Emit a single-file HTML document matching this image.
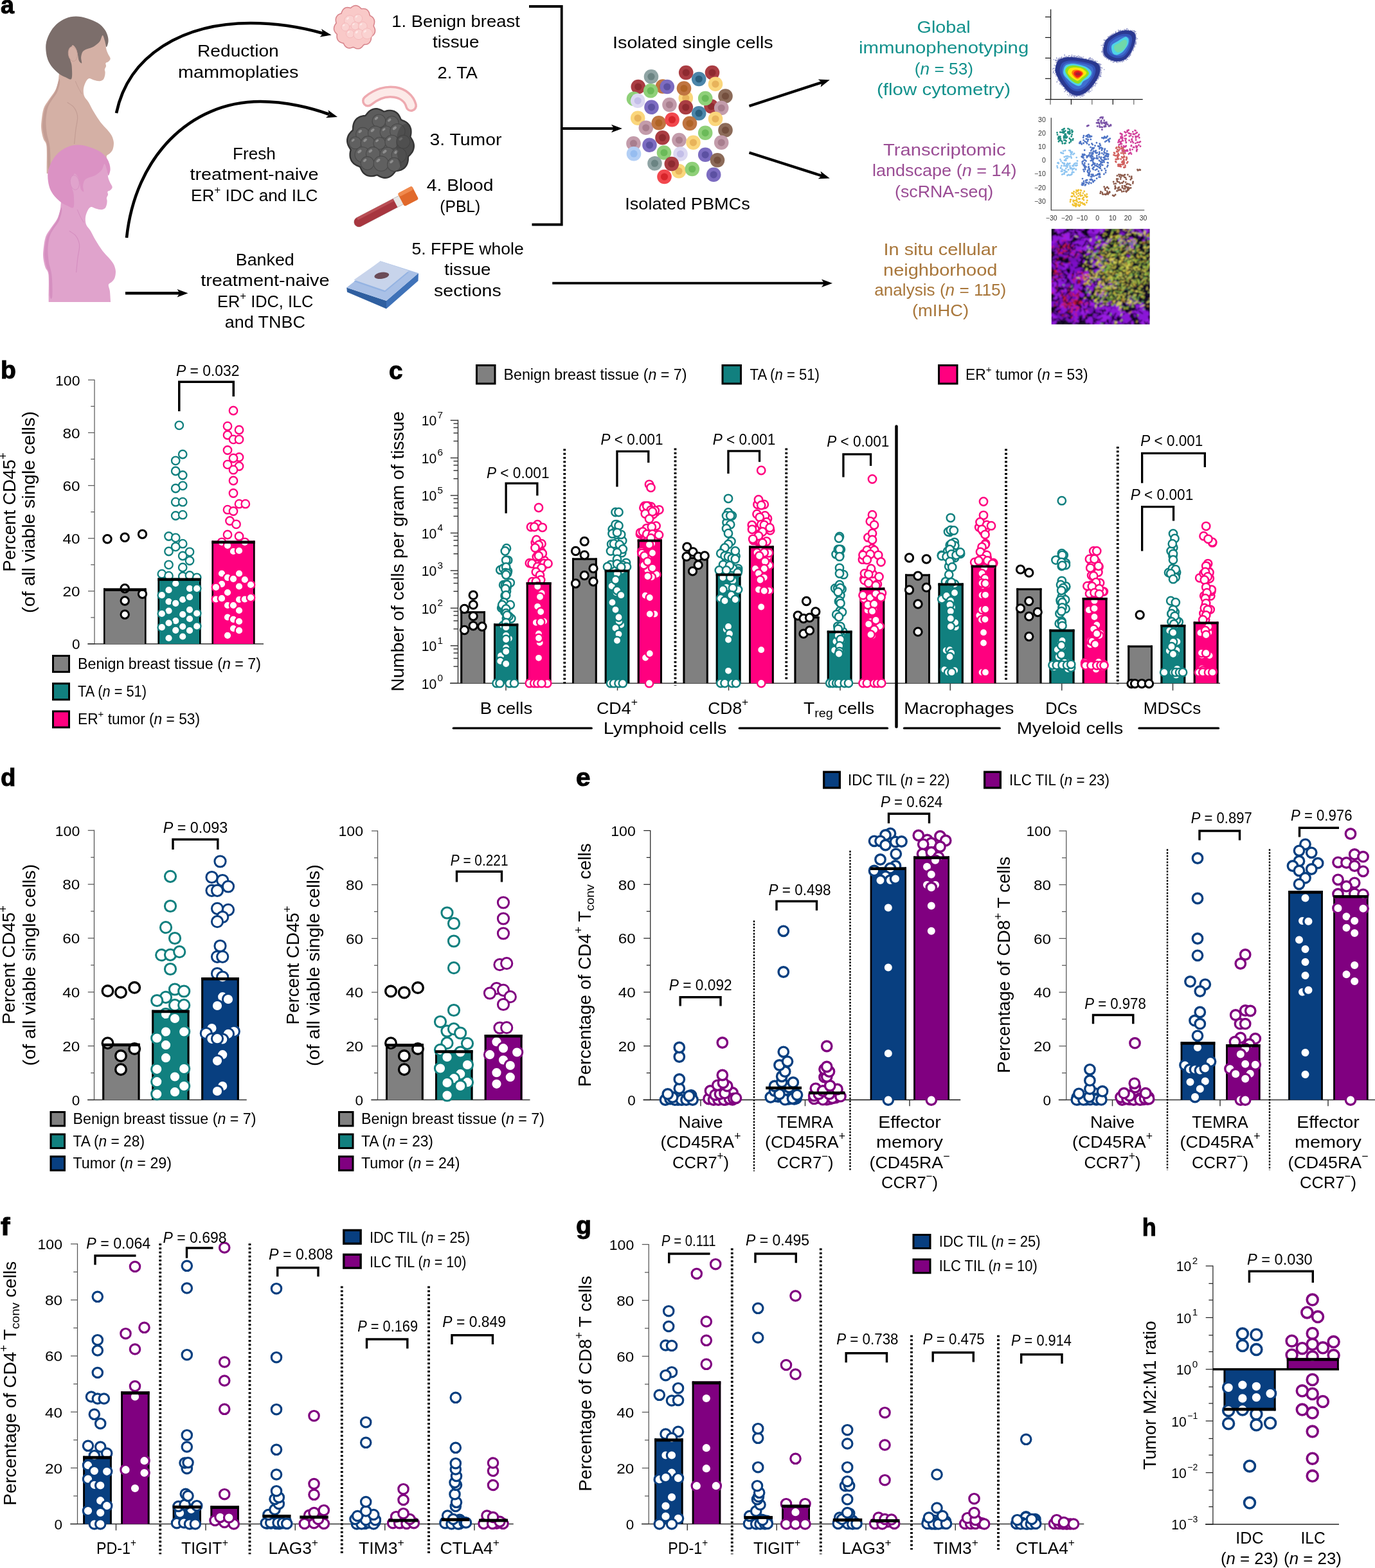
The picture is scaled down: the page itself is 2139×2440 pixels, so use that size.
<!DOCTYPE html>
<html lang="en"><head><meta charset="utf-8"><title>Figure</title>
<style>
html,body{margin:0;padding:0;background:#fff;}
body{width:2139px;height:2440px;overflow:hidden;}
svg{display:block;font-family:"Liberation Sans", sans-serif;}
svg text{white-space:pre;}
</style></head><body>
<svg width="2139" height="2440" viewBox="0 0 2139 2440">
<rect width="2139" height="2440" fill="#fff"/>
<g id="panel_a">
<text x="1" y="20.5" font-size="39" textLength="21" lengthAdjust="spacingAndGlyphs" font-weight="bold" stroke="#000" stroke-width="1">a</text>
<clipPath id="wc0"><rect x="0" y="0" width="260" height="270"/></clipPath>
<g transform="translate(0 0)" clip-path="url(#wc0)">
<path d="M159.6 54.9C167.0 57.8 163.2 63.3 164.2 66.8C165.1 70.3 164.5 73.1 165.2 76.1C165.9 79.0 167.3 82.1 168.4 84.6C169.5 87.2 171.7 89.3 171.7 91.2C171.7 93.2 169.6 95.0 168.4 96.1C167.2 97.3 165.0 97.1 164.4 98.2C163.9 99.4 165.2 101.5 165.0 103.1C164.7 104.8 163.1 106.5 162.9 108.0C162.6 109.6 163.6 110.6 163.6 112.4C163.6 114.1 163.4 116.7 162.9 118.6C162.3 120.5 161.8 122.6 160.5 123.9C159.1 125.1 157.1 126.2 154.7 126.2C152.2 126.3 148.5 125.1 145.7 124.4C142.9 123.7 140.2 121.4 138.0 122.3C135.8 123.1 133.8 126.6 132.5 129.6C131.1 132.5 130.0 136.7 129.8 140.1C129.7 143.6 130.0 147.1 131.4 150.3C132.8 153.5 135.6 155.6 138.0 159.5C140.4 163.5 142.6 168.7 145.7 173.8C148.7 178.9 152.7 185.3 156.2 189.9C159.8 194.6 163.9 198.3 166.8 201.8C169.7 205.3 172.0 207.8 173.7 211.1C175.4 214.4 176.5 218.1 176.9 221.6C177.2 225.1 176.5 229.3 175.5 232.2C174.5 235.1 172.4 237.0 170.8 238.8C169.2 240.6 166.2 240.8 165.8 243.2C165.3 245.5 167.3 248.1 167.9 253.1C168.4 258.0 169.0 269.1 169.2 272.9C169.4 276.6 169.2 268.5 169.2 275.5C169.2 282.6 185.2 308.5 169.2 315.2C153.2 321.8 89.1 321.8 73.0 315.2C57.0 308.5 72.8 284.5 72.8 275.5C72.7 266.5 72.7 269.0 72.6 261.0C72.6 253.0 73.2 234.8 72.4 227.3C71.5 219.8 68.8 220.4 67.5 216.1C66.1 211.8 64.8 206.3 64.3 201.5C63.8 196.8 64.0 193.2 64.6 187.7C65.2 182.2 66.1 173.9 68.0 168.5C69.9 163.1 73.1 159.7 75.9 155.3C78.8 150.9 82.8 146.5 85.2 142.1C87.6 137.7 89.1 133.3 90.2 128.9C91.3 124.5 90.9 124.5 91.8 115.7C92.7 106.9 90.9 87.1 95.5 76.1C100.1 65.0 108.6 53.2 119.3 49.6C129.9 46.1 152.1 52.1 159.6 54.9Z" fill="#d4b0a5" />
<path d="M91.8 123.6C90.6 125.8 88.7 136.6 86.2 142.1C83.8 147.6 79.7 152.0 77.0 156.6C74.2 161.3 71.5 164.6 69.7 169.8C68.0 175.1 67.0 183.1 66.4 188.3C65.9 193.6 65.9 196.9 66.4 201.5C67.0 206.2 68.6 211.9 69.7 216.1C70.9 220.3 72.5 219.2 73.3 226.6C74.1 234.1 73.8 255.3 74.6 261.0C75.4 266.7 77.8 266.3 78.3 261.0C78.8 255.7 78.5 238.1 77.6 229.3C76.8 220.5 74.1 215.0 73.0 208.2C72.0 201.3 71.3 194.9 71.4 188.3C71.6 181.7 72.5 174.0 74.1 168.5C75.7 163.0 78.5 159.5 81.0 155.3C83.4 151.1 86.9 147.8 88.9 143.4C90.9 139.0 92.6 132.2 93.1 128.9C93.6 125.6 92.9 121.4 91.8 123.6Z" fill="#c39d94" />
<path d="M104.7 159.3C106.3 160.4 111.6 163.2 114.0 165.9C116.4 168.5 118.2 172.0 119.3 175.1C120.4 178.2 120.8 180.0 120.6 184.4C120.4 188.8 118.8 194.9 117.9 201.5C117.1 208.2 116.0 220.3 115.6 224.0" fill="none" stroke="#c39d94" stroke-width="1.2" />
<path d="M117.3 126.2C118.0 128.0 120.3 133.5 121.9 136.8C123.6 140.1 126.3 144.5 127.2 146.1" fill="none" stroke="#c39d94" stroke-width="1" />
<path d="M111.3 122.5C109.7 125.5 105.4 121.6 102.1 120.3C98.8 119.0 95.3 117.6 91.5 114.6C87.8 111.7 82.7 106.7 79.6 102.5C76.6 98.2 74.7 94.8 73.3 89.3C71.9 83.8 70.8 75.6 71.4 69.4C72.1 63.3 74.3 57.5 77.0 52.3C79.7 47.0 83.4 41.9 87.6 38.0C91.7 34.1 97.0 30.8 102.1 28.8C107.2 26.7 112.4 25.6 117.9 25.6C123.4 25.5 129.4 26.8 135.1 28.5C140.8 30.2 147.7 32.9 152.3 35.8C156.9 38.7 160.3 42.5 162.9 45.9C165.4 49.3 166.7 53.0 167.6 56.2C168.5 59.5 168.8 62.7 168.4 65.5C168.0 68.3 166.4 73.5 165.5 73.1C164.6 72.8 164.1 66.5 163.1 63.5C162.1 60.5 160.9 54.8 159.6 54.9C158.2 55.1 157.5 61.5 155.2 64.4C152.9 67.3 149.0 70.4 145.7 72.4C142.4 74.3 138.2 75.0 135.4 76.3C132.6 77.6 130.3 78.1 128.8 80.3C127.2 82.4 126.4 86.3 126.1 89.3C125.9 92.3 127.7 97.3 127.2 98.2C126.7 99.2 124.0 97.1 123.0 94.8C121.9 92.5 121.7 87.5 120.8 84.2C120.0 80.9 119.4 77.2 117.9 75.0C116.5 72.8 113.5 68.7 112.0 71.0C110.5 73.4 108.8 84.0 108.7 89.3C108.6 94.5 111.2 96.9 111.6 102.5C112.0 108.0 112.9 119.6 111.3 122.5Z" fill="#7c6e6b" />
<ellipse cx="113.3" cy="84.0" rx="7" ry="11.5" fill="#d4b0a5" stroke="#c39d94" stroke-width="0.8" transform="rotate(-8 113.3 84.0)"/>
</g>
<clipPath id="wc200"><rect x="0" y="0" width="260" height="270"/></clipPath>
<g transform="translate(3 200)" clip-path="url(#wc200)">
<path d="M159.6 54.9C167.0 57.8 163.2 63.3 164.2 66.8C165.1 70.3 164.5 73.1 165.2 76.1C165.9 79.0 167.3 82.1 168.4 84.6C169.5 87.2 171.7 89.3 171.7 91.2C171.7 93.2 169.6 95.0 168.4 96.1C167.2 97.3 165.0 97.1 164.4 98.2C163.9 99.4 165.2 101.5 165.0 103.1C164.7 104.8 163.1 106.5 162.9 108.0C162.6 109.6 163.6 110.6 163.6 112.4C163.6 114.1 163.4 116.7 162.9 118.6C162.3 120.5 161.8 122.6 160.5 123.9C159.1 125.1 157.1 126.2 154.7 126.2C152.2 126.3 148.5 125.1 145.7 124.4C142.9 123.7 140.2 121.4 138.0 122.3C135.8 123.1 133.8 126.6 132.5 129.6C131.1 132.5 130.0 136.7 129.8 140.1C129.7 143.6 130.0 147.1 131.4 150.3C132.8 153.5 135.6 155.6 138.0 159.5C140.4 163.5 142.6 168.7 145.7 173.8C148.7 178.9 152.7 185.3 156.2 189.9C159.8 194.6 163.9 198.3 166.8 201.8C169.7 205.3 172.0 207.8 173.7 211.1C175.4 214.4 176.5 218.1 176.9 221.6C177.2 225.1 176.5 229.3 175.5 232.2C174.5 235.1 172.4 237.0 170.8 238.8C169.2 240.6 166.2 240.8 165.8 243.2C165.3 245.5 167.3 248.1 167.9 253.1C168.4 258.0 169.0 269.1 169.2 272.9C169.4 276.6 169.2 268.5 169.2 275.5C169.2 282.6 185.2 308.5 169.2 315.2C153.2 321.8 89.1 321.8 73.0 315.2C57.0 308.5 72.8 284.5 72.8 275.5C72.7 266.5 72.7 269.0 72.6 261.0C72.6 253.0 73.2 234.8 72.4 227.3C71.5 219.8 68.8 220.4 67.5 216.1C66.1 211.8 64.8 206.3 64.3 201.5C63.8 196.8 64.0 193.2 64.6 187.7C65.2 182.2 66.1 173.9 68.0 168.5C69.9 163.1 73.1 159.7 75.9 155.3C78.8 150.9 82.8 146.5 85.2 142.1C87.6 137.7 89.1 133.3 90.2 128.9C91.3 124.5 90.9 124.5 91.8 115.7C92.7 106.9 90.9 87.1 95.5 76.1C100.1 65.0 108.6 53.2 119.3 49.6C129.9 46.1 152.1 52.1 159.6 54.9Z" fill="#e0a3cc" />
<path d="M91.8 123.6C90.6 125.8 88.7 136.6 86.2 142.1C83.8 147.6 79.7 152.0 77.0 156.6C74.2 161.3 71.5 164.6 69.7 169.8C68.0 175.1 67.0 183.1 66.4 188.3C65.9 193.6 65.9 196.9 66.4 201.5C67.0 206.2 68.6 211.9 69.7 216.1C70.9 220.3 72.5 219.2 73.3 226.6C74.1 234.1 73.8 255.3 74.6 261.0C75.4 266.7 77.8 266.3 78.3 261.0C78.8 255.7 78.5 238.1 77.6 229.3C76.8 220.5 74.1 215.0 73.0 208.2C72.0 201.3 71.3 194.9 71.4 188.3C71.6 181.7 72.5 174.0 74.1 168.5C75.7 163.0 78.5 159.5 81.0 155.3C83.4 151.1 86.9 147.8 88.9 143.4C90.9 139.0 92.6 132.2 93.1 128.9C93.6 125.6 92.9 121.4 91.8 123.6Z" fill="#d58fc0" />
<path d="M104.7 159.3C106.3 160.4 111.6 163.2 114.0 165.9C116.4 168.5 118.2 172.0 119.3 175.1C120.4 178.2 120.8 180.0 120.6 184.4C120.4 188.8 118.8 194.9 117.9 201.5C117.1 208.2 116.0 220.3 115.6 224.0" fill="none" stroke="#d58fc0" stroke-width="1.2" />
<path d="M117.3 126.2C118.0 128.0 120.3 133.5 121.9 136.8C123.6 140.1 126.3 144.5 127.2 146.1" fill="none" stroke="#d58fc0" stroke-width="1" />
<path d="M111.3 122.5C109.7 125.5 105.4 121.6 102.1 120.3C98.8 119.0 95.3 117.6 91.5 114.6C87.8 111.7 82.7 106.7 79.6 102.5C76.6 98.2 74.7 94.8 73.3 89.3C71.9 83.8 70.8 75.6 71.4 69.4C72.1 63.3 74.3 57.5 77.0 52.3C79.7 47.0 83.4 41.9 87.6 38.0C91.7 34.1 97.0 30.8 102.1 28.8C107.2 26.7 112.4 25.6 117.9 25.6C123.4 25.5 129.4 26.8 135.1 28.5C140.8 30.2 147.7 32.9 152.3 35.8C156.9 38.7 160.3 42.5 162.9 45.9C165.4 49.3 166.7 53.0 167.6 56.2C168.5 59.5 168.8 62.7 168.4 65.5C168.0 68.3 166.4 73.5 165.5 73.1C164.6 72.8 164.1 66.5 163.1 63.5C162.1 60.5 160.9 54.8 159.6 54.9C158.2 55.1 157.5 61.5 155.2 64.4C152.9 67.3 149.0 70.4 145.7 72.4C142.4 74.3 138.2 75.0 135.4 76.3C132.6 77.6 130.3 78.1 128.8 80.3C127.2 82.4 126.4 86.3 126.1 89.3C125.9 92.3 127.7 97.3 127.2 98.2C126.7 99.2 124.0 97.1 123.0 94.8C121.9 92.5 121.7 87.5 120.8 84.2C120.0 80.9 119.4 77.2 117.9 75.0C116.5 72.8 113.5 68.7 112.0 71.0C110.5 73.4 108.8 84.0 108.7 89.3C108.6 94.5 111.2 96.9 111.6 102.5C112.0 108.0 112.9 119.6 111.3 122.5Z" fill="#db92c4" />
<ellipse cx="113.3" cy="84.0" rx="7" ry="11.5" fill="#e0a3cc" stroke="#d58fc0" stroke-width="0.8" transform="rotate(-8 113.3 84.0)"/>
</g>
<path d="M181 176C200 85 285 36 390 36C435 36 475 44 503 52" fill="none" stroke="#000" stroke-width="4.6"/>
<polygon points="515.5,54.5 500.0,45.1 502.7,52.0 497.6,57.4" fill="#000"/>
<path d="M197 370C210 245 295 158 405 158C445 158 485 168 512 178" fill="none" stroke="#000" stroke-width="4.6"/>
<polygon points="525.0,182.0 510.4,171.3 512.5,178.4 506.9,183.3" fill="#000"/>
<line x1="195" y1="456.3" x2="280" y2="456.3" stroke="#000" stroke-width="4.6" stroke-linecap="butt"/>
<polygon points="292.5,456.3 275.5,450.1 279.5,456.3 275.5,462.6" fill="#000"/>
<text x="307" y="87.5" font-size="25.5" textLength="126.75" lengthAdjust="spacingAndGlyphs" >Reduction</text>
<text x="277" y="120.75" font-size="25.5" textLength="187.5" lengthAdjust="spacingAndGlyphs" >mammoplaties</text>
<text x="362" y="247.5" font-size="25.5" textLength="66.75" lengthAdjust="spacingAndGlyphs" >Fresh</text>
<text x="295.5" y="280" font-size="25.5" textLength="200" lengthAdjust="spacingAndGlyphs" >treatment-naive</text>
<text x="297" y="312.5" font-size="25.5" textLength="197.3" lengthAdjust="spacingAndGlyphs" >ER<tspan dy="-11.98" font-size="16.83">+</tspan><tspan dy="11.98"> IDC and ILC</tspan></text>
<text x="366.8" y="412.5" font-size="25.5" textLength="91" lengthAdjust="spacingAndGlyphs" >Banked</text>
<text x="312.2" y="445" font-size="25.5" textLength="200.3" lengthAdjust="spacingAndGlyphs" >treatment-naive</text>
<text x="338.1" y="477.5" font-size="25.5" textLength="149.3" lengthAdjust="spacingAndGlyphs" >ER<tspan dy="-11.98" font-size="16.83">+</tspan><tspan dy="11.98"> IDC, ILC</tspan></text>
<text x="349.7" y="510" font-size="25.5" textLength="125.2" lengthAdjust="spacingAndGlyphs" >and TNBC</text>
<path d="M582.2 42.5L582.9 44.2L583.4 46.0L583.5 47.8L583.4 49.6L582.9 51.2L582.1 52.8L581.0 54.3L579.7 55.5L578.2 56.6L577.5 58.1L577.4 59.9L577.1 61.8L576.5 63.5L575.7 65.1L574.6 66.5L573.3 67.6L571.8 68.4L570.1 69.0L568.4 69.3L566.6 69.4L565.3 70.3L564.2 71.8L563.0 73.2L561.6 74.3L560.1 75.2L558.5 75.7L556.8 75.8L555.1 75.7L553.4 75.2L551.8 74.4L550.2 73.5L548.6 73.6L547.0 74.3L545.2 74.7L543.5 74.9L541.8 74.7L540.2 74.2L538.7 73.3L537.3 72.2L536.2 70.8L535.2 69.2L534.4 67.5L532.9 66.9L531.2 66.5L529.5 65.8L528.0 64.9L526.7 63.8L525.6 62.4L524.8 60.8L524.3 59.1L524.1 57.3L524.1 55.4L524.3 53.5L523.2 52.2L522.0 50.9L520.9 49.4L520.1 47.8L519.6 46.0L519.5 44.3L519.7 42.5L520.2 40.8L520.9 39.1L521.9 37.5L523.1 36.1L522.7 34.3L522.4 32.5L522.3 30.6L522.5 28.8L523.0 27.1L523.8 25.6L524.9 24.2L526.2 23.0L527.7 22.1L529.4 21.4L531.0 20.8L531.6 19.0L532.3 17.3L533.2 15.7L534.3 14.3L535.6 13.2L537.1 12.3L538.7 11.8L540.4 11.6L542.2 11.7L544.0 12.1L545.6 12.4L547.0 11.2L548.5 10.1L550.1 9.3L551.8 8.8L553.4 8.6L555.1 8.8L556.8 9.4L558.3 10.2L559.7 11.3L561.0 12.6L562.3 13.7L564.1 13.5L565.9 13.5L567.6 13.7L569.3 14.2L570.8 15.1L572.1 16.2L573.1 17.6L574.0 19.2L574.6 21.0L575.0 22.8L575.6 24.3L577.2 25.1L578.7 26.2L580.1 27.4L581.1 28.8L581.9 30.3L582.4 32.0L582.6 33.8L582.4 35.7L582.0 37.5L581.4 39.2L581.3 40.9Z" fill="#f9c9c8" stroke="#d8858c" stroke-width="1.6" />
<circle cx="544.0" cy="32.2" r="8.4" fill="#fad2d1" stroke="#f2b4b6" stroke-width="0.8"/><ellipse cx="540.9" cy="28.7" rx="2.5" ry="1.4" fill="#fde9e8" transform="rotate(-40 540.9 28.7)"/><circle cx="557.0" cy="28.7" r="6.6" fill="#fad2d1" stroke="#f2b4b6" stroke-width="0.8"/><ellipse cx="554.5" cy="25.9" rx="2.0" ry="1.1" fill="#fde9e8" transform="rotate(-40 554.5 25.9)"/><circle cx="537.2" cy="42.0" r="6.3" fill="#fad2d1" stroke="#f2b4b6" stroke-width="0.8"/><ellipse cx="534.8" cy="39.4" rx="1.9" ry="1.1" fill="#fde9e8" transform="rotate(-40 534.8 39.4)"/><circle cx="552.4" cy="40.3" r="6.2" fill="#fad2d1" stroke="#f2b4b6" stroke-width="0.8"/><ellipse cx="550.1" cy="37.7" rx="1.9" ry="1.0" fill="#fde9e8" transform="rotate(-40 550.1 37.7)"/><circle cx="564.3" cy="40.8" r="6.9" fill="#fad2d1" stroke="#f2b4b6" stroke-width="0.8"/><ellipse cx="561.7" cy="37.9" rx="2.1" ry="1.2" fill="#fde9e8" transform="rotate(-40 561.7 37.9)"/><circle cx="544.7" cy="52.6" r="6.3" fill="#fad2d1" stroke="#f2b4b6" stroke-width="0.8"/><ellipse cx="542.3" cy="50.0" rx="1.9" ry="1.1" fill="#fde9e8" transform="rotate(-40 542.3 50.0)"/><circle cx="558.0" cy="53.5" r="8.1" fill="#fad2d1" stroke="#f2b4b6" stroke-width="0.8"/><ellipse cx="554.9" cy="50.1" rx="2.4" ry="1.4" fill="#fde9e8" transform="rotate(-40 554.9 50.1)"/><circle cx="571.1" cy="52.3" r="8.4" fill="#fad2d1" stroke="#f2b4b6" stroke-width="0.8"/><ellipse cx="567.9" cy="48.8" rx="2.5" ry="1.4" fill="#fde9e8" transform="rotate(-40 567.9 48.8)"/>
<path d="M572.5 157C600 133.5 634 142 639.5 164.5" fill="none" stroke="#eeaab0" stroke-width="19" stroke-linecap="round"/>
<path d="M572.5 157C600 133.5 634 142 639.5 164.5" fill="none" stroke="#fceae8" stroke-width="12" stroke-linecap="round"/>
<clipPath id="tc"><path d="M643.3 223.0L643.8 225.8L643.8 228.7L643.3 231.5L642.4 234.2L641.1 236.8L639.4 239.1L637.4 241.3L635.3 243.2L634.9 245.9L634.8 248.9L634.3 251.8L633.5 254.6L632.3 257.2L630.7 259.5L628.7 261.5L626.5 263.1L624.0 264.4L621.3 265.2L618.5 265.8L615.7 266.0L613.9 268.0L612.1 270.3L610.1 272.4L607.9 274.1L605.4 275.5L602.8 276.4L600.1 276.8L597.4 276.7L594.7 276.2L592.0 275.2L589.5 273.9L587.1 272.4L584.5 272.9L581.7 273.7L578.9 274.1L576.1 274.1L573.4 273.7L570.8 272.9L568.4 271.5L566.2 269.8L564.3 267.7L562.7 265.2L561.4 262.6L560.3 259.9L557.9 258.7L555.3 257.7L552.8 256.3L550.5 254.6L548.5 252.6L546.9 250.3L545.7 247.7L544.9 245.0L544.6 242.1L544.6 239.1L545.0 236.2L545.7 233.3L544.4 230.9L542.9 228.4L541.6 225.8L540.7 223.0L540.2 220.2L540.2 217.3L540.7 214.5L541.6 211.8L542.9 209.2L544.6 206.9L546.6 204.7L548.7 202.8L549.1 200.1L549.2 197.1L549.7 194.2L550.5 191.4L551.7 188.8L553.3 186.5L555.3 184.5L557.5 182.9L560.0 181.6L562.7 180.8L565.5 180.2L568.3 180.0L570.1 178.0L571.9 175.7L573.9 173.6L576.1 171.9L578.6 170.5L581.2 169.6L583.9 169.2L586.6 169.3L589.3 169.8L592.0 170.8L594.5 172.1L596.9 173.6L599.5 173.1L602.3 172.3L605.1 171.9L607.9 171.9L610.6 172.3L613.2 173.1L615.6 174.5L617.8 176.2L619.7 178.3L621.3 180.8L622.6 183.4L623.7 186.1L626.1 187.3L628.7 188.3L631.2 189.7L633.5 191.4L635.5 193.4L637.1 195.7L638.3 198.3L639.1 201.0L639.4 203.9L639.4 206.9L639.0 209.8L638.3 212.7L639.6 215.1L641.1 217.6L642.4 220.2Z"/></clipPath>
<path d="M643.3 223.0L643.8 225.8L643.8 228.7L643.3 231.5L642.4 234.2L641.1 236.8L639.4 239.1L637.4 241.3L635.3 243.2L634.9 245.9L634.8 248.9L634.3 251.8L633.5 254.6L632.3 257.2L630.7 259.5L628.7 261.5L626.5 263.1L624.0 264.4L621.3 265.2L618.5 265.8L615.7 266.0L613.9 268.0L612.1 270.3L610.1 272.4L607.9 274.1L605.4 275.5L602.8 276.4L600.1 276.8L597.4 276.7L594.7 276.2L592.0 275.2L589.5 273.9L587.1 272.4L584.5 272.9L581.7 273.7L578.9 274.1L576.1 274.1L573.4 273.7L570.8 272.9L568.4 271.5L566.2 269.8L564.3 267.7L562.7 265.2L561.4 262.6L560.3 259.9L557.9 258.7L555.3 257.7L552.8 256.3L550.5 254.6L548.5 252.6L546.9 250.3L545.7 247.7L544.9 245.0L544.6 242.1L544.6 239.1L545.0 236.2L545.7 233.3L544.4 230.9L542.9 228.4L541.6 225.8L540.7 223.0L540.2 220.2L540.2 217.3L540.7 214.5L541.6 211.8L542.9 209.2L544.6 206.9L546.6 204.7L548.7 202.8L549.1 200.1L549.2 197.1L549.7 194.2L550.5 191.4L551.7 188.8L553.3 186.5L555.3 184.5L557.5 182.9L560.0 181.6L562.7 180.8L565.5 180.2L568.3 180.0L570.1 178.0L571.9 175.7L573.9 173.6L576.1 171.9L578.6 170.5L581.2 169.6L583.9 169.2L586.6 169.3L589.3 169.8L592.0 170.8L594.5 172.1L596.9 173.6L599.5 173.1L602.3 172.3L605.1 171.9L607.9 171.9L610.6 172.3L613.2 173.1L615.6 174.5L617.8 176.2L619.7 178.3L621.3 180.8L622.6 183.4L623.7 186.1L626.1 187.3L628.7 188.3L631.2 189.7L633.5 191.4L635.5 193.4L637.1 195.7L638.3 198.3L639.1 201.0L639.4 203.9L639.4 206.9L639.0 209.8L638.3 212.7L639.6 215.1L641.1 217.6L642.4 220.2Z" fill="#5c5c5c" stroke="#343434" stroke-width="2.4" />
<g clip-path="url(#tc)">
<circle cx="589.5" cy="188.4" r="10.4" fill="#606060" stroke="#4a4a4a" stroke-width="1.1"/><ellipse cx="585.5" cy="184.1" rx="3.1" ry="1.8" fill="#8e8e8e" transform="rotate(-40 585.5 184.1)"/><circle cx="609.8" cy="191.2" r="10.4" fill="#606060" stroke="#4a4a4a" stroke-width="1.1"/><ellipse cx="605.8" cy="186.9" rx="3.1" ry="1.8" fill="#8e8e8e" transform="rotate(-40 605.8 186.9)"/><circle cx="564.2" cy="208.9" r="10.5" fill="#606060" stroke="#4a4a4a" stroke-width="1.1"/><ellipse cx="560.2" cy="204.5" rx="3.2" ry="1.8" fill="#8e8e8e" transform="rotate(-40 560.2 204.5)"/><circle cx="583.9" cy="207.5" r="11.4" fill="#606060" stroke="#4a4a4a" stroke-width="1.1"/><ellipse cx="579.6" cy="202.7" rx="3.4" ry="1.9" fill="#8e8e8e" transform="rotate(-40 579.6 202.7)"/><circle cx="600.8" cy="205.7" r="9.7" fill="#606060" stroke="#4a4a4a" stroke-width="1.1"/><ellipse cx="597.1" cy="201.6" rx="2.9" ry="1.6" fill="#8e8e8e" transform="rotate(-40 597.1 201.6)"/><circle cx="618.4" cy="204.3" r="11.7" fill="#606060" stroke="#4a4a4a" stroke-width="1.1"/><ellipse cx="613.9" cy="199.4" rx="3.5" ry="2.0" fill="#8e8e8e" transform="rotate(-40 613.9 199.4)"/><circle cx="552.8" cy="222.3" r="9.5" fill="#606060" stroke="#4a4a4a" stroke-width="1.1"/><ellipse cx="549.2" cy="218.3" rx="2.9" ry="1.6" fill="#8e8e8e" transform="rotate(-40 549.2 218.3)"/><circle cx="572.2" cy="222.9" r="11.0" fill="#606060" stroke="#4a4a4a" stroke-width="1.1"/><ellipse cx="568.0" cy="218.2" rx="3.3" ry="1.9" fill="#8e8e8e" transform="rotate(-40 568.0 218.2)"/><circle cx="590.3" cy="223.0" r="9.5" fill="#606060" stroke="#4a4a4a" stroke-width="1.1"/><ellipse cx="586.6" cy="219.0" rx="2.9" ry="1.6" fill="#8e8e8e" transform="rotate(-40 586.6 219.0)"/><circle cx="609.6" cy="220.9" r="10.7" fill="#606060" stroke="#4a4a4a" stroke-width="1.1"/><ellipse cx="605.5" cy="216.5" rx="3.2" ry="1.8" fill="#8e8e8e" transform="rotate(-40 605.5 216.5)"/><circle cx="627.5" cy="220.6" r="10.4" fill="#606060" stroke="#4a4a4a" stroke-width="1.1"/><ellipse cx="623.5" cy="216.2" rx="3.1" ry="1.8" fill="#8e8e8e" transform="rotate(-40 623.5 216.2)"/><circle cx="563.9" cy="240.7" r="11.9" fill="#606060" stroke="#4a4a4a" stroke-width="1.1"/><ellipse cx="559.4" cy="235.7" rx="3.6" ry="2.0" fill="#8e8e8e" transform="rotate(-40 559.4 235.7)"/><circle cx="580.4" cy="239.6" r="11.0" fill="#606060" stroke="#4a4a4a" stroke-width="1.1"/><ellipse cx="576.3" cy="235.0" rx="3.3" ry="1.9" fill="#8e8e8e" transform="rotate(-40 576.3 235.0)"/><circle cx="602.9" cy="241.1" r="12.0" fill="#606060" stroke="#4a4a4a" stroke-width="1.1"/><ellipse cx="598.4" cy="236.0" rx="3.6" ry="2.0" fill="#8e8e8e" transform="rotate(-40 598.4 236.0)"/><circle cx="620.7" cy="241.5" r="11.5" fill="#606060" stroke="#4a4a4a" stroke-width="1.1"/><ellipse cx="616.3" cy="236.6" rx="3.5" ry="2.0" fill="#8e8e8e" transform="rotate(-40 616.3 236.6)"/><circle cx="571.5" cy="253.9" r="10.3" fill="#606060" stroke="#4a4a4a" stroke-width="1.1"/><ellipse cx="567.6" cy="249.6" rx="3.1" ry="1.8" fill="#8e8e8e" transform="rotate(-40 567.6 249.6)"/><circle cx="592.9" cy="254.6" r="11.7" fill="#606060" stroke="#4a4a4a" stroke-width="1.1"/><ellipse cx="588.4" cy="249.7" rx="3.5" ry="2.0" fill="#8e8e8e" transform="rotate(-40 588.4 249.7)"/><circle cx="613.1" cy="256.0" r="10.6" fill="#606060" stroke="#4a4a4a" stroke-width="1.1"/><ellipse cx="609.1" cy="251.6" rx="3.2" ry="1.8" fill="#8e8e8e" transform="rotate(-40 609.1 251.6)"/>
<ellipse cx="640" cy="240" rx="22" ry="48" fill="#3c3c3c" opacity="0.45" transform="rotate(-12 640 240)"/>
</g>
<g transform="translate(558.3 345.5) rotate(-27.6)">
<path d="M0 -7.5H78V7.5H0A7.5 7.5 0 0 1 0 -7.5Z" fill="#e9e7e6" stroke="#b9b5b4" stroke-width="0.8"/>
<path d="M0 -7.5H64V7.5H0A7.5 7.5 0 0 1 0 -7.5Z" fill="#a7363f"/>
<rect x="0" y="-7.5" width="64" height="4" fill="#c25a5f" opacity="0.7"/>
<rect x="74" y="-11.5" width="25" height="23" rx="3" fill="#e1692b"/>
<rect x="74" y="-11.5" width="25" height="6" rx="3" fill="#f08a4e"/>
</g>
<polygon points="539.2,447.5 601.0,468.0 601.0,480.5 540.0,454.5" fill="#2f5fa0"/>
<polygon points="601.0,468.0 651.0,425.0 650.5,437.0 601.0,480.5" fill="#3f72b8"/>
<polygon points="539.2,447.5 591.8,406.2 651.0,425.0 601.0,468.0" fill="#a9c0e6"/>
<polygon points="550.5,438.0 591.8,409.0 636.0,423.8 598.8,454.5" fill="#94b3e2"/>
<polygon points="550.5,435.5 591.8,406.5 636.0,421.2 598.8,452.0" fill="#c8d4eb"/>
<ellipse cx="593.8" cy="428.8" rx="11.5" ry="5" fill="#6b4c58" transform="rotate(-8 593.8 428.8)"/>
<text x="609.25" y="42" font-size="25.5" textLength="199.5" lengthAdjust="spacingAndGlyphs" >1. Benign breast</text>
<text x="673" y="73.75" font-size="25.5" textLength="72.5" lengthAdjust="spacingAndGlyphs" >tissue</text>
<text x="680.5" y="122" font-size="25.5" textLength="62.5" lengthAdjust="spacingAndGlyphs" >2. TA</text>
<text x="668.5" y="225.5" font-size="25.5" textLength="112" lengthAdjust="spacingAndGlyphs" >3. Tumor</text>
<text x="663.75" y="297" font-size="25.5" textLength="103.75" lengthAdjust="spacingAndGlyphs" >4. Blood</text>
<text x="684.25" y="329.5" font-size="25.5" textLength="63" lengthAdjust="spacingAndGlyphs" >(PBL)</text>
<text x="640.5" y="395.75" font-size="25.5" textLength="174.25" lengthAdjust="spacingAndGlyphs" >5. FFPE whole</text>
<text x="691.25" y="428.25" font-size="25.5" textLength="72.25" lengthAdjust="spacingAndGlyphs" >tissue</text>
<text x="675" y="460.75" font-size="25.5" textLength="104.75" lengthAdjust="spacingAndGlyphs" >sections</text>
<path d="M823 10H873.75V349.5H827.5" fill="none" stroke="#000" stroke-width="3.8"/>
<line x1="873.75" y1="200" x2="955" y2="200" stroke="#000" stroke-width="3.8" stroke-linecap="butt"/>
<polygon points="968.0,200.0 951.0,193.8 955.0,200.0 951.0,206.2" fill="#000"/>
<line x1="859.25" y1="440.7" x2="1282" y2="440.7" stroke="#000" stroke-width="3.8" stroke-linecap="butt"/>
<polygon points="1295.0,440.7 1278.0,434.4 1282.0,440.7 1278.0,446.9" fill="#000"/>
<line x1="1165.5" y1="165" x2="1279" y2="128" stroke="#000" stroke-width="4.2" stroke-linecap="butt"/>
<polygon points="1290.8,124.2 1272.7,123.5 1278.4,128.2 1276.6,135.4" fill="#000"/>
<line x1="1165.5" y1="237.5" x2="1279" y2="273.7" stroke="#000" stroke-width="4.2" stroke-linecap="butt"/>
<polygon points="1290.8,277.5 1276.5,266.4 1278.4,273.5 1272.7,278.3" fill="#000"/>
<text x="953" y="75" font-size="26" textLength="249.75" lengthAdjust="spacingAndGlyphs" >Isolated single cells</text>
<text x="972.25" y="326.25" font-size="26" textLength="194.5" lengthAdjust="spacingAndGlyphs" >Isolated PBMCs</text>
<circle cx="1013.0" cy="119.2" r="11.3" fill="#8fa4a4"/><circle cx="1013.0" cy="119.2" r="5.6" fill="#6b8483"/><circle cx="1067.2" cy="113.0" r="11.3" fill="#aa3d43"/><circle cx="1067.2" cy="113.0" r="5.6" fill="#8e2a30"/><circle cx="1108.0" cy="113.0" r="11.3" fill="#aa3d43"/><circle cx="1108.0" cy="113.0" r="5.6" fill="#8e2a30"/><circle cx="1087.2" cy="123.0" r="11.3" fill="#4b85a9"/><circle cx="1087.2" cy="123.0" r="5.6" fill="#2a5f7e"/><circle cx="992.8" cy="135.0" r="11.3" fill="#aa3d43"/><circle cx="992.8" cy="135.0" r="5.6" fill="#8e2a30"/><circle cx="1031.0" cy="134.5" r="11.3" fill="#c07541"/><circle cx="1031.0" cy="134.5" r="5.6" fill="#b06427"/><circle cx="1012.2" cy="141.2" r="11.3" fill="#8fd079"/><circle cx="1012.2" cy="141.2" r="5.6" fill="#6bba59"/><circle cx="1037.8" cy="135.0" r="11.3" fill="#7c6cc1"/><circle cx="1037.8" cy="135.0" r="5.6" fill="#5c51a2"/><circle cx="1066.8" cy="152.5" r="11.3" fill="#fad67c"/><circle cx="1066.8" cy="152.5" r="5.6" fill="#e8b35b"/><circle cx="1064.0" cy="137.5" r="11.3" fill="#c07541"/><circle cx="1064.0" cy="137.5" r="5.6" fill="#b06427"/><circle cx="1113.0" cy="130.8" r="11.3" fill="#fad67c"/><circle cx="1113.0" cy="130.8" r="5.6" fill="#e8b35b"/><circle cx="1128.5" cy="149.5" r="11.3" fill="#8c6b59"/><circle cx="1128.5" cy="149.5" r="5.6" fill="#744f3e"/><circle cx="986.0" cy="153.8" r="11.3" fill="#8fd079"/><circle cx="986.0" cy="153.8" r="5.6" fill="#6bba59"/><circle cx="992.2" cy="156.8" r="11.3" fill="#dcd8f2"/><circle cx="992.2" cy="156.8" r="5.6" fill="#c3bee8"/><circle cx="1013.5" cy="166.8" r="11.3" fill="#7c6cc1"/><circle cx="1013.5" cy="166.8" r="5.6" fill="#5c51a2"/><circle cx="1041.5" cy="163.0" r="11.3" fill="#c39cab"/><circle cx="1041.5" cy="163.0" r="5.6" fill="#a87e8e"/><circle cx="1106.5" cy="165.5" r="11.3" fill="#aa3d43"/><circle cx="1106.5" cy="165.5" r="5.6" fill="#8e2a30"/><circle cx="1097.2" cy="153.0" r="11.3" fill="#8fd079"/><circle cx="1097.2" cy="153.0" r="5.6" fill="#6bba59"/><circle cx="1066.8" cy="167.0" r="11.3" fill="#aa3d43"/><circle cx="1066.8" cy="167.0" r="5.6" fill="#8e2a30"/><circle cx="1122.2" cy="168.0" r="11.3" fill="#c39cab"/><circle cx="1122.2" cy="168.0" r="5.6" fill="#a87e8e"/><circle cx="1113.0" cy="185.0" r="11.3" fill="#fad67c"/><circle cx="1113.0" cy="185.0" r="5.6" fill="#e8b35b"/><circle cx="1087.2" cy="176.2" r="11.3" fill="#4b85a9"/><circle cx="1087.2" cy="176.2" r="5.6" fill="#2a5f7e"/><circle cx="992.2" cy="183.8" r="11.3" fill="#fad67c"/><circle cx="992.2" cy="183.8" r="5.6" fill="#e8b35b"/><circle cx="1004.8" cy="198.8" r="11.3" fill="#c39cab"/><circle cx="1004.8" cy="198.8" r="5.6" fill="#a87e8e"/><circle cx="1024.8" cy="191.2" r="11.3" fill="#c07541"/><circle cx="1024.8" cy="191.2" r="5.6" fill="#b06427"/><circle cx="1045.5" cy="186.2" r="11.3" fill="#f2484e"/><circle cx="1045.5" cy="186.2" r="5.6" fill="#d7252b"/><circle cx="1073.0" cy="192.0" r="11.3" fill="#c07541"/><circle cx="1073.0" cy="192.0" r="5.6" fill="#b06427"/><circle cx="1128.5" cy="202.5" r="11.3" fill="#8c6b59"/><circle cx="1128.5" cy="202.5" r="5.6" fill="#744f3e"/><circle cx="1097.2" cy="206.8" r="11.3" fill="#8fd079"/><circle cx="1097.2" cy="206.8" r="5.6" fill="#6bba59"/><circle cx="1030.5" cy="214.2" r="11.3" fill="#aa3d43"/><circle cx="1030.5" cy="214.2" r="5.6" fill="#8e2a30"/><circle cx="1056.5" cy="218.0" r="11.3" fill="#c39cab"/><circle cx="1056.5" cy="218.0" r="5.6" fill="#a87e8e"/><circle cx="985.5" cy="223.2" r="11.3" fill="#c39cab"/><circle cx="985.5" cy="223.2" r="5.6" fill="#a87e8e"/><circle cx="1010.5" cy="225.8" r="11.3" fill="#7c6cc1"/><circle cx="1010.5" cy="225.8" r="5.6" fill="#5c51a2"/><circle cx="1078.5" cy="221.8" r="11.3" fill="#fad67c"/><circle cx="1078.5" cy="221.8" r="5.6" fill="#e8b35b"/><circle cx="1122.2" cy="221.8" r="11.3" fill="#c39cab"/><circle cx="1122.2" cy="221.8" r="5.6" fill="#a87e8e"/><circle cx="986.0" cy="239.2" r="11.3" fill="#b3cff5"/><circle cx="986.0" cy="239.2" r="5.6" fill="#96bdf0"/><circle cx="1058.5" cy="239.5" r="11.3" fill="#dcd8f2"/><circle cx="1058.5" cy="239.5" r="5.6" fill="#c3bee8"/><circle cx="1033.0" cy="237.5" r="11.3" fill="#8fd079"/><circle cx="1033.0" cy="237.5" r="5.6" fill="#6bba59"/><circle cx="1097.2" cy="240.8" r="11.3" fill="#7c6cc1"/><circle cx="1097.2" cy="240.8" r="5.6" fill="#5c51a2"/><circle cx="1116.0" cy="249.2" r="11.3" fill="#8c6b59"/><circle cx="1116.0" cy="249.2" r="5.6" fill="#744f3e"/><circle cx="1018.5" cy="254.2" r="11.3" fill="#8fa4a4"/><circle cx="1018.5" cy="254.2" r="5.6" fill="#6b8483"/><circle cx="1056.0" cy="266.2" r="11.3" fill="#fad67c"/><circle cx="1056.0" cy="266.2" r="5.6" fill="#e8b35b"/><circle cx="1044.8" cy="255.0" r="11.3" fill="#aa3d43"/><circle cx="1044.8" cy="255.0" r="5.6" fill="#8e2a30"/><circle cx="1076.8" cy="263.0" r="11.3" fill="#8fd079"/><circle cx="1076.8" cy="263.0" r="5.6" fill="#6bba59"/><circle cx="1033.5" cy="275.0" r="11.3" fill="#f2484e"/><circle cx="1033.5" cy="275.0" r="5.6" fill="#d7252b"/><circle cx="1110.2" cy="271.8" r="11.3" fill="#7c6cc1"/><circle cx="1110.2" cy="271.8" r="5.6" fill="#5c51a2"/>
<text x="1426.5" y="50.5" font-size="26" textLength="83.25" lengthAdjust="spacingAndGlyphs" fill="#13918c" >Global</text>
<text x="1336" y="83.25" font-size="26" textLength="264.25" lengthAdjust="spacingAndGlyphs" fill="#13918c" >immunophenotyping</text>
<text x="1422.75" y="115.75" font-size="26" textLength="91.25" lengthAdjust="spacingAndGlyphs" fill="#13918c" >(<tspan font-style="italic">n</tspan> = 53)</text>
<text x="1364" y="147.5" font-size="26" textLength="208" lengthAdjust="spacingAndGlyphs" fill="#13918c" >(flow cytometry)</text>
<text x="1374" y="242" font-size="26" textLength="190.5" lengthAdjust="spacingAndGlyphs" fill="#9a4c94" >Transcriptomic</text>
<text x="1357" y="274.25" font-size="26" textLength="224.5" lengthAdjust="spacingAndGlyphs" fill="#9a4c94" >landscape (<tspan font-style="italic">n</tspan> = 14)</text>
<text x="1392" y="306.75" font-size="26" textLength="153.25" lengthAdjust="spacingAndGlyphs" fill="#9a4c94" >(scRNA-seq)</text>
<text x="1374.5" y="397" font-size="26" textLength="177" lengthAdjust="spacingAndGlyphs" fill="#a8763a" >In situ cellular</text>
<text x="1374" y="428.75" font-size="26" textLength="177.5" lengthAdjust="spacingAndGlyphs" fill="#a8763a" >neighborhood</text>
<text x="1360.25" y="460" font-size="26" textLength="205" lengthAdjust="spacingAndGlyphs" fill="#a8763a" >analysis (<tspan font-style="italic">n</tspan> = 115)</text>
<text x="1419" y="492" font-size="26" textLength="88" lengthAdjust="spacingAndGlyphs" fill="#a8763a" >(mIHC)</text>
<line x1="1634.6" y1="14.5" x2="1634.6" y2="155.3" stroke="#111" stroke-width="1.2" stroke-linecap="butt"/>
<line x1="1626" y1="154.7" x2="1777.7" y2="154.7" stroke="#111" stroke-width="1.2" stroke-linecap="butt"/>
<line x1="1626" y1="26.4" x2="1634.6" y2="26.4" stroke="#111" stroke-width="1.2" stroke-linecap="butt"/>
<line x1="1626" y1="58.4" x2="1634.6" y2="58.4" stroke="#111" stroke-width="1.2" stroke-linecap="butt"/>
<line x1="1626" y1="90.4" x2="1634.6" y2="90.4" stroke="#111" stroke-width="1.2" stroke-linecap="butt"/>
<line x1="1626" y1="122.3" x2="1634.6" y2="122.3" stroke="#111" stroke-width="1.2" stroke-linecap="butt"/>
<line x1="1634" y1="154.7" x2="1634" y2="162.7" stroke="#666" stroke-width="1.2" stroke-linecap="butt"/>
<line x1="1666.4" y1="154.7" x2="1666.4" y2="162.7" stroke="#111" stroke-width="1.2" stroke-linecap="butt"/>
<line x1="1698.8" y1="154.7" x2="1698.8" y2="162.7" stroke="#666" stroke-width="1.2" stroke-linecap="butt"/>
<line x1="1731.3" y1="154.7" x2="1731.3" y2="162.7" stroke="#111" stroke-width="1.2" stroke-linecap="butt"/>
<line x1="1763.8" y1="154.7" x2="1763.8" y2="162.7" stroke="#666" stroke-width="1.2" stroke-linecap="butt"/>
<path d="M1713.1 112.7h0M1640.5 114.6h0M1659.7 88.2h0M1711.8 108.4h0M1642.6 115.9h0M1683.8 91.0h0M1694.9 90.8h0M1655.1 90.2h0M1644.1 91.3h0M1643.6 115.2h0M1666.7 147.0h0M1647.0 124.1h0M1693.7 92.8h0M1708.5 100.5h0M1656.7 138.1h0M1668.2 147.5h0M1657.7 140.9h0M1643.3 96.7h0M1704.3 96.5h0M1675.9 88.4h0M1711.1 103.1h0M1666.3 89.4h0M1646.6 122.3h0M1680.7 89.2h0M1657.3 137.5h0M1648.3 93.6h0M1689.1 144.3h0M1709.6 117.5h0M1704.6 129.2h0M1712.5 105.9h0M1697.7 135.1h0M1691.1 141.7h0M1694.4 92.3h0M1667.5 147.1h0M1674.4 88.3h0M1658.3 139.1h0M1710.5 116.8h0M1698.4 134.6h0M1643.0 97.7h0M1668.2 145.7h0M1681.3 89.7h0M1678.2 149.0h0M1705.1 125.7h0M1645.5 96.2h0M1705.9 124.5h0M1701.3 93.7h0M1686.8 145.2h0M1673.1 149.0h0M1645.2 95.9h0M1710.6 113.6h0M1708.2 120.2h0M1666.2 87.7h0M1684.8 146.3h0M1696.8 93.2h0M1711.9 105.2h0M1665.8 89.1h0M1709.5 100.5h0M1709.1 121.6h0M1662.9 89.1h0M1698.9 134.5h0M1707.1 122.8h0M1663.6 145.0h0M1660.7 147.2h0M1659.4 139.2h0M1714.5 105.9h0M1698.7 134.8h0M1712.8 116.0h0M1677.5 86.8h0M1645.2 95.1h0M1713.0 105.0h0M1657.3 141.6h0M1701.1 96.1h0M1711.8 113.7h0M1670.4 89.6h0M1706.3 129.5h0M1647.6 93.3h0M1708.1 99.3h0M1709.9 115.2h0M1693.9 91.0h0M1673.8 147.9h0M1709.2 120.4h0M1647.9 92.2h0M1645.1 97.7h0M1645.6 95.0h0M1650.7 89.8h0M1693.1 141.3h0M1656.7 88.9h0M1681.9 148.8h0M1689.8 142.2h0M1666.4 145.0h0M1697.3 91.8h0M1667.8 146.2h0M1649.0 91.3h0M1642.6 112.8h0M1690.2 142.7h0M1712.8 108.5h0M1706.5 125.6h0M1662.8 143.8h0M1642.2 94.6h0M1711.4 119.1h0M1679.3 90.4h0M1666.4 149.4h0M1689.3 145.0h0M1642.0 102.3h0M1710.2 115.0h0M1675.2 90.2h0M1671.9 151.5h0M1665.6 88.9h0M1675.2 88.1h0M1698.6 140.1h0M1651.7 88.9h0M1711.6 107.5h0M1679.4 89.3h0M1705.4 97.5h0M1710.3 117.5h0M1671.5 148.9h0M1663.0 149.2h0M1668.9 148.0h0M1655.5 138.1h0M1646.4 121.3h0M1665.2 145.0h0M1641.9 110.6h0M1650.3 128.6h0M1708.3 99.4h0M1685.2 147.1h0M1698.3 137.0h0M1656.0 142.8h0M1711.2 99.6h0M1706.9 122.9h0M1681.9 147.4h0M1639.0 112.2h0M1638.2 113.3h0M1710.7 101.5h0M1640.2 101.5h0M1662.5 87.1h0M1647.6 92.0h0M1711.3 116.3h0M1663.8 86.8h0M1707.9 120.2h0M1703.6 95.9h0M1652.7 91.3h0M1694.3 143.9h0M1661.8 89.1h0M1702.9 128.9h0M1650.9 128.4h0M1690.8 141.6h0M1669.3 146.8h0M1642.7 118.2h0M1693.1 140.3h0M1671.4 87.3h0M1710.2 118.7h0M1676.7 148.3h0M1698.6 137.1h0M1712.8 119.0h0M1687.7 144.7h0M1644.7 116.4h0M1650.4 91.3h0M1704.7 95.4h0M1683.3 89.4h0M1666.4 87.8h0M1694.9 92.2h0M1658.1 141.0h0M1700.8 95.8h0M1654.0 89.7h0M1706.9 95.5h0M1683.3 147.2h0M1706.9 121.7h0M1707.7 120.2h0M1675.4 150.1h0M1657.3 89.7h0M1666.8 87.2h0M1667.7 88.2h0M1710.1 102.8h0M1689.7 91.2h0M1693.3 92.8h0M1703.8 95.0h0M1711.5 105.2h0M1647.3 125.0h0M1670.9 148.3h0M1641.2 109.7h0M1695.1 138.2h0M1710.1 104.3h0M1642.6 108.1h0M1702.4 95.4h0M1653.8 133.0h0M1653.6 134.7h0M1694.9 139.4h0M1660.6 89.3h0M1644.0 94.4h0M1643.0 115.9h0M1691.8 143.3h0M1681.7 89.1h0M1651.3 92.2h0M1712.6 105.4h0M1708.6 102.2h0M1677.1 88.5h0M1663.6 143.7h0M1643.9 116.9h0M1658.4 87.7h0M1703.9 129.2h0M1648.6 126.6h0M1650.7 91.6h0M1675.7 149.7h0M1672.0 147.8h0M1645.0 98.4h0M1649.6 129.8h0M1698.1 94.1h0M1704.1 95.8h0M1682.0 90.2h0M1650.6 89.9h0M1669.2 149.0h0M1645.8 93.3h0M1643.7 89.8h0M1711.3 109.0h0M1669.2 147.6h0M1675.0 150.5h0M1650.8 90.6h0M1644.0 127.8h0M1698.9 133.9h0M1687.9 143.6h0M1681.3 148.8h0M1660.2 89.3h0M1642.5 108.1h0M1649.2 93.2h0M1710.6 103.4h0M1645.0 118.8h0M1642.2 110.6h0M1696.3 136.6h0M1673.3 148.8h0M1672.4 86.7h0M1688.8 143.2h0M1665.3 146.7h0M1675.0 149.4h0M1711.7 111.2h0M1644.7 118.7h0M1664.0 146.4h0M1646.8 95.0h0M1654.5 134.4h0M1669.5 87.2h0M1650.8 89.6h0M1646.7 91.5h0M1684.7 148.1h0M1637.6 107.5h0M1669.7 87.2h0M1704.1 130.7h0M1711.0 114.0h0M1696.2 90.8h0M1667.5 85.5h0M1709.8 99.4h0M1686.5 145.4h0M1709.1 102.2h0M1674.2 89.9h0M1668.2 89.1h0M1652.0 130.7h0M1674.9 90.1h0M1680.6 151.2h0M1648.2 126.4h0M1644.6 127.1h0M1709.1 98.7h0M1657.6 90.3h0M1711.3 101.5h0M1680.1 148.1h0M1660.5 89.6h0M1646.5 92.7h0M1660.6 140.2h0M1711.7 103.8h0M1646.2 124.8h0M1710.9 105.7h0M1660.0 140.0h0M1646.0 92.8h0M1639.7 106.2h0M1699.8 134.9h0M1647.8 90.0h0M1706.7 123.0h0M1648.3 94.0h0M1704.5 131.5h0M1652.7 132.0h0M1687.6 92.0h0M1696.7 142.2h0M1674.8 148.5h0M1660.4 143.4h0M1710.7 110.4h0M1703.7 133.6h0M1696.9 137.1h0M1641.4 109.2h0M1641.9 107.1h0M1641.8 93.2h0M1674.5 148.4h0M1674.4 149.4h0M1642.9 105.7h0M1686.7 147.9h0M1651.3 132.7h0M1713.1 113.7h0M1693.6 139.4h0M1663.6 144.9h0M1708.9 117.0h0M1659.2 140.6h0M1711.2 117.8h0M1642.9 93.8h0M1648.9 131.3h0M1660.5 141.7h0M1661.0 88.7h0M1671.2 88.8h0M1707.9 122.8h0M1688.9 92.3h0M1642.6 111.6h0M1647.9 124.3h0M1672.6 89.8h0M1704.1 126.0h0M1657.5 139.4h0M1684.6 149.6h0M1653.8 133.0h0M1682.9 149.4h0M1695.0 141.6h0M1712.5 105.7h0M1668.7 146.4h0M1646.8 95.2h0M1656.0 85.0h0M1710.0 104.4h0M1674.7 89.5h0M1642.1 94.5h0M1661.8 142.1h0M1644.5 117.0h0M1699.6 93.1h0M1697.4 93.8h0M1649.6 127.5h0M1638.9 106.7h0M1699.5 94.5h0M1695.9 89.6h0M1710.0 101.0h0M1671.8 89.9h0M1667.2 89.2h0M1685.5 88.7h0M1663.3 86.5h0M1639.3 92.8h0M1710.7 107.3h0M1645.8 122.2h0M1679.0 149.1h0M1648.9 129.5h0M1654.0 133.8h0M1648.2 125.6h0M1700.5 93.4h0M1699.1 95.0h0M1648.1 93.1h0M1699.1 91.3h0M1664.4 144.4h0M1679.0 147.1h0M1652.3 131.8h0M1710.2 100.3h0M1688.2 143.3h0M1675.6 148.7h0M1701.6 132.0h0M1674.2 89.2h0M1717.8 108.2h0M1708.6 122.9h0M1707.0 98.5h0M1645.7 124.0h0M1702.9 129.2h0M1670.1 148.5h0M1707.2 99.1h0M1638.5 110.6h0M1684.4 147.8h0M1679.3 148.7h0M1673.9 89.2h0M1685.2 91.2h0M1642.8 107.7h0M1655.2 89.5h0M1643.5 101.9h0M1688.8 143.1h0M1712.7 100.4h0M1672.8 89.0h0M1693.7 93.0h0M1698.6 134.9h0M1658.2 89.5h0M1645.8 119.6h0M1672.0 149.1h0M1700.5 134.2h0M1674.9 90.3h0M1656.2 86.5h0M1694.7 141.5h0M1658.8 138.6h0M1677.7 89.7h0M1711.0 116.2h0M1710.1 103.6h0M1645.2 97.0h0M1711.0 112.7h0M1642.4 111.9h0M1670.9 150.1h0M1710.7 108.7h0M1701.6 133.3h0M1678.1 148.8h0M1681.3 148.5h0M1710.8 101.3h0M1655.7 137.6h0M1709.3 99.2h0M1679.5 87.9h0M1664.8 147.8h0M1693.4 142.4h0M1665.4 145.1h0M1646.6 93.9h0M1701.5 131.6h0M1712.0 118.3h0M1708.4 100.1h0M1653.3 133.8h0M1709.8 99.3h0M1678.2 148.9h0M1667.5 148.8h0M1658.2 140.0h0M1644.7 94.3h0M1650.5 130.1h0M1657.9 138.6h0M1712.7 110.4h0M1664.5 144.1h0M1641.7 112.7h0M1689.4 91.5h0M1670.4 89.0h0M1693.7 92.4h0M1651.1 131.7h0M1709.8 103.5h0M1720.9 89.4h0M1729.9 93.6h0M1758.7 86.1h0M1736.7 96.4h0M1715.3 73.6h0M1766.2 62.8h0M1749.5 92.0h0M1765.8 65.7h0M1765.5 53.2h0M1732.3 52.0h0M1764.9 71.7h0M1723.9 59.1h0M1746.3 93.4h0M1727.1 55.5h0M1756.7 88.4h0M1757.8 85.1h0M1751.3 47.6h0M1752.4 46.5h0M1721.9 61.1h0M1738.3 95.1h0M1743.0 96.3h0M1750.5 46.9h0M1718.4 84.5h0M1727.1 92.7h0M1717.2 62.2h0M1766.7 55.4h0M1728.4 56.0h0M1759.0 83.0h0M1762.5 78.9h0M1764.3 69.1h0M1767.8 59.6h0M1766.5 59.0h0M1716.6 77.0h0M1718.6 86.6h0M1718.9 88.4h0M1765.2 49.8h0M1733.9 93.9h0M1739.7 46.9h0M1750.2 47.6h0M1724.9 92.9h0M1722.5 60.6h0M1728.8 54.4h0M1723.5 60.2h0M1718.0 69.5h0M1730.6 94.7h0M1732.9 94.8h0M1752.6 47.7h0M1732.1 94.1h0M1726.0 56.6h0M1764.7 48.4h0M1717.3 86.6h0M1732.0 93.6h0M1737.4 97.3h0M1763.9 50.6h0M1731.2 53.8h0M1750.4 92.1h0M1733.5 93.8h0M1718.0 71.1h0M1740.9 49.0h0M1716.4 79.5h0M1765.0 65.3h0M1766.9 64.5h0M1719.2 86.9h0M1719.8 62.5h0M1741.2 95.9h0M1763.6 48.1h0M1728.7 55.1h0M1722.9 61.4h0M1760.4 78.9h0M1713.9 80.0h0M1762.7 77.1h0M1760.3 80.3h0M1716.9 74.5h0M1765.3 73.1h0M1760.5 48.5h0M1766.2 68.7h0M1716.7 77.7h0M1735.3 51.5h0M1753.4 88.6h0M1727.2 56.4h0M1736.7 95.5h0M1765.3 70.1h0M1734.0 96.0h0M1765.6 53.1h0M1767.5 61.8h0M1766.4 49.4h0M1722.6 89.7h0M1742.9 47.1h0M1737.1 96.1h0M1719.1 85.6h0M1767.5 52.2h0M1713.4 70.7h0M1743.2 48.5h0M1757.0 87.0h0M1765.8 67.8h0M1765.1 67.1h0M1765.1 55.4h0M1724.2 92.0h0M1757.6 83.4h0M1751.5 92.0h0M1766.9 65.6h0M1763.3 75.3h0M1755.9 86.7h0M1766.5 57.9h0M1754.1 88.9h0M1730.8 93.9h0M1727.5 93.0h0M1752.9 91.2h0M1719.4 64.3h0M1754.2 92.4h0M1766.0 62.4h0M1735.3 95.0h0M1765.1 54.3h0M1759.1 81.3h0M1766.6 49.4h0M1754.1 45.1h0M1749.1 47.9h0M1764.2 50.4h0M1721.5 62.6h0M1758.4 83.7h0M1724.2 91.8h0M1749.6 47.8h0M1716.6 86.3h0M1764.4 50.0h0M1730.7 55.0h0M1733.6 94.9h0M1722.7 61.8h0M1767.7 59.7h0M1761.6 47.6h0M1742.3 49.4h0M1739.3 97.3h0M1724.7 92.1h0M1731.3 93.6h0M1745.5 95.9h0M1716.3 77.0h0M1742.5 47.8h0M1724.8 59.0h0M1764.8 53.7h0M1717.8 72.5h0M1717.7 86.8h0M1715.6 77.9h0M1765.4 72.8h0M1758.9 84.0h0M1725.2 91.2h0M1718.2 66.1h0M1756.8 86.7h0M1764.2 70.2h0M1759.2 82.8h0M1728.6 56.1h0M1721.0 62.1h0M1717.1 67.3h0M1751.9 93.6h0M1767.1 58.8h0M1766.7 54.5h0M1718.2 88.1h0M1733.9 94.3h0M1720.0 64.5h0M1749.1 45.8h0M1752.0 46.3h0M1716.1 69.1h0M1715.1 78.0h0M1766.7 54.0h0M1719.6 87.5h0M1717.7 67.1h0M1723.1 90.7h0M1746.7 92.9h0M1719.6 89.3h0M1734.8 94.7h0M1743.6 94.8h0M1752.6 44.7h0M1718.0 86.6h0M1766.8 59.9h0M1723.7 90.1h0M1716.1 81.5h0M1755.2 47.8h0M1758.4 47.4h0M1767.2 68.6h0M1723.9 60.4h0M1715.7 70.9h0M1731.8 96.6h0M1755.0 88.9h0M1762.7 75.9h0M1724.0 90.5h0M1715.9 79.5h0M1724.5 57.8h0M1763.0 74.1h0M1729.1 56.1h0M1752.5 90.8h0M1750.6 47.2h0M1744.1 48.3h0M1750.4 92.1h0M1754.4 88.3h0M1717.0 74.8h0M1715.8 83.0h0M1717.5 85.6h0M1764.0 73.1h0M1755.5 85.9h0M1716.7 74.3h0M1759.0 82.1h0M1764.3 71.2h0M1718.8 63.4h0M1762.6 78.4h0M1733.5 95.9h0M1728.7 93.1h0M1733.0 52.5h0M1716.9 80.8h0M1747.9 94.6h0M1766.8 57.8h0M1766.8 67.1h0M1750.9 92.2h0M1755.4 48.4h0M1717.4 80.8h0M1767.3 65.7h0M1717.1 86.3h0M1724.8 58.1h0M1763.2 50.8h0M1736.4 94.5h0M1746.8 48.4h0M1766.5 57.0h0M1769.5 60.3h0M1764.1 51.2h0M1728.0 94.2h0M1738.7 94.7h0M1760.0 81.3h0M1714.2 81.2h0M1735.2 50.9h0M1767.2 66.9h0M1766.1 58.5h0M1765.5 65.0h0M1748.1 94.9h0M1717.7 84.9h0M1731.6 96.9h0M1733.2 96.0h0M1759.3 82.3h0M1765.8 56.6h0M1740.8 48.8h0M1720.9 88.6h0M1726.2 92.5h0M1743.1 48.1h0M1729.4 94.0h0M1725.6 56.7h0M1717.2 70.1h0M1747.4 94.8h0M1746.0 96.3h0M1755.0 46.6h0M1728.7 54.3h0M1735.6 49.7h0M1766.1 60.4h0M1740.4 48.5h0M1716.3 84.4h0M1748.9 46.1h0M1760.0 79.7h0M1757.0 86.4h0M1765.3 51.7h0M1755.3 47.1h0M1722.0 61.3h0M1739.4 50.4h0M1718.8 62.3h0M1724.8 57.9h0M1717.2 82.4h0M1745.6 47.9h0M1767.1 57.5h0M1725.8 57.1h0M1746.3 48.7h0M1719.6 63.4h0M1730.3 53.1h0M1757.1 87.2h0M1743.2 47.8h0M1765.2 66.6h0M1723.2 60.8h0M1758.8 48.4h0M1727.3 56.4h0M1764.7 48.0h0M1729.5 55.7h0M1734.2 96.0h0M1746.2 47.4h0M1736.2 95.1h0M1733.1 94.1h0M1764.3 70.6h0M1735.9 49.0h0M1751.9 90.9h0M1717.6 84.3h0M1715.8 75.4h0M1740.0 49.6h0M1744.7 94.2h0M1729.8 93.7h0M1758.5 84.9h0M1714.7 80.0h0M1717.5 70.9h0M1765.2 67.6h0M1727.6 56.7h0M1729.5 55.8h0M1742.6 96.0h0M1724.3 90.7h0M1723.7 57.4h0M1745.5 95.3h0M1719.0 66.1h0M1752.1 47.3h0M1759.5 47.7h0M1717.8 67.2h0M1765.7 65.7h0M1736.6 51.0h0M1763.1 51.2h0M1748.5 93.5h0M1722.6 89.8h0M1722.7 90.3h0M1762.2 77.7h0M1723.7 60.4h0M1724.0 89.9h0M1741.1 47.7h0M1721.7 91.4h0M1760.2 48.7h0M1715.5 80.1h0M1728.4 95.0h0M1715.6 76.2h0M1722.4 88.8h0M1742.7 94.2h0M1763.8 47.8h0M1756.7 85.3h0M1744.7 93.6h0" stroke="#3a429c" stroke-opacity="0.6" stroke-width="1.6" stroke-linecap="round" fill="none"/>
<filter id="bl" x="-10%" y="-10%" width="120%" height="120%"><feGaussianBlur stdDeviation="0.7"/></filter>
<g filter="url(#bl)">
<path d="M1641.6 109.5C1641.3 104.8 1643.2 98.6 1645.1 95.4C1647.0 92.2 1649.8 91.5 1653.1 90.4C1656.5 89.3 1660.7 88.9 1665.2 88.9C1669.7 88.9 1675.2 89.6 1680.3 90.4C1685.3 91.1 1690.8 92.0 1695.3 93.4C1699.9 94.7 1704.7 96.2 1707.4 98.4C1710.1 100.6 1711.1 103.3 1711.4 106.4C1711.7 109.6 1710.7 113.8 1709.4 117.5C1708.1 121.2 1705.9 124.9 1703.4 128.5C1700.9 132.2 1697.5 136.6 1694.3 139.6C1691.1 142.6 1687.6 145.1 1684.3 146.6C1680.9 148.1 1677.6 149.0 1674.2 148.6C1670.9 148.3 1667.4 146.8 1664.2 144.6C1661.0 142.4 1658.0 139.1 1655.2 135.6C1652.3 132.1 1649.4 127.9 1647.1 123.5C1644.9 119.2 1641.9 114.1 1641.6 109.5Z" fill="#2b3990" />
<path d="M1716.4 79.3C1716.3 75.6 1717.3 68.9 1718.9 65.3C1720.6 61.6 1723.2 59.7 1726.5 57.2C1729.7 54.7 1734.5 51.9 1738.5 50.2C1742.5 48.5 1746.6 47.4 1750.6 47.2C1754.6 47.0 1759.9 47.5 1762.6 49.2C1765.3 50.9 1766.3 53.9 1766.6 57.2C1767.0 60.6 1765.8 65.3 1764.6 69.3C1763.5 73.3 1761.8 77.7 1759.6 81.3C1757.4 85.0 1754.8 89.0 1751.6 91.4C1748.4 93.7 1744.4 95.1 1740.5 95.4C1736.7 95.7 1732.0 94.7 1728.5 93.4C1725.0 92.0 1721.4 89.7 1719.4 87.4C1717.4 85.0 1716.5 83.0 1716.4 79.3Z" fill="#2b3990" />
</g>
<path d="M1648.5 110.7C1648.3 106.9 1649.8 102.0 1651.3 99.4C1652.9 96.9 1655.1 96.3 1657.8 95.4C1660.4 94.5 1663.8 94.2 1667.4 94.2C1671.0 94.2 1675.4 94.8 1679.5 95.4C1683.5 96.0 1687.9 96.7 1691.5 97.8C1695.1 98.9 1699.0 100.1 1701.2 101.8C1703.3 103.6 1704.1 105.7 1704.4 108.3C1704.6 110.8 1703.8 114.1 1702.8 117.1C1701.7 120.0 1700.0 123.0 1697.9 125.9C1695.9 128.9 1693.3 132.4 1690.7 134.8C1688.2 137.2 1685.4 139.2 1682.7 140.4C1680.0 141.6 1677.3 142.3 1674.6 142.0C1672.0 141.7 1669.1 140.5 1666.6 138.8C1664.1 137.0 1661.6 134.4 1659.4 131.6C1657.1 128.7 1654.8 125.4 1652.9 121.9C1651.1 118.4 1648.8 114.4 1648.5 110.7Z" fill="#3453b8" />
<path d="M1652.0 111.3C1651.8 108.0 1653.1 103.7 1654.5 101.4C1655.8 99.2 1657.7 98.7 1660.1 97.9C1662.4 97.1 1665.3 96.9 1668.5 96.9C1671.7 96.9 1675.5 97.4 1679.1 97.9C1682.6 98.4 1686.4 99.1 1689.6 100.0C1692.8 101.0 1696.2 102.0 1698.0 103.5C1699.9 105.1 1700.6 106.9 1700.9 109.2C1701.1 111.4 1700.4 114.3 1699.4 116.9C1698.5 119.5 1697.0 122.0 1695.2 124.6C1693.5 127.2 1691.1 130.3 1688.9 132.4C1686.7 134.5 1684.2 136.2 1681.9 137.3C1679.5 138.3 1677.2 138.9 1674.8 138.7C1672.5 138.5 1670.0 137.4 1667.8 135.9C1665.6 134.4 1663.5 132.0 1661.5 129.5C1659.5 127.1 1657.4 124.2 1655.9 121.1C1654.3 118.1 1652.2 114.5 1652.0 111.3Z" fill="#3f6fd0" />
<path d="M1654.2 110.5C1654.5 108.1 1655.3 104.3 1657.2 102.4C1659.0 100.6 1661.7 99.8 1665.2 99.4C1668.7 99.1 1674.1 99.6 1678.3 100.4C1682.4 101.3 1687.1 102.8 1690.3 104.4C1693.5 106.1 1696.2 108.5 1697.3 110.5C1698.5 112.5 1698.2 114.5 1697.3 116.5C1696.5 118.5 1694.3 120.8 1692.3 122.5C1690.3 124.2 1687.1 124.9 1685.3 126.5C1683.4 128.2 1682.8 131.4 1681.3 132.6C1679.8 133.7 1678.4 134.1 1676.2 133.6C1674.1 133.1 1670.9 131.4 1668.2 129.5C1665.5 127.7 1662.4 124.7 1660.2 122.5C1658.0 120.3 1656.2 118.5 1655.2 116.5C1654.2 114.5 1653.8 112.8 1654.2 110.5Z" fill="#4fd2e8" />
<path d="M1657.2 110.5C1657.0 108.1 1658.5 105.9 1660.2 104.4C1661.9 103.0 1664.2 102.2 1667.2 101.9C1670.2 101.7 1674.7 102.2 1678.3 102.9C1681.8 103.7 1685.7 104.8 1688.3 106.4C1690.9 108.1 1693.2 111.1 1693.8 113.0C1694.5 114.8 1693.7 115.7 1692.3 117.5C1690.9 119.3 1687.5 121.5 1685.3 123.5C1683.1 125.5 1681.1 128.5 1679.3 129.5C1677.4 130.6 1676.2 130.2 1674.2 129.5C1672.2 128.9 1669.4 127.4 1667.2 125.5C1665.0 123.7 1662.9 121.0 1661.2 118.5C1659.5 116.0 1657.3 112.8 1657.2 110.5Z" fill="#8fe01e" />
<path d="M1661.2 111.5C1661.5 110.0 1662.4 107.5 1664.2 106.4C1666.0 105.4 1669.2 104.9 1672.2 104.9C1675.2 104.9 1679.4 105.4 1682.3 106.4C1685.1 107.5 1688.1 110.0 1689.3 111.5C1690.5 113.0 1690.3 114.0 1689.3 115.5C1688.3 117.0 1685.3 118.8 1683.3 120.5C1681.3 122.2 1678.9 124.9 1677.3 125.5C1675.6 126.2 1674.9 125.4 1673.2 124.5C1671.6 123.7 1669.0 122.0 1667.2 120.5C1665.4 119.0 1663.2 117.0 1662.2 115.5C1661.2 114.0 1660.8 113.0 1661.2 111.5Z" fill="#ffe60a" />
<path d="M1667.2 113.5C1667.2 112.1 1667.9 110.3 1669.2 109.5C1670.6 108.6 1673.1 108.3 1675.2 108.5C1677.4 108.6 1680.6 109.5 1682.3 110.5C1683.9 111.5 1685.3 113.1 1685.3 114.5C1685.3 115.8 1683.6 117.2 1682.3 118.5C1680.9 119.8 1678.8 122.0 1677.3 122.5C1675.7 123.0 1674.6 122.3 1673.2 121.5C1671.9 120.7 1670.2 118.8 1669.2 117.5C1668.2 116.2 1667.2 114.8 1667.2 113.5Z" fill="#ff7a0a" />
<path d="M1670.2 114.5C1670.3 113.4 1671.1 111.7 1672.2 111.0C1673.4 110.2 1675.6 109.7 1677.3 110.0C1678.9 110.2 1681.3 111.6 1682.3 112.5C1683.3 113.4 1683.8 114.3 1683.3 115.5C1682.8 116.7 1680.6 118.7 1679.3 119.5C1677.9 120.3 1676.5 120.8 1675.2 120.5C1674.0 120.2 1672.6 118.5 1671.7 117.5C1670.9 116.5 1670.1 115.6 1670.2 114.5Z" fill="#ee1c1c" />
<path d="M1672.7 115.0C1672.7 114.2 1673.7 113.1 1674.7 112.7C1675.7 112.3 1677.8 112.3 1678.8 112.7C1679.8 113.1 1680.8 114.2 1680.8 115.0C1680.8 115.8 1679.8 116.9 1678.8 117.3C1677.8 117.7 1675.7 117.7 1674.7 117.3C1673.7 116.9 1672.7 115.8 1672.7 115.0Z" fill="#a82030" />
<path d="M1721.9 77.8C1721.9 74.9 1722.6 69.7 1723.9 66.8C1725.2 63.9 1727.2 62.5 1729.8 60.5C1732.3 58.6 1736.1 56.4 1739.2 55.1C1742.3 53.8 1745.5 52.8 1748.6 52.7C1751.7 52.6 1755.9 53.0 1758.0 54.3C1760.1 55.6 1760.9 57.9 1761.1 60.5C1761.4 63.2 1760.5 66.8 1759.6 69.9C1758.6 73.1 1757.3 76.5 1755.6 79.3C1753.9 82.2 1751.9 85.4 1749.4 87.2C1746.9 89.0 1743.8 90.1 1740.8 90.3C1737.7 90.6 1734.1 89.8 1731.3 88.7C1728.6 87.7 1725.9 85.9 1724.3 84.0C1722.7 82.2 1722.0 80.7 1721.9 77.8Z" fill="#3453b8" />
<path d="M1725.5 76.8C1725.4 74.4 1726.0 70.2 1727.1 67.8C1728.1 65.4 1729.8 64.3 1731.9 62.7C1734.0 61.0 1737.0 59.2 1739.6 58.2C1742.2 57.1 1744.7 56.3 1747.3 56.2C1749.9 56.1 1753.3 56.4 1755.0 57.5C1756.7 58.6 1757.4 60.5 1757.6 62.7C1757.8 64.8 1757.1 67.8 1756.3 70.4C1755.6 72.9 1754.5 75.7 1753.1 78.1C1751.7 80.4 1750.0 83.0 1748.0 84.5C1745.9 86.0 1743.4 86.9 1740.9 87.1C1738.4 87.3 1735.4 86.7 1733.2 85.8C1730.9 84.9 1728.7 83.4 1727.4 81.9C1726.1 80.4 1725.5 79.2 1725.5 76.8Z" fill="#3f6fd0" />
<path d="M1729.0 75.3C1728.8 73.0 1728.9 71.1 1730.5 69.3C1732.1 67.4 1735.8 65.9 1738.5 64.3C1741.2 62.6 1744.4 60.4 1746.6 59.2C1748.7 58.1 1750.1 56.9 1751.6 57.2C1753.1 57.6 1755.1 59.2 1755.6 61.2C1756.1 63.3 1755.6 66.6 1754.6 69.3C1753.6 72.0 1751.2 75.1 1749.6 77.3C1747.9 79.5 1746.6 81.0 1744.5 82.3C1742.5 83.7 1739.7 85.2 1737.5 85.4C1735.3 85.5 1732.9 85.0 1731.5 83.3C1730.1 81.7 1729.1 77.7 1729.0 75.3Z" fill="#4fd2e8" />
<path d="M1733.0 75.3C1732.5 73.5 1733.2 71.6 1734.5 70.3C1735.8 68.9 1738.4 68.6 1740.5 67.3C1742.7 65.9 1745.6 62.9 1747.6 62.3C1749.6 61.6 1751.7 62.1 1752.6 63.3C1753.4 64.4 1753.3 67.1 1752.6 69.3C1751.9 71.5 1750.1 74.5 1748.6 76.3C1747.1 78.2 1745.4 79.5 1743.5 80.3C1741.7 81.2 1739.3 82.2 1737.5 81.3C1735.8 80.5 1733.5 77.2 1733.0 75.3Z" fill="#70d8aa" />
<line x1="1635.25" y1="183.25" x2="1635.25" y2="327.6" stroke="#333" stroke-width="1.2" stroke-linecap="butt"/>
<line x1="1635.25" y1="327" x2="1780.25" y2="327" stroke="#333" stroke-width="1.2" stroke-linecap="butt"/>
<text x="1626.8" y="189.7" font-size="10.5" text-anchor="end" fill="#333" >30</text>
<text x="1626.8" y="211.2" font-size="10.5" text-anchor="end" fill="#333" >20</text>
<text x="1626.8" y="231.95" font-size="10.5" text-anchor="end" fill="#333" >10</text>
<text x="1626.8" y="253.2" font-size="10.5" text-anchor="end" fill="#333" >0</text>
<text x="1626.8" y="274.45" font-size="10.5" text-anchor="end" fill="#333" >−10</text>
<text x="1626.8" y="295.7" font-size="10.5" text-anchor="end" fill="#333" >−20</text>
<text x="1626.8" y="316.7" font-size="10.5" text-anchor="end" fill="#333" >−30</text>
<text x="1635.75" y="342.8" font-size="10.5" text-anchor="middle" fill="#333" >−30</text>
<text x="1659.75" y="342.8" font-size="10.5" text-anchor="middle" fill="#333" >−20</text>
<text x="1683.25" y="342.8" font-size="10.5" text-anchor="middle" fill="#333" >−10</text>
<text x="1707.25" y="342.8" font-size="10.5" text-anchor="middle" fill="#333" >0</text>
<text x="1730.75" y="342.8" font-size="10.5" text-anchor="middle" fill="#333" >10</text>
<text x="1754.5" y="342.8" font-size="10.5" text-anchor="middle" fill="#333" >20</text>
<text x="1778.5" y="342.8" font-size="10.5" text-anchor="middle" fill="#333" >30</text>
<path d="M1655.1 215.0h0M1664.8 207.4h0M1646.2 216.2h0M1652.8 223.2h0M1646.5 213.9h0M1649.2 205.7h0M1664.4 204.2h0M1655.6 205.6h0M1655.1 211.9h0M1667.3 202.6h0M1653.6 205.2h0M1665.9 220.2h0M1656.5 208.7h0M1649.3 215.4h0M1661.5 200.3h0M1655.4 211.9h0M1657.3 203.6h0M1663.6 205.1h0M1657.5 222.7h0M1652.2 202.1h0M1665.3 217.4h0M1668.6 204.8h0M1667.8 206.0h0M1655.7 212.9h0M1654.9 213.4h0M1661.2 205.8h0M1656.6 211.8h0M1648.1 218.5h0M1667.9 204.3h0M1658.2 210.9h0M1657.1 218.3h0M1647.1 212.6h0M1649.9 215.8h0M1666.7 212.3h0M1667.6 209.4h0M1653.4 205.9h0M1647.6 214.8h0M1669.3 216.1h0M1657.0 213.0h0M1654.1 204.7h0M1657.8 208.6h0M1657.6 214.6h0M1666.0 217.8h0M1654.4 203.9h0M1663.9 201.5h0M1663.7 222.0h0M1650.2 218.5h0M1668.1 204.2h0M1658.8 214.5h0M1661.5 204.9h0M1668.8 218.0h0M1649.1 212.6h0M1649.4 212.8h0M1660.0 213.1h0M1660.1 213.3h0M1662.0 206.8h0M1652.3 220.4h0M1663.6 222.2h0M1655.6 200.2h0M1645.0 209.6h0M1661.2 207.0h0M1651.6 205.9h0M1663.4 208.6h0M1654.0 206.7h0M1655.6 205.2h0M1655.4 218.1h0M1646.9 220.2h0M1649.7 217.9h0M1651.3 219.4h0M1644.5 206.4h0M1663.8 215.5h0M1654.5 201.0h0M1656.1 223.3h0M1658.5 219.5h0M1654.1 201.2h0" stroke="#1f8f82" stroke-width="2.9" stroke-linecap="round" fill="none"/>
<path d="M1721.4 190.2h0M1710.5 192.5h0M1709.7 192.1h0M1712.5 190.1h0M1720.0 194.9h0M1717.9 192.1h0M1710.4 195.7h0M1707.6 187.1h0M1718.5 191.7h0M1720.4 191.3h0M1706.0 191.2h0M1717.7 187.4h0M1711.5 183.4h0M1714.4 201.8h0M1718.3 197.3h0M1715.1 183.0h0M1707.2 191.3h0M1713.2 197.7h0M1715.0 198.1h0M1713.0 182.5h0M1717.8 196.4h0M1715.6 182.5h0M1712.9 188.1h0M1709.1 191.8h0M1710.7 197.8h0M1719.0 190.7h0M1721.7 192.6h0M1709.0 190.2h0M1716.9 190.8h0M1714.1 190.9h0M1713.2 187.8h0M1715.2 184.4h0M1714.2 192.4h0M1707.2 196.5h0M1707.4 191.1h0M1720.1 196.8h0M1709.3 186.5h0M1720.3 193.2h0M1691.2 196.3h0M1691.6 196.1h0M1692.0 195.7h0M1693.4 195.3h0M1723.3 193.8h0M1726.6 195.5h0M1728.1 195.4h0M1725.7 196.3h0M1724.9 196.2h0M1727.9 194.2h0" stroke="#7b54a8" stroke-width="2.9" stroke-linecap="round" fill="none"/>
<path d="M1768.2 235.2h0M1767.2 227.5h0M1753.5 233.5h0M1747.0 219.1h0M1750.9 228.2h0M1760.0 239.6h0M1747.5 235.6h0M1743.3 222.2h0M1759.1 221.0h0M1743.5 214.8h0M1754.2 235.0h0M1754.1 203.6h0M1749.0 228.5h0M1753.5 205.1h0M1763.2 208.9h0M1768.5 229.0h0M1763.0 229.1h0M1774.0 227.8h0M1740.8 219.8h0M1756.0 239.5h0M1756.6 218.4h0M1769.3 221.5h0M1751.0 234.7h0M1762.9 208.5h0M1767.9 229.7h0M1769.0 232.7h0M1760.0 226.4h0M1745.1 208.8h0M1750.0 215.6h0M1761.7 232.6h0M1766.6 203.4h0M1739.5 221.5h0M1751.9 210.2h0M1751.9 235.0h0M1759.3 208.4h0M1743.8 212.7h0M1757.0 207.8h0M1750.6 228.1h0M1771.8 209.5h0M1755.7 207.1h0M1745.9 234.4h0M1751.9 221.5h0M1772.1 221.5h0M1740.7 225.5h0M1746.1 218.1h0M1766.9 214.5h0M1756.9 212.0h0M1760.5 217.6h0M1766.4 223.1h0M1745.0 224.1h0M1770.8 211.6h0M1773.9 220.5h0M1762.3 213.0h0M1746.1 213.5h0M1769.0 212.5h0M1758.9 237.8h0M1748.1 227.1h0M1762.3 205.1h0M1741.7 220.5h0M1764.9 208.7h0M1759.1 211.1h0M1761.8 220.0h0M1753.7 203.2h0M1742.6 224.4h0M1768.3 233.5h0M1766.5 212.1h0M1747.9 229.5h0M1758.1 233.9h0M1760.9 216.5h0M1757.8 232.2h0M1769.2 221.9h0M1765.6 202.9h0M1749.6 205.2h0M1762.9 222.1h0M1744.3 220.2h0M1749.7 211.6h0M1751.7 216.0h0M1745.5 210.2h0M1745.8 235.1h0M1751.1 206.4h0M1767.3 207.4h0M1768.7 206.2h0M1743.4 222.3h0M1747.3 230.3h0M1751.8 222.1h0M1767.1 217.7h0M1749.5 236.7h0M1751.4 234.2h0M1764.2 229.2h0M1743.9 208.3h0M1750.9 218.8h0M1740.3 218.8h0M1757.3 238.2h0M1769.0 227.7h0M1751.7 227.0h0M1755.6 202.5h0M1759.8 227.3h0M1772.3 214.2h0M1741.4 217.1h0M1746.3 215.2h0M1742.9 207.7h0M1771.5 225.7h0M1744.8 215.2h0M1744.6 227.8h0M1746.6 232.9h0" stroke="#d2409a" stroke-width="2.9" stroke-linecap="round" fill="none"/>
<path d="M1693.7 209.6h0M1685.7 218.1h0M1695.7 213.0h0M1692.1 219.5h0M1679.3 223.1h0M1685.3 222.6h0M1692.1 210.2h0M1687.7 220.2h0M1680.8 220.5h0M1689.9 221.4h0M1685.5 223.0h0M1698.0 212.2h0M1695.3 211.2h0M1695.6 213.3h0M1691.0 223.2h0M1682.7 224.4h0M1690.2 216.4h0M1681.7 223.0h0M1692.8 217.3h0M1691.8 211.7h0M1690.9 222.6h0M1690.2 211.5h0M1696.8 216.9h0M1689.5 212.1h0M1685.9 211.3h0M1679.7 221.7h0M1685.2 214.0h0M1689.8 216.3h0M1692.3 213.4h0M1695.0 213.0h0M1717.0 214.1h0M1716.8 215.4h0M1719.2 220.6h0M1721.2 219.3h0M1724.7 217.0h0M1722.7 211.9h0M1716.8 214.7h0M1721.3 214.3h0M1721.6 213.4h0M1723.7 217.7h0M1719.1 214.2h0M1718.3 212.6h0M1724.1 218.0h0M1714.3 214.4h0M1725.1 219.1h0M1720.1 214.2h0M1726.7 215.7h0M1725.5 220.5h0M1701.7 274.1h0M1706.4 245.3h0M1707.6 271.2h0M1686.5 266.7h0M1701.6 246.2h0M1693.4 255.6h0M1706.8 272.1h0M1721.1 242.9h0M1713.6 230.5h0M1685.9 256.5h0M1711.7 225.9h0M1694.6 263.2h0M1693.2 261.1h0M1697.8 246.3h0M1684.0 240.1h0M1723.7 253.5h0M1705.9 257.9h0M1722.2 235.1h0M1713.8 265.0h0M1720.8 247.8h0M1698.2 243.4h0M1698.6 240.8h0M1710.9 229.9h0M1705.6 246.5h0M1698.3 275.3h0M1690.8 245.0h0M1722.9 253.1h0M1703.6 257.8h0M1716.0 249.8h0M1695.6 266.5h0M1685.5 245.8h0M1711.8 259.0h0M1701.9 230.1h0M1709.7 275.4h0M1687.2 233.7h0M1706.4 263.4h0M1697.2 241.8h0M1709.2 240.6h0M1714.4 256.7h0M1718.4 245.5h0M1724.4 239.9h0M1711.0 272.0h0M1720.0 242.0h0M1692.4 243.3h0M1714.4 232.3h0M1701.0 253.8h0M1702.5 246.2h0M1697.2 234.6h0M1706.3 242.5h0M1708.1 259.2h0M1699.9 256.0h0M1712.6 245.6h0M1706.1 277.7h0M1720.2 265.4h0M1713.6 253.1h0M1718.6 248.0h0M1701.0 235.2h0M1700.3 246.6h0M1704.6 272.9h0M1700.6 231.5h0M1705.1 238.3h0M1709.5 240.5h0M1709.0 266.5h0M1687.3 260.5h0M1688.0 249.4h0M1701.0 260.5h0M1704.1 236.9h0M1724.1 241.6h0M1713.0 244.7h0M1695.9 243.9h0M1693.6 259.1h0M1703.1 254.4h0M1709.9 272.1h0M1710.3 231.6h0M1683.6 244.7h0M1689.6 259.7h0M1699.7 262.2h0M1687.2 257.0h0M1692.3 268.1h0M1706.8 255.2h0M1700.7 263.6h0M1716.9 240.4h0M1709.9 244.3h0M1714.2 248.9h0M1695.1 238.3h0M1715.1 230.9h0M1696.2 238.1h0M1706.8 237.7h0M1717.6 252.3h0M1723.3 257.4h0M1710.2 236.7h0M1693.6 270.2h0M1718.8 243.5h0M1699.8 238.0h0M1707.0 259.1h0M1716.6 245.2h0M1687.6 241.0h0M1691.8 266.8h0M1687.6 258.7h0M1694.3 261.6h0M1707.6 246.9h0M1683.9 254.7h0M1714.3 238.5h0M1700.2 239.5h0M1720.6 238.5h0M1699.3 230.1h0M1710.0 249.9h0M1705.9 222.2h0M1701.7 260.2h0M1704.8 234.5h0M1710.6 270.0h0M1700.4 271.7h0M1710.8 223.8h0M1712.3 254.5h0M1711.9 226.2h0M1699.7 225.1h0M1703.3 255.1h0M1723.8 247.4h0M1693.9 241.8h0M1718.8 231.8h0M1722.3 243.6h0M1712.6 247.0h0M1683.6 252.1h0M1688.2 263.6h0M1709.6 256.6h0M1698.5 223.5h0M1694.7 269.1h0M1685.4 264.0h0M1718.3 233.6h0M1699.5 249.0h0M1694.4 241.2h0M1696.8 250.1h0M1685.3 242.5h0M1714.0 233.8h0M1717.4 271.0h0M1700.4 252.2h0M1713.0 229.7h0M1699.6 271.9h0M1711.9 262.1h0M1712.0 251.4h0M1689.5 250.6h0M1684.0 242.6h0M1717.1 249.7h0M1698.4 232.4h0M1703.5 226.7h0M1718.6 262.4h0M1704.0 264.6h0M1700.3 238.0h0M1711.4 256.4h0M1715.2 256.9h0M1711.0 256.2h0M1722.7 239.1h0M1692.3 264.9h0M1708.9 270.5h0M1710.2 272.1h0M1722.4 259.6h0M1688.1 262.4h0M1698.6 248.0h0M1710.1 261.0h0M1685.7 257.5h0M1682.6 243.8h0M1702.4 255.6h0M1699.7 247.5h0M1698.7 238.0h0M1715.0 252.7h0M1717.6 236.4h0M1720.0 268.6h0M1684.6 250.9h0M1718.0 237.7h0M1710.6 238.9h0M1696.5 229.1h0M1708.3 227.4h0M1699.9 243.5h0M1699.1 249.9h0M1703.2 235.6h0M1694.1 225.2h0M1687.4 253.7h0M1709.6 228.0h0M1686.6 240.3h0M1700.7 248.8h0M1687.4 253.7h0M1686.7 249.0h0M1723.7 243.7h0M1698.2 271.8h0M1698.6 257.5h0M1711.4 275.6h0M1721.9 240.6h0M1690.6 242.7h0M1694.5 263.7h0M1713.6 251.9h0M1683.6 284.9h0M1700.4 282.4h0M1700.8 283.1h0M1702.8 280.9h0M1694.0 273.4h0M1694.9 271.7h0M1684.0 278.1h0M1694.6 283.6h0M1698.5 271.6h0M1684.4 286.9h0M1700.7 283.2h0M1694.5 271.0h0M1682.9 287.6h0M1699.7 273.2h0M1699.3 280.0h0M1687.9 288.4h0M1693.7 285.9h0M1685.2 285.9h0M1697.0 274.9h0M1689.1 280.9h0M1697.4 285.0h0M1695.8 279.7h0M1684.5 288.1h0M1689.3 283.6h0M1690.3 284.1h0M1691.2 280.2h0M1697.7 279.8h0M1697.6 278.8h0M1688.9 287.3h0M1690.3 280.1h0M1691.2 284.2h0M1685.9 282.0h0M1686.2 284.6h0M1685.8 286.1h0M1692.9 272.8h0" stroke="#4f75c5" stroke-width="2.9" stroke-linecap="round" fill="none"/>
<path d="M1746.1 251.0h0M1735.5 251.2h0M1748.8 252.4h0M1732.5 241.1h0M1746.8 235.4h0M1747.9 239.6h0M1742.8 257.5h0M1748.8 233.9h0M1743.4 256.3h0M1754.3 252.0h0M1740.2 247.3h0M1740.5 255.9h0M1749.2 244.4h0M1748.4 260.4h0M1741.9 256.1h0M1744.1 231.5h0M1737.8 242.5h0M1746.9 238.3h0M1747.3 245.2h0M1738.7 236.0h0M1743.7 259.3h0M1750.4 260.0h0M1745.1 244.3h0M1734.0 238.5h0M1752.8 247.0h0M1741.0 257.8h0M1753.1 253.7h0M1741.4 258.8h0M1737.2 235.7h0M1748.3 248.4h0M1737.1 236.1h0M1747.2 253.3h0M1736.2 230.6h0M1747.1 255.1h0M1740.6 241.2h0M1746.8 230.9h0M1745.4 229.7h0M1739.5 247.2h0M1748.5 233.4h0M1735.3 242.2h0M1750.4 238.4h0M1739.4 256.2h0M1745.2 252.6h0M1747.2 256.2h0M1737.0 229.4h0M1738.3 245.5h0M1748.6 243.0h0M1746.8 245.5h0M1739.5 258.4h0M1738.3 232.8h0M1742.9 256.2h0M1740.0 229.3h0M1750.5 257.5h0M1733.1 237.7h0M1752.5 244.7h0M1736.2 252.2h0M1752.8 246.0h0M1737.4 248.0h0M1752.0 248.7h0M1733.5 241.6h0M1748.7 254.6h0M1735.7 247.9h0M1739.6 239.0h0M1739.2 243.7h0M1741.8 229.6h0M1740.2 228.5h0M1743.7 247.5h0M1738.3 241.5h0M1745.7 255.9h0M1748.4 249.9h0M1740.4 234.4h0M1744.1 238.3h0M1741.4 232.6h0M1748.6 260.8h0M1747.4 251.7h0" stroke="#d1615f" stroke-width="2.9" stroke-linecap="round" fill="none"/>
<path d="M1665.9 240.6h0M1660.6 254.1h0M1662.1 271.9h0M1660.4 273.0h0M1655.9 254.2h0M1652.7 253.1h0M1657.6 258.2h0M1664.3 254.3h0M1660.3 260.0h0M1646.8 254.3h0M1663.1 244.0h0M1650.0 261.8h0M1652.3 266.5h0M1670.0 262.6h0M1665.3 236.5h0M1659.4 255.9h0M1666.6 239.2h0M1667.4 262.1h0M1663.7 272.6h0M1655.6 270.8h0M1655.5 265.0h0M1645.3 253.6h0M1654.2 235.1h0M1667.7 268.8h0M1673.8 264.1h0M1650.9 266.6h0M1674.2 257.9h0M1662.0 264.2h0M1669.4 240.3h0M1658.2 247.2h0M1664.7 260.6h0M1655.1 258.0h0M1645.1 260.9h0M1650.4 237.5h0M1674.7 245.1h0M1644.5 258.5h0M1651.8 238.3h0M1660.5 246.2h0M1663.2 234.1h0M1656.1 249.5h0M1654.0 238.8h0M1666.2 261.4h0M1652.2 271.6h0M1675.5 254.1h0M1666.6 237.0h0M1662.4 255.2h0M1673.2 257.5h0M1658.2 262.2h0M1670.9 262.1h0M1665.8 236.3h0M1646.2 253.3h0M1649.4 248.1h0M1658.6 258.2h0M1651.4 258.0h0M1663.2 254.9h0M1657.8 267.5h0M1666.4 271.8h0M1660.8 242.9h0M1660.1 245.9h0M1650.6 250.6h0M1668.3 264.4h0M1668.5 267.6h0M1676.0 250.4h0M1671.5 254.8h0M1673.6 253.9h0M1650.2 260.9h0M1667.4 271.1h0M1654.2 254.1h0M1657.0 234.2h0M1664.9 234.2h0M1670.1 258.2h0M1655.7 255.6h0M1666.7 245.7h0M1668.4 258.3h0M1652.4 263.8h0M1664.5 258.3h0M1671.1 238.9h0M1658.4 243.2h0M1655.8 244.2h0M1665.1 262.4h0M1661.2 257.3h0M1665.6 272.2h0M1659.5 267.4h0M1653.2 271.1h0M1668.0 236.7h0M1666.3 261.9h0M1670.2 256.7h0M1665.9 243.7h0M1655.9 254.5h0M1656.5 265.3h0M1673.6 263.5h0M1670.3 268.1h0M1658.3 249.8h0M1675.6 257.1h0M1655.7 268.9h0" stroke="#8fc5f1" stroke-width="2.9" stroke-linecap="round" fill="none"/>
<path d="M1750.3 293.7h0M1735.9 292.4h0M1751.5 297.5h0M1743.0 272.0h0M1744.7 273.3h0M1737.2 278.8h0M1754.0 286.0h0M1737.8 281.5h0M1734.8 289.4h0M1753.5 297.0h0M1737.9 273.4h0M1743.7 275.9h0M1739.2 278.6h0M1732.2 283.0h0M1739.5 292.2h0M1762.3 285.3h0M1742.5 295.4h0M1739.3 293.7h0M1745.7 273.4h0M1754.3 292.2h0M1747.5 273.6h0M1741.4 274.6h0M1734.9 291.1h0M1754.7 294.1h0M1760.3 274.7h0M1737.6 297.2h0M1752.4 286.8h0M1740.5 271.7h0M1749.2 289.1h0M1755.5 295.5h0M1754.4 272.0h0M1750.8 289.8h0M1752.1 298.5h0M1758.6 287.9h0M1734.6 293.8h0M1759.9 276.6h0M1742.4 294.7h0M1740.9 283.4h0M1755.6 291.7h0M1753.1 291.4h0M1750.0 271.9h0M1748.2 297.7h0M1759.1 292.4h0M1760.5 277.5h0M1749.2 275.7h0M1745.4 298.3h0M1756.0 294.3h0M1762.6 282.9h0M1738.3 282.3h0M1737.9 297.0h0M1756.4 286.6h0M1747.8 282.5h0M1750.9 276.4h0M1741.0 291.4h0M1743.9 295.9h0M1755.6 294.0h0M1740.4 296.1h0M1754.3 295.3h0M1754.3 293.9h0M1733.1 286.1h0M1738.3 282.8h0M1743.2 278.6h0M1745.1 284.6h0M1749.2 272.3h0M1745.8 292.2h0M1751.9 290.9h0M1751.2 283.6h0M1752.0 278.9h0M1745.8 289.4h0M1735.8 285.8h0M1748.3 293.9h0M1757.0 274.6h0M1737.4 278.5h0M1758.8 279.5h0M1742.4 285.2h0M1746.3 292.1h0M1746.1 284.8h0M1757.2 293.0h0M1745.4 272.8h0M1750.0 290.8h0M1717.7 290.7h0M1722.3 297.6h0M1719.8 293.1h0M1723.7 302.3h0M1714.8 299.8h0M1715.9 302.5h0M1718.8 293.8h0M1721.6 301.8h0M1722.0 291.5h0M1711.7 300.8h0M1726.3 299.3h0M1719.6 295.9h0M1722.3 300.4h0M1725.1 300.2h0M1722.9 299.7h0M1726.1 298.5h0M1715.1 302.0h0M1720.2 302.9h0M1718.6 302.3h0M1722.7 291.2h0M1724.4 293.2h0M1712.4 298.1h0M1773.8 264.5h0M1772.8 263.9h0M1772.7 264.3h0M1769.5 264.0h0M1770.2 265.3h0M1735.1 303.0h0M1732.3 304.7h0M1733.3 304.7h0M1731.1 303.9h0" stroke="#8c5b4b" stroke-width="2.9" stroke-linecap="round" fill="none"/>
<path d="M1666.8 305.7h0M1683.4 315.7h0M1683.4 315.4h0M1677.7 319.7h0M1667.7 300.5h0M1686.7 297.8h0M1691.3 311.9h0M1675.0 318.3h0M1680.3 303.0h0M1669.7 313.7h0M1670.0 301.3h0M1669.8 319.7h0M1679.1 320.8h0M1674.6 307.3h0M1677.7 315.1h0M1677.8 295.8h0M1667.7 300.6h0M1675.4 313.2h0M1677.8 300.8h0M1665.2 311.2h0M1670.6 298.3h0M1685.9 307.2h0M1687.7 318.8h0M1681.1 305.0h0M1671.8 319.8h0M1674.3 316.6h0M1672.0 312.1h0M1690.7 302.2h0M1665.8 310.8h0M1684.9 317.5h0M1691.3 306.1h0M1678.9 309.7h0M1669.6 311.8h0M1681.1 295.9h0M1687.5 303.5h0M1671.9 305.5h0M1680.8 299.9h0M1690.3 315.3h0M1679.7 309.4h0M1681.1 316.1h0M1679.8 319.5h0M1668.8 318.6h0M1668.8 318.0h0M1684.9 300.6h0M1674.5 296.1h0M1689.6 305.7h0M1690.4 306.9h0M1674.8 310.4h0M1674.9 302.1h0M1680.4 319.1h0M1671.9 316.2h0M1685.9 311.3h0M1677.3 296.1h0M1688.0 304.6h0M1674.4 312.6h0M1673.8 299.3h0M1678.1 318.6h0M1676.6 297.5h0M1680.3 314.1h0M1677.9 309.3h0M1675.6 297.0h0M1686.6 317.0h0M1665.0 314.1h0M1684.9 308.2h0M1683.8 309.4h0M1674.2 320.0h0M1673.6 321.2h0M1683.6 304.2h0M1668.4 305.5h0M1670.3 302.7h0M1677.4 304.9h0M1686.5 317.9h0M1673.2 318.5h0M1680.5 302.9h0M1681.9 296.6h0" stroke="#f1c232" stroke-width="2.9" stroke-linecap="round" fill="none"/>
<clipPath id="mc"><rect x="1635.7" y="356.3" width="152.9" height="148.5"/></clipPath>
<filter id="mb" x="0" y="0" width="100%" height="100%"><feGaussianBlur stdDeviation="0.85"/></filter>
<g clip-path="url(#mc)"><g filter="url(#mb)">
<rect x="1633.7" y="354.3" width="156.9" height="152.5" fill="#120828"/>
<ellipse cx="1643.3" cy="389.6" rx="5.7" ry="5.5" fill="#9a1ee2" transform="rotate(-20 1643.3 389.6)"/>
<ellipse cx="1730.6" cy="498.8" rx="7.7" ry="3.0" fill="#8a12d6" transform="rotate(4 1730.6 498.8)"/>
<ellipse cx="1713.9" cy="472.3" rx="8.5" ry="6.0" fill="#7410b8" transform="rotate(-53 1713.9 472.3)"/>
<ellipse cx="1674.6" cy="462.9" rx="6.4" ry="3.0" fill="#8a12d6" transform="rotate(37 1674.6 462.9)"/>
<ellipse cx="1687.1" cy="436.6" rx="8.8" ry="4.4" fill="#7410b8" transform="rotate(-53 1687.1 436.6)"/>
<ellipse cx="1667.3" cy="477.3" rx="6.7" ry="4.6" fill="#8e18d8" transform="rotate(-35 1667.3 477.3)"/>
<ellipse cx="1648.7" cy="484.8" rx="9.1" ry="4.5" fill="#9a1ee2" transform="rotate(-9 1648.7 484.8)"/>
<ellipse cx="1767.6" cy="491.5" rx="4.2" ry="3.1" fill="#7d10c8" transform="rotate(43 1767.6 491.5)"/>
<ellipse cx="1693.7" cy="477.7" rx="5.5" ry="5.8" fill="#8a12d6" transform="rotate(46 1693.7 477.7)"/>
<ellipse cx="1649.4" cy="483.5" rx="6.1" ry="6.0" fill="#8e18d8" transform="rotate(-12 1649.4 483.5)"/>
<ellipse cx="1667.7" cy="415.6" rx="8.9" ry="4.6" fill="#9a1ee2" transform="rotate(-25 1667.7 415.6)"/>
<ellipse cx="1660.0" cy="457.6" rx="5.1" ry="3.8" fill="#7d10c8" transform="rotate(16 1660.0 457.6)"/>
<ellipse cx="1670.2" cy="418.8" rx="6.9" ry="4.9" fill="#7410b8" transform="rotate(54 1670.2 418.8)"/>
<ellipse cx="1653.6" cy="392.7" rx="6.4" ry="3.8" fill="#7d10c8" transform="rotate(-29 1653.6 392.7)"/>
<ellipse cx="1665.0" cy="462.8" rx="8.6" ry="4.9" fill="#7d10c8" transform="rotate(-47 1665.0 462.8)"/>
<ellipse cx="1675.3" cy="380.9" rx="5.9" ry="6.3" fill="#8e18d8" transform="rotate(42 1675.3 380.9)"/>
<ellipse cx="1667.6" cy="394.9" rx="9.1" ry="4.8" fill="#8a12d6" transform="rotate(-60 1667.6 394.9)"/>
<ellipse cx="1719.1" cy="477.5" rx="6.0" ry="6.0" fill="#7d10c8" transform="rotate(5 1719.1 477.5)"/>
<ellipse cx="1682.9" cy="459.2" rx="4.0" ry="3.5" fill="#8e18d8" transform="rotate(17 1682.9 459.2)"/>
<ellipse cx="1640.7" cy="468.0" rx="4.3" ry="6.5" fill="#7d10c8" transform="rotate(42 1640.7 468.0)"/>
<ellipse cx="1694.6" cy="498.2" rx="4.5" ry="6.5" fill="#8e18d8" transform="rotate(51 1694.6 498.2)"/>
<ellipse cx="1697.4" cy="409.3" rx="4.6" ry="4.8" fill="#8e18d8" transform="rotate(-53 1697.4 409.3)"/>
<ellipse cx="1707.9" cy="489.8" rx="8.5" ry="5.9" fill="#7410b8" transform="rotate(-24 1707.9 489.8)"/>
<ellipse cx="1648.5" cy="413.2" rx="8.5" ry="6.5" fill="#7410b8" transform="rotate(-8 1648.5 413.2)"/>
<ellipse cx="1708.9" cy="403.8" rx="7.7" ry="6.0" fill="#7d10c8" transform="rotate(-24 1708.9 403.8)"/>
<ellipse cx="1653.6" cy="368.3" rx="8.3" ry="5.5" fill="#8e18d8" transform="rotate(-7 1653.6 368.3)"/>
<ellipse cx="1676.1" cy="454.4" rx="7.0" ry="4.3" fill="#8a12d6" transform="rotate(37 1676.1 454.4)"/>
<ellipse cx="1637.8" cy="471.0" rx="7.2" ry="5.2" fill="#7d10c8" transform="rotate(-57 1637.8 471.0)"/>
<ellipse cx="1654.0" cy="415.0" rx="9.0" ry="5.7" fill="#8a12d6" transform="rotate(-5 1654.0 415.0)"/>
<ellipse cx="1649.8" cy="481.5" rx="8.4" ry="4.1" fill="#7d10c8" transform="rotate(1 1649.8 481.5)"/>
<ellipse cx="1688.1" cy="378.7" rx="8.0" ry="6.2" fill="#7410b8" transform="rotate(-45 1688.1 378.7)"/>
<ellipse cx="1669.9" cy="433.2" rx="7.1" ry="5.5" fill="#8a12d6" transform="rotate(-25 1669.9 433.2)"/>
<ellipse cx="1672.7" cy="387.7" rx="5.4" ry="5.8" fill="#8a12d6" transform="rotate(30 1672.7 387.7)"/>
<ellipse cx="1717.3" cy="458.8" rx="8.0" ry="3.9" fill="#7410b8" transform="rotate(-17 1717.3 458.8)"/>
<ellipse cx="1775.1" cy="491.4" rx="7.7" ry="4.3" fill="#9a1ee2" transform="rotate(33 1775.1 491.4)"/>
<ellipse cx="1664.4" cy="478.3" rx="4.9" ry="3.3" fill="#8e18d8" transform="rotate(-16 1664.4 478.3)"/>
<ellipse cx="1678.9" cy="399.4" rx="5.5" ry="4.9" fill="#7410b8" transform="rotate(-19 1678.9 399.4)"/>
<ellipse cx="1681.1" cy="490.8" rx="9.2" ry="4.8" fill="#7410b8" transform="rotate(50 1681.1 490.8)"/>
<ellipse cx="1712.5" cy="484.2" rx="9.4" ry="3.3" fill="#8a12d6" transform="rotate(-29 1712.5 484.2)"/>
<ellipse cx="1669.2" cy="434.5" rx="9.5" ry="6.3" fill="#8a12d6" transform="rotate(-30 1669.2 434.5)"/>
<ellipse cx="1671.4" cy="421.8" rx="5.2" ry="3.7" fill="#9a1ee2" transform="rotate(-54 1671.4 421.8)"/>
<ellipse cx="1711.7" cy="493.0" rx="4.4" ry="5.9" fill="#8a12d6" transform="rotate(44 1711.7 493.0)"/>
<ellipse cx="1649.9" cy="454.0" rx="8.2" ry="3.5" fill="#8a12d6" transform="rotate(-15 1649.9 454.0)"/>
<ellipse cx="1682.0" cy="428.4" rx="8.3" ry="4.1" fill="#7410b8" transform="rotate(-10 1682.0 428.4)"/>
<ellipse cx="1661.0" cy="494.6" rx="8.8" ry="4.5" fill="#7410b8" transform="rotate(49 1661.0 494.6)"/>
<ellipse cx="1707.3" cy="479.7" rx="8.8" ry="5.2" fill="#8a12d6" transform="rotate(53 1707.3 479.7)"/>
<ellipse cx="1715.0" cy="481.4" rx="8.2" ry="4.3" fill="#7410b8" transform="rotate(-10 1715.0 481.4)"/>
<ellipse cx="1641.1" cy="372.0" rx="6.5" ry="5.6" fill="#8e18d8" transform="rotate(-44 1641.1 372.0)"/>
<ellipse cx="1694.1" cy="439.2" rx="7.2" ry="4.1" fill="#7410b8" transform="rotate(45 1694.1 439.2)"/>
<ellipse cx="1747.5" cy="377.9" rx="7.9" ry="4.4" fill="#8a12d6" transform="rotate(-44 1747.5 377.9)"/>
<ellipse cx="1727.3" cy="502.3" rx="6.1" ry="4.9" fill="#7410b8" transform="rotate(32 1727.3 502.3)"/>
<ellipse cx="1760.2" cy="463.6" rx="6.5" ry="3.1" fill="#8e18d8" transform="rotate(21 1760.2 463.6)"/>
<ellipse cx="1736.7" cy="472.1" rx="6.4" ry="3.2" fill="#7410b8" transform="rotate(-34 1736.7 472.1)"/>
<ellipse cx="1695.2" cy="482.1" rx="6.1" ry="6.0" fill="#8a12d6" transform="rotate(60 1695.2 482.1)"/>
<ellipse cx="1654.0" cy="375.8" rx="6.7" ry="6.1" fill="#8e18d8" transform="rotate(46 1654.0 375.8)"/>
<ellipse cx="1679.6" cy="406.0" rx="6.0" ry="4.2" fill="#8a12d6" transform="rotate(-29 1679.6 406.0)"/>
<ellipse cx="1645.8" cy="463.1" rx="8.6" ry="4.2" fill="#9a1ee2" transform="rotate(-36 1645.8 463.1)"/>
<ellipse cx="1724.9" cy="374.3" rx="5.6" ry="3.3" fill="#8e18d8" transform="rotate(-46 1724.9 374.3)"/>
<ellipse cx="1779.8" cy="499.4" rx="5.2" ry="5.5" fill="#8a12d6" transform="rotate(19 1779.8 499.4)"/>
<ellipse cx="1672.7" cy="429.5" rx="8.4" ry="4.5" fill="#8a12d6" transform="rotate(-33 1672.7 429.5)"/>
<ellipse cx="1683.0" cy="432.9" rx="5.7" ry="3.8" fill="#9a1ee2" transform="rotate(12 1683.0 432.9)"/>
<ellipse cx="1675.0" cy="361.1" rx="5.3" ry="4.5" fill="#8e18d8" transform="rotate(-20 1675.0 361.1)"/>
<ellipse cx="1698.7" cy="363.0" rx="5.6" ry="6.0" fill="#7410b8" transform="rotate(-7 1698.7 363.0)"/>
<ellipse cx="1672.7" cy="463.9" rx="4.7" ry="3.6" fill="#7410b8" transform="rotate(13 1672.7 463.9)"/>
<ellipse cx="1688.4" cy="475.5" rx="5.3" ry="3.6" fill="#8a12d6" transform="rotate(-21 1688.4 475.5)"/>
<ellipse cx="1731.7" cy="491.0" rx="9.3" ry="3.2" fill="#7410b8" transform="rotate(55 1731.7 491.0)"/>
<ellipse cx="1646.4" cy="358.2" rx="6.1" ry="5.6" fill="#9a1ee2" transform="rotate(-4 1646.4 358.2)"/>
<ellipse cx="1713.7" cy="484.2" rx="6.5" ry="4.7" fill="#9a1ee2" transform="rotate(17 1713.7 484.2)"/>
<ellipse cx="1693.3" cy="476.3" rx="7.0" ry="6.4" fill="#7410b8" transform="rotate(-59 1693.3 476.3)"/>
<ellipse cx="1639.7" cy="446.1" rx="7.7" ry="4.9" fill="#9a1ee2" transform="rotate(-53 1639.7 446.1)"/>
<ellipse cx="1652.3" cy="474.0" rx="5.3" ry="4.4" fill="#9a1ee2" transform="rotate(-54 1652.3 474.0)"/>
<ellipse cx="1662.4" cy="443.8" rx="4.8" ry="3.5" fill="#8a12d6" transform="rotate(-1 1662.4 443.8)"/>
<ellipse cx="1682.1" cy="387.3" rx="8.9" ry="4.6" fill="#9a1ee2" transform="rotate(29 1682.1 387.3)"/>
<ellipse cx="1737.0" cy="478.5" rx="6.2" ry="3.4" fill="#8e18d8" transform="rotate(50 1737.0 478.5)"/>
<ellipse cx="1672.9" cy="500.8" rx="5.8" ry="5.4" fill="#9a1ee2" transform="rotate(-57 1672.9 500.8)"/>
<ellipse cx="1673.5" cy="462.2" rx="5.4" ry="4.7" fill="#7410b8" transform="rotate(-13 1673.5 462.2)"/>
<ellipse cx="1647.2" cy="496.0" rx="6.4" ry="3.4" fill="#7410b8" transform="rotate(8 1647.2 496.0)"/>
<ellipse cx="1659.6" cy="394.7" rx="8.3" ry="4.9" fill="#7d10c8" transform="rotate(-53 1659.6 394.7)"/>
<ellipse cx="1689.7" cy="425.3" rx="8.7" ry="4.3" fill="#9a1ee2" transform="rotate(51 1689.7 425.3)"/>
<ellipse cx="1722.0" cy="479.7" rx="6.6" ry="6.1" fill="#8a12d6" transform="rotate(9 1722.0 479.7)"/>
<ellipse cx="1669.1" cy="415.9" rx="5.5" ry="6.0" fill="#7d10c8" transform="rotate(44 1669.1 415.9)"/>
<ellipse cx="1768.0" cy="360.1" rx="8.6" ry="4.0" fill="#8e18d8" transform="rotate(2 1768.0 360.1)"/>
<ellipse cx="1656.3" cy="367.9" rx="5.9" ry="4.8" fill="#9a1ee2" transform="rotate(-2 1656.3 367.9)"/>
<ellipse cx="1705.0" cy="442.6" rx="4.3" ry="4.7" fill="#8e18d8" transform="rotate(-54 1705.0 442.6)"/>
<ellipse cx="1669.3" cy="481.0" rx="5.4" ry="5.7" fill="#8a12d6" transform="rotate(22 1669.3 481.0)"/>
<ellipse cx="1652.1" cy="392.8" rx="5.6" ry="3.4" fill="#8a12d6" transform="rotate(20 1652.1 392.8)"/>
<ellipse cx="1701.7" cy="441.3" rx="6.2" ry="3.6" fill="#8a12d6" transform="rotate(22 1701.7 441.3)"/>
<ellipse cx="1655.8" cy="481.5" rx="4.9" ry="3.5" fill="#8a12d6" transform="rotate(25 1655.8 481.5)"/>
<ellipse cx="1718.1" cy="446.4" rx="4.5" ry="5.6" fill="#9a1ee2" transform="rotate(-6 1718.1 446.4)"/>
<ellipse cx="1692.8" cy="390.9" rx="7.6" ry="4.1" fill="#9a1ee2" transform="rotate(-58 1692.8 390.9)"/>
<ellipse cx="1636.8" cy="440.8" rx="6.2" ry="5.6" fill="#9a1ee2" transform="rotate(-22 1636.8 440.8)"/>
<ellipse cx="1712.9" cy="405.0" rx="4.3" ry="5.8" fill="#7410b8" transform="rotate(10 1712.9 405.0)"/>
<ellipse cx="1663.0" cy="365.0" rx="7.7" ry="4.4" fill="#8e18d8" transform="rotate(-57 1663.0 365.0)"/>
<ellipse cx="1682.1" cy="420.6" rx="7.2" ry="4.0" fill="#7d10c8" transform="rotate(23 1682.1 420.6)"/>
<ellipse cx="1673.0" cy="491.3" rx="6.9" ry="4.3" fill="#8e18d8" transform="rotate(24 1673.0 491.3)"/>
<ellipse cx="1662.9" cy="389.3" rx="8.0" ry="3.6" fill="#7410b8" transform="rotate(-41 1662.9 389.3)"/>
<ellipse cx="1662.9" cy="412.7" rx="8.0" ry="3.6" fill="#9a1ee2" transform="rotate(-15 1662.9 412.7)"/>
<ellipse cx="1658.6" cy="385.7" rx="7.5" ry="5.6" fill="#8e18d8" transform="rotate(-22 1658.6 385.7)"/>
<ellipse cx="1759.9" cy="375.5" rx="9.0" ry="6.1" fill="#8e18d8" transform="rotate(36 1759.9 375.5)"/>
<ellipse cx="1643.9" cy="471.1" rx="5.6" ry="4.0" fill="#8a12d6" transform="rotate(50 1643.9 471.1)"/>
<ellipse cx="1687.1" cy="390.0" rx="7.2" ry="3.9" fill="#9a1ee2" transform="rotate(-28 1687.1 390.0)"/>
<ellipse cx="1710.8" cy="409.8" rx="5.1" ry="4.0" fill="#9a1ee2" transform="rotate(42 1710.8 409.8)"/>
<ellipse cx="1670.4" cy="484.6" rx="6.5" ry="5.6" fill="#9a1ee2" transform="rotate(-37 1670.4 484.6)"/>
<ellipse cx="1637.7" cy="501.2" rx="4.3" ry="6.3" fill="#7d10c8" transform="rotate(-22 1637.7 501.2)"/>
<ellipse cx="1663.7" cy="415.0" rx="4.3" ry="3.7" fill="#8a12d6" transform="rotate(49 1663.7 415.0)"/>
<ellipse cx="1666.2" cy="448.9" rx="6.5" ry="6.0" fill="#8a12d6" transform="rotate(-41 1666.2 448.9)"/>
<ellipse cx="1681.4" cy="405.0" rx="7.1" ry="3.4" fill="#8a12d6" transform="rotate(20 1681.4 405.0)"/>
<ellipse cx="1710.8" cy="475.3" rx="8.6" ry="4.1" fill="#8e18d8" transform="rotate(-60 1710.8 475.3)"/>
<ellipse cx="1669.9" cy="462.5" rx="7.2" ry="4.1" fill="#9a1ee2" transform="rotate(26 1669.9 462.5)"/>
<ellipse cx="1670.6" cy="429.5" rx="7.6" ry="5.5" fill="#7410b8" transform="rotate(2 1670.6 429.5)"/>
<ellipse cx="1781.0" cy="484.7" rx="4.2" ry="4.0" fill="#7410b8" transform="rotate(-39 1781.0 484.7)"/>
<ellipse cx="1667.4" cy="381.8" rx="8.1" ry="4.5" fill="#8a12d6" transform="rotate(-13 1667.4 381.8)"/>
<ellipse cx="1740.7" cy="484.6" rx="5.8" ry="5.1" fill="#8e18d8" transform="rotate(-57 1740.7 484.6)"/>
<ellipse cx="1700.2" cy="389.8" rx="7.9" ry="5.8" fill="#9a1ee2" transform="rotate(15 1700.2 389.8)"/>
<ellipse cx="1679.1" cy="357.8" rx="8.9" ry="4.3" fill="#8e18d8" transform="rotate(-28 1679.1 357.8)"/>
<ellipse cx="1635.8" cy="381.4" rx="9.4" ry="5.6" fill="#8a12d6" transform="rotate(-15 1635.8 381.4)"/>
<ellipse cx="1712.6" cy="482.3" rx="6.3" ry="4.8" fill="#7d10c8" transform="rotate(13 1712.6 482.3)"/>
<ellipse cx="1658.4" cy="457.5" rx="5.7" ry="5.3" fill="#7d10c8" transform="rotate(-13 1658.4 457.5)"/>
<ellipse cx="1664.0" cy="367.2" rx="5.9" ry="3.4" fill="#7d10c8" transform="rotate(24 1664.0 367.2)"/>
<ellipse cx="1678.6" cy="366.8" rx="9.1" ry="5.5" fill="#8a12d6" transform="rotate(23 1678.6 366.8)"/>
<ellipse cx="1654.5" cy="426.3" rx="7.2" ry="3.6" fill="#7410b8" transform="rotate(-27 1654.5 426.3)"/>
<ellipse cx="1707.2" cy="498.9" rx="4.2" ry="3.2" fill="#7d10c8" transform="rotate(-49 1707.2 498.9)"/>
<ellipse cx="1698.2" cy="481.6" rx="6.3" ry="4.6" fill="#7410b8" transform="rotate(-9 1698.2 481.6)"/>
<ellipse cx="1643.1" cy="452.3" rx="4.3" ry="5.7" fill="#7d10c8" transform="rotate(-43 1643.1 452.3)"/>
<ellipse cx="1654.6" cy="427.5" rx="4.3" ry="5.6" fill="#7410b8" transform="rotate(37 1654.6 427.5)"/>
<ellipse cx="1713.3" cy="503.4" rx="5.3" ry="6.4" fill="#8a12d6" transform="rotate(-34 1713.3 503.4)"/>
<ellipse cx="1677.9" cy="428.7" rx="4.8" ry="5.7" fill="#8e18d8" transform="rotate(49 1677.9 428.7)"/>
<ellipse cx="1746.5" cy="363.4" rx="5.6" ry="5.8" fill="#7410b8" transform="rotate(59 1746.5 363.4)"/>
<ellipse cx="1664.9" cy="425.5" rx="9.4" ry="3.2" fill="#9a1ee2" transform="rotate(-12 1664.9 425.5)"/>
<ellipse cx="1694.8" cy="477.2" rx="5.3" ry="3.7" fill="#7d10c8" transform="rotate(17 1694.8 477.2)"/>
<ellipse cx="1657.4" cy="438.8" rx="7.2" ry="5.2" fill="#7410b8" transform="rotate(38 1657.4 438.8)"/>
<ellipse cx="1639.9" cy="491.4" rx="9.3" ry="5.3" fill="#9a1ee2" transform="rotate(-52 1639.9 491.4)"/>
<ellipse cx="1642.2" cy="377.6" rx="4.2" ry="4.5" fill="#7410b8" transform="rotate(19 1642.2 377.6)"/>
<ellipse cx="1742.6" cy="501.1" rx="7.6" ry="3.8" fill="#7d10c8" transform="rotate(11 1742.6 501.1)"/>
<ellipse cx="1745.3" cy="488.6" rx="7.8" ry="5.3" fill="#9a1ee2" transform="rotate(-33 1745.3 488.6)"/>
<ellipse cx="1653.9" cy="439.6" rx="9.3" ry="6.2" fill="#8e18d8" transform="rotate(-27 1653.9 439.6)"/>
<ellipse cx="1676.6" cy="384.9" rx="8.0" ry="3.3" fill="#9a1ee2" transform="rotate(-28 1676.6 384.9)"/>
<ellipse cx="1653.0" cy="472.0" rx="8.8" ry="3.8" fill="#9a1ee2" transform="rotate(40 1653.0 472.0)"/>
<ellipse cx="1692.7" cy="376.6" rx="9.2" ry="4.1" fill="#8e18d8" transform="rotate(-12 1692.7 376.6)"/>
<ellipse cx="1710.4" cy="370.4" rx="8.6" ry="3.6" fill="#8a12d6" transform="rotate(27 1710.4 370.4)"/>
<ellipse cx="1704.9" cy="484.4" rx="5.8" ry="5.4" fill="#8e18d8" transform="rotate(-13 1704.9 484.4)"/>
<ellipse cx="1639.9" cy="500.3" rx="4.2" ry="4.2" fill="#8a12d6" transform="rotate(20 1639.9 500.3)"/>
<ellipse cx="1669.2" cy="365.2" rx="7.7" ry="3.5" fill="#7d10c8" transform="rotate(-47 1669.2 365.2)"/>
<ellipse cx="1676.7" cy="356.3" rx="4.9" ry="3.1" fill="#7410b8" transform="rotate(-54 1676.7 356.3)"/>
<ellipse cx="1665.2" cy="463.6" rx="7.4" ry="6.0" fill="#8a12d6" transform="rotate(59 1665.2 463.6)"/>
<ellipse cx="1777.9" cy="480.5" rx="8.0" ry="4.0" fill="#8e18d8" transform="rotate(54 1777.9 480.5)"/>
<ellipse cx="1662.1" cy="368.9" rx="7.1" ry="5.7" fill="#9a1ee2" transform="rotate(36 1662.1 368.9)"/>
<ellipse cx="1651.5" cy="393.5" rx="8.8" ry="5.6" fill="#7d10c8" transform="rotate(5 1651.5 393.5)"/>
<ellipse cx="1664.6" cy="381.0" rx="9.4" ry="3.7" fill="#7d10c8" transform="rotate(-8 1664.6 381.0)"/>
<ellipse cx="1638.3" cy="413.8" rx="4.3" ry="6.4" fill="#7d10c8" transform="rotate(-16 1638.3 413.8)"/>
<ellipse cx="1645.4" cy="488.0" rx="8.4" ry="5.3" fill="#7d10c8" transform="rotate(9 1645.4 488.0)"/>
<ellipse cx="1656.1" cy="443.9" rx="5.0" ry="6.3" fill="#9a1ee2" transform="rotate(-41 1656.1 443.9)"/>
<ellipse cx="1691.0" cy="371.7" rx="9.0" ry="3.6" fill="#9a1ee2" transform="rotate(23 1691.0 371.7)"/>
<ellipse cx="1643.8" cy="457.4" rx="9.0" ry="3.8" fill="#8a12d6" transform="rotate(37 1643.8 457.4)"/>
<ellipse cx="1740.4" cy="475.3" rx="6.8" ry="5.7" fill="#9a1ee2" transform="rotate(1 1740.4 475.3)"/>
<ellipse cx="1729.9" cy="474.6" rx="9.1" ry="4.5" fill="#7d10c8" transform="rotate(50 1729.9 474.6)"/>
<ellipse cx="1646.5" cy="415.1" rx="4.2" ry="3.7" fill="#7410b8" transform="rotate(13 1646.5 415.1)"/>
<ellipse cx="1669.7" cy="410.2" rx="8.6" ry="4.3" fill="#7d10c8" transform="rotate(-18 1669.7 410.2)"/>
<ellipse cx="1706.4" cy="479.9" rx="5.6" ry="4.5" fill="#9a1ee2" transform="rotate(-18 1706.4 479.9)"/>
<ellipse cx="1749.1" cy="364.2" rx="8.0" ry="3.0" fill="#7d10c8" transform="rotate(8 1749.1 364.2)"/>
<ellipse cx="1712.6" cy="475.3" rx="6.3" ry="3.3" fill="#7410b8" transform="rotate(-21 1712.6 475.3)"/>
<ellipse cx="1718.4" cy="486.9" rx="9.0" ry="4.8" fill="#7d10c8" transform="rotate(48 1718.4 486.9)"/>
<ellipse cx="1636.9" cy="411.7" rx="6.6" ry="4.4" fill="#7d10c8" transform="rotate(-13 1636.9 411.7)"/>
<ellipse cx="1751.7" cy="493.7" rx="7.5" ry="5.2" fill="#8e18d8" transform="rotate(24 1751.7 493.7)"/>
<ellipse cx="1640.1" cy="433.5" rx="8.0" ry="5.4" fill="#8a12d6" transform="rotate(-53 1640.1 433.5)"/>
<ellipse cx="1665.4" cy="427.5" rx="8.4" ry="5.4" fill="#8e18d8" transform="rotate(-8 1665.4 427.5)"/>
<ellipse cx="1670.9" cy="403.5" rx="8.6" ry="3.7" fill="#7410b8" transform="rotate(-3 1670.9 403.5)"/>
<ellipse cx="1700.2" cy="471.9" rx="7.0" ry="5.6" fill="#9a1ee2" transform="rotate(54 1700.2 471.9)"/>
<ellipse cx="1641.8" cy="402.0" rx="6.8" ry="3.8" fill="#7410b8" transform="rotate(-49 1641.8 402.0)"/>
<ellipse cx="1756.4" cy="500.3" rx="8.3" ry="5.6" fill="#8e18d8" transform="rotate(37 1756.4 500.3)"/>
<ellipse cx="1686.9" cy="485.0" rx="7.6" ry="6.4" fill="#9a1ee2" transform="rotate(45 1686.9 485.0)"/>
<ellipse cx="1636.7" cy="380.9" rx="6.0" ry="3.1" fill="#7d10c8" transform="rotate(-16 1636.7 380.9)"/>
<ellipse cx="1781.1" cy="370.1" rx="8.5" ry="4.2" fill="#8e18d8" transform="rotate(0 1781.1 370.1)"/>
<ellipse cx="1709.8" cy="440.3" rx="8.1" ry="4.2" fill="#8e18d8" transform="rotate(9 1709.8 440.3)"/>
<ellipse cx="1712.6" cy="356.5" rx="8.0" ry="6.4" fill="#8e18d8" transform="rotate(49 1712.6 356.5)"/>
<ellipse cx="1668.2" cy="419.1" rx="9.1" ry="4.6" fill="#8a12d6" transform="rotate(8 1668.2 419.1)"/>
<ellipse cx="1649.0" cy="492.1" rx="9.0" ry="3.7" fill="#7410b8" transform="rotate(49 1649.0 492.1)"/>
<ellipse cx="1666.4" cy="462.8" rx="8.3" ry="6.2" fill="#7410b8" transform="rotate(-21 1666.4 462.8)"/>
<ellipse cx="1709.9" cy="431.7" rx="5.3" ry="4.2" fill="#8a12d6" transform="rotate(32 1709.9 431.7)"/>
<ellipse cx="1675.9" cy="450.6" rx="4.9" ry="4.3" fill="#9a1ee2" transform="rotate(50 1675.9 450.6)"/>
<ellipse cx="1646.4" cy="421.7" rx="6.7" ry="4.9" fill="#7d10c8" transform="rotate(-25 1646.4 421.7)"/>
<ellipse cx="1777.5" cy="497.7" rx="7.3" ry="5.8" fill="#8a12d6" transform="rotate(-27 1777.5 497.7)"/>
<ellipse cx="1717.7" cy="484.3" rx="6.2" ry="5.3" fill="#9a1ee2" transform="rotate(-47 1717.7 484.3)"/>
<ellipse cx="1676.0" cy="426.5" rx="4.6" ry="5.4" fill="#9a1ee2" transform="rotate(52 1676.0 426.5)"/>
<ellipse cx="1706.1" cy="361.2" rx="4.1" ry="4.7" fill="#7410b8" transform="rotate(-14 1706.1 361.2)"/>
<ellipse cx="1778.4" cy="370.5" rx="4.6" ry="5.1" fill="#8e18d8" transform="rotate(6 1778.4 370.5)"/>
<ellipse cx="1656.9" cy="380.3" rx="6.5" ry="5.9" fill="#7410b8" transform="rotate(23 1656.9 380.3)"/>
<ellipse cx="1650.4" cy="441.4" rx="7.5" ry="3.3" fill="#9a1ee2" transform="rotate(-31 1650.4 441.4)"/>
<ellipse cx="1699.7" cy="481.8" rx="9.5" ry="5.6" fill="#7410b8" transform="rotate(25 1699.7 481.8)"/>
<ellipse cx="1646.7" cy="410.9" rx="5.5" ry="4.5" fill="#8e18d8" transform="rotate(-14 1646.7 410.9)"/>
<ellipse cx="1700.0" cy="377.5" rx="7.8" ry="3.1" fill="#8a12d6" transform="rotate(-58 1700.0 377.5)"/>
<ellipse cx="1675.7" cy="445.9" rx="8.9" ry="6.2" fill="#8e18d8" transform="rotate(24 1675.7 445.9)"/>
<ellipse cx="1656.6" cy="449.1" rx="8.4" ry="4.6" fill="#9a1ee2" transform="rotate(-4 1656.6 449.1)"/>
<ellipse cx="1672.6" cy="482.6" rx="8.1" ry="6.2" fill="#8a12d6" transform="rotate(-54 1672.6 482.6)"/>
<ellipse cx="1700.6" cy="409.6" rx="7.6" ry="6.1" fill="#8e18d8" transform="rotate(-50 1700.6 409.6)"/>
<ellipse cx="1744.0" cy="372.8" rx="5.1" ry="4.8" fill="#9a1ee2" transform="rotate(2 1744.0 372.8)"/>
<ellipse cx="1635.8" cy="450.8" rx="5.9" ry="5.9" fill="#9a1ee2" transform="rotate(46 1635.8 450.8)"/>
<ellipse cx="1652.3" cy="356.8" rx="6.1" ry="5.8" fill="#7d10c8" transform="rotate(14 1652.3 356.8)"/>
<ellipse cx="1720.5" cy="474.1" rx="8.8" ry="4.0" fill="#8e18d8" transform="rotate(-12 1720.5 474.1)"/>
<ellipse cx="1711.8" cy="504.3" rx="4.1" ry="5.2" fill="#7d10c8" transform="rotate(-7 1711.8 504.3)"/>
<ellipse cx="1667.7" cy="425.6" rx="4.4" ry="5.1" fill="#8a12d6" transform="rotate(24 1667.7 425.6)"/>
<ellipse cx="1686.8" cy="470.6" rx="7.0" ry="5.0" fill="#8a12d6" transform="rotate(-40 1686.8 470.6)"/>
<ellipse cx="1708.8" cy="385.2" rx="8.4" ry="6.3" fill="#8a12d6" transform="rotate(-31 1708.8 385.2)"/>
<ellipse cx="1704.3" cy="502.9" rx="8.3" ry="6.1" fill="#8e18d8" transform="rotate(11 1704.3 502.9)"/>
<ellipse cx="1644.3" cy="467.5" rx="7.7" ry="5.7" fill="#9a1ee2" transform="rotate(-25 1644.3 467.5)"/>
<ellipse cx="1700.6" cy="358.8" rx="4.2" ry="6.1" fill="#9a1ee2" transform="rotate(-53 1700.6 358.8)"/>
<ellipse cx="1733.7" cy="487.0" rx="7.6" ry="4.7" fill="#8e18d8" transform="rotate(56 1733.7 487.0)"/>
<ellipse cx="1696.2" cy="454.2" rx="8.1" ry="3.2" fill="#9a1ee2" transform="rotate(-56 1696.2 454.2)"/>
<ellipse cx="1699.0" cy="401.3" rx="7.9" ry="6.0" fill="#9a1ee2" transform="rotate(8 1699.0 401.3)"/>
<ellipse cx="1688.1" cy="474.5" rx="5.8" ry="4.8" fill="#8e18d8" transform="rotate(-45 1688.1 474.5)"/>
<ellipse cx="1645.5" cy="469.7" rx="9.1" ry="5.8" fill="#7410b8" transform="rotate(-31 1645.5 469.7)"/>
<ellipse cx="1763.8" cy="486.1" rx="5.1" ry="3.4" fill="#8e18d8" transform="rotate(-17 1763.8 486.1)"/>
<ellipse cx="1774.1" cy="486.2" rx="6.8" ry="6.2" fill="#7410b8" transform="rotate(-32 1774.1 486.2)"/>
<ellipse cx="1704.8" cy="469.7" rx="5.1" ry="3.2" fill="#8a12d6" transform="rotate(12 1704.8 469.7)"/>
<ellipse cx="1719.4" cy="503.2" rx="7.5" ry="4.5" fill="#7d10c8" transform="rotate(57 1719.4 503.2)"/>
<ellipse cx="1709.4" cy="359.5" rx="7.5" ry="4.5" fill="#9a1ee2" transform="rotate(-2 1709.4 359.5)"/>
<ellipse cx="1674.8" cy="361.8" rx="7.0" ry="4.4" fill="#8e18d8" transform="rotate(23 1674.8 361.8)"/>
<ellipse cx="1686.4" cy="493.9" rx="7.3" ry="5.1" fill="#8e18d8" transform="rotate(-58 1686.4 493.9)"/>
<ellipse cx="1668.7" cy="453.5" rx="6.3" ry="3.1" fill="#7d10c8" transform="rotate(52 1668.7 453.5)"/>
<ellipse cx="1747.6" cy="494.8" rx="8.5" ry="5.7" fill="#7d10c8" transform="rotate(7 1747.6 494.8)"/>
<ellipse cx="1694.6" cy="383.3" rx="4.2" ry="5.4" fill="#8a12d6" transform="rotate(-10 1694.6 383.3)"/>
<ellipse cx="1668.0" cy="497.2" rx="6.9" ry="5.2" fill="#7d10c8" transform="rotate(-25 1668.0 497.2)"/>
<ellipse cx="1698.6" cy="359.2" rx="7.6" ry="3.1" fill="#8e18d8" transform="rotate(-20 1698.6 359.2)"/>
<ellipse cx="1642.1" cy="386.0" rx="6.5" ry="3.9" fill="#7410b8" transform="rotate(-32 1642.1 386.0)"/>
<ellipse cx="1662.3" cy="423.7" rx="5.5" ry="5.0" fill="#8a12d6" transform="rotate(-22 1662.3 423.7)"/>
<ellipse cx="1729.2" cy="495.9" rx="8.8" ry="6.2" fill="#7d10c8" transform="rotate(-55 1729.2 495.9)"/>
<ellipse cx="1676.6" cy="390.1" rx="5.1" ry="6.3" fill="#8e18d8" transform="rotate(-50 1676.6 390.1)"/>
<ellipse cx="1692.3" cy="384.0" rx="7.0" ry="5.6" fill="#8e18d8" transform="rotate(15 1692.3 384.0)"/>
<ellipse cx="1670.7" cy="418.3" rx="8.4" ry="6.2" fill="#7d10c8" transform="rotate(1 1670.7 418.3)"/>
<ellipse cx="1711.8" cy="443.5" rx="5.2" ry="4.9" fill="#8e18d8" transform="rotate(-26 1711.8 443.5)"/>
<ellipse cx="1713.1" cy="404.9" rx="5.6" ry="5.4" fill="#9a1ee2" transform="rotate(-21 1713.1 404.9)"/>
<ellipse cx="1758.1" cy="472.9" rx="7.3" ry="4.9" fill="#9a1ee2" transform="rotate(17 1758.1 472.9)"/>
<ellipse cx="1722.1" cy="490.9" rx="6.9" ry="3.3" fill="#7410b8" transform="rotate(10 1722.1 490.9)"/>
<ellipse cx="1777.8" cy="366.7" rx="8.2" ry="5.7" fill="#7d10c8" transform="rotate(-34 1777.8 366.7)"/>
<ellipse cx="1640.0" cy="373.7" rx="5.4" ry="4.3" fill="#8e18d8" transform="rotate(-45 1640.0 373.7)"/>
<ellipse cx="1750.4" cy="494.5" rx="7.6" ry="5.6" fill="#8a12d6" transform="rotate(-43 1750.4 494.5)"/>
<ellipse cx="1763.7" cy="473.8" rx="7.0" ry="3.4" fill="#7d10c8" transform="rotate(57 1763.7 473.8)"/>
<ellipse cx="1755.2" cy="488.1" rx="6.7" ry="4.2" fill="#8e18d8" transform="rotate(-21 1755.2 488.1)"/>
<ellipse cx="1650.2" cy="437.7" rx="7.1" ry="4.5" fill="#8a12d6" transform="rotate(31 1650.2 437.7)"/>
<ellipse cx="1665.9" cy="449.9" rx="5.7" ry="4.5" fill="#8e18d8" transform="rotate(9 1665.9 449.9)"/>
<ellipse cx="1715.1" cy="414.2" rx="6.4" ry="5.2" fill="#7d10c8" transform="rotate(-22 1715.1 414.2)"/>
<ellipse cx="1783.4" cy="358.2" rx="5.0" ry="3.4" fill="#8e18d8" transform="rotate(31 1783.4 358.2)"/>
<ellipse cx="1680.3" cy="370.3" rx="5.5" ry="5.7" fill="#7d10c8" transform="rotate(37 1680.3 370.3)"/>
<ellipse cx="1688.7" cy="385.2" rx="7.2" ry="4.2" fill="#9a1ee2" transform="rotate(-45 1688.7 385.2)"/>
<ellipse cx="1718.8" cy="494.6" rx="8.0" ry="5.5" fill="#9a1ee2" transform="rotate(-12 1718.8 494.6)"/>
<ellipse cx="1662.9" cy="388.2" rx="5.9" ry="5.0" fill="#7410b8" transform="rotate(8 1662.9 388.2)"/>
<ellipse cx="1715.2" cy="418.1" rx="5.0" ry="3.2" fill="#8a12d6" transform="rotate(52 1715.2 418.1)"/>
<ellipse cx="1784.6" cy="501.6" rx="9.1" ry="5.2" fill="#9a1ee2" transform="rotate(-13 1784.6 501.6)"/>
<ellipse cx="1703.3" cy="433.5" rx="6.4" ry="6.2" fill="#9a1ee2" transform="rotate(58 1703.3 433.5)"/>
<ellipse cx="1648.4" cy="417.5" rx="4.3" ry="4.2" fill="#7d10c8" transform="rotate(-52 1648.4 417.5)"/>
<ellipse cx="1710.8" cy="455.1" rx="7.1" ry="6.1" fill="#8e18d8" transform="rotate(-41 1710.8 455.1)"/>
<ellipse cx="1676.7" cy="495.0" rx="5.4" ry="4.1" fill="#8e18d8" transform="rotate(-12 1676.7 495.0)"/>
<ellipse cx="1756.4" cy="360.2" rx="4.0" ry="4.9" fill="#7410b8" transform="rotate(42 1756.4 360.2)"/>
<ellipse cx="1679.6" cy="491.1" rx="4.4" ry="4.2" fill="#7d10c8" transform="rotate(44 1679.6 491.1)"/>
<ellipse cx="1660.0" cy="442.9" rx="6.2" ry="5.2" fill="#7d10c8" transform="rotate(19 1660.0 442.9)"/>
<ellipse cx="1758.0" cy="387.5" rx="6" ry="13" fill="#8a14d8" transform="rotate(10 1758.0 387.5)"/>
<ellipse cx="1727.4" cy="405.3" rx="9" ry="5" fill="#8a14d8" transform="rotate(-20 1727.4 405.3)"/>
<ellipse cx="1715.2" cy="381.5" rx="8" ry="4.5" fill="#8a14d8" transform="rotate(-15 1715.2 381.5)"/>
<ellipse cx="1704.5" cy="423.1" rx="7" ry="4" fill="#8a14d8" transform="rotate(-30 1704.5 423.1)"/>
<ellipse cx="1732.0" cy="442.4" rx="10" ry="7" fill="#8a14d8" transform="rotate(20 1732.0 442.4)"/>
<ellipse cx="1770.3" cy="475.1" rx="10" ry="7" fill="#8a14d8" transform="rotate(10 1770.3 475.1)"/>
<ellipse cx="1777.9" cy="490.0" rx="11" ry="9" fill="#8a14d8" transform="rotate(0 1777.9 490.0)"/>
<ellipse cx="1693.8" cy="448.4" rx="8" ry="5" fill="#8a14d8" transform="rotate(-20 1693.8 448.4)"/>
<ellipse cx="1706.0" cy="371.2" rx="9" ry="3.5" fill="#8a14d8" transform="rotate(0 1706.0 371.2)"/>
<ellipse cx="1681.6" cy="380.1" rx="11" ry="5" fill="#8a14d8" transform="rotate(-15 1681.6 380.1)"/>
<path d="M1748.1 373.2l-2.1 7.6M1782.2 369.1l-0.3 4.0M1787.1 395.7l-4.8 1.5M1776.4 368.8l-0.5 6.0M1698.9 399.7l-2.9 1.8M1763.5 487.8l-5.3 3.3M1698.4 426.2l3.1 3.0M1715.8 364.2l6.3 0.0M1783.0 461.4l3.4 0.9M1645.1 444.3l-3.8 3.7M1643.4 496.0l-3.0 2.5M1767.4 493.5l3.4 4.7M1636.6 408.2l6.2 4.5M1747.5 393.5l-2.5 2.6M1645.5 417.6l-6.5 4.0M1681.6 398.5l0.9 4.9M1741.7 426.5l3.2 3.0M1720.9 367.5l3.4 2.1M1665.8 362.5l-0.5 6.1M1680.6 495.7l3.2 4.5M1734.1 451.0l-3.2 0.7M1648.3 366.4l4.6 1.6M1719.1 470.4l-5.4 2.6M1717.2 422.8l3.2 2.5M1690.2 373.9l-1.6 3.9M1783.3 405.5l-3.1 3.0M1670.5 421.3l-0.9 7.8M1661.7 360.3l7.0 1.9M1646.2 495.7l6.4 4.1M1688.7 491.1l0.7 4.8M1637.3 415.6l1.1 7.6M1714.8 482.0l1.0 6.1M1728.5 374.5l-1.8 6.3M1699.4 383.5l4.4 2.5M1781.7 425.0l4.0 3.7M1749.4 482.6l4.9 2.0M1643.6 402.3l0.5 3.9M1655.5 474.3l5.3 4.2M1657.0 380.8l5.8 4.0M1649.3 388.1l-1.8 4.9M1770.6 399.5l6.5 1.0M1697.8 434.4l6.3 4.3M1754.9 393.0l1.5 3.3M1784.6 376.2l1.2 3.9M1709.4 446.4l4.1 4.3M1738.0 390.8l-4.9 0.3M1722.3 498.3l1.7 2.5M1673.3 371.0l7.3 2.0M1734.0 381.8l1.7 4.6M1653.4 395.4l7.6 0.4M1705.0 434.5l-5.0 2.9M1707.8 463.5l-0.4 4.6M1752.2 369.8l-0.9 3.7M1713.7 383.0l-0.4 4.7M1740.6 403.8l5.7 1.9M1698.2 464.5l-1.3 2.8M1725.8 359.1l-5.6 1.7M1724.2 410.0l4.5 0.7M1680.9 382.1l-4.3 0.3M1713.5 391.5l-3.1 1.7M1784.5 380.9l3.6 3.8M1683.5 369.1l-2.6 2.0M1679.6 358.3l4.8 0.8M1721.6 356.7l0.8 4.7M1785.0 500.9l-1.9 6.3M1641.9 436.7l-7.0 2.3M1744.6 469.9l-5.9 1.1M1662.3 457.5l5.4 5.1M1667.5 484.3l-2.9 5.6M1668.4 425.8l-0.5 7.9M1742.5 467.1l-5.2 0.2M1731.8 438.5l1.0 4.5M1689.6 369.1l-4.2 0.8M1764.9 408.2l1.7 2.7M1711.4 387.5l2.7 6.3M1779.1 365.3l-4.7 5.8M1765.9 477.4l-4.2 3.5M1643.1 385.9l-4.0 2.9M1708.3 459.5l1.3 4.1M1679.6 493.4l0.9 6.7M1740.2 407.8l1.7 5.3M1715.0 444.6l4.1 3.2M1749.6 397.3l1.4 6.7M1735.6 442.5l6.1 1.9M1749.7 373.6l6.3 4.0M1706.0 474.9l7.3 1.5M1726.3 389.8l-3.2 4.6M1671.2 503.6l4.6 0.5M1764.8 487.4l6.6 4.2M1650.6 408.9l-3.0 2.2M1688.8 416.3l-0.1 4.9M1674.4 424.1l1.0 6.2M1653.1 361.9l-4.6 4.0M1744.0 451.8l3.6 0.7M1776.2 433.2l3.0 6.1M1669.8 500.0l-2.4 3.4M1751.1 432.1l2.4 2.8M1660.6 433.5l1.7 7.4M1687.4 442.1l-6.1 3.0M1735.8 487.2l-3.3 6.4M1738.8 387.3l-2.2 6.3M1741.2 419.8l5.9 0.5M1760.1 487.7l-1.7 5.2M1669.3 385.1l-2.6 1.7M1702.6 399.1l2.4 7.6M1645.9 465.4l-2.1 2.5M1666.2 398.4l4.2 2.6M1759.0 502.1l-1.1 5.1M1726.5 402.2l-0.8 4.5M1711.6 421.1l-1.0 5.8M1728.5 417.2l2.2 4.5M1716.0 363.7l-2.7 5.6M1668.4 490.2l-3.6 6.2M1701.2 498.2l4.0 4.1M1717.4 401.3l0.6 7.7M1638.6 466.2l5.0 2.7M1742.8 433.0l-6.0 3.6M1639.5 391.7l-4.4 4.9M1713.9 363.4l3.9 2.5M1714.7 464.3l4.4 4.4M1734.0 411.5l-3.7 1.8M1754.0 391.3l-3.9 3.6M1685.7 480.1l2.6 6.4M1711.5 365.9l2.4 3.3M1656.1 358.7l-1.4 5.3M1741.0 410.2l7.3 0.7M1750.1 480.9l0.9 4.2M1778.3 368.2l-0.5 3.5M1681.9 495.1l-5.2 2.0M1648.0 432.5l-7.0 2.1M1645.2 394.9l0.1 3.3M1693.4 440.4l4.6 5.0M1781.0 395.8l-0.3 6.6M1660.8 433.7l-1.6 7.0M1724.6 487.5l-2.3 2.9M1751.7 429.6l-1.0 5.3M1724.4 417.9l1.7 7.1M1666.7 410.8l1.2 2.8M1649.7 425.5l-5.8 0.2M1673.4 362.3l4.9 6.0M1682.1 481.7l-1.1 3.3M1774.8 422.3l7.4 0.8M1730.2 369.8l1.5 4.9M1668.9 448.6l-5.6 2.8M1665.4 501.4l-1.4 3.5M1765.4 495.7l-6.8 4.0M1717.2 364.9l-6.1 1.8M1787.7 503.5l-1.8 3.1M1772.2 368.9l1.4 4.9M1660.8 404.2l-2.4 2.9M1739.1 385.9l6.9 3.3M1673.4 357.1l-2.0 5.2M1721.8 499.3l3.6 4.6M1760.0 387.1l-1.6 4.2M1780.6 362.9l5.5 3.8M1649.3 453.9l3.0 5.5M1733.8 460.5l-3.8 0.8M1644.5 402.1l4.8 0.7M1785.3 388.8l1.2 2.9M1745.2 418.4l-0.7 7.6M1677.7 449.3l5.5 5.3M1786.7 410.8l-3.8 0.8M1642.0 415.1l2.2 3.3M1683.7 389.0l3.1 5.7M1670.6 442.0l-4.9 2.6M1650.7 393.0l4.1 1.7M1746.1 459.6l0.5 3.2M1723.4 497.1l0.9 5.7M1719.9 424.8l-3.3 0.6M1700.5 495.3l7.3 2.4M1721.0 422.8l-7.6 2.0M1657.5 390.5l4.6 0.9M1718.7 408.0l-1.4 2.8M1640.6 422.4l2.8 4.2M1733.2 440.5l3.3 0.5M1639.1 467.9l-7.1 1.3M1704.4 470.6l-0.8 3.3M1647.7 469.0l-0.3 6.2M1694.4 397.2l4.3 3.5M1707.0 437.3l0.6 6.7M1648.7 489.3l4.1 2.9M1676.5 357.8l2.9 0.6M1712.2 376.3l-2.5 5.3M1770.0 391.9l4.1 5.1M1756.6 479.8l-7.0 1.9M1637.3 430.9l-3.8 6.5M1707.0 399.7l3.9 0.9M1651.8 423.8l6.5 3.1M1658.0 447.0l2.6 3.6M1664.7 419.3l-4.4 3.6M1710.2 388.8l3.9 6.0M1647.3 452.6l-4.5 3.4M1687.1 390.5l-3.5 5.2M1660.9 405.2l-2.7 1.8M1771.8 447.3l6.1 4.6M1687.5 451.3l0.4 3.7M1688.6 378.4l-4.8 6.0M1644.7 386.1l1.1 5.8M1699.9 456.1l-3.6 0.1M1660.5 427.9l-3.0 6.1M1712.1 487.4l-7.5 0.3M1693.0 502.7l-1.6 6.8M1760.5 359.0l-7.0 0.1M1736.2 459.9l2.4 5.3M1691.9 400.1l1.3 4.8M1759.8 421.3l6.1 2.9M1744.0 492.1l-1.5 2.6M1654.4 496.3l-2.5 4.5M1771.1 368.7l-3.5 2.1M1639.7 480.8l-2.7 1.4M1739.8 497.7l-5.4 2.2M1764.0 476.1l-0.5 7.5M1662.9 385.7l2.6 6.9M1651.6 402.1l0.2 7.9M1714.5 501.9l4.6 1.4M1656.3 381.9l-4.3 1.8M1704.5 428.6l7.9 0.6M1729.8 495.0l5.6 2.5M1755.5 465.7l2.0 6.8M1774.3 458.2l-2.8 2.8M1727.2 455.8l5.3 3.9M1654.0 468.3l1.0 2.9M1684.7 470.8l1.9 5.2M1705.7 365.5l0.4 5.2M1748.7 392.1l7.1 0.6M1745.6 359.3l5.8 4.0M1685.1 401.9l-2.2 7.1M1737.7 360.5l2.4 7.5M1733.5 444.7l-3.5 5.7M1641.3 483.9l4.4 2.9M1671.8 359.8l4.7 2.6M1746.0 415.2l1.8 7.0M1729.4 454.9l-1.3 4.1M1780.5 401.0l6.0 4.6M1704.4 467.4l0.0 4.1M1694.3 408.5l1.0 4.9M1637.1 385.7l-3.1 4.5M1673.2 470.5l5.5 5.0M1786.0 439.6l1.8 7.2M1733.6 365.5l-1.1 7.2M1750.9 473.4l4.9 5.6M1751.7 410.2l-4.1 3.1M1669.0 446.8l-5.6 3.9M1758.0 500.2l-5.9 5.0M1701.4 401.2l2.3 4.2M1693.8 426.9l5.6 1.5M1725.9 407.6l5.5 5.7M1756.9 475.8l-2.0 2.7M1680.9 463.7l-3.0 2.4M1727.1 467.2l-3.1 1.8M1753.7 441.4l-3.2 0.4M1747.3 496.9l-3.5 2.2M1701.5 499.3l-1.2 5.1M1695.8 428.8l4.7 1.2M1772.0 484.4l5.4 3.5M1773.7 385.6l3.0 5.0M1678.1 456.2l-3.7 3.2M1765.7 503.8l5.1 3.8M1653.1 461.0l4.8 0.8M1750.3 453.3l1.2 3.6M1759.2 440.9l5.7 4.5M1747.4 456.5l1.5 6.5M1655.2 390.2l-2.6 4.5M1680.8 357.7l5.5 4.0M1643.1 448.2l1.7 4.7M1690.4 496.1l-5.4 0.6M1759.2 432.7l-6.7 4.1M1685.2 443.6l4.1 5.2M1673.6 481.7l-3.7 0.7M1737.9 363.0l3.4 0.3M1709.6 482.3l7.2 2.0M1702.6 386.7l-3.3 6.2M1706.7 424.4l-6.7 3.3M1656.3 448.2l-7.4 1.0M1655.9 499.6l-3.7 6.6M1694.2 504.2l-3.0 2.8M1717.2 362.1l-3.7 4.6M1679.3 440.2l-4.0 1.3M1703.8 401.8l-3.4 2.1M1784.9 453.5l-4.3 0.0M1690.5 392.7l-2.4 2.4M1649.7 481.5l-6.0 4.2M1732.1 393.2l4.9 5.1M1664.1 388.6l-6.0 4.1M1672.6 387.7l-4.1 0.4M1737.6 495.4l3.7 1.0M1720.4 386.4l-5.5 0.2M1777.0 459.9l2.8 3.1M1716.2 423.8l-4.2 0.9M1683.0 404.7l-4.7 4.5M1726.1 383.4l-2.2 5.3M1758.8 408.1l4.0 6.0M1637.1 493.1l-5.2 4.5M1703.8 397.8l3.4 5.0M1658.3 494.7l-4.5 1.8M1759.7 483.7l-7.2 2.9M1636.2 479.9l-6.8 3.6M1741.5 383.9l-2.3 5.5M1671.9 381.5l-5.3 3.6M1659.9 417.6l3.9 6.9M1736.0 396.3l4.9 5.7M1722.2 439.8l-0.5 3.9M1639.4 433.6l5.7 4.7M1709.1 409.6l-6.1 1.5M1758.5 469.5l-4.1 5.7M1691.3 435.4l4.5 5.6M1698.3 414.4l-1.7 2.8M1639.2 486.5l5.2 3.0M1696.6 424.9l4.5 4.2M1641.8 391.7l-5.4 3.8M1721.4 394.8l3.6 0.1M1780.5 500.3l2.7 5.8M1702.1 479.5l1.7 7.1M1640.5 472.8l2.8 7.4M1667.5 375.6l-1.7 5.1M1663.3 378.8l2.2 6.5M1722.2 457.1l5.0 3.4M1637.7 356.8l3.5 0.5M1769.4 494.8l-0.6 4.5M1694.7 471.1l-1.8 5.0M1734.5 434.4l-3.8 0.7M1751.1 365.6l-6.9 1.8M1777.2 382.6l-2.8 3.6M1704.7 458.7l2.4 7.5M1649.1 411.6l6.8 3.3M1728.0 451.4l0.4 4.6M1637.1 416.9l2.1 4.8M1737.0 391.6l2.9 2.2M1756.0 503.5l3.6 2.3M1663.5 414.4l-0.9 7.5M1664.6 398.2l-3.5 1.1M1776.0 498.4l-3.2 2.4M1718.8 472.3l-0.0 4.3M1731.9 466.7l-2.0 3.4M1646.4 402.3l-3.4 4.3M1786.6 396.7l-2.8 1.7M1669.7 365.0l-4.7 6.2M1689.9 399.1l3.9 1.4M1688.6 376.5l-1.2 4.9M1646.2 461.4l1.1 4.9M1768.6 401.7l-3.1 2.1M1780.6 370.7l-7.3 3.2M1688.8 441.1l-3.1 6.5M1678.8 460.3l0.7 3.0M1739.7 491.5l0.8 5.0M1719.0 500.8l-2.9 6.4M1753.8 359.2l-3.5 7.1M1733.6 388.0l-1.7 7.7M1698.4 397.1l-6.6 1.0M1690.1 416.8l3.5 0.7M1763.0 470.7l-4.3 6.6M1687.9 497.8l-1.9 2.4M1709.5 468.3l-0.4 4.4M1783.1 423.5l2.6 5.2M1682.7 407.2l-1.6 2.6M1657.4 383.2l2.9 4.4M1651.9 488.9l3.3 0.9M1746.4 409.2l4.1 4.2M1637.4 390.8l0.3 7.9M1699.2 465.7l-1.4 3.0M1728.0 475.2l-5.7 1.5M1716.4 450.2l-6.5 3.0M1770.8 501.4l2.5 7.2M1732.5 494.9l-3.4 5.3M1749.6 427.0l-4.7 6.1M1662.6 446.6l-2.1 5.9M1758.4 410.9l4.4 0.9M1778.0 469.2l-5.9 0.8M1777.7 412.2l-1.3 6.6M1691.0 380.3l5.1 2.6M1679.2 414.6l-6.5 2.5M1645.3 439.7l-0.1 4.2M1667.5 377.9l-5.7 5.0M1701.0 484.2l1.7 2.8M1764.8 414.6l2.2 4.5M1785.3 381.4l5.4 1.7M1756.2 358.7l-0.0 7.8M1709.8 382.6l3.6 5.9M1697.7 434.1l5.1 5.5M1720.1 465.9l3.8 4.5M1638.0 442.0l0.2 4.3M1661.8 453.4l-4.1 6.1M1745.0 499.4l1.1 2.8M1715.2 406.0l-1.7 5.3M1784.3 504.1l-3.2 3.5M1685.9 390.9l4.7 2.8M1740.1 424.2l0.1 4.7M1690.1 492.9l1.2 2.9M1728.4 440.2l5.5 1.2M1757.3 395.7l3.0 5.5M1728.3 489.8l3.4 3.9M1662.2 504.2l2.7 6.4M1719.7 370.4l-4.0 1.3M1639.3 495.7l2.1 2.5M1655.3 456.0l-3.2 4.3M1706.7 397.0l-3.3 1.0M1649.6 481.6l-6.1 2.6M1787.9 491.3l1.8 3.2M1727.5 364.3l0.4 3.3M1758.2 361.3l-6.3 4.3M1654.6 428.0l4.1 1.0M1648.4 419.7l4.9 2.5M1756.5 438.6l-7.1 0.4M1775.3 402.4l-4.8 5.4M1788.4 487.0l2.9 7.3M1713.8 482.9l5.9 1.1M1743.2 495.5l-3.0 3.6M1706.4 449.1l4.3 1.9M1788.3 391.0l-2.1 2.5M1671.5 368.9l1.1 3.8M1636.4 496.1l1.7 3.7M1657.3 378.2l2.7 4.6M1649.3 448.1l5.9 2.6M1670.3 444.7l-2.3 3.2M1769.9 451.8l2.7 4.2M1702.3 503.6l-2.5 2.0M1764.1 436.2l-3.1 2.1M1685.0 498.9l-5.5 2.5M1713.3 393.2l2.2 5.1M1703.0 429.4l-4.0 6.5M1741.6 475.8l5.2 2.3M1691.1 374.7l4.5 5.8M1788.5 422.1l5.5 1.6M1659.2 420.1l5.6 2.0M1679.8 400.8l3.3 2.7M1751.5 483.9l2.8 2.3M1721.8 401.4l6.2 2.6M1730.7 412.1l-5.4 1.5M1729.1 436.8l-6.1 4.8M1662.2 435.5l-4.1 5.9M1760.2 363.7l6.3 3.1M1683.2 490.8l-0.3 5.6M1689.2 361.5l1.5 5.9M1663.5 393.5l-1.2 5.8M1730.1 377.0l-4.1 3.2M1785.8 379.1l7.0 1.1M1777.5 394.6l1.3 6.0M1729.4 454.0l-7.9 0.3M1637.2 369.8l-0.4 4.7M1662.6 434.9l3.5 7.1M1786.6 492.4l2.4 6.9M1710.9 360.9l-4.3 5.4M1664.8 452.9l-3.1 2.7M1690.8 480.5l-3.8 0.8M1711.6 405.3l-6.4 3.4M1677.2 434.3l1.6 4.4M1755.6 372.6l5.1 4.1M1712.9 423.9l3.5 3.2M1713.0 488.9l-6.2 2.6M1718.7 455.8l-2.2 7.4M1756.4 480.3l-4.3 3.9M1702.0 423.0l-7.0 2.0M1661.4 493.3l4.7 1.9M1643.2 359.9l1.1 7.0M1667.4 379.3l-5.5 4.2M1780.6 479.4l2.8 3.1M1682.8 468.3l-4.7 1.6M1787.4 475.4l3.5 5.7M1692.4 488.0l-2.9 5.6M1723.7 412.4l-2.8 6.9M1666.5 463.1l-3.2 4.7M1693.2 413.8l4.7 6.0M1656.2 377.4l-3.9 5.9M1644.5 402.0l-7.2 2.8M1738.4 427.2l0.6 7.1M1784.5 435.6l-3.9 5.9M1761.9 423.0l7.7 1.2M1701.5 458.0l-1.4 3.3M1641.7 428.1l-5.7 1.4M1762.6 405.5l-1.2 6.9M1680.9 414.8l-4.0 1.0M1659.2 420.0l3.5 5.4M1697.4 453.1l5.5 4.0M1775.5 398.3l-0.0 7.7M1644.7 375.6l3.1 4.1M1699.6 357.9l1.9 2.5M1694.6 403.4l1.6 5.8M1636.8 465.4l-1.1 3.1M1710.3 497.7l-7.4 1.2M1664.8 478.5l-0.9 6.5M1736.9 471.7l0.4 3.8M1760.9 366.2l4.3 5.8M1684.4 425.6l-7.1 1.1M1730.5 464.6l3.4 5.1M1765.8 379.9l2.0 5.2M1665.5 494.2l-2.9 1.5M1704.3 430.8l7.1 0.4M1698.4 389.7l2.1 3.1M1728.0 502.4l0.5 3.3M1765.6 475.5l1.1 6.3M1668.2 475.9l-3.9 0.1M1697.4 404.9l3.2 1.3M1690.0 357.7l-0.9 3.9M1714.6 494.4l-3.1 2.5M1645.3 450.8l5.3 0.2M1652.1 444.8l0.6 5.5M1745.6 408.8l2.1 4.2M1651.3 384.1l3.7 3.5M1639.2 484.5l-6.5 4.5M1766.3 359.2l-4.4 5.8M1772.4 471.8l-5.8 1.5M1687.9 417.9l-2.9 5.3M1743.8 366.3l3.2 6.1M1737.3 418.2l-0.1 4.0M1742.7 471.3l3.1 3.3M1698.7 469.3l7.7 0.6M1786.0 476.3l-2.0 4.6M1765.3 358.5l5.8 2.1M1674.1 391.5l6.6 1.8M1766.1 438.7l6.6 0.9M1747.2 408.5l4.0 2.4M1677.4 380.2l-6.7 1.0M1710.7 405.1l5.4 2.1M1689.2 467.2l4.7 2.3M1716.7 445.1l2.5 3.8M1757.8 458.0l-1.0 5.6M1673.7 501.7l5.3 1.4M1642.8 361.5l-4.4 3.8M1691.7 477.5l4.7 0.4M1783.9 476.9l-0.1 6.7" stroke="#0a0418" stroke-width="1.7" stroke-linecap="round" fill="none"/>
<path d="M1770.1 408.5l1.3 -3.8M1754.0 407.4l1.7 -3.7M1776.5 468.9l2.4 0.7M1763.9 431.5l1.7 -0.2M1732.5 448.6l3.1 -0.2M1760.0 429.7l3.5 -1.9M1707.1 392.3l0.6 -2.8M1759.7 401.4l1.8 -0.4M1719.8 455.2l3.3 1.2M1704.0 447.2l1.9 0.5M1720.7 421.8l1.4 -1.5M1756.9 429.3l3.3 0.3M1726.2 422.8l1.4 -0.9M1746.9 465.7l3.2 1.1M1756.7 380.9l0.6 -2.2M1728.0 435.8l2.7 -1.8M1729.7 458.9l1.7 -1.6M1761.9 418.0l1.3 -3.1M1722.1 383.9l1.3 -3.4M1719.6 407.8l1.1 -2.9M1728.6 410.2l0.9 -1.5M1782.2 371.5l2.0 -3.7M1736.0 382.0l3.3 0.3M1721.4 413.2l3.9 -1.6M1738.2 392.3l1.5 -3.6M1743.1 398.1l0.5 -2.0M1770.9 425.8l0.6 -2.4M1772.1 429.2l3.8 0.8M1733.4 386.8l1.2 -1.7M1776.1 462.3l2.0 -0.4M1746.0 448.1l2.4 -3.4M1693.4 391.1l1.0 -1.9M1720.1 418.4l4.1 -1.2M1739.6 389.3l2.4 0.8M1728.2 417.1l2.2 -1.2M1725.9 422.6l4.1 -1.6M1766.0 423.4l3.6 0.4M1740.8 471.5l0.6 -1.8M1777.0 409.8l1.8 0.5M1787.4 429.2l0.7 -3.3M1761.3 439.4l4.3 -0.9M1735.8 447.7l3.9 -2.2M1707.9 409.2l1.7 -2.3M1778.7 431.8l4.1 0.7M1770.1 465.5l0.9 -3.4M1767.4 441.4l1.1 -4.1M1752.7 430.8l1.7 -0.9M1733.4 460.6l1.2 -2.2M1741.8 374.3l2.2 -3.7M1735.6 428.2l4.2 0.6M1746.0 444.7l2.6 -1.7M1736.3 453.7l2.5 -0.0M1780.2 383.5l3.4 -0.2M1741.6 430.8l4.1 1.6M1764.2 390.8l2.5 -2.4M1737.6 408.4l3.8 -0.3M1689.3 455.2l3.8 -0.9M1742.7 443.5l2.0 -0.4M1761.0 399.6l2.6 -1.3M1741.4 385.0l1.7 -1.0M1695.5 398.6l4.2 -0.2M1770.1 436.1l1.7 -0.4M1731.3 471.8l2.8 -0.0M1705.8 377.1l3.5 -0.3M1761.4 412.2l3.0 -1.9M1771.2 411.3l3.1 -2.8M1784.7 409.2l2.9 -3.3M1786.3 368.4l2.2 0.7M1768.0 381.0l3.6 1.4M1725.3 444.6l3.3 1.4M1719.5 438.5l3.5 0.4M1749.3 444.8l1.6 -0.7M1779.3 415.3l4.3 0.6M1730.3 424.7l0.9 -1.9M1723.7 416.6l1.2 -3.1M1736.0 462.5l1.6 0.4M1743.2 377.2l0.9 -3.1M1770.5 364.6l2.7 -2.1M1728.9 436.7l3.7 1.4M1763.0 455.3l1.7 -1.9M1755.4 409.6l2.4 -3.7M1721.4 413.5l2.4 -0.5M1761.3 414.1l1.7 -2.1M1729.1 456.0l0.6 -2.1M1743.0 428.0l0.7 -1.6M1737.9 429.7l1.6 -2.3M1764.0 392.4l3.6 0.1M1718.8 421.2l0.3 -1.6M1759.7 427.9l1.6 -1.6M1749.9 449.7l4.4 -0.6M1729.8 410.4l2.9 -1.5M1744.7 446.6l2.1 -1.0M1749.7 413.1l1.8 -3.3M1705.9 438.7l3.9 -0.4M1761.3 449.1l3.0 -1.4M1779.5 380.8l3.4 -0.6M1752.6 432.8l1.3 -2.8M1694.1 401.6l4.0 0.2M1730.5 437.3l3.6 -1.2M1726.5 454.0l3.2 -1.7M1734.4 460.8l2.0 -2.5M1745.3 434.9l0.6 -2.3M1716.9 373.5l1.2 -0.9M1737.2 443.9l1.6 -1.1M1720.4 457.9l1.0 -2.3M1734.9 432.6l2.1 -0.6M1750.3 380.1l3.3 -1.9M1734.0 407.0l1.3 -3.9M1716.5 393.9l3.8 0.8M1705.5 394.1l2.1 -0.8M1774.3 395.2l0.9 -3.7M1701.9 394.1l3.6 -0.7M1701.8 396.7l2.9 -0.1M1759.4 380.9l2.2 -3.8M1731.9 472.4l3.0 -0.9M1736.4 391.7l1.4 -4.1M1744.1 434.4l1.6 -0.6M1722.0 388.8l3.6 -0.6M1747.0 399.5l1.6 -3.5M1713.8 386.9l2.0 -3.7M1725.0 469.1l2.1 -3.6M1718.3 401.0l1.8 -1.6M1749.1 410.7l0.8 -2.3M1748.6 383.2l1.6 0.1M1769.3 439.8l2.7 -1.7M1768.7 429.0l0.5 -1.7M1753.6 424.4l1.9 -1.3M1768.0 384.5l0.4 -2.2M1737.8 405.9l1.8 0.4M1754.4 463.5l1.6 -0.4M1771.5 441.3l3.8 -1.6M1712.6 359.7l0.9 -1.3M1740.2 392.5l2.0 -0.4M1763.5 461.0l1.6 -1.9M1709.9 454.6l1.8 -0.6M1751.6 402.2l2.1 -0.3M1736.9 474.1l2.4 0.8M1729.0 422.3l3.7 0.7M1666.9 447.6l0.8 -3.6M1752.6 472.4l0.9 -1.5M1707.8 456.6l3.2 -1.7M1720.3 428.7l2.8 -2.7M1737.6 440.4l2.6 -3.0M1734.9 429.0l2.5 -2.7M1775.6 461.6l0.9 -2.2M1712.9 415.0l3.9 0.7M1742.6 458.4l1.2 -3.6M1710.1 460.2l0.4 -1.6M1711.8 408.5l4.2 -1.1M1769.7 420.7l2.6 0.4" stroke="#58a868" stroke-width="1.6" stroke-linecap="round" fill="none"/>
<path d="M1768.1 452.7l1.8 -0.4M1750.3 446.1l1.6 -3.0M1703.2 431.8l2.1 -1.5M1720.6 414.1l3.3 0.9M1706.5 432.4l3.6 -1.2M1737.1 475.3l1.2 -3.1M1735.0 438.4l3.3 1.0M1740.0 385.1l3.2 -1.3M1742.7 434.5l2.4 0.4M1713.4 451.1l2.2 -2.9M1737.2 408.0l0.5 -2.6M1734.1 458.1l1.7 -1.0M1726.0 422.8l2.4 1.0M1769.5 438.4l1.1 -4.1M1731.0 428.7l0.6 -1.7M1739.4 445.4l1.0 -2.7M1762.5 460.1l2.6 0.8M1753.8 417.0l3.4 0.0M1714.1 437.4l2.6 -0.6M1765.7 466.2l4.4 0.9M1745.8 396.6l3.2 -2.3M1769.3 391.1l2.3 0.9M1774.4 407.5l0.7 -1.9M1732.6 430.9l2.0 -1.1M1745.9 421.6l2.7 0.2M1754.2 442.5l0.9 -4.4M1716.0 470.4l2.0 -3.3M1752.6 391.0l2.0 -2.7M1725.1 415.6l3.4 0.5M1720.4 442.1l2.3 0.1M1770.7 453.1l3.6 1.3M1691.0 448.5l2.0 0.2M1747.1 432.5l2.7 0.5M1773.1 411.8l1.1 -1.5M1755.3 409.0l2.0 0.3M1733.5 374.7l1.6 -2.6M1727.3 412.1l3.2 0.4M1694.5 455.4l2.4 -3.3M1733.2 417.4l2.9 -1.8M1765.3 404.8l4.4 -0.4M1730.4 464.1l1.6 -4.1M1719.0 457.3l1.8 -3.0M1766.2 466.0l0.8 -2.9M1780.2 409.7l1.5 -0.5M1704.7 399.8l4.2 -0.1M1698.4 422.9l1.1 -1.5M1759.3 453.9l4.4 -0.6M1749.5 424.6l2.6 1.0M1767.7 434.8l2.0 0.2M1753.9 381.7l2.5 -0.1M1740.5 439.3l2.7 -0.3M1762.7 382.6l2.7 -1.5M1757.7 406.7l1.6 -0.0M1740.4 425.5l2.1 0.4M1719.8 446.6l3.7 -0.2M1778.7 414.7l1.3 -2.8M1728.7 444.6l3.4 1.2M1721.2 376.1l2.5 0.7M1733.4 381.2l2.0 -3.4M1738.5 412.1l2.5 -0.7M1720.1 365.5l1.4 -0.8M1765.8 406.4l1.9 -0.3M1780.3 421.0l2.5 -0.3M1732.9 459.8l1.1 -3.5M1761.8 477.6l1.9 -0.6M1736.9 370.4l2.5 0.9M1739.0 367.2l1.4 -1.8M1761.2 434.5l3.1 1.1M1734.1 459.4l1.6 -2.1M1770.0 470.6l4.1 1.6M1759.0 445.6l2.6 -3.0M1696.3 433.0l1.8 -0.7M1779.6 437.7l2.8 -1.4M1727.5 439.1l4.0 -0.6M1770.8 440.1l1.8 -0.5M1758.3 426.6l3.3 -2.3M1695.9 432.3l1.9 -0.3M1734.8 358.3l3.1 -1.0M1719.3 383.4l1.5 -0.8M1777.5 453.8l0.5 -2.1M1721.2 463.3l1.7 -1.4M1761.3 422.7l3.5 -2.7M1726.8 432.0l2.9 -0.1M1744.0 456.2l1.0 -2.7M1736.0 422.4l2.9 -1.5M1716.5 469.5l4.1 -1.3M1772.5 470.9l2.7 1.0M1740.2 380.1l1.0 -2.5M1741.8 418.9l2.3 -0.9M1710.6 378.2l1.4 0.5M1762.5 439.6l1.6 0.5M1751.3 420.4l2.6 -2.0M1733.0 398.8l1.1 -1.0M1743.6 405.7l0.9 -2.5M1741.0 402.9l2.1 -0.2M1738.9 424.2l0.6 -2.4M1763.2 377.1l0.8 -2.4M1765.2 365.1l1.5 -2.6M1741.1 475.1l2.8 -1.3M1709.4 422.9l2.1 -3.2M1699.0 393.9l1.7 -0.4M1741.0 447.7l1.6 -0.8M1729.1 433.3l1.2 -1.3M1755.2 392.8l3.1 -3.2M1778.6 464.4l1.4 -2.6M1737.6 434.0l2.4 -1.4M1764.1 423.6l2.4 -3.6M1779.5 427.0l2.4 -1.1M1786.4 435.3l3.8 -1.4M1735.8 409.2l2.0 -3.5M1739.0 370.7l1.4 -3.1M1759.5 427.9l0.5 -2.6M1718.8 448.2l1.6 0.3M1765.3 472.5l2.9 -3.3M1769.7 492.0l0.6 -2.0M1712.0 417.6l3.6 -2.5M1750.7 395.2l4.0 0.6" stroke="#a8c832" stroke-width="1.6" stroke-linecap="round" fill="none"/>
<path d="M1713.3 404.1l2.6 -2.5M1695.3 456.7l1.1 -1.9M1724.6 390.7l2.8 -0.3M1741.3 431.6l1.5 -1.7M1716.5 449.2l2.5 -2.3M1707.7 453.7l2.7 -1.9M1735.7 434.2l3.1 -2.5M1777.9 426.2l3.2 1.2M1783.6 408.6l2.6 -2.2M1762.9 460.4l2.2 -0.2M1690.9 420.5l0.7 -2.2M1725.8 459.7l2.6 -2.1M1747.9 460.3l3.0 -0.3M1753.3 414.0l0.9 -1.6M1740.0 450.7l1.9 0.2M1685.0 433.1l1.5 -3.6M1778.8 402.8l1.0 -1.6M1693.6 437.9l1.2 -1.7M1715.9 430.1l1.9 0.5M1734.2 408.1l2.2 -1.5M1761.6 420.5l1.3 -2.0M1772.8 406.9l1.0 -3.8M1728.7 399.1l2.6 0.1M1733.0 473.4l2.0 -1.5M1720.6 433.0l3.9 -1.5M1714.9 417.0l1.8 0.4M1781.6 428.4l1.4 -3.8M1757.7 433.0l1.7 -0.5M1766.9 398.7l3.9 0.1M1759.6 452.1l1.8 -2.4M1747.5 457.2l3.6 0.2M1761.1 462.5l2.0 0.5M1737.9 392.2l2.2 -0.6M1771.9 459.5l2.9 -1.2M1762.9 383.2l1.1 -1.8M1755.6 472.4l1.8 -2.9M1712.7 440.4l3.7 -1.2M1771.0 461.6l2.2 -2.2M1709.5 431.5l0.6 -1.6M1729.3 374.1l3.5 -2.1M1732.7 473.5l1.4 -2.6M1757.4 469.8l1.0 -1.8M1726.8 434.8l3.8 0.8M1733.7 464.3l1.6 -2.6M1726.0 415.9l2.0 -2.2M1691.7 384.4l2.5 -2.9M1709.4 447.7l1.0 -2.2M1719.6 474.7l1.1 -2.3M1746.8 451.4l1.9 -1.6M1745.5 382.1l1.6 -0.8M1742.0 451.1l2.8 -1.4M1720.4 387.7l1.5 -1.0M1746.4 449.0l2.7 -3.3M1729.1 437.1l2.2 -0.6M1735.9 424.8l0.9 -4.0M1712.4 416.3l3.8 -0.1M1716.9 410.3l1.3 -1.8M1740.5 400.5l2.2 -1.4M1730.2 452.1l0.7 -2.3M1721.9 444.9l3.4 0.1M1753.7 368.7l2.0 -0.5M1740.0 410.2l3.0 -3.1M1690.7 401.1l2.1 -1.9M1774.2 438.8l3.4 -1.1M1741.3 368.6l2.4 -2.5M1786.4 454.9l2.3 0.1M1748.0 467.4l3.0 -2.7M1713.5 467.8l1.9 -2.1M1740.8 418.0l2.9 0.6M1746.3 388.5l2.0 0.6M1735.7 414.9l2.3 0.3M1721.0 376.7l3.6 -1.9M1706.0 424.6l2.4 -1.3M1708.6 464.0l1.1 -4.0M1728.9 473.9l4.0 -1.5M1781.2 415.6l3.2 -0.5M1727.4 388.0l3.9 -2.2M1703.3 399.4l2.2 -0.8M1730.0 434.5l2.5 -2.3M1729.9 475.2l1.6 0.0M1759.5 421.2l3.4 -0.9M1729.5 362.2l1.8 -1.2M1750.6 430.1l2.4 -0.3M1759.9 441.0l1.4 -1.0M1708.9 469.8l3.2 -0.4M1768.1 423.7l3.4 -0.1M1751.7 409.2l4.0 -1.0M1767.7 386.8l1.7 -3.3M1769.3 411.0l3.0 -1.2M1748.4 458.4l3.4 -1.8M1739.5 391.5l3.0 0.2M1701.6 435.2l4.3 0.2M1764.7 461.2l2.5 -1.3M1761.1 445.5l2.7 -1.1M1753.6 419.8l2.0 -2.1M1735.6 409.4l0.4 -2.2M1753.5 406.5l2.3 -0.1M1722.2 418.8l3.4 0.7M1712.2 468.8l1.5 -0.8M1713.9 441.1l2.0 -1.1M1709.9 376.6l2.4 -3.3M1716.7 426.4l3.5 -1.4M1731.1 447.8l3.0 -2.4M1763.6 422.4l1.3 -0.8M1775.2 399.4l3.3 -0.0M1737.1 425.9l2.7 1.1M1770.5 385.6l1.8 -3.9M1788.1 378.3l1.4 -3.6M1747.5 374.9l0.6 -1.4M1692.8 387.7l2.9 0.0M1751.0 411.6l2.0 0.3M1741.7 432.5l2.0 -1.2M1740.7 435.0l1.4 -4.1M1766.4 365.9l1.5 -3.9M1736.1 422.6l3.0 0.9M1752.6 384.0l1.4 -2.7M1728.9 419.8l3.0 -1.2M1742.1 411.9l3.6 0.4M1735.2 467.2l3.8 -1.6M1770.8 415.7l3.0 -3.1M1692.4 426.9l2.4 0.4M1740.2 398.2l3.9 -0.4M1704.4 453.4l3.4 -2.1M1713.2 460.3l2.3 0.8M1698.8 399.1l1.7 -2.7M1748.3 412.7l3.5 1.0" stroke="#b0d050" stroke-width="1.6" stroke-linecap="round" fill="none"/>
<path d="M1748.6 428.6l1.9 -1.5M1768.5 390.4l1.0 -1.5M1743.3 397.3l2.4 -0.4M1751.8 421.1l1.3 -2.5M1766.8 440.4l3.1 -2.4M1698.9 464.6l1.6 -3.6M1746.2 461.9l2.9 -2.4M1775.6 429.2l0.8 -2.5M1716.6 468.7l4.3 1.2M1695.6 414.6l4.0 -0.1M1729.1 425.0l3.1 -1.7M1740.5 455.4l3.7 -1.1M1743.4 499.6l2.4 -2.1M1751.5 480.0l3.1 -0.1M1714.3 416.3l2.2 -0.9M1717.7 423.4l3.7 -0.2M1715.0 398.6l2.5 -2.6M1723.6 399.1l4.1 -0.2M1785.8 415.0l1.7 -2.4M1745.4 416.6l3.6 1.2M1727.0 414.1l2.9 -2.0M1758.4 388.5l4.4 0.5M1753.3 424.3l2.5 -0.8M1716.3 385.6l0.8 -1.9M1729.3 423.6l3.4 -0.1M1751.1 423.3l2.1 -2.8M1773.5 423.6l2.2 -0.8M1779.2 402.0l2.5 -2.8M1755.3 361.6l1.1 -2.2M1745.2 383.2l2.4 -1.1M1786.0 416.6l1.8 -3.3M1745.5 446.4l0.9 -3.0M1723.3 439.5l1.7 -4.1M1737.2 476.2l2.2 -2.4M1731.5 397.6l1.2 -1.4M1749.0 394.9l1.9 -2.9M1748.2 430.6l2.4 -0.1M1763.7 372.1l3.1 0.3M1779.4 363.1l2.1 -2.7M1765.8 427.3l1.4 -1.8M1769.9 419.0l4.0 -0.9M1721.8 418.2l1.3 -1.0M1778.8 443.7l1.0 -1.4M1737.3 396.9l3.3 0.3M1740.3 424.8l3.6 -0.9M1743.8 491.2l1.2 -2.7M1745.8 395.6l0.6 -2.0M1740.6 379.8l2.2 -0.2M1715.0 402.6l4.1 -1.6M1745.9 424.3l2.1 -2.1M1739.4 445.7l4.2 0.9M1687.9 440.4l3.2 -0.4M1757.3 358.0l1.5 -2.3M1743.3 437.5l1.4 -2.8M1715.3 425.5l3.2 -1.0M1705.7 370.2l0.8 -2.2M1704.3 451.9l0.9 -3.5M1775.5 364.9l0.6 -1.5M1672.1 367.4l4.3 1.2M1772.5 378.3l3.5 -1.0M1732.4 423.0l2.1 -0.7M1721.6 474.2l1.5 -0.0M1783.5 420.0l1.9 -1.8M1713.4 443.3l3.3 0.0M1768.3 420.1l2.1 0.4M1742.6 449.8l2.4 0.5M1742.0 435.7l2.8 0.5M1750.6 426.2l1.4 -1.6M1702.3 401.3l2.4 0.1M1706.4 445.7l1.4 -0.7M1785.7 412.7l2.9 -3.3M1737.1 407.3l1.9 -1.9M1730.2 459.4l2.2 -3.0M1769.9 401.0l1.6 -1.7M1760.9 463.6l1.7 0.0M1741.7 395.3l2.3 -3.3M1725.6 422.7l2.1 0.8M1755.2 462.2l3.2 -2.3M1703.3 431.1l2.4 -0.1M1761.2 474.4l0.8 -2.3M1745.6 420.2l3.2 0.3M1779.8 359.8l2.4 0.1M1736.8 453.0l3.8 1.5M1687.3 410.4l1.2 -2.1M1711.4 476.7l3.0 -1.2M1735.1 445.1l0.7 -2.8M1734.3 434.0l1.6 -0.4M1722.6 421.0l3.3 -2.7M1726.4 450.2l4.2 -0.4M1755.5 407.5l2.2 -1.7M1725.6 457.7l2.7 -2.9M1686.3 433.3l3.3 -0.0M1745.2 383.5l2.7 0.1M1787.4 413.2l1.8 -2.1M1782.8 433.4l2.9 -0.8M1748.3 419.6l1.6 -1.5M1704.7 470.1l3.7 1.1M1776.2 408.1l3.2 -1.9M1730.0 398.1l3.2 -0.7M1691.7 392.9l3.0 -1.8M1769.5 407.1l0.5 -2.5M1788.4 430.8l1.9 -4.1M1745.6 424.1l3.6 -1.4M1704.0 476.0l1.4 -2.0M1729.9 416.7l0.7 -1.7M1749.2 370.4l3.9 0.1M1765.9 437.4l4.0 1.7M1726.6 367.0l3.3 0.7M1726.8 416.0l2.2 -3.9M1734.7 414.1l2.0 -1.2M1739.2 409.2l0.7 -2.1M1704.0 386.6l0.9 -3.1M1775.5 448.3l3.1 -2.9M1766.7 377.2l1.7 -3.6M1779.8 441.2l2.6 -3.3M1749.9 423.2l3.4 1.4M1703.9 469.0l1.9 -2.2M1753.9 413.0l2.4 -3.2M1702.5 469.2l1.4 -2.3M1767.9 437.6l4.1 -0.7M1736.9 412.3l1.3 -3.2M1771.3 441.2l2.8 0.3M1734.1 375.9l1.9 -3.2M1709.5 456.4l2.7 -1.0M1728.5 365.2l1.5 -3.3M1747.1 482.6l2.6 -2.8M1758.2 413.5l2.9 -1.1M1755.9 411.8l3.6 -1.1M1784.7 367.0l3.0 -2.9M1711.7 410.5l3.0 -0.2" stroke="#c8d43a" stroke-width="1.6" stroke-linecap="round" fill="none"/>
<path d="M1767.5 416.4l4.4 0.6M1747.7 406.9l1.0 -2.7M1719.7 389.9l0.9 -2.7M1694.7 442.7l3.5 -2.5M1764.2 424.2l1.2 -1.7M1724.7 406.9l1.3 -2.1M1742.5 401.1l3.7 0.7M1779.8 384.5l1.4 -2.9M1730.7 409.2l3.6 0.5M1706.7 464.2l3.2 0.7M1750.0 419.1l3.0 -1.7M1720.3 417.6l2.2 -2.7M1781.1 386.0l2.6 -0.3M1753.5 418.5l1.0 -2.9M1744.6 416.2l2.6 -1.5M1734.9 415.1l1.9 -3.6M1716.6 461.7l1.8 -0.9M1750.1 421.4l2.4 -1.0M1730.1 360.2l0.5 -2.3M1765.3 453.2l3.8 1.2M1706.6 422.4l2.6 -0.5M1726.3 426.7l3.6 1.3M1725.3 447.6l4.2 0.7M1757.8 416.9l3.5 -2.4M1744.0 420.0l3.4 -2.0M1736.1 399.1l2.1 -1.1M1689.6 417.5l1.5 -0.6M1766.6 444.2l2.6 -0.8M1770.7 427.7l1.6 -1.5M1721.8 427.7l3.4 1.3M1698.0 412.9l1.4 -2.6M1732.8 386.2l2.8 -2.4M1749.5 377.4l0.8 -2.2M1735.8 386.0l2.3 -2.1M1746.9 430.2l1.5 -2.4M1744.4 429.8l2.1 -1.1M1721.8 399.5l3.6 0.4M1759.7 428.5l3.1 -0.3M1743.6 378.4l1.3 -1.9M1745.0 454.7l2.4 -2.3M1696.1 406.2l0.9 -1.6M1757.3 387.9l1.0 -2.3M1745.8 477.4l4.3 1.1M1695.2 435.9l0.6 -2.3M1723.4 398.9l2.4 -3.7M1746.0 449.2l3.0 -0.4M1718.7 424.7l1.3 -1.4M1724.1 424.4l3.2 -2.4M1756.9 463.6l3.5 -0.6M1696.9 460.3l3.0 0.8M1749.1 376.8l1.9 0.2M1746.4 417.3l2.3 0.3M1753.5 432.4l2.4 -0.5M1779.7 403.4l3.1 -0.5M1723.7 418.2l4.1 1.3M1749.9 367.0l1.2 -1.4M1745.2 402.5l3.7 -1.5M1753.6 410.4l1.0 -2.6M1688.7 408.2l2.2 -1.2M1731.1 475.5l1.6 -3.3M1690.1 389.5l3.4 -1.4M1727.0 463.8l2.9 -1.0M1756.2 446.7l2.9 0.0M1740.1 371.8l1.1 -4.0M1735.6 368.3l3.3 1.4M1728.7 429.3l3.0 -2.0M1777.8 419.4l0.7 -3.8M1779.5 403.0l2.9 0.6M1732.8 390.1l2.4 -0.1M1765.1 435.2l1.8 0.3M1753.3 388.5l2.4 -2.0M1733.9 436.9l3.6 -1.7M1749.7 406.6l2.6 -2.6M1752.2 409.0l2.0 0.1M1727.5 491.0l0.6 -3.2M1759.1 358.9l3.4 -2.0M1782.5 417.4l2.3 -1.5M1757.3 393.3l3.3 -1.2M1720.6 434.4l2.0 -3.4M1756.4 409.3l1.3 -1.8M1760.7 477.4l3.0 -2.7M1712.7 393.7l1.6 -1.5M1785.6 411.0l1.6 0.5M1737.4 407.9l1.1 -2.8M1749.6 445.1l1.7 -3.8M1737.5 442.6l0.5 -2.0M1783.4 391.5l2.5 -2.1M1710.4 429.7l3.0 -2.7M1753.7 431.8l2.9 -0.6M1761.7 407.6l0.9 -2.9M1773.2 392.6l3.0 -2.4M1755.2 452.7l4.1 0.1M1749.8 387.4l1.7 -0.0M1705.1 432.8l3.3 -0.0M1778.3 404.0l0.6 -1.6M1733.7 451.7l2.0 -1.2M1774.4 458.8l2.4 -1.8M1740.9 410.3l2.6 0.6M1758.7 455.3l2.1 -1.3M1740.1 447.1l2.8 -1.0M1719.4 389.4l2.9 -0.1M1763.6 466.2l2.5 -2.7M1781.0 433.6l1.7 -1.9M1753.3 434.4l2.5 -1.8M1746.3 450.6l1.3 -0.9M1765.8 408.2l4.0 1.4M1695.2 427.3l1.8 0.7M1728.5 417.7l0.8 -1.7M1731.4 410.5l2.4 0.8M1731.1 400.6l4.0 0.2M1729.0 396.9l4.2 0.1M1701.9 411.2l2.5 -0.0M1785.8 470.6l1.9 -3.7M1753.7 414.8l1.6 0.2" stroke="#78b050" stroke-width="1.6" stroke-linecap="round" fill="none"/>
<path d="M1731.0 441.0l1.7 -4.1M1715.8 429.5l2.1 -3.2M1749.4 441.7l4.0 -1.4M1715.5 432.4l2.6 1.1M1760.4 410.0l1.1 -1.6M1783.3 440.7l3.7 -0.8M1757.1 442.3l1.7 -3.6M1771.5 401.1l1.5 -1.4M1766.0 445.7l1.9 -1.6M1729.2 468.5l4.1 -0.7M1722.2 436.1l1.9 -3.0M1729.4 472.2l1.9 0.7M1783.7 367.5l3.0 -0.2M1752.6 418.6l3.2 1.2M1753.5 443.1l3.0 0.8M1740.1 430.8l2.3 0.4M1717.9 453.6l1.8 0.3M1742.7 425.2l1.2 -1.2M1694.9 421.8l1.9 -1.1M1725.7 451.1l1.4 -2.1M1724.7 434.1l3.1 -1.5M1731.2 431.1l2.4 -0.0M1732.1 368.4l2.8 -1.3M1737.7 450.9l3.0 -0.2M1744.4 390.4l1.1 -1.6M1735.3 414.6l1.6 -1.1M1760.0 414.1l2.7 -2.5M1720.7 425.6l3.7 -1.6M1746.0 469.3l4.3 0.5M1745.4 451.3l2.6 -0.6M1714.6 426.5l2.7 -2.9M1756.1 391.0l0.5 -2.3M1711.1 404.2l0.5 -2.7M1724.6 425.2l3.3 -0.2M1742.9 425.7l1.6 -3.4M1709.6 393.9l2.0 -3.8M1722.7 384.3l3.6 -0.6M1727.6 418.4l3.8 0.3M1726.4 404.4l3.6 -2.7M1749.3 431.4l2.3 -0.9M1784.2 476.1l2.9 0.5M1713.9 397.9l3.5 0.1M1774.9 444.0l1.9 0.3M1714.9 464.1l3.8 -1.9M1722.7 411.5l1.8 -0.3M1743.6 432.2l1.3 -3.8M1776.8 377.7l2.7 -1.9M1778.9 380.3l3.0 -0.7M1719.4 435.7l2.4 0.1M1767.8 453.9l2.3 -1.4M1750.7 444.3l2.9 -0.8M1750.9 409.2l2.2 -0.3M1745.0 467.4l4.3 -1.1M1741.8 405.3l4.3 -0.5M1707.3 403.0l3.4 -2.5M1741.6 439.6l1.3 -1.7M1751.6 421.8l1.5 0.0M1751.4 411.4l2.7 0.9M1733.7 469.8l3.4 -1.6M1742.3 369.0l3.4 1.2M1747.1 481.6l1.9 0.3M1755.9 424.3l1.9 -1.1M1705.8 453.0l3.1 -1.2M1785.9 426.5l1.6 -2.6M1745.8 439.9l1.4 -1.8M1780.1 377.9l1.5 -1.9M1687.3 436.8l0.9 -3.6M1722.1 453.4l2.5 -2.6M1753.0 417.8l1.3 -1.1M1759.1 397.3l1.8 -0.8M1768.2 417.7l2.3 -1.1M1781.5 406.8l1.3 -1.6M1736.7 410.2l2.2 0.3M1749.4 409.9l3.2 -0.9M1710.6 425.8l0.4 -1.4M1710.6 448.8l1.0 -1.7M1750.8 359.1l2.5 -0.9M1751.0 436.5l4.0 0.2M1717.7 391.4l0.8 -3.4M1737.7 444.6l2.2 0.1M1755.5 436.3l1.2 -2.6M1748.7 377.8l1.9 -1.3M1711.1 440.1l1.5 0.3M1702.6 428.2l3.3 0.0M1744.9 400.0l3.6 -0.2M1753.8 394.2l1.2 -2.5M1753.6 470.2l3.9 0.4M1748.4 400.4l3.9 -0.9M1756.8 474.7l1.8 -3.9M1731.2 457.1l4.2 -0.3M1784.8 377.7l2.2 -2.7M1761.7 400.6l3.2 -0.4M1751.4 386.4l2.5 -2.8M1756.4 487.6l3.5 -2.6M1732.9 410.0l4.4 -0.4M1724.8 370.6l1.8 -0.5M1744.8 465.1l3.4 1.2M1713.3 441.4l3.4 -2.1M1729.3 429.7l0.5 -1.6M1715.2 415.1l2.2 -2.9M1720.6 411.5l3.5 -2.0M1706.5 455.9l3.6 0.9M1726.9 401.4l2.0 -0.5M1727.9 424.5l2.3 -0.1M1783.3 367.0l1.4 -1.7M1744.9 451.5l1.8 -0.7M1730.2 448.6l3.5 0.9M1740.4 408.4l2.9 -1.0M1787.9 464.4l4.4 0.6M1689.4 411.6l4.0 1.2M1739.1 401.5l2.5 -2.5M1717.3 453.2l0.7 -3.2M1732.3 470.8l3.5 0.5M1751.2 426.9l4.4 -0.3M1743.8 372.6l1.6 -1.8M1786.3 367.0l1.5 0.1M1748.5 415.6l3.6 -2.5M1773.5 409.0l2.7 -0.2M1762.0 398.4l3.0 -1.4M1734.6 426.2l1.2 -1.8M1722.9 427.9l2.2 -0.6M1759.1 416.3l2.4 0.6" stroke="#c09030" stroke-width="1.6" stroke-linecap="round" fill="none"/>
<path d="M1742.6 400.4l1.0 -2.4M1734.1 383.9l3.3 -2.9M1772.0 393.8l3.1 -2.9M1740.5 460.5l1.9 -1.4M1732.5 439.1l3.2 -0.5M1759.0 388.8l3.4 -2.4M1723.3 448.8l4.4 -0.8M1774.5 448.5l1.4 -2.7M1762.0 423.1l2.9 -1.3M1777.6 413.2l1.9 -1.3M1775.6 462.0l0.7 -1.3M1752.6 448.2l1.6 -1.5M1740.3 397.2l0.7 -2.8M1730.8 436.7l2.6 -1.4M1763.6 444.3l3.6 -2.3M1763.6 441.9l0.7 -2.6M1708.6 421.9l1.8 0.1M1761.8 424.5l1.7 -0.5M1702.2 458.5l3.2 -0.2M1732.7 384.5l1.9 -3.8M1775.4 432.2l1.7 -1.9M1784.0 398.4l4.4 -0.0M1686.7 464.3l2.3 -1.0M1736.2 388.8l2.2 -1.7M1749.8 427.5l2.3 -3.5M1752.7 424.9l2.3 -0.0M1722.4 396.1l1.4 -1.6M1729.6 415.8l1.7 -2.9M1744.8 458.6l3.9 -0.3M1773.8 429.9l1.8 -1.0M1745.6 425.8l3.5 -1.5M1704.3 479.0l1.2 -3.4M1774.2 476.8l1.8 -0.2M1732.5 425.8l0.6 -1.4M1724.3 433.5l1.0 -1.5M1714.4 431.1l4.0 0.6M1770.0 387.9l2.8 1.1M1764.6 454.0l2.5 -0.9M1736.0 441.9l1.6 -0.2M1779.8 438.0l3.5 -0.3M1733.7 425.2l3.3 0.4M1787.9 395.6l3.3 1.0M1746.7 388.2l1.8 0.3M1723.8 424.0l1.3 -1.5M1717.0 414.9l2.5 -3.2M1786.6 450.7l2.6 0.9M1744.0 391.8l2.8 -1.9M1746.2 408.7l1.5 -0.2M1747.3 434.2l2.6 -0.7M1734.0 449.3l1.5 -1.4M1723.0 402.8l2.5 -0.0M1738.2 412.6l2.0 -1.1M1731.6 460.2l2.1 -1.2M1783.7 386.7l2.6 -2.6M1768.0 501.5l0.9 -1.9M1770.1 420.9l3.3 -1.2M1736.9 388.2l1.1 -1.4M1684.4 428.1l2.5 0.6M1760.8 451.6l4.0 0.7M1719.2 410.3l3.0 -0.8M1687.1 435.7l1.4 -0.5M1764.1 453.5l1.9 -3.8M1746.7 419.6l1.5 0.3M1695.1 392.8l4.0 -1.9M1743.5 405.4l4.4 -0.5M1741.4 389.9l2.6 -1.1M1738.6 398.6l1.9 0.5M1748.4 447.8l2.4 -0.4M1778.7 412.9l2.7 0.8M1755.9 413.0l2.0 0.8M1731.0 419.1l2.0 -1.1M1769.9 407.8l3.8 -1.2M1749.3 379.7l3.4 0.7M1715.5 391.6l3.0 -2.4M1760.3 393.9l4.0 1.0M1736.4 410.3l1.0 -1.3M1736.8 452.3l1.6 -3.9M1712.9 438.6l0.8 -2.2M1710.8 457.9l2.4 -1.2M1746.6 457.0l3.3 0.5M1769.0 399.4l1.0 -4.4M1737.2 467.9l2.4 -1.6M1729.4 445.4l3.6 0.0M1780.5 386.5l1.8 -1.9M1743.0 403.8l1.3 -1.3M1706.3 448.8l2.4 -2.6M1739.2 400.3l2.3 -0.3M1743.2 416.9l2.0 -2.5M1740.7 482.0l2.6 -2.2M1757.2 394.7l3.3 -2.5M1716.6 363.4l3.2 -0.5M1737.8 361.1l2.1 -3.7M1719.0 397.5l2.9 1.0M1737.7 473.6l3.3 -0.9M1780.8 420.2l1.3 -2.9M1704.3 411.8l1.1 -2.1M1747.6 394.9l2.7 -1.3M1730.0 430.3l1.2 -4.1M1776.1 462.3l2.9 -2.1M1747.0 396.3l0.8 -2.1M1725.0 377.9l2.6 0.3M1778.0 399.7l4.1 1.7M1708.8 408.9l3.7 -2.4M1783.0 427.8l2.2 -0.1M1752.9 423.7l2.8 0.7M1724.8 447.1l1.8 -0.9M1774.2 399.2l1.0 -2.0M1739.7 361.6l1.2 -1.8M1770.0 449.8l3.2 -3.2M1724.6 439.9l4.0 0.1M1718.2 400.7l3.9 -0.8M1708.4 414.4l2.2 0.9M1718.3 380.6l3.7 0.6M1703.8 386.0l2.7 -3.4M1719.3 439.4l1.6 -3.5M1747.1 413.4l0.4 -1.5M1775.1 405.9l1.5 -2.3M1736.0 370.3l0.6 -3.1M1743.6 459.3l2.1 -0.8M1758.6 373.2l3.2 -0.0M1716.0 473.8l2.0 0.2" stroke="#d8c040" stroke-width="1.6" stroke-linecap="round" fill="none"/>
<path d="M1785.0 374.5l4.2 -0.1M1762.4 424.0l1.6 -1.6M1748.7 415.0l4.3 0.1M1718.3 420.0l3.9 -1.0M1719.9 449.9l3.0 0.3M1742.5 476.0l2.2 0.2M1759.4 403.6l4.3 0.2M1742.7 415.5l2.4 0.7M1741.7 465.2l1.6 -0.3M1716.0 422.9l3.1 -1.4M1755.4 429.8l1.8 -2.7M1720.3 451.1l4.0 -1.4M1769.8 450.6l0.6 -2.4M1734.4 397.9l2.8 -2.9M1724.3 372.0l2.7 -0.1M1753.2 437.3l1.3 -3.3M1770.5 434.2l3.5 -0.4M1708.7 444.0l1.7 -1.4M1716.4 404.2l2.4 -0.2M1782.6 399.0l3.2 -2.3M1755.1 412.2l1.7 -0.6M1703.9 461.3l1.5 -1.4M1731.6 357.7l4.1 0.3M1725.1 452.5l2.2 -2.1M1781.8 417.1l0.3 -1.5M1722.8 382.3l3.2 1.1M1778.6 481.3l1.9 -0.5M1713.0 434.5l0.7 -2.5M1740.4 459.1l0.6 -1.5M1752.6 436.2l2.4 -2.1M1729.2 379.1l2.1 -0.7M1720.8 411.1l1.6 0.6M1758.0 422.5l2.3 -1.5M1749.6 428.5l1.7 -0.8M1733.3 473.2l1.3 -1.0M1745.1 397.7l1.5 -0.5M1762.3 464.7l2.3 -2.7M1718.3 445.2l3.1 -2.1M1718.0 418.9l3.3 0.2M1731.8 407.6l1.3 -2.0M1750.4 379.7l4.0 0.1M1714.6 422.4l2.6 0.7M1727.9 407.8l0.8 -2.0M1739.3 423.2l1.7 -0.7M1760.0 399.2l3.8 -1.4M1729.3 444.3l3.7 -2.4M1762.9 390.9l2.0 -1.1M1726.8 446.0l3.7 -1.9M1760.1 396.1l0.6 -1.6M1758.1 394.0l1.8 -3.3M1717.7 417.2l2.8 -0.2M1719.5 389.5l2.4 -2.3M1767.1 427.8l3.3 -0.2M1736.8 446.4l3.0 1.0M1752.7 478.0l3.5 -0.9M1688.8 443.3l2.0 -1.1M1770.2 451.1l4.1 -1.9M1739.4 382.3l2.1 -3.8M1729.4 459.6l3.7 -1.7M1736.5 405.9l3.8 0.3M1710.5 432.7l2.0 -0.8M1742.7 420.0l0.7 -1.9M1784.3 426.5l2.0 -3.3M1773.9 396.6l2.1 -0.5M1706.7 377.9l1.7 -0.1M1754.0 431.1l3.4 -1.1M1727.4 395.0l3.9 1.0M1667.8 451.6l1.5 -1.5M1743.7 382.5l3.5 0.1M1769.9 406.1l1.1 -2.4M1734.3 453.4l2.4 -3.5M1755.4 385.8l1.7 -0.3M1772.8 450.8l1.4 -0.9M1723.4 466.4l1.5 -3.9M1760.4 398.8l1.7 -0.2M1773.8 410.4l1.8 -1.1M1760.2 397.8l0.9 -3.4M1760.6 454.1l1.0 -1.1M1698.2 407.2l1.2 -2.2M1770.4 364.6l3.0 -0.6M1759.8 401.3l1.8 0.2M1725.9 413.1l2.7 -3.0M1739.4 441.8l2.0 -0.1M1690.7 450.7l3.5 1.3M1714.6 418.1l2.0 -0.1M1738.1 453.2l3.9 1.0M1730.6 398.7l1.5 -1.1M1726.4 466.9l4.4 -1.1M1783.7 425.4l3.1 0.7M1776.7 428.5l1.8 -0.4M1732.1 431.8l2.6 1.1M1748.0 443.6l3.6 0.3M1735.7 410.5l2.4 0.9M1704.5 377.8l3.6 -1.9M1729.0 461.2l0.4 -2.0M1740.9 466.8l2.2 -2.5M1777.9 412.9l3.8 1.2M1698.9 438.7l2.0 -1.7M1780.0 433.7l0.6 -2.3M1730.5 399.2l4.4 0.9M1720.3 424.7l1.4 -3.4M1732.9 440.5l1.8 -0.5M1713.4 465.2l2.9 -1.0M1741.1 464.0l1.0 -1.1M1708.7 405.2l0.8 -3.1M1653.7 443.3l1.8 0.3M1782.7 440.9l1.6 -1.1M1765.4 419.9l1.8 -1.6M1730.3 384.3l4.4 0.5M1712.2 503.2l3.2 0.7M1717.0 463.6l0.6 -1.6M1787.2 438.2l2.2 -2.8M1741.4 477.6l3.3 -0.4M1765.0 414.8l3.4 0.2M1745.1 442.2l0.8 -2.4M1715.4 411.8l3.3 -0.7M1732.0 450.9l3.3 0.4M1742.4 391.1l1.5 -1.4M1742.7 424.7l4.2 1.2M1741.7 395.6l2.2 -3.4M1769.0 444.1l2.1 -0.8M1761.0 470.6l3.4 -1.5" stroke="#6fa83a" stroke-width="1.6" stroke-linecap="round" fill="none"/>
<path d="M1700.4 427.7l1.8 -1.4M1750.3 426.8l2.1 -0.2M1727.2 462.6l1.5 -1.0M1752.5 416.5l0.7 -1.9M1744.6 401.9l4.1 -1.7M1708.0 382.1l2.1 -1.2M1734.0 500.5l2.5 0.2M1729.5 403.6l4.5 -0.6M1742.4 411.3l1.1 -1.6M1736.7 459.8l3.8 -1.8M1745.5 458.6l4.1 -0.2M1776.9 405.1l2.9 -2.5M1703.4 431.7l3.0 -1.3M1785.9 385.3l2.2 -2.0M1697.6 408.4l1.8 -4.0M1719.1 459.8l0.6 -1.9M1754.9 416.5l1.4 -1.0M1764.6 420.0l1.8 0.1M1772.2 365.6l3.5 1.0M1716.1 366.9l1.6 0.2M1765.4 453.4l3.9 -0.3M1779.8 394.9l2.0 -2.8M1762.0 448.6l1.7 -3.0M1773.6 392.6l3.5 0.7M1731.3 389.6l0.5 -2.4M1750.1 393.1l2.7 -1.7M1746.3 425.5l3.9 1.5M1686.9 398.8l0.4 -1.6M1745.7 411.2l1.8 -1.7M1756.2 422.8l2.5 -0.9M1721.4 448.9l1.2 -1.2M1779.7 422.3l2.9 0.9M1760.2 433.3l0.6 -3.2M1752.0 366.5l2.8 -2.4M1752.6 417.0l2.1 0.0M1759.9 435.9l3.8 1.3M1757.7 471.7l2.4 -1.9M1747.9 405.4l2.5 -0.8M1710.9 454.3l2.8 0.9M1773.4 443.1l2.0 -2.4M1784.5 438.1l3.2 -0.5M1754.6 440.1l2.3 -1.0M1745.2 432.7l2.8 1.1M1727.1 406.1l4.1 -0.8M1741.3 473.9l1.5 -2.0M1739.4 450.0l0.8 -3.0M1758.1 441.6l2.1 -1.2M1745.1 418.4l1.5 -0.8M1768.4 411.2l3.8 1.2M1758.7 419.8l4.0 -0.9M1707.0 408.2l2.8 -3.1M1690.6 413.0l1.0 -1.5M1733.0 448.4l3.4 -0.6M1710.4 438.1l3.9 -0.3M1772.5 454.7l1.6 -0.1M1711.2 425.9l2.0 0.1M1717.3 412.9l1.3 -2.3M1747.5 445.1l2.3 -2.4M1735.7 441.2l1.5 0.6M1685.0 414.9l0.5 -1.9M1731.8 470.4l2.5 -2.2M1694.1 443.3l1.9 -0.1M1744.3 381.4l1.6 0.3M1779.3 362.6l2.2 -0.0M1753.3 433.0l3.5 -1.9M1762.3 404.4l2.0 0.7M1743.7 473.0l1.0 -3.4M1773.9 445.5l4.0 1.1M1740.8 402.9l2.2 -1.7M1726.2 369.9l3.9 -1.8M1713.4 453.0l1.5 -1.0M1723.9 397.5l2.9 -3.0M1768.1 421.9l2.1 -2.2M1727.0 422.6l1.6 -0.3M1750.6 402.3l3.4 0.0M1754.8 466.5l3.6 1.4M1755.2 458.0l1.8 -3.8M1777.5 426.7l0.4 -2.1M1719.5 392.9l1.9 0.3M1691.5 438.1l3.4 -1.4M1713.8 416.6l4.0 -1.3M1686.3 441.6l2.8 -0.5M1688.1 431.9l3.1 0.9M1763.6 402.7l3.8 -1.4M1742.2 374.5l3.8 -0.5M1732.2 408.1l2.5 -1.3M1726.3 403.2l3.8 -1.0M1729.1 417.9l0.5 -3.0M1738.1 475.2l1.1 -4.0M1702.8 426.4l2.2 -1.1M1751.4 433.1l0.4 -2.2M1736.5 409.8l1.0 -1.7M1764.0 380.5l1.3 -2.0M1753.6 443.4l1.2 -2.7M1753.6 467.8l2.2 -3.0M1717.1 444.8l0.4 -1.5M1740.0 428.4l3.9 0.5M1758.8 443.8l1.6 -0.1M1726.8 376.9l1.9 -2.0M1706.3 408.0l2.4 0.8M1742.4 397.5l3.5 -0.7M1784.3 449.6l0.7 -3.1M1778.1 387.0l2.5 -3.1M1777.2 436.6l2.3 -2.4M1754.3 414.3l2.0 -0.4M1745.4 438.1l1.5 -0.0M1733.9 409.3l0.7 -4.0M1756.7 402.1l3.5 -2.5M1745.1 427.1l2.8 -3.1M1786.6 441.8l0.7 -3.3M1747.9 357.7l1.8 -2.2M1778.1 418.4l2.1 -2.9M1688.6 409.3l1.0 -2.6M1739.7 469.7l3.2 1.3M1755.8 404.5l3.8 1.6M1736.6 409.1l1.3 -1.5M1758.5 432.4l0.6 -2.0M1758.1 470.1l2.0 -2.6M1784.2 433.2l4.1 -0.0M1745.2 413.9l1.9 -4.0M1727.1 406.1l1.5 -1.1M1755.7 413.1l1.5 -3.0M1712.2 438.8l2.9 1.0M1756.8 385.0l1.8 -2.0M1743.0 413.1l2.4 -1.2M1702.7 458.6l2.0 -3.8M1784.0 470.9l4.1 -1.8M1760.5 390.3l3.0 1.0M1764.1 458.0l3.1 0.4M1708.9 442.8l1.7 -1.2M1743.0 425.4l3.6 -1.5M1734.2 503.7l3.0 -1.8M1759.3 461.3l0.5 -1.5M1716.3 385.3l3.3 1.2M1777.0 475.8l3.7 -1.1M1737.7 466.3l1.9 -3.9M1727.8 432.7l2.5 -3.2" stroke="#e8e060" stroke-width="1.6" stroke-linecap="round" fill="none"/>
<path d="M1743.6 484.4l2.9 -1.1M1726.3 411.7l2.0 -3.6M1712.0 453.8l4.2 -0.6M1738.4 463.6l3.5 -1.9M1775.5 455.3l2.2 -0.7M1758.5 417.5l1.3 -2.1M1732.5 404.2l2.1 -1.2M1746.1 400.6l1.6 -0.3M1766.3 471.5l2.7 -2.5M1731.9 422.7l1.5 -2.1M1725.3 392.4l2.3 -2.6M1735.9 369.4l3.2 -3.0M1731.0 417.3l1.9 0.5M1747.6 464.4l1.1 -4.0M1773.9 441.9l2.9 -1.9M1747.0 422.4l2.4 -1.9M1728.4 398.8l2.5 -2.5M1754.3 375.4l2.1 0.2M1723.3 403.7l3.7 0.6M1766.4 410.2l0.8 -2.4M1731.5 424.1l1.5 -0.6M1697.2 423.8l3.8 1.0M1688.5 427.6l3.4 1.1M1754.9 364.8l3.7 -0.4M1715.9 381.4l3.0 -1.5M1745.7 414.3l3.1 -2.4M1766.5 430.7l2.2 -2.0M1690.8 441.1l4.3 -0.2M1691.7 439.1l0.3 -1.8M1784.1 450.3l0.9 -2.7M1705.0 428.3l2.1 -0.1M1694.5 430.5l1.8 0.6M1723.8 373.9l1.4 -1.6M1715.3 429.5l2.8 0.2M1716.2 457.3l4.1 0.5M1762.3 447.7l0.5 -2.7M1776.7 420.6l2.3 0.6M1764.6 417.6l3.2 -2.5M1730.8 416.9l1.0 -1.5M1731.6 398.0l2.7 -2.3M1700.4 433.4l0.5 -2.5M1705.3 410.0l1.9 -0.5M1725.6 394.4l1.0 -1.7M1720.7 423.9l2.7 -2.1M1746.7 369.5l2.5 -1.0M1762.4 419.2l2.1 -0.4M1714.9 442.0l3.0 -1.4M1741.7 367.6l4.3 0.0M1764.1 431.4l4.4 -0.7M1781.8 390.2l0.3 -1.6M1764.5 401.8l1.7 0.3M1739.0 407.0l3.4 -0.9M1763.5 473.1l0.8 -1.4M1706.2 412.7l1.9 -1.2M1777.1 458.1l3.0 -1.9M1741.2 408.3l3.2 -1.2M1760.4 399.7l3.7 0.5M1724.1 432.8l2.8 -3.0M1757.8 417.6l1.8 -0.7M1755.8 448.4l2.5 0.2M1753.1 471.1l4.2 -0.3M1770.2 363.1l1.4 0.5M1770.6 451.4l2.5 -1.3M1739.7 382.5l1.0 -1.4M1743.6 387.3l1.2 -2.8M1743.7 416.9l1.9 -4.0M1711.8 421.9l2.8 -2.4M1733.2 406.0l4.2 1.2M1778.1 394.5l1.7 -0.9M1767.3 416.2l2.2 -1.0M1737.3 430.8l4.4 -0.2M1741.8 478.5l2.5 -0.6M1757.9 387.8l4.1 0.4M1675.3 432.1l3.9 0.8M1745.3 442.5l4.0 -0.6M1780.5 366.1l0.7 -2.3M1719.8 471.4l3.3 -1.9M1712.6 456.3l1.5 0.4M1747.3 438.9l2.0 -2.1M1702.3 397.9l1.0 -2.8M1735.5 405.5l1.8 -0.1M1762.2 390.5l2.2 0.4M1708.0 377.9l1.7 -3.7M1747.5 415.8l3.2 -1.8M1734.7 416.7l0.9 -3.9M1745.5 402.9l2.6 -3.0M1734.6 404.3l2.6 0.4M1727.2 370.2l2.9 -0.5M1780.8 436.2l1.5 -0.7M1732.8 404.2l0.4 -1.8M1739.1 378.6l2.4 -2.2M1761.3 361.6l4.3 1.1M1734.2 388.3l2.4 -0.0M1696.2 375.1l0.9 -3.4M1703.3 401.4l2.4 0.1M1688.9 420.5l1.3 -1.8M1761.4 445.3l2.7 -2.4M1730.5 403.9l2.9 -2.6M1746.3 394.8l1.4 -1.8M1754.9 374.5l4.0 1.6M1787.8 403.9l1.7 -1.1M1763.2 418.0l0.7 -2.1M1719.8 408.6l3.3 -1.3M1761.1 410.2l1.7 -0.2M1733.1 456.2l0.5 -2.3M1696.6 432.1l2.1 0.3M1720.2 357.8l4.4 0.6M1727.0 430.0l1.2 -3.3M1741.2 416.1l3.1 -2.0M1725.9 444.5l2.8 0.2M1722.8 448.7l1.9 -0.2M1708.9 441.6l1.0 -3.2M1703.0 467.3l3.5 -2.0M1735.6 418.2l0.6 -1.6M1705.2 428.9l2.1 -3.8M1712.8 396.0l1.6 0.1" stroke="#e0d84a" stroke-width="1.6" stroke-linecap="round" fill="none"/>
<path d="M1683.0 491.2l-4.0 1.4M1716.4 408.7l1.4 3.7M1718.7 358.2l-0.7 3.7M1757.8 449.0l-0.8 2.9M1754.2 379.1l2.4 2.8M1758.8 437.0l-2.6 4.3M1698.2 388.4l-1.6 2.2M1746.8 434.5l-3.9 0.6M1752.2 395.4l3.9 0.9M1751.6 383.2l-0.4 2.1M1740.3 379.0l-0.3 3.2M1699.8 409.0l-2.4 2.2M1768.5 449.9l2.9 2.1M1720.4 474.3l-2.0 1.4M1744.0 414.2l-3.7 1.9M1768.8 411.2l3.2 0.5M1769.1 496.7l2.8 1.2M1739.2 407.3l-2.0 3.6M1738.9 446.9l-0.9 4.3M1744.1 368.3l3.5 0.2M1746.9 472.9l1.0 1.9M1727.3 417.1l3.4 1.6M1771.2 420.8l-1.3 2.1M1766.5 422.0l-1.6 3.1M1749.7 431.6l1.4 1.5M1732.7 459.4l2.0 3.7M1731.7 418.4l0.2 4.9M1697.3 392.9l0.7 1.9M1739.0 409.1l-0.1 3.8M1753.6 447.3l-2.0 1.6M1720.8 440.8l-0.5 2.8M1763.9 394.7l0.2 3.9M1723.6 452.4l3.1 1.2M1697.3 381.8l-3.1 0.0M1784.0 474.7l-4.2 2.4M1771.9 430.2l0.3 2.1M1739.4 405.5l-0.1 3.1M1762.8 473.9l1.5 1.5M1716.3 467.4l3.8 0.4M1766.8 443.0l2.3 1.3M1773.8 405.4l-4.7 1.5M1757.8 419.5l2.1 1.7M1766.7 394.1l-1.7 2.3M1713.0 455.2l-4.6 0.9M1701.1 439.1l1.7 3.4M1680.6 493.0l-1.7 3.0M1756.0 415.2l2.2 1.3M1776.8 443.0l4.1 2.0M1750.6 398.2l-0.6 2.8M1707.4 442.7l-3.8 0.7M1730.8 458.1l0.8 2.7M1709.9 467.9l0.3 2.7M1768.7 408.8l-1.9 1.5M1705.9 435.9l1.9 3.1M1758.1 441.6l-2.3 1.3M1746.2 418.7l3.5 0.2M1722.3 384.8l2.7 1.0M1728.0 458.3l-2.4 3.7M1747.2 393.6l-2.0 0.4M1694.2 410.2l3.9 2.5M1736.7 423.0l2.8 0.5M1785.4 433.6l-2.3 3.4M1760.4 438.7l-1.8 2.3M1746.8 445.1l2.0 0.7M1766.1 480.7l2.1 2.6M1726.2 367.7l-0.1 2.6M1723.8 420.0l1.8 1.0M1767.1 410.8l3.3 1.6M1773.1 425.3l3.0 3.6M1776.1 416.6l3.0 1.5M1704.3 399.1l-0.2 2.2M1688.9 413.7l2.4 2.1M1738.8 410.3l-0.8 2.7M1726.2 442.7l-2.4 2.4M1763.9 382.3l1.5 2.0M1727.3 391.0l-3.6 3.4M1711.6 432.8l3.1 3.7M1727.1 413.3l3.3 2.0M1764.4 410.4l-2.4 3.5M1716.8 405.7l2.4 1.3M1745.9 456.0l3.1 3.5M1703.2 414.6l2.2 3.7M1744.6 390.9l-0.9 2.1M1752.5 380.2l3.0 3.9M1739.3 410.8l-3.0 2.6M1679.3 464.1l-1.9 3.0M1759.4 390.2l1.6 2.5M1738.4 455.9l3.2 0.5M1780.8 437.5l-3.3 2.8M1746.2 421.8l1.2 2.1M1726.7 364.1l-2.7 2.1M1728.4 453.3l2.2 1.3M1737.9 434.0l0.3 3.6M1725.1 406.2l-3.2 0.1M1787.7 397.9l4.3 1.3M1721.1 470.9l-1.9 0.8M1747.7 481.9l-3.1 2.5M1731.8 373.8l2.4 0.0M1757.0 368.0l-2.0 3.0M1771.5 430.4l0.9 2.2M1733.3 429.6l-2.4 0.1M1737.0 466.7l1.2 2.2M1701.4 423.3l2.1 3.2M1738.3 434.6l-1.4 1.7M1750.1 427.9l3.1 0.6M1705.2 450.2l-4.2 1.7M1773.5 374.6l-2.3 1.0M1756.1 390.5l0.1 2.5M1770.1 457.6l1.0 3.4M1729.2 406.5l1.4 4.0M1736.6 401.7l-3.5 2.9M1741.3 361.0l2.3 0.0M1720.4 399.6l-3.2 1.3M1772.7 383.3l-0.6 3.2M1735.8 417.9l-0.2 3.4M1740.1 467.4l-2.5 0.6M1733.8 435.5l-2.5 2.3M1743.1 410.9l-2.2 1.7M1728.6 426.5l1.1 2.0M1725.6 437.4l-3.6 2.6M1749.4 380.8l2.2 2.3M1779.8 429.2l4.4 1.3M1736.2 468.4l-1.6 2.9M1742.6 401.2l-2.1 1.0M1733.8 399.5l-3.3 1.4M1769.8 471.9l2.4 1.5M1764.0 447.2l-3.0 1.6M1783.9 370.4l-0.5 4.7M1733.0 399.1l-3.8 1.3M1764.1 409.1l-2.2 4.0M1747.4 428.7l1.5 3.9M1761.1 388.7l2.8 0.0M1695.1 441.4l2.2 0.3M1746.7 439.8l4.3 0.6M1780.2 388.6l-0.1 4.2M1729.0 384.8l1.9 0.7M1675.5 393.0l-2.0 1.6M1749.1 487.9l-2.0 1.0M1778.5 386.7l-2.2 2.6M1767.1 398.5l1.5 4.1M1725.9 358.7l-4.8 0.3M1763.9 448.4l1.3 4.8M1772.4 373.3l-0.3 4.5M1748.2 443.3l2.6 0.1M1740.2 415.0l-4.0 1.5M1735.4 450.0l-2.2 1.9M1760.5 422.8l1.5 2.4M1705.3 375.2l3.9 2.9M1773.6 423.4l1.5 2.9M1742.6 436.5l-2.7 0.1M1775.4 439.8l-1.9 2.7M1734.6 405.9l2.1 0.5M1688.0 431.1l2.2 0.2M1752.3 440.2l4.4 1.9M1764.3 448.5l3.1 0.1M1765.3 448.4l0.4 2.4M1777.6 405.2l-2.5 0.4M1747.3 388.7l-0.6 3.9M1725.3 407.4l-3.7 0.5M1748.7 404.4l-1.1 4.6M1774.4 403.7l2.7 0.0M1694.8 369.8l-3.9 0.2M1736.3 416.7l1.2 3.0M1772.6 373.7l1.8 1.5M1768.9 439.2l1.0 2.1M1718.4 394.9l3.7 0.1M1765.4 431.1l-2.0 4.0M1780.4 443.6l-2.5 3.8M1767.8 417.6l0.8 2.9M1783.8 392.3l-2.0 1.4M1779.2 367.9l-4.2 0.4M1705.9 386.1l-3.4 2.8M1683.7 392.8l-2.8 0.2M1778.3 425.3l1.3 4.7M1743.5 450.5l-2.0 1.8M1739.8 448.8l-3.2 3.1M1771.5 408.5l0.5 2.1M1757.2 366.7l1.8 2.1M1758.0 392.6l3.0 2.8M1683.9 394.8l-2.6 0.4M1745.1 411.9l3.5 2.2M1741.1 390.2l0.6 2.4M1786.1 430.7l0.6 3.4M1708.5 437.6l-2.3 1.0M1726.8 383.2l4.2 1.1M1726.7 471.4l1.9 3.5M1765.9 409.7l-1.0 2.2M1730.1 449.0l1.0 3.3M1734.6 418.9l-1.9 1.6M1777.0 381.7l-2.6 2.0M1652.1 436.4l3.0 0.5M1745.8 392.1l-1.8 1.2M1744.5 413.6l-3.9 1.9M1675.4 405.0l1.4 2.1M1771.3 422.2l4.2 2.0M1761.6 443.7l1.8 1.5M1759.4 463.4l2.7 2.4M1686.1 419.8l-4.6 0.3M1701.4 486.5l-3.0 1.7M1692.2 388.3l-2.4 4.0M1776.5 409.4l3.3 3.6M1734.5 450.6l-3.7 0.7M1743.7 403.8l-4.7 1.2M1736.8 375.0l-2.3 0.3M1761.4 401.3l2.0 1.4M1755.1 440.3l-3.6 2.5M1750.4 423.2l1.0 4.1M1729.7 425.0l-1.7 2.3M1710.6 453.6l-3.5 1.7M1738.6 444.9l4.8 1.2M1757.7 402.8l-1.1 2.2M1721.2 415.5l-2.4 1.9M1749.5 424.3l-3.1 1.6M1720.9 439.6l1.1 3.6M1775.0 446.8l1.2 2.0M1743.5 441.8l-0.4 2.9M1778.6 403.4l2.5 1.5M1739.3 396.2l-1.1 2.5M1746.9 471.8l2.2 2.3M1709.2 387.2l-4.3 1.5M1673.1 384.7l-1.4 1.5M1703.8 383.4l-1.5 2.0M1694.1 399.3l1.3 2.6M1765.9 396.0l-2.5 1.6M1750.4 365.8l2.2 2.4M1760.1 420.7l3.2 0.6M1744.9 422.4l2.5 3.8M1694.3 449.4l-1.7 3.8M1755.7 429.5l-2.7 2.3M1743.8 397.6l-4.3 1.7M1761.8 415.4l-3.5 0.5M1771.4 433.8l3.2 0.7M1732.2 428.5l3.9 2.1M1721.6 414.7l-2.1 2.6M1737.1 423.2l-3.4 2.0M1734.4 450.8l-2.0 0.7M1759.9 457.7l-0.1 2.9M1718.2 393.3l2.0 3.4M1692.0 411.8l-0.6 2.0M1719.8 429.8l3.6 1.4M1768.3 435.8l0.7 2.6M1716.1 429.6l-3.6 2.2M1723.9 423.4l2.6 1.7M1785.7 446.6l1.0 4.2M1749.4 370.8l3.9 1.0M1741.1 431.1l2.2 0.3M1718.0 425.1l-1.6 3.3M1784.7 437.7l2.5 3.3M1769.6 425.1l3.5 1.1M1746.5 470.2l2.1 2.2M1787.8 414.4l3.2 2.7M1729.9 469.3l1.6 3.3M1756.8 480.6l-0.1 2.0M1752.5 467.1l-0.1 3.0M1788.4 438.0l-4.2 0.6M1749.2 389.7l-4.0 0.4M1783.7 375.5l-2.4 4.1M1768.0 392.5l2.8 2.0M1727.3 376.1l-2.2 3.4M1702.2 451.5l-2.1 3.6M1777.1 458.3l2.5 0.7M1760.4 431.6l0.9 2.4M1738.3 423.4l0.8 1.8M1745.6 479.8l2.5 3.9M1712.0 427.3l-0.2 4.1M1772.7 480.1l-2.5 0.6M1776.6 452.0l2.4 2.6M1685.8 450.9l1.2 4.0M1740.4 399.4l0.1 4.1M1771.7 390.8l3.4 0.1M1660.9 418.5l2.4 0.7M1713.0 449.0l-3.6 1.1M1662.8 447.5l3.1 1.0M1737.9 443.9l-3.9 1.5M1726.1 399.5l-2.0 4.0M1716.6 368.3l-2.3 3.8M1718.2 480.8l2.0 3.1M1738.7 450.3l0.2 2.4M1768.9 364.8l-2.5 0.4M1718.8 436.7l0.3 4.8M1768.0 490.4l0.8 2.3M1714.5 436.4l-0.9 4.6M1762.2 418.2l2.5 3.4M1739.1 399.9l-0.5 3.2M1738.6 459.7l-0.9 3.0M1750.0 415.6l-1.5 2.9M1736.8 415.4l1.6 2.5M1762.5 453.8l3.3 3.1M1764.0 399.7l2.3 1.9M1762.5 428.4l1.8 3.8M1690.3 467.9l-2.8 2.7" stroke="#0c1020" stroke-width="1.7" stroke-linecap="round" fill="none"/>
<path d="M1654.7 471.3l1.1 0.4M1670.6 458.9l-1.1 -0.9M1667.7 493.0l-0.1 0.9M1671.5 449.4l0.1 1.2M1671.9 473.5l-0.2 0.8M1667.8 479.2l1.3 1.4M1664.7 479.0l-1.2 -0.7M1649.3 460.6l1.0 -0.9M1648.8 484.6l-1.2 0.9M1635.2 449.7l-1.0 -0.9M1655.3 464.4l1.5 1.1M1675.1 466.3l0.7 1.0M1668.8 470.6l-0.4 -0.2M1672.9 459.5l0.0 1.4M1644.6 470.0l-1.0 0.6M1670.2 457.0l-1.4 -0.6M1673.0 467.4l0.5 -0.9M1673.8 477.8l1.5 1.3M1666.8 475.0l0.0 -1.1M1684.6 470.7l-1.2 -0.1M1680.5 454.0l1.4 1.5M1673.5 487.7l-1.2 1.2M1673.8 483.4l0.6 0.9M1656.7 472.0l0.6 1.3M1672.5 473.5l-0.3 0.2M1689.7 482.1l1.0 0.7M1660.1 468.0l-0.8 0.0M1680.6 470.2l-1.2 -0.6M1663.6 458.2l-0.4 -1.4M1641.6 475.9l-1.4 -0.9M1653.6 461.6l-0.2 -1.4M1669.4 476.1l-0.3 0.1M1668.5 480.8l-1.0 1.3M1672.0 470.0l1.4 -0.9M1675.1 468.7l0.9 -0.3M1661.9 474.4l1.1 -1.2M1661.9 451.4l0.6 0.6M1656.9 474.6l-0.9 -0.2M1678.2 454.0l-0.3 -1.3M1656.2 477.9l1.2 0.9M1653.0 491.6l1.1 -1.4M1636.9 456.3l1.5 -1.4M1654.0 466.1l0.7 0.2M1658.2 491.7l0.7 -0.6M1664.9 471.9l1.3 -0.3M1675.3 491.1l-1.0 -0.0M1655.6 466.2l-1.1 -0.4M1669.4 470.6l1.1 -0.7M1674.8 460.1l-0.5 -1.1M1671.8 498.4l0.5 0.2M1651.8 453.5l0.7 0.7M1671.4 466.8l0.6 -0.3M1668.1 467.4l-0.7 -1.4M1678.1 460.3l-0.7 0.4M1666.7 485.9l1.5 -0.4M1663.3 446.8l1.3 -1.0M1678.3 471.1l1.2 -1.2M1670.9 472.3l1.1 -0.6M1649.7 477.7l-0.8 -0.7M1643.8 452.3l0.1 -1.2M1666.4 484.9l1.3 -1.3M1680.7 468.9l0.4 -0.6M1666.8 494.6l1.3 -0.8M1659.9 461.2l-0.4 -1.1M1653.4 473.9l-0.7 -0.9M1652.3 474.0l-0.7 1.2M1676.4 478.8l-1.0 -0.5M1692.0 471.2l-1.1 0.6M1677.3 463.3l-1.5 -1.2M1664.9 471.4l0.0 -1.1M1665.0 475.0l-0.8 -0.1M1659.9 476.6l-1.1 0.9M1678.1 441.5l-0.0 -1.2M1635.0 486.1l-1.4 1.1M1677.4 458.5l1.0 -0.1M1676.0 456.4l-0.4 1.0M1679.0 472.6l-0.3 0.4M1696.1 473.5l-0.4 -0.2M1670.3 472.1l0.7 -1.2M1677.8 478.5l1.5 -0.5M1663.5 484.5l-1.4 0.5M1681.4 469.9l1.2 -0.2M1668.2 467.3l1.4 -0.7M1670.9 474.7l0.3 -1.4M1656.6 472.8l-0.5 0.7M1671.1 477.5l0.6 -0.1M1655.8 475.5l-0.5 0.6M1677.5 480.8l-1.4 -0.1M1659.8 474.5l0.9 -1.3M1682.2 472.7l0.2 -0.7M1654.7 468.9l0.7 -0.2M1687.9 492.1l1.0 -0.3M1656.8 464.2l-1.0 -0.9M1666.5 460.8l-1.0 -1.5M1652.5 457.4l0.3 -0.2M1654.8 468.5l0.3 -0.2M1670.4 460.5l-0.3 -1.0M1665.7 472.4l0.7 -0.5M1664.7 476.4l-0.6 1.4M1670.2 458.4l-0.9 0.4M1656.3 464.1l1.5 -0.8M1687.9 474.2l0.7 -1.2M1676.0 481.8l-1.2 0.8M1656.7 462.4l-1.0 -1.4M1658.9 468.1l0.0 1.2M1673.6 472.0l1.2 0.3M1662.5 471.3l0.8 0.5M1666.5 454.8l-1.5 1.0M1659.7 466.6l-0.3 -1.3M1657.5 479.1l-1.2 -0.8M1635.4 396.8l-0.4 -0.3M1682.4 391.6l-0.7 0.5M1654.9 391.1l1.0 -1.3M1655.5 382.0l0.9 0.6M1664.4 385.9l-0.0 -0.1M1650.0 392.6l-1.3 1.3M1679.1 389.8l0.8 1.0M1655.2 384.2l1.1 1.2M1636.5 384.8l-0.1 0.5M1662.2 382.6l-0.1 0.5M1647.7 387.3l-0.5 1.2M1656.6 390.3l1.0 0.5M1658.4 378.8l0.1 1.0M1655.2 390.8l1.0 -1.2M1653.5 374.4l-0.8 0.2M1677.1 396.3l-1.2 0.2M1665.8 389.2l-0.2 -0.3M1654.9 391.2l-0.8 -1.5M1651.8 393.5l-1.2 0.3M1662.2 384.3l-0.9 0.3M1669.0 392.8l0.6 0.2M1643.4 375.9l-0.0 -0.1M1668.7 383.1l0.8 -0.9M1656.8 373.6l1.0 0.4M1660.7 399.5l0.8 -0.9M1645.9 390.1l-0.8 1.3M1656.1 389.5l-0.9 1.1M1651.9 386.6l0.5 0.8M1645.9 402.7l-0.2 -0.7M1654.4 383.1l-0.7 0.9M1663.5 380.4l-1.2 1.4M1651.9 394.7l-0.1 -0.9M1647.1 393.4l-0.5 1.4M1638.4 383.9l0.9 -0.9M1671.2 395.3l-0.4 0.8M1671.2 389.3l0.4 0.3M1655.8 367.3l0.5 0.5M1656.6 400.4l-0.1 -0.6M1654.8 402.9l0.3 0.1M1666.7 393.3l0.0 1.0M1643.9 386.8l0.7 -0.2M1662.6 386.2l-0.8 -0.3M1653.4 392.5l-1.1 0.4M1657.0 382.9l0.6 -1.1M1658.2 380.8l-1.2 0.1M1665.2 400.2l-0.1 -0.1M1674.4 400.4l-0.0 -0.9M1664.1 409.4l-0.7 -1.3M1659.2 390.5l-0.2 -0.3M1647.7 381.5l0.5 1.3M1692.9 429.9l-0.2 -0.6M1678.4 438.0l0.2 -0.1M1684.6 425.6l-0.7 0.6M1691.9 427.0l-0.3 1.0M1679.3 439.8l-0.5 1.0M1671.0 437.6l0.4 1.5M1686.5 429.2l-1.4 -0.4M1683.0 432.0l-0.5 -0.2M1687.1 442.8l-0.0 0.6M1689.0 441.3l0.5 -0.6M1674.7 426.8l-0.1 -0.1M1672.4 434.2l1.0 0.1M1689.3 432.4l-1.3 0.2M1687.9 422.9l0.2 0.1M1681.7 423.9l0.1 -0.2M1691.6 434.8l1.2 0.8M1669.0 428.9l-1.0 -1.0M1684.0 432.3l1.0 -1.0M1672.7 432.8l0.2 -0.9M1685.8 433.4l-0.3 1.0M1680.8 430.3l-0.8 0.5M1681.2 431.0l0.7 0.4M1681.7 435.8l-0.1 -1.0M1697.2 442.4l1.1 -0.7M1678.4 436.4l-0.9 1.3M1683.7 425.3l-0.1 -0.9M1677.5 422.9l0.3 1.3M1669.2 435.7l1.5 -1.0M1691.5 427.1l-0.8 -0.8M1695.7 428.5l-0.1 1.2M1642.6 421.9l0.3 0.9M1648.4 420.7l0.3 0.6M1643.9 445.5l0.1 1.1M1640.6 420.8l0.4 1.4M1634.7 420.5l0.4 1.0M1634.3 419.8l-0.0 -1.2M1644.4 414.4l-1.3 1.2M1640.5 426.0l-1.3 -0.3M1644.6 433.8l-1.4 0.6M1651.6 409.9l1.4 1.0M1642.2 409.8l0.1 -0.4M1641.9 420.7l1.4 0.6M1646.2 426.7l-0.8 1.5M1642.5 426.5l0.8 -1.0M1643.4 423.1l-1.3 -0.9M1643.3 406.9l0.3 -0.8M1637.1 438.4l-1.0 -0.8M1649.7 426.4l1.4 -0.5M1644.6 412.2l-1.1 -0.6M1638.7 432.3l1.2 -0.9M1644.6 422.9l1.3 0.7M1652.2 431.1l-0.8 0.4M1641.8 422.7l-0.3 1.3M1648.1 433.0l-0.3 0.3M1648.2 420.7l0.6 0.9" stroke="#d81838" stroke-width="1.6" stroke-linecap="round" fill="none"/>
</g></g>
</g>
<g id="panel_b">
<text x="1" y="589" font-size="39" textLength="24" lengthAdjust="spacingAndGlyphs" font-weight="bold" stroke="#000" stroke-width="1">b</text>
<text x="0" y="0" transform="translate(23.8 889.8) rotate(-90)" font-size="27" textLength="185.6" lengthAdjust="spacingAndGlyphs" >Percent CD45<tspan dy="-12.69" font-size="17.82">+</tspan></text>
<text x="0" y="0" transform="translate(54.3 954) rotate(-90)" font-size="27" textLength="314.2" lengthAdjust="spacingAndGlyphs" >(of all viable single cells)</text>
<line x1="147" y1="590.625" x2="147" y2="1002.62" stroke="#5a5a5a" stroke-width="1.25" stroke-linecap="butt"/>
<line x1="137" y1="1002" x2="147" y2="1002" stroke="#5a5a5a" stroke-width="1.25" stroke-linecap="butt"/>
<line x1="137" y1="919.85" x2="147" y2="919.85" stroke="#5a5a5a" stroke-width="1.25" stroke-linecap="butt"/>
<line x1="137" y1="837.7" x2="147" y2="837.7" stroke="#5a5a5a" stroke-width="1.25" stroke-linecap="butt"/>
<line x1="137" y1="755.55" x2="147" y2="755.55" stroke="#5a5a5a" stroke-width="1.25" stroke-linecap="butt"/>
<line x1="137" y1="673.4" x2="147" y2="673.4" stroke="#5a5a5a" stroke-width="1.25" stroke-linecap="butt"/>
<line x1="137" y1="591.25" x2="147" y2="591.25" stroke="#5a5a5a" stroke-width="1.25" stroke-linecap="butt"/>
<line x1="141.25" y1="960.925" x2="147" y2="960.925" stroke="#5a5a5a" stroke-width="1.25" stroke-linecap="butt"/>
<line x1="141.25" y1="878.775" x2="147" y2="878.775" stroke="#5a5a5a" stroke-width="1.25" stroke-linecap="butt"/>
<line x1="141.25" y1="796.625" x2="147" y2="796.625" stroke="#5a5a5a" stroke-width="1.25" stroke-linecap="butt"/>
<line x1="141.25" y1="714.475" x2="147" y2="714.475" stroke="#5a5a5a" stroke-width="1.25" stroke-linecap="butt"/>
<line x1="141.25" y1="632.325" x2="147" y2="632.325" stroke="#5a5a5a" stroke-width="1.25" stroke-linecap="butt"/>
<text x="124.5" y="1010.3" font-size="22.5" text-anchor="end" textLength="12.5" lengthAdjust="spacingAndGlyphs" >0</text>
<text x="124.5" y="928.15" font-size="22.5" text-anchor="end" textLength="27" lengthAdjust="spacingAndGlyphs" >20</text>
<text x="124.5" y="846" font-size="22.5" text-anchor="end" textLength="27" lengthAdjust="spacingAndGlyphs" >40</text>
<text x="124.5" y="763.85" font-size="22.5" text-anchor="end" textLength="27" lengthAdjust="spacingAndGlyphs" >60</text>
<text x="124.5" y="681.7" font-size="22.5" text-anchor="end" textLength="27" lengthAdjust="spacingAndGlyphs" >80</text>
<text x="124.5" y="599.55" font-size="22.5" text-anchor="end" textLength="38.5" lengthAdjust="spacingAndGlyphs" >100</text>
<line x1="136.25" y1="1002" x2="410" y2="1002" stroke="#333" stroke-width="1.4" stroke-linecap="butt"/>
<rect x="161" y="915.5" width="66.5" height="86.5" fill="#808080"/>
<rect x="161" y="915.5" width="2.5" height="86.5" fill="#000"/>
<rect x="225" y="915.5" width="2.5" height="86.5" fill="#000"/>
<g fill="#fff" stroke="#000" stroke-width="3"><circle cx="167.0" cy="838.8" r="6.2"/><circle cx="194.2" cy="836.2" r="6.2"/><circle cx="221.5" cy="831.2" r="6.2"/><circle cx="194.2" cy="915.8" r="6.2"/><circle cx="221.5" cy="924.2" r="6.2"/><circle cx="194.2" cy="935.0" r="6.2"/><circle cx="194.2" cy="956.2" r="6.2"/></g>
<rect x="161" y="915.5" width="66.5" height="4.4" fill="#000"/>
<rect x="245.5" y="899.5" width="67" height="102.5" fill="#11807f"/>
<rect x="245.5" y="899.5" width="2.5" height="102.5" fill="#000"/>
<rect x="310" y="899.5" width="2.5" height="102.5" fill="#000"/>
<g fill="#fff" stroke="#11807f" stroke-width="2.3"><circle cx="278.8" cy="661.8" r="6.25"/><circle cx="284.2" cy="707.0" r="6.25"/><circle cx="273.2" cy="716.8" r="6.25"/><circle cx="273.2" cy="733.0" r="6.25"/><circle cx="284.2" cy="739.5" r="6.25"/><circle cx="284.2" cy="755.8" r="6.25"/><circle cx="273.2" cy="760.0" r="6.25"/><circle cx="273.2" cy="781.2" r="6.25"/><circle cx="284.2" cy="781.2" r="6.25"/><circle cx="273.2" cy="802.5" r="6.25"/><circle cx="284.2" cy="801.2" r="6.25"/><circle cx="262.5" cy="834.5" r="6.25"/><circle cx="273.2" cy="836.8" r="6.25"/><circle cx="284.2" cy="846.2" r="6.25"/><circle cx="273.2" cy="850.8" r="6.25"/><circle cx="262.5" cy="858.0" r="6.25"/><circle cx="295.0" cy="858.8" r="6.25"/><circle cx="284.2" cy="865.0" r="6.25"/><circle cx="295.0" cy="872.5" r="6.25"/><circle cx="262.5" cy="878.8" r="6.25"/><circle cx="284.2" cy="883.0" r="6.25"/><circle cx="251.8" cy="893.2" r="6.25"/><circle cx="262.5" cy="896.2" r="6.25"/><circle cx="284.2" cy="897.0" r="6.25"/><circle cx="295.0" cy="895.5" r="6.25"/><circle cx="306.2" cy="898.8" r="6.25"/><circle cx="273.2" cy="908.0" r="6.25"/><circle cx="262.5" cy="918.2" r="6.25"/><circle cx="295.0" cy="915.8" r="6.25"/><circle cx="306.2" cy="915.8" r="6.25"/><circle cx="251.8" cy="926.2" r="6.25"/><circle cx="284.2" cy="933.0" r="6.25"/><circle cx="295.0" cy="929.2" r="6.25"/><circle cx="262.5" cy="936.2" r="6.25"/><circle cx="273.2" cy="938.8" r="6.25"/><circle cx="262.5" cy="950.5" r="6.25"/><circle cx="295.0" cy="948.8" r="6.25"/><circle cx="251.8" cy="955.0" r="6.25"/><circle cx="284.2" cy="956.2" r="6.25"/><circle cx="306.2" cy="954.5" r="6.25"/><circle cx="273.2" cy="966.2" r="6.25"/><circle cx="295.0" cy="963.0" r="6.25"/><circle cx="262.5" cy="969.5" r="6.25"/><circle cx="251.8" cy="976.2" r="6.25"/><circle cx="284.2" cy="975.0" r="6.25"/><circle cx="306.2" cy="974.5" r="6.25"/><circle cx="273.2" cy="980.8" r="6.25"/><circle cx="295.0" cy="981.2" r="6.25"/><circle cx="262.5" cy="993.0" r="6.25"/><circle cx="284.2" cy="990.5" r="6.25"/></g>
<rect x="245.5" y="899.5" width="67" height="4.4" fill="#000"/>
<rect x="329.5" y="841.5" width="67" height="160.5" fill="#ff007f"/>
<rect x="329.5" y="841.5" width="2.5" height="160.5" fill="#000"/>
<rect x="394" y="841.5" width="2.5" height="160.5" fill="#000"/>
<g fill="#fff" stroke="#ff007f" stroke-width="2.3"><circle cx="363.0" cy="639.0" r="6.25"/><circle cx="354.0" cy="663.2" r="6.25"/><circle cx="372.0" cy="669.0" r="6.25"/><circle cx="354.0" cy="677.0" r="6.25"/><circle cx="363.0" cy="683.8" r="6.25"/><circle cx="372.0" cy="683.8" r="6.25"/><circle cx="354.0" cy="700.5" r="6.25"/><circle cx="372.0" cy="711.5" r="6.25"/><circle cx="363.0" cy="713.0" r="6.25"/><circle cx="354.0" cy="722.8" r="6.25"/><circle cx="372.0" cy="725.5" r="6.25"/><circle cx="363.0" cy="731.2" r="6.25"/><circle cx="363.0" cy="748.0" r="6.25"/><circle cx="363.0" cy="767.5" r="6.25"/><circle cx="372.0" cy="784.2" r="6.25"/><circle cx="381.8" cy="784.2" r="6.25"/><circle cx="354.0" cy="793.2" r="6.25"/><circle cx="363.0" cy="795.5" r="6.25"/><circle cx="357.5" cy="810.5" r="6.25"/><circle cx="367.5" cy="815.8" r="6.25"/><circle cx="354.0" cy="832.0" r="6.25"/><circle cx="372.0" cy="834.5" r="6.25"/><circle cx="345.0" cy="843.8" r="6.25"/><circle cx="380.8" cy="843.8" r="6.25"/><circle cx="354.0" cy="848.8" r="6.25"/><circle cx="363.0" cy="858.0" r="6.25"/><circle cx="372.0" cy="857.0" r="6.25"/><circle cx="345.0" cy="892.5" r="6.25"/><circle cx="372.0" cy="892.5" r="6.25"/><circle cx="354.0" cy="898.8" r="6.25"/><circle cx="363.0" cy="900.8" r="6.25"/><circle cx="380.8" cy="902.0" r="6.25"/><circle cx="345.0" cy="908.8" r="6.25"/><circle cx="336.0" cy="913.8" r="6.25"/><circle cx="372.0" cy="912.5" r="6.25"/><circle cx="390.0" cy="910.0" r="6.25"/><circle cx="354.0" cy="922.0" r="6.25"/><circle cx="336.0" cy="932.5" r="6.25"/><circle cx="345.0" cy="931.2" r="6.25"/><circle cx="372.0" cy="933.0" r="6.25"/><circle cx="380.8" cy="932.5" r="6.25"/><circle cx="390.0" cy="930.0" r="6.25"/><circle cx="354.0" cy="942.0" r="6.25"/><circle cx="363.0" cy="942.0" r="6.25"/><circle cx="372.0" cy="950.0" r="6.25"/><circle cx="354.0" cy="960.5" r="6.25"/><circle cx="363.0" cy="963.8" r="6.25"/><circle cx="372.0" cy="967.0" r="6.25"/><circle cx="363.0" cy="978.0" r="6.25"/><circle cx="372.0" cy="981.2" r="6.25"/><circle cx="354.0" cy="988.8" r="6.25"/></g>
<rect x="329.5" y="841.5" width="67" height="4.4" fill="#000"/>
<text x="274" y="585" font-size="23" textLength="98.5" lengthAdjust="spacingAndGlyphs" ><tspan font-style="italic">P</tspan> = 0.032</text>
<path d="M278.75 640V594.25H363.25V617" fill="none" stroke="#000" stroke-width="3.5" stroke-linecap="butt" stroke-linejoin="miter"/>
<rect x="82.5" y="1020.5" width="25" height="25" fill="#808080" stroke="#000" stroke-width="3"/>
<text x="121" y="1041" font-size="23.3" textLength="285" lengthAdjust="spacingAndGlyphs" >Benign breast tissue (<tspan font-style="italic">n</tspan> = 7)</text>
<rect x="82.5" y="1063.7" width="25" height="25" fill="#11807f" stroke="#000" stroke-width="3"/>
<text x="121" y="1084.2" font-size="23.3" textLength="107" lengthAdjust="spacingAndGlyphs" >TA (<tspan font-style="italic">n</tspan> = 51)</text>
<rect x="82.5" y="1106.9" width="25" height="25" fill="#ff007f" stroke="#000" stroke-width="3"/>
<text x="121" y="1127.4" font-size="23.3" textLength="190" lengthAdjust="spacingAndGlyphs" >ER<tspan dy="-10.95" font-size="15.38">+</tspan><tspan dy="10.95"> tumor (</tspan><tspan font-style="italic">n</tspan> = 53)</text>
</g>
<g id="panel_c">
<text x="605" y="589.5" font-size="39" textLength="21.5" lengthAdjust="spacingAndGlyphs" font-weight="bold" stroke="#000" stroke-width="1">c</text>
<rect x="741.5" y="568.5" width="28.5" height="28.5" fill="#808080" stroke="#000" stroke-width="3"/>
<text x="783.5" y="590.5" font-size="23.3" textLength="285" lengthAdjust="spacingAndGlyphs" >Benign breast tissue (<tspan font-style="italic">n</tspan> = 7)</text>
<rect x="1124" y="568.5" width="28.5" height="28.5" fill="#11807f" stroke="#000" stroke-width="3"/>
<text x="1166.5" y="590.5" font-size="23.3" textLength="108.5" lengthAdjust="spacingAndGlyphs" >TA (<tspan font-style="italic">n</tspan> = 51)</text>
<rect x="1460.5" y="568.5" width="28.5" height="28.5" fill="#ff007f" stroke="#000" stroke-width="3"/>
<text x="1502" y="590.5" font-size="23.3" textLength="190.5" lengthAdjust="spacingAndGlyphs" >ER<tspan dy="-10.95" font-size="15.38">+</tspan><tspan dy="10.95"> tumor (</tspan><tspan font-style="italic">n</tspan> = 53)</text>
<text x="0" y="0" transform="translate(627.5 1076) rotate(-90)" font-size="27.5" textLength="436" lengthAdjust="spacingAndGlyphs" >Number of cells per gram of tissue</text>
<line x1="712.5" y1="653.35" x2="712.5" y2="1064" stroke="#3c3c3c" stroke-width="1.5" stroke-linecap="butt"/>
<line x1="700.75" y1="1063.25" x2="712.5" y2="1063.25" stroke="#3c3c3c" stroke-width="1.5" stroke-linecap="butt"/>
<text x="655.8" y="1071.55" font-size="22.5" textLength="23.5" lengthAdjust="spacingAndGlyphs" >10</text>
<text x="680.5" y="1060.05" font-size="14.5" textLength="8.5" lengthAdjust="spacingAndGlyphs" >0</text>
<line x1="705.5" y1="1037.12" x2="712.5" y2="1037.12" stroke="#3c3c3c" stroke-width="1.5" stroke-linecap="butt"/>
<line x1="705.5" y1="1024.5" x2="712.5" y2="1024.5" stroke="#3c3c3c" stroke-width="1.5" stroke-linecap="butt"/>
<line x1="705.5" y1="1016.14" x2="712.5" y2="1016.14" stroke="#3c3c3c" stroke-width="1.5" stroke-linecap="butt"/>
<line x1="705.5" y1="1009.83" x2="712.5" y2="1009.83" stroke="#3c3c3c" stroke-width="1.5" stroke-linecap="butt"/>
<line x1="700.75" y1="1004.8" x2="712.5" y2="1004.8" stroke="#3c3c3c" stroke-width="1.5" stroke-linecap="butt"/>
<text x="655.8" y="1013.1" font-size="22.5" textLength="23.5" lengthAdjust="spacingAndGlyphs" >10</text>
<text x="680.5" y="1001.6" font-size="14.5" textLength="8.5" lengthAdjust="spacingAndGlyphs" >1</text>
<line x1="705.5" y1="978.673" x2="712.5" y2="978.673" stroke="#3c3c3c" stroke-width="1.5" stroke-linecap="butt"/>
<line x1="705.5" y1="966.048" x2="712.5" y2="966.048" stroke="#3c3c3c" stroke-width="1.5" stroke-linecap="butt"/>
<line x1="705.5" y1="957.689" x2="712.5" y2="957.689" stroke="#3c3c3c" stroke-width="1.5" stroke-linecap="butt"/>
<line x1="705.5" y1="951.377" x2="712.5" y2="951.377" stroke="#3c3c3c" stroke-width="1.5" stroke-linecap="butt"/>
<line x1="700.75" y1="946.35" x2="712.5" y2="946.35" stroke="#3c3c3c" stroke-width="1.5" stroke-linecap="butt"/>
<text x="655.8" y="954.65" font-size="22.5" textLength="23.5" lengthAdjust="spacingAndGlyphs" >10</text>
<text x="680.5" y="943.15" font-size="14.5" textLength="8.5" lengthAdjust="spacingAndGlyphs" >2</text>
<line x1="705.5" y1="920.223" x2="712.5" y2="920.223" stroke="#3c3c3c" stroke-width="1.5" stroke-linecap="butt"/>
<line x1="705.5" y1="907.598" x2="712.5" y2="907.598" stroke="#3c3c3c" stroke-width="1.5" stroke-linecap="butt"/>
<line x1="705.5" y1="899.239" x2="712.5" y2="899.239" stroke="#3c3c3c" stroke-width="1.5" stroke-linecap="butt"/>
<line x1="705.5" y1="892.927" x2="712.5" y2="892.927" stroke="#3c3c3c" stroke-width="1.5" stroke-linecap="butt"/>
<line x1="700.75" y1="887.9" x2="712.5" y2="887.9" stroke="#3c3c3c" stroke-width="1.5" stroke-linecap="butt"/>
<text x="655.8" y="896.2" font-size="22.5" textLength="23.5" lengthAdjust="spacingAndGlyphs" >10</text>
<text x="680.5" y="884.7" font-size="14.5" textLength="8.5" lengthAdjust="spacingAndGlyphs" >3</text>
<line x1="705.5" y1="861.773" x2="712.5" y2="861.773" stroke="#3c3c3c" stroke-width="1.5" stroke-linecap="butt"/>
<line x1="705.5" y1="849.148" x2="712.5" y2="849.148" stroke="#3c3c3c" stroke-width="1.5" stroke-linecap="butt"/>
<line x1="705.5" y1="840.789" x2="712.5" y2="840.789" stroke="#3c3c3c" stroke-width="1.5" stroke-linecap="butt"/>
<line x1="705.5" y1="834.477" x2="712.5" y2="834.477" stroke="#3c3c3c" stroke-width="1.5" stroke-linecap="butt"/>
<line x1="700.75" y1="829.45" x2="712.5" y2="829.45" stroke="#3c3c3c" stroke-width="1.5" stroke-linecap="butt"/>
<text x="655.8" y="837.75" font-size="22.5" textLength="23.5" lengthAdjust="spacingAndGlyphs" >10</text>
<text x="680.5" y="826.25" font-size="14.5" textLength="8.5" lengthAdjust="spacingAndGlyphs" >4</text>
<line x1="705.5" y1="803.323" x2="712.5" y2="803.323" stroke="#3c3c3c" stroke-width="1.5" stroke-linecap="butt"/>
<line x1="705.5" y1="790.698" x2="712.5" y2="790.698" stroke="#3c3c3c" stroke-width="1.5" stroke-linecap="butt"/>
<line x1="705.5" y1="782.339" x2="712.5" y2="782.339" stroke="#3c3c3c" stroke-width="1.5" stroke-linecap="butt"/>
<line x1="705.5" y1="776.027" x2="712.5" y2="776.027" stroke="#3c3c3c" stroke-width="1.5" stroke-linecap="butt"/>
<line x1="700.75" y1="771" x2="712.5" y2="771" stroke="#3c3c3c" stroke-width="1.5" stroke-linecap="butt"/>
<text x="655.8" y="779.3" font-size="22.5" textLength="23.5" lengthAdjust="spacingAndGlyphs" >10</text>
<text x="680.5" y="767.8" font-size="14.5" textLength="8.5" lengthAdjust="spacingAndGlyphs" >5</text>
<line x1="705.5" y1="744.873" x2="712.5" y2="744.873" stroke="#3c3c3c" stroke-width="1.5" stroke-linecap="butt"/>
<line x1="705.5" y1="732.248" x2="712.5" y2="732.248" stroke="#3c3c3c" stroke-width="1.5" stroke-linecap="butt"/>
<line x1="705.5" y1="723.889" x2="712.5" y2="723.889" stroke="#3c3c3c" stroke-width="1.5" stroke-linecap="butt"/>
<line x1="705.5" y1="717.577" x2="712.5" y2="717.577" stroke="#3c3c3c" stroke-width="1.5" stroke-linecap="butt"/>
<line x1="700.75" y1="712.55" x2="712.5" y2="712.55" stroke="#3c3c3c" stroke-width="1.5" stroke-linecap="butt"/>
<text x="655.8" y="720.85" font-size="22.5" textLength="23.5" lengthAdjust="spacingAndGlyphs" >10</text>
<text x="680.5" y="709.35" font-size="14.5" textLength="8.5" lengthAdjust="spacingAndGlyphs" >6</text>
<line x1="705.5" y1="686.423" x2="712.5" y2="686.423" stroke="#3c3c3c" stroke-width="1.5" stroke-linecap="butt"/>
<line x1="705.5" y1="673.798" x2="712.5" y2="673.798" stroke="#3c3c3c" stroke-width="1.5" stroke-linecap="butt"/>
<line x1="705.5" y1="665.439" x2="712.5" y2="665.439" stroke="#3c3c3c" stroke-width="1.5" stroke-linecap="butt"/>
<line x1="705.5" y1="659.127" x2="712.5" y2="659.127" stroke="#3c3c3c" stroke-width="1.5" stroke-linecap="butt"/>
<line x1="700.75" y1="654.1" x2="712.5" y2="654.1" stroke="#3c3c3c" stroke-width="1.5" stroke-linecap="butt"/>
<text x="655.8" y="662.4" font-size="22.5" textLength="23.5" lengthAdjust="spacingAndGlyphs" >10</text>
<text x="680.5" y="650.9" font-size="14.5" textLength="8.5" lengthAdjust="spacingAndGlyphs" >7</text>
<line x1="700" y1="1063.25" x2="1898" y2="1063.25" stroke="#3c3c3c" stroke-width="1.5" stroke-linecap="butt"/>
<line x1="787" y1="1063.25" x2="787" y2="1074.5" stroke="#3c3c3c" stroke-width="1.5" stroke-linecap="butt"/>
<line x1="960.5" y1="1063.25" x2="960.5" y2="1074.5" stroke="#3c3c3c" stroke-width="1.5" stroke-linecap="butt"/>
<line x1="1133.5" y1="1063.25" x2="1133.5" y2="1074.5" stroke="#3c3c3c" stroke-width="1.5" stroke-linecap="butt"/>
<line x1="1307" y1="1063.25" x2="1307" y2="1074.5" stroke="#3c3c3c" stroke-width="1.5" stroke-linecap="butt"/>
<line x1="1478.25" y1="1063.25" x2="1478.25" y2="1074.5" stroke="#3c3c3c" stroke-width="1.5" stroke-linecap="butt"/>
<line x1="1651.75" y1="1063.25" x2="1651.75" y2="1074.5" stroke="#3c3c3c" stroke-width="1.5" stroke-linecap="butt"/>
<line x1="1824.5" y1="1063.25" x2="1824.5" y2="1074.5" stroke="#3c3c3c" stroke-width="1.5" stroke-linecap="butt"/>
<line x1="878.25" y1="698.5" x2="878.25" y2="1067" stroke="#000" stroke-width="3.8" stroke-dasharray="3.1 3.15"/>
<line x1="1050.5" y1="697.5" x2="1050.5" y2="1067" stroke="#000" stroke-width="3.8" stroke-dasharray="3.1 3.15"/>
<line x1="1223.25" y1="697.5" x2="1223.25" y2="1058.5" stroke="#000" stroke-width="3.8" stroke-dasharray="3.1 3.15"/>
<line x1="1565" y1="698.5" x2="1565" y2="1058.5" stroke="#000" stroke-width="3.8" stroke-dasharray="3.1 3.15"/>
<line x1="1738.75" y1="695" x2="1738.75" y2="1064.5" stroke="#000" stroke-width="3.8" stroke-dasharray="3.1 3.15"/>
<line x1="1394.5" y1="663.5" x2="1394.5" y2="1131" stroke="#000" stroke-width="4.5" stroke-linecap="round"/>
<rect x="716.25" y="951.25" width="38.75" height="112" fill="#808080"/>
<rect x="716.25" y="951.25" width="3" height="112" fill="#000"/>
<rect x="752" y="951.25" width="3" height="112" fill="#000"/>
<rect x="716.25" y="951.25" width="38.75" height="3" fill="#000"/>
<g fill="#fff" stroke="#000" stroke-width="3"><circle cx="736.2" cy="926.2" r="6.15"/><circle cx="722.5" cy="947.5" r="6.15"/><circle cx="736.2" cy="941.2" r="6.15"/><circle cx="736.2" cy="958.8" r="6.15"/><circle cx="722.5" cy="980.5" r="6.15"/><circle cx="736.2" cy="973.8" r="6.15"/><circle cx="750.0" cy="975.0" r="6.15"/></g>
<rect x="768" y="970.5" width="38.25" height="92.75" fill="#11807f"/>
<rect x="768" y="970.5" width="3" height="92.75" fill="#000"/>
<rect x="803.25" y="970.5" width="3" height="92.75" fill="#000"/>
<g fill="#fff" stroke="#11807f" stroke-width="2.5"><circle cx="795.3" cy="962.5" r="6.15"/><circle cx="787.9" cy="962.5" r="6.15"/><circle cx="783.1" cy="910.2" r="6.15"/><circle cx="789.3" cy="1009.4" r="6.15"/><circle cx="785.2" cy="951.8" r="6.15"/><circle cx="779.0" cy="1020.5" r="6.15"/><circle cx="791.5" cy="959.1" r="6.15"/><circle cx="788.5" cy="914.6" r="6.15"/><circle cx="778.3" cy="886.9" r="6.15"/><circle cx="788.0" cy="920.1" r="6.15"/><circle cx="780.2" cy="946.0" r="6.15"/><circle cx="782.5" cy="973.4" r="6.15"/><circle cx="790.2" cy="871.8" r="6.15"/><circle cx="785.6" cy="927.0" r="6.15"/><circle cx="790.0" cy="888.7" r="6.15"/><circle cx="786.5" cy="909.7" r="6.15"/><circle cx="792.0" cy="993.6" r="6.15"/><circle cx="781.7" cy="943.9" r="6.15"/><circle cx="778.3" cy="1028.9" r="6.15"/><circle cx="786.7" cy="889.2" r="6.15"/><circle cx="785.8" cy="948.4" r="6.15"/><circle cx="793.8" cy="906.8" r="6.15"/><circle cx="782.9" cy="884.5" r="6.15"/><circle cx="788.0" cy="853.2" r="6.15"/><circle cx="785.8" cy="857.5" r="6.15"/><circle cx="787.2" cy="871.8" r="6.15"/><circle cx="787.2" cy="882.5" r="6.15"/><circle cx="786.2" cy="891.2" r="6.15"/><circle cx="789.2" cy="892.0" r="6.15"/><circle cx="787.2" cy="894.5" r="6.15"/><circle cx="786.2" cy="910.0" r="6.15"/><circle cx="788.8" cy="910.0" r="6.15"/><circle cx="786.2" cy="916.2" r="6.15"/><circle cx="787.2" cy="926.2" r="6.15"/><circle cx="783.8" cy="937.5" r="6.15"/><circle cx="781.2" cy="941.2" r="6.15"/><circle cx="793.8" cy="941.2" r="6.15"/><circle cx="787.2" cy="947.5" r="6.15"/><circle cx="787.2" cy="954.2" r="6.15"/><circle cx="788.8" cy="957.5" r="6.15"/><circle cx="787.2" cy="968.8" r="6.15"/><circle cx="787.2" cy="976.2" r="6.15"/><circle cx="787.2" cy="988.8" r="6.15"/><circle cx="787.2" cy="995.0" r="6.15"/><circle cx="787.2" cy="1008.0" r="6.15"/><circle cx="787.2" cy="1013.8" r="6.15"/><circle cx="787.2" cy="1033.0" r="6.15"/><circle cx="772.5" cy="1063.2" r="6.15"/><circle cx="777.5" cy="1063.2" r="6.15"/><circle cx="792.5" cy="1063.2" r="6.15"/><circle cx="800.0" cy="1063.2" r="6.15"/></g>
<rect x="768" y="970.5" width="38.25" height="3.8" fill="#000"/>
<rect x="818.75" y="906" width="38.75" height="157.25" fill="#ff007f"/>
<rect x="818.75" y="906" width="3" height="157.25" fill="#000"/>
<rect x="854.5" y="906" width="3" height="157.25" fill="#000"/>
<g fill="#fff" stroke="#ff007f" stroke-width="2.5"><circle cx="847.1" cy="878.4" r="6.15"/><circle cx="841.7" cy="858.2" r="6.15"/><circle cx="839.1" cy="885.5" r="6.15"/><circle cx="828.1" cy="905.1" r="6.15"/><circle cx="846.1" cy="966.9" r="6.15"/><circle cx="845.6" cy="875.9" r="6.15"/><circle cx="834.8" cy="866.4" r="6.15"/><circle cx="839.7" cy="1000.0" r="6.15"/><circle cx="826.0" cy="820.0" r="6.15"/><circle cx="842.6" cy="923.2" r="6.15"/><circle cx="832.8" cy="844.6" r="6.15"/><circle cx="840.0" cy="990.9" r="6.15"/><circle cx="844.8" cy="871.3" r="6.15"/><circle cx="838.7" cy="905.7" r="6.15"/><circle cx="843.9" cy="876.3" r="6.15"/><circle cx="836.0" cy="913.5" r="6.15"/><circle cx="846.8" cy="872.2" r="6.15"/><circle cx="843.7" cy="861.5" r="6.15"/><circle cx="837.6" cy="863.1" r="6.15"/><circle cx="838.0" cy="790.0" r="6.15"/><circle cx="836.2" cy="816.2" r="6.15"/><circle cx="831.2" cy="820.0" r="6.15"/><circle cx="843.8" cy="820.8" r="6.15"/><circle cx="834.5" cy="840.0" r="6.15"/><circle cx="842.5" cy="846.2" r="6.15"/><circle cx="838.0" cy="848.0" r="6.15"/><circle cx="832.5" cy="852.5" r="6.15"/><circle cx="843.8" cy="861.2" r="6.15"/><circle cx="838.0" cy="865.0" r="6.15"/><circle cx="823.8" cy="876.2" r="6.15"/><circle cx="827.5" cy="877.0" r="6.15"/><circle cx="836.2" cy="882.0" r="6.15"/><circle cx="846.2" cy="877.0" r="6.15"/><circle cx="852.5" cy="877.0" r="6.15"/><circle cx="842.5" cy="883.8" r="6.15"/><circle cx="833.8" cy="890.0" r="6.15"/><circle cx="840.0" cy="895.0" r="6.15"/><circle cx="841.2" cy="902.5" r="6.15"/><circle cx="833.8" cy="905.0" r="6.15"/><circle cx="836.2" cy="912.5" r="6.15"/><circle cx="840.0" cy="928.8" r="6.15"/><circle cx="836.2" cy="943.8" r="6.15"/><circle cx="841.2" cy="952.0" r="6.15"/><circle cx="833.8" cy="968.8" r="6.15"/><circle cx="841.2" cy="968.0" r="6.15"/><circle cx="838.0" cy="986.2" r="6.15"/><circle cx="838.0" cy="993.0" r="6.15"/><circle cx="838.0" cy="1023.8" r="6.15"/><circle cx="823.8" cy="1063.2" r="6.15"/><circle cx="831.2" cy="1063.2" r="6.15"/><circle cx="836.2" cy="1063.2" r="6.15"/><circle cx="851.2" cy="1063.2" r="6.15"/><circle cx="842.5" cy="1063.2" r="6.15"/></g>
<rect x="818.75" y="906" width="38.75" height="3.8" fill="#000"/>
<rect x="890" y="868.5" width="38.75" height="194.75" fill="#808080"/>
<rect x="890" y="868.5" width="3" height="194.75" fill="#000"/>
<rect x="925.75" y="868.5" width="3" height="194.75" fill="#000"/>
<rect x="890" y="868.5" width="38.75" height="3" fill="#000"/>
<g fill="#fff" stroke="#000" stroke-width="3"><circle cx="909.2" cy="842.5" r="6.15"/><circle cx="895.5" cy="857.5" r="6.15"/><circle cx="909.2" cy="863.8" r="6.15"/><circle cx="923.0" cy="884.5" r="6.15"/><circle cx="909.2" cy="895.5" r="6.15"/><circle cx="895.5" cy="908.0" r="6.15"/><circle cx="923.0" cy="905.0" r="6.15"/></g>
<rect x="940.75" y="886.5" width="38.5" height="176.75" fill="#11807f"/>
<rect x="940.75" y="886.5" width="3" height="176.75" fill="#000"/>
<rect x="976.25" y="886.5" width="3" height="176.75" fill="#000"/>
<g fill="#fff" stroke="#11807f" stroke-width="2.5"><circle cx="952.0" cy="908.8" r="6.15"/><circle cx="968.1" cy="881.4" r="6.15"/><circle cx="959.2" cy="831.9" r="6.15"/><circle cx="964.0" cy="857.4" r="6.15"/><circle cx="967.3" cy="860.2" r="6.15"/><circle cx="962.5" cy="878.0" r="6.15"/><circle cx="966.1" cy="972.3" r="6.15"/><circle cx="967.3" cy="887.4" r="6.15"/><circle cx="958.6" cy="922.2" r="6.15"/><circle cx="968.2" cy="841.5" r="6.15"/><circle cx="974.0" cy="875.8" r="6.15"/><circle cx="951.1" cy="846.7" r="6.15"/><circle cx="952.7" cy="823.7" r="6.15"/><circle cx="968.6" cy="879.7" r="6.15"/><circle cx="962.9" cy="966.8" r="6.15"/><circle cx="951.6" cy="912.0" r="6.15"/><circle cx="953.6" cy="885.2" r="6.15"/><circle cx="959.3" cy="816.2" r="6.15"/><circle cx="956.6" cy="828.0" r="6.15"/><circle cx="957.5" cy="797.0" r="6.15"/><circle cx="962.5" cy="797.0" r="6.15"/><circle cx="957.5" cy="816.2" r="6.15"/><circle cx="962.5" cy="818.0" r="6.15"/><circle cx="952.5" cy="830.5" r="6.15"/><circle cx="966.2" cy="831.8" r="6.15"/><circle cx="960.0" cy="828.8" r="6.15"/><circle cx="955.0" cy="846.2" r="6.15"/><circle cx="963.8" cy="847.5" r="6.15"/><circle cx="950.0" cy="857.5" r="6.15"/><circle cx="968.8" cy="854.5" r="6.15"/><circle cx="960.0" cy="860.0" r="6.15"/><circle cx="960.0" cy="870.0" r="6.15"/><circle cx="950.0" cy="878.8" r="6.15"/><circle cx="945.0" cy="882.0" r="6.15"/><circle cx="975.0" cy="882.0" r="6.15"/><circle cx="960.0" cy="877.5" r="6.15"/><circle cx="966.2" cy="882.5" r="6.15"/><circle cx="960.0" cy="892.5" r="6.15"/><circle cx="957.5" cy="902.5" r="6.15"/><circle cx="960.0" cy="918.8" r="6.15"/><circle cx="966.2" cy="926.2" r="6.15"/><circle cx="952.5" cy="937.5" r="6.15"/><circle cx="957.5" cy="948.8" r="6.15"/><circle cx="962.5" cy="960.5" r="6.15"/><circle cx="957.5" cy="977.5" r="6.15"/><circle cx="962.5" cy="986.8" r="6.15"/><circle cx="960.0" cy="996.8" r="6.15"/><circle cx="950.0" cy="1063.2" r="6.15"/><circle cx="955.0" cy="1063.2" r="6.15"/><circle cx="962.5" cy="1063.2" r="6.15"/><circle cx="968.8" cy="1063.2" r="6.15"/></g>
<rect x="940.75" y="886.5" width="38.5" height="3.8" fill="#000"/>
<rect x="991.75" y="839.5" width="38.25" height="223.75" fill="#ff007f"/>
<rect x="991.75" y="839.5" width="3" height="223.75" fill="#000"/>
<rect x="1027" y="839.5" width="3" height="223.75" fill="#000"/>
<g fill="#fff" stroke="#ff007f" stroke-width="2.5"><circle cx="1011.1" cy="795.1" r="6.15"/><circle cx="1019.7" cy="797.1" r="6.15"/><circle cx="1004.1" cy="1023.5" r="6.15"/><circle cx="1012.3" cy="833.8" r="6.15"/><circle cx="1025.4" cy="793.3" r="6.15"/><circle cx="1012.8" cy="788.5" r="6.15"/><circle cx="1010.4" cy="895.3" r="6.15"/><circle cx="1008.2" cy="787.5" r="6.15"/><circle cx="1003.8" cy="926.6" r="6.15"/><circle cx="1014.1" cy="845.9" r="6.15"/><circle cx="1012.2" cy="1016.2" r="6.15"/><circle cx="1007.5" cy="887.3" r="6.15"/><circle cx="1002.8" cy="787.5" r="6.15"/><circle cx="1001.4" cy="790.3" r="6.15"/><circle cx="1007.5" cy="867.2" r="6.15"/><circle cx="998.1" cy="858.2" r="6.15"/><circle cx="999.8" cy="832.8" r="6.15"/><circle cx="1001.6" cy="879.4" r="6.15"/><circle cx="1018.5" cy="955.5" r="6.15"/><circle cx="995.9" cy="831.1" r="6.15"/><circle cx="1016.2" cy="824.3" r="6.15"/><circle cx="1020.6" cy="818.4" r="6.15"/><circle cx="1021.3" cy="893.9" r="6.15"/><circle cx="1014.9" cy="801.0" r="6.15"/><circle cx="1016.3" cy="800.1" r="6.15"/><circle cx="1005.8" cy="822.1" r="6.15"/><circle cx="998.5" cy="861.0" r="6.15"/><circle cx="1010.0" cy="753.8" r="6.15"/><circle cx="1012.5" cy="758.8" r="6.15"/><circle cx="1006.2" cy="787.5" r="6.15"/><circle cx="1012.5" cy="793.8" r="6.15"/><circle cx="1018.8" cy="794.5" r="6.15"/><circle cx="1003.8" cy="799.5" r="6.15"/><circle cx="1015.0" cy="796.2" r="6.15"/><circle cx="1010.0" cy="807.5" r="6.15"/><circle cx="1013.8" cy="820.0" r="6.15"/><circle cx="996.2" cy="828.8" r="6.15"/><circle cx="1000.0" cy="827.5" r="6.15"/><circle cx="1006.2" cy="831.2" r="6.15"/><circle cx="1015.0" cy="831.2" r="6.15"/><circle cx="1025.0" cy="832.5" r="6.15"/><circle cx="1012.5" cy="837.5" r="6.15"/><circle cx="1010.0" cy="847.5" r="6.15"/><circle cx="1015.0" cy="860.5" r="6.15"/><circle cx="1002.5" cy="865.0" r="6.15"/><circle cx="1007.5" cy="873.8" r="6.15"/><circle cx="1015.0" cy="883.8" r="6.15"/><circle cx="1013.8" cy="898.0" r="6.15"/><circle cx="1007.5" cy="897.0" r="6.15"/><circle cx="1010.8" cy="930.0" r="6.15"/><circle cx="1010.8" cy="955.5" r="6.15"/><circle cx="1010.8" cy="1017.0" r="6.15"/><circle cx="1010.0" cy="1063.2" r="6.15"/></g>
<rect x="991.75" y="839.5" width="38.25" height="3.8" fill="#000"/>
<rect x="1062.5" y="867" width="39.25" height="196.25" fill="#808080"/>
<rect x="1062.5" y="867" width="3" height="196.25" fill="#000"/>
<rect x="1098.75" y="867" width="3" height="196.25" fill="#000"/>
<rect x="1062.5" y="867" width="39.25" height="3" fill="#000"/>
<g fill="#fff" stroke="#000" stroke-width="3"><circle cx="1068.8" cy="851.2" r="6.15"/><circle cx="1078.0" cy="858.8" r="6.15"/><circle cx="1068.0" cy="866.2" r="6.15"/><circle cx="1086.2" cy="866.2" r="6.15"/><circle cx="1096.2" cy="865.0" r="6.15"/><circle cx="1086.2" cy="879.2" r="6.15"/><circle cx="1077.5" cy="888.8" r="6.15"/></g>
<rect x="1113.75" y="892.5" width="38.75" height="170.75" fill="#11807f"/>
<rect x="1113.75" y="892.5" width="3" height="170.75" fill="#000"/>
<rect x="1149.5" y="892.5" width="3" height="170.75" fill="#000"/>
<g fill="#fff" stroke="#11807f" stroke-width="2.5"><circle cx="1125.4" cy="935.3" r="6.15"/><circle cx="1140.1" cy="903.5" r="6.15"/><circle cx="1129.8" cy="979.6" r="6.15"/><circle cx="1148.1" cy="884.8" r="6.15"/><circle cx="1148.1" cy="888.6" r="6.15"/><circle cx="1138.8" cy="802.5" r="6.15"/><circle cx="1130.2" cy="873.4" r="6.15"/><circle cx="1140.0" cy="884.2" r="6.15"/><circle cx="1126.5" cy="854.3" r="6.15"/><circle cx="1148.1" cy="917.6" r="6.15"/><circle cx="1144.6" cy="865.3" r="6.15"/><circle cx="1134.6" cy="803.0" r="6.15"/><circle cx="1130.5" cy="813.1" r="6.15"/><circle cx="1133.0" cy="775.8" r="6.15"/><circle cx="1133.0" cy="797.5" r="6.15"/><circle cx="1130.0" cy="802.5" r="6.15"/><circle cx="1136.2" cy="802.5" r="6.15"/><circle cx="1136.2" cy="816.2" r="6.15"/><circle cx="1130.0" cy="822.5" r="6.15"/><circle cx="1133.0" cy="830.0" r="6.15"/><circle cx="1137.5" cy="842.5" r="6.15"/><circle cx="1133.0" cy="847.0" r="6.15"/><circle cx="1127.5" cy="852.5" r="6.15"/><circle cx="1143.8" cy="857.5" r="6.15"/><circle cx="1121.2" cy="861.2" r="6.15"/><circle cx="1127.5" cy="865.0" r="6.15"/><circle cx="1133.0" cy="866.2" r="6.15"/><circle cx="1138.8" cy="868.8" r="6.15"/><circle cx="1143.8" cy="870.0" r="6.15"/><circle cx="1125.0" cy="878.8" r="6.15"/><circle cx="1135.0" cy="880.0" r="6.15"/><circle cx="1118.8" cy="887.5" r="6.15"/><circle cx="1147.5" cy="891.2" r="6.15"/><circle cx="1130.0" cy="887.5" r="6.15"/><circle cx="1124.5" cy="898.8" r="6.15"/><circle cx="1136.2" cy="898.8" r="6.15"/><circle cx="1130.0" cy="913.8" r="6.15"/><circle cx="1124.5" cy="917.5" r="6.15"/><circle cx="1140.0" cy="915.0" r="6.15"/><circle cx="1137.5" cy="926.2" r="6.15"/><circle cx="1121.2" cy="931.2" r="6.15"/><circle cx="1127.5" cy="935.0" r="6.15"/><circle cx="1143.8" cy="933.0" r="6.15"/><circle cx="1133.0" cy="975.0" r="6.15"/><circle cx="1135.0" cy="986.2" r="6.15"/><circle cx="1133.0" cy="995.5" r="6.15"/><circle cx="1133.0" cy="1043.8" r="6.15"/><circle cx="1121.2" cy="1063.0" r="6.15"/><circle cx="1127.5" cy="1063.0" r="6.15"/><circle cx="1138.8" cy="1063.0" r="6.15"/><circle cx="1145.0" cy="1063.0" r="6.15"/></g>
<rect x="1113.75" y="892.5" width="38.75" height="3.8" fill="#000"/>
<rect x="1165" y="849.5" width="38.75" height="213.75" fill="#ff007f"/>
<rect x="1165" y="849.5" width="3" height="213.75" fill="#000"/>
<rect x="1200.75" y="849.5" width="3" height="213.75" fill="#000"/>
<g fill="#fff" stroke="#ff007f" stroke-width="2.5"><circle cx="1180.7" cy="840.0" r="6.15"/><circle cx="1190.8" cy="863.6" r="6.15"/><circle cx="1177.5" cy="841.5" r="6.15"/><circle cx="1181.3" cy="823.1" r="6.15"/><circle cx="1180.5" cy="901.8" r="6.15"/><circle cx="1186.5" cy="822.0" r="6.15"/><circle cx="1172.2" cy="840.9" r="6.15"/><circle cx="1194.1" cy="866.2" r="6.15"/><circle cx="1183.1" cy="851.8" r="6.15"/><circle cx="1194.0" cy="807.0" r="6.15"/><circle cx="1196.4" cy="879.7" r="6.15"/><circle cx="1195.9" cy="823.7" r="6.15"/><circle cx="1198.2" cy="825.3" r="6.15"/><circle cx="1182.0" cy="830.6" r="6.15"/><circle cx="1186.0" cy="785.0" r="6.15"/><circle cx="1183.4" cy="843.9" r="6.15"/><circle cx="1169.8" cy="817.1" r="6.15"/><circle cx="1195.4" cy="918.5" r="6.15"/><circle cx="1178.4" cy="785.0" r="6.15"/><circle cx="1196.2" cy="919.1" r="6.15"/><circle cx="1196.0" cy="860.3" r="6.15"/><circle cx="1183.4" cy="898.7" r="6.15"/><circle cx="1184.2" cy="732.0" r="6.15"/><circle cx="1180.0" cy="777.5" r="6.15"/><circle cx="1188.8" cy="785.0" r="6.15"/><circle cx="1184.2" cy="786.2" r="6.15"/><circle cx="1177.5" cy="800.0" r="6.15"/><circle cx="1190.0" cy="802.5" r="6.15"/><circle cx="1181.8" cy="805.0" r="6.15"/><circle cx="1192.5" cy="812.5" r="6.15"/><circle cx="1184.2" cy="816.2" r="6.15"/><circle cx="1188.8" cy="817.0" r="6.15"/><circle cx="1170.0" cy="823.8" r="6.15"/><circle cx="1197.5" cy="821.2" r="6.15"/><circle cx="1186.2" cy="827.5" r="6.15"/><circle cx="1180.0" cy="833.8" r="6.15"/><circle cx="1171.2" cy="838.8" r="6.15"/><circle cx="1192.5" cy="842.5" r="6.15"/><circle cx="1186.2" cy="845.0" r="6.15"/><circle cx="1177.5" cy="860.0" r="6.15"/><circle cx="1188.8" cy="860.0" r="6.15"/><circle cx="1181.2" cy="865.0" r="6.15"/><circle cx="1190.0" cy="873.8" r="6.15"/><circle cx="1175.0" cy="885.0" r="6.15"/><circle cx="1188.8" cy="885.0" r="6.15"/><circle cx="1180.0" cy="892.5" r="6.15"/><circle cx="1188.8" cy="898.8" r="6.15"/><circle cx="1182.5" cy="902.5" r="6.15"/><circle cx="1180.0" cy="917.5" r="6.15"/><circle cx="1188.8" cy="919.5" r="6.15"/><circle cx="1184.2" cy="944.5" r="6.15"/><circle cx="1184.2" cy="1011.2" r="6.15"/><circle cx="1184.2" cy="1063.0" r="6.15"/></g>
<rect x="1165" y="849.5" width="38.75" height="3.8" fill="#000"/>
<rect x="1235.5" y="959.5" width="39" height="103.75" fill="#808080"/>
<rect x="1235.5" y="959.5" width="3" height="103.75" fill="#000"/>
<rect x="1271.5" y="959.5" width="3" height="103.75" fill="#000"/>
<rect x="1235.5" y="959.5" width="39" height="3" fill="#000"/>
<g fill="#fff" stroke="#000" stroke-width="3"><circle cx="1254.5" cy="935.5" r="6.15"/><circle cx="1268.8" cy="952.0" r="6.15"/><circle cx="1241.2" cy="958.0" r="6.15"/><circle cx="1250.0" cy="962.5" r="6.15"/><circle cx="1259.5" cy="961.2" r="6.15"/><circle cx="1250.0" cy="986.2" r="6.15"/><circle cx="1259.5" cy="981.2" r="6.15"/></g>
<rect x="1286.75" y="981.5" width="38.75" height="81.75" fill="#11807f"/>
<rect x="1286.75" y="981.5" width="3" height="81.75" fill="#000"/>
<rect x="1322.5" y="981.5" width="3" height="81.75" fill="#000"/>
<g fill="#fff" stroke="#11807f" stroke-width="2.5"><circle cx="1308.9" cy="997.6" r="6.15"/><circle cx="1304.9" cy="935.8" r="6.15"/><circle cx="1308.5" cy="1014.1" r="6.15"/><circle cx="1301.6" cy="1016.1" r="6.15"/><circle cx="1300.2" cy="916.2" r="6.15"/><circle cx="1306.4" cy="1014.8" r="6.15"/><circle cx="1302.1" cy="915.8" r="6.15"/><circle cx="1307.9" cy="855.0" r="6.15"/><circle cx="1306.3" cy="864.9" r="6.15"/><circle cx="1298.2" cy="1011.8" r="6.15"/><circle cx="1299.2" cy="915.5" r="6.15"/><circle cx="1311.3" cy="983.0" r="6.15"/><circle cx="1303.3" cy="974.6" r="6.15"/><circle cx="1303.1" cy="915.6" r="6.15"/><circle cx="1307.9" cy="989.5" r="6.15"/><circle cx="1305.9" cy="984.7" r="6.15"/><circle cx="1309.6" cy="916.7" r="6.15"/><circle cx="1300.5" cy="862.4" r="6.15"/><circle cx="1306.8" cy="950.5" r="6.15"/><circle cx="1300.4" cy="998.2" r="6.15"/><circle cx="1312.3" cy="894.2" r="6.15"/><circle cx="1307.4" cy="926.6" r="6.15"/><circle cx="1303.8" cy="855.0" r="6.15"/><circle cx="1308.1" cy="1005.5" r="6.15"/><circle cx="1306.0" cy="835.0" r="6.15"/><circle cx="1305.0" cy="837.5" r="6.15"/><circle cx="1306.0" cy="855.0" r="6.15"/><circle cx="1306.0" cy="866.2" r="6.15"/><circle cx="1306.0" cy="883.8" r="6.15"/><circle cx="1306.0" cy="892.5" r="6.15"/><circle cx="1306.0" cy="910.0" r="6.15"/><circle cx="1307.0" cy="915.0" r="6.15"/><circle cx="1303.8" cy="921.2" r="6.15"/><circle cx="1306.0" cy="935.0" r="6.15"/><circle cx="1307.5" cy="938.8" r="6.15"/><circle cx="1310.0" cy="952.5" r="6.15"/><circle cx="1301.2" cy="956.2" r="6.15"/><circle cx="1305.0" cy="960.0" r="6.15"/><circle cx="1307.5" cy="975.0" r="6.15"/><circle cx="1303.8" cy="978.8" r="6.15"/><circle cx="1303.8" cy="988.8" r="6.15"/><circle cx="1307.5" cy="995.0" r="6.15"/><circle cx="1306.0" cy="1005.0" r="6.15"/><circle cx="1306.0" cy="1013.8" r="6.15"/><circle cx="1305.0" cy="1017.5" r="6.15"/><circle cx="1291.2" cy="1063.0" r="6.15"/><circle cx="1295.5" cy="1063.0" r="6.15"/><circle cx="1301.2" cy="1063.0" r="6.15"/><circle cx="1305.0" cy="1063.0" r="6.15"/><circle cx="1313.8" cy="1063.0" r="6.15"/><circle cx="1320.0" cy="1063.0" r="6.15"/></g>
<rect x="1286.75" y="981.5" width="38.75" height="3.8" fill="#000"/>
<rect x="1337.5" y="914.5" width="38.75" height="148.75" fill="#ff007f"/>
<rect x="1337.5" y="914.5" width="3" height="148.75" fill="#000"/>
<rect x="1373.25" y="914.5" width="3" height="148.75" fill="#000"/>
<g fill="#fff" stroke="#ff007f" stroke-width="2.5"><circle cx="1356.9" cy="989.4" r="6.15"/><circle cx="1357.4" cy="911.9" r="6.15"/><circle cx="1360.2" cy="926.3" r="6.15"/><circle cx="1359.3" cy="949.1" r="6.15"/><circle cx="1356.7" cy="853.7" r="6.15"/><circle cx="1341.9" cy="870.7" r="6.15"/><circle cx="1350.4" cy="836.4" r="6.15"/><circle cx="1349.6" cy="949.7" r="6.15"/><circle cx="1357.2" cy="892.7" r="6.15"/><circle cx="1354.9" cy="967.1" r="6.15"/><circle cx="1371.9" cy="922.7" r="6.15"/><circle cx="1343.8" cy="861.8" r="6.15"/><circle cx="1368.4" cy="974.6" r="6.15"/><circle cx="1364.9" cy="909.1" r="6.15"/><circle cx="1356.0" cy="945.5" r="6.15"/><circle cx="1344.2" cy="901.0" r="6.15"/><circle cx="1344.5" cy="931.9" r="6.15"/><circle cx="1344.9" cy="903.1" r="6.15"/><circle cx="1357.0" cy="745.5" r="6.15"/><circle cx="1357.0" cy="801.2" r="6.15"/><circle cx="1353.8" cy="811.2" r="6.15"/><circle cx="1360.0" cy="817.0" r="6.15"/><circle cx="1357.0" cy="830.0" r="6.15"/><circle cx="1357.0" cy="840.0" r="6.15"/><circle cx="1348.8" cy="856.2" r="6.15"/><circle cx="1360.0" cy="856.2" r="6.15"/><circle cx="1342.5" cy="863.8" r="6.15"/><circle cx="1353.8" cy="862.5" r="6.15"/><circle cx="1366.2" cy="863.8" r="6.15"/><circle cx="1348.8" cy="871.2" r="6.15"/><circle cx="1370.5" cy="874.5" r="6.15"/><circle cx="1355.0" cy="885.0" r="6.15"/><circle cx="1345.0" cy="892.5" r="6.15"/><circle cx="1351.2" cy="893.8" r="6.15"/><circle cx="1367.5" cy="897.5" r="6.15"/><circle cx="1351.2" cy="907.5" r="6.15"/><circle cx="1362.5" cy="911.2" r="6.15"/><circle cx="1342.5" cy="926.2" r="6.15"/><circle cx="1353.8" cy="930.0" r="6.15"/><circle cx="1362.5" cy="923.8" r="6.15"/><circle cx="1370.5" cy="929.5" r="6.15"/><circle cx="1350.0" cy="941.2" r="6.15"/><circle cx="1360.0" cy="940.0" r="6.15"/><circle cx="1357.0" cy="951.2" r="6.15"/><circle cx="1362.5" cy="965.0" r="6.15"/><circle cx="1351.2" cy="971.2" r="6.15"/><circle cx="1360.0" cy="980.0" r="6.15"/><circle cx="1354.5" cy="987.5" r="6.15"/><circle cx="1342.5" cy="1063.0" r="6.15"/><circle cx="1348.8" cy="1063.0" r="6.15"/><circle cx="1360.0" cy="1063.0" r="6.15"/><circle cx="1365.0" cy="1063.0" r="6.15"/><circle cx="1371.2" cy="1063.0" r="6.15"/></g>
<rect x="1337.5" y="914.5" width="38.75" height="3.8" fill="#000"/>
<rect x="1408" y="893.5" width="39" height="169.75" fill="#808080"/>
<rect x="1408" y="893.5" width="3" height="169.75" fill="#000"/>
<rect x="1444" y="893.5" width="3" height="169.75" fill="#000"/>
<rect x="1408" y="893.5" width="39" height="3" fill="#000"/>
<g fill="#fff" stroke="#000" stroke-width="3"><circle cx="1414.5" cy="868.0" r="6.15"/><circle cx="1441.2" cy="870.0" r="6.15"/><circle cx="1428.0" cy="896.2" r="6.15"/><circle cx="1414.5" cy="918.0" r="6.15"/><circle cx="1441.2" cy="914.2" r="6.15"/><circle cx="1428.0" cy="940.0" r="6.15"/><circle cx="1428.0" cy="983.2" r="6.15"/></g>
<rect x="1459.5" y="907.5" width="39.25" height="155.75" fill="#11807f"/>
<rect x="1459.5" y="907.5" width="3" height="155.75" fill="#000"/>
<rect x="1495.75" y="907.5" width="3" height="155.75" fill="#000"/>
<g fill="#fff" stroke="#11807f" stroke-width="2.5"><circle cx="1474.1" cy="857.7" r="6.15"/><circle cx="1485.2" cy="868.1" r="6.15"/><circle cx="1477.2" cy="828.0" r="6.15"/><circle cx="1484.8" cy="843.8" r="6.15"/><circle cx="1483.7" cy="920.5" r="6.15"/><circle cx="1481.8" cy="855.7" r="6.15"/><circle cx="1471.7" cy="1012.1" r="6.15"/><circle cx="1479.2" cy="909.6" r="6.15"/><circle cx="1485.1" cy="909.0" r="6.15"/><circle cx="1477.7" cy="848.2" r="6.15"/><circle cx="1485.4" cy="849.1" r="6.15"/><circle cx="1486.7" cy="976.0" r="6.15"/><circle cx="1480.1" cy="869.3" r="6.15"/><circle cx="1485.2" cy="1043.2" r="6.15"/><circle cx="1481.9" cy="858.9" r="6.15"/><circle cx="1470.9" cy="905.1" r="6.15"/><circle cx="1481.0" cy="945.0" r="6.15"/><circle cx="1469.3" cy="1042.1" r="6.15"/><circle cx="1464.8" cy="864.0" r="6.15"/><circle cx="1465.3" cy="932.4" r="6.15"/><circle cx="1486.0" cy="968.7" r="6.15"/><circle cx="1494.1" cy="861.8" r="6.15"/><circle cx="1476.1" cy="881.2" r="6.15"/><circle cx="1478.8" cy="805.8" r="6.15"/><circle cx="1475.0" cy="827.5" r="6.15"/><circle cx="1478.8" cy="825.0" r="6.15"/><circle cx="1483.8" cy="825.5" r="6.15"/><circle cx="1480.0" cy="846.2" r="6.15"/><circle cx="1477.5" cy="855.0" r="6.15"/><circle cx="1465.0" cy="865.0" r="6.15"/><circle cx="1472.5" cy="866.2" r="6.15"/><circle cx="1480.0" cy="862.5" r="6.15"/><circle cx="1487.5" cy="863.8" r="6.15"/><circle cx="1493.8" cy="859.5" r="6.15"/><circle cx="1477.5" cy="873.8" r="6.15"/><circle cx="1481.2" cy="882.5" r="6.15"/><circle cx="1476.2" cy="894.2" r="6.15"/><circle cx="1477.5" cy="907.5" r="6.15"/><circle cx="1480.0" cy="906.2" r="6.15"/><circle cx="1485.0" cy="922.5" r="6.15"/><circle cx="1472.5" cy="927.0" r="6.15"/><circle cx="1478.8" cy="935.0" r="6.15"/><circle cx="1477.5" cy="941.2" r="6.15"/><circle cx="1478.8" cy="951.2" r="6.15"/><circle cx="1478.8" cy="962.5" r="6.15"/><circle cx="1478.8" cy="975.0" r="6.15"/><circle cx="1477.5" cy="1011.2" r="6.15"/><circle cx="1480.0" cy="1016.2" r="6.15"/><circle cx="1477.5" cy="1022.0" r="6.15"/><circle cx="1475.0" cy="1046.2" r="6.15"/><circle cx="1480.5" cy="1046.2" r="6.15"/></g>
<rect x="1459.5" y="907.5" width="39.25" height="3.8" fill="#000"/>
<rect x="1510.75" y="879.5" width="38.75" height="183.75" fill="#ff007f"/>
<rect x="1510.75" y="879.5" width="3" height="183.75" fill="#000"/>
<rect x="1546.5" y="879.5" width="3" height="183.75" fill="#000"/>
<g fill="#fff" stroke="#ff007f" stroke-width="2.5"><circle cx="1533.1" cy="846.0" r="6.15"/><circle cx="1530.1" cy="895.3" r="6.15"/><circle cx="1530.6" cy="964.8" r="6.15"/><circle cx="1529.6" cy="827.1" r="6.15"/><circle cx="1534.0" cy="863.8" r="6.15"/><circle cx="1527.0" cy="962.0" r="6.15"/><circle cx="1523.2" cy="820.6" r="6.15"/><circle cx="1517.2" cy="875.1" r="6.15"/><circle cx="1533.7" cy="906.9" r="6.15"/><circle cx="1532.0" cy="927.8" r="6.15"/><circle cx="1529.3" cy="911.1" r="6.15"/><circle cx="1533.0" cy="823.1" r="6.15"/><circle cx="1535.7" cy="867.9" r="6.15"/><circle cx="1528.3" cy="893.9" r="6.15"/><circle cx="1545.1" cy="876.4" r="6.15"/><circle cx="1530.7" cy="897.4" r="6.15"/><circle cx="1528.6" cy="902.2" r="6.15"/><circle cx="1535.2" cy="909.8" r="6.15"/><circle cx="1523.3" cy="957.7" r="6.15"/><circle cx="1526.5" cy="860.6" r="6.15"/><circle cx="1545.1" cy="876.0" r="6.15"/><circle cx="1529.7" cy="1044.8" r="6.15"/><circle cx="1530.0" cy="780.5" r="6.15"/><circle cx="1530.0" cy="801.8" r="6.15"/><circle cx="1524.5" cy="812.5" r="6.15"/><circle cx="1535.0" cy="817.0" r="6.15"/><circle cx="1542.0" cy="818.2" r="6.15"/><circle cx="1527.5" cy="823.8" r="6.15"/><circle cx="1532.5" cy="831.8" r="6.15"/><circle cx="1532.5" cy="847.5" r="6.15"/><circle cx="1527.5" cy="851.2" r="6.15"/><circle cx="1525.0" cy="858.8" r="6.15"/><circle cx="1535.0" cy="863.8" r="6.15"/><circle cx="1528.8" cy="870.0" r="6.15"/><circle cx="1516.2" cy="875.0" r="6.15"/><circle cx="1522.5" cy="872.5" r="6.15"/><circle cx="1536.2" cy="872.5" r="6.15"/><circle cx="1543.8" cy="877.5" r="6.15"/><circle cx="1531.2" cy="883.8" r="6.15"/><circle cx="1527.5" cy="892.5" r="6.15"/><circle cx="1532.5" cy="900.0" r="6.15"/><circle cx="1527.5" cy="907.5" r="6.15"/><circle cx="1533.0" cy="908.0" r="6.15"/><circle cx="1527.5" cy="926.2" r="6.15"/><circle cx="1533.0" cy="925.8" r="6.15"/><circle cx="1527.5" cy="948.8" r="6.15"/><circle cx="1533.0" cy="948.0" r="6.15"/><circle cx="1527.0" cy="964.5" r="6.15"/><circle cx="1532.5" cy="963.8" r="6.15"/><circle cx="1530.0" cy="984.2" r="6.15"/><circle cx="1530.0" cy="1000.5" r="6.15"/><circle cx="1527.5" cy="1046.2" r="6.15"/><circle cx="1533.0" cy="1046.2" r="6.15"/></g>
<rect x="1510.75" y="879.5" width="38.75" height="3.8" fill="#000"/>
<rect x="1581.25" y="915.5" width="39.25" height="147.75" fill="#808080"/>
<rect x="1581.25" y="915.5" width="3" height="147.75" fill="#000"/>
<rect x="1617.5" y="915.5" width="3" height="147.75" fill="#000"/>
<rect x="1581.25" y="915.5" width="39.25" height="3" fill="#000"/>
<g fill="#fff" stroke="#000" stroke-width="3"><circle cx="1587.5" cy="886.2" r="6.15"/><circle cx="1600.8" cy="891.2" r="6.15"/><circle cx="1600.8" cy="935.5" r="6.15"/><circle cx="1587.5" cy="946.8" r="6.15"/><circle cx="1614.2" cy="952.5" r="6.15"/><circle cx="1600.8" cy="959.2" r="6.15"/><circle cx="1600.8" cy="990.5" r="6.15"/></g>
<rect x="1632.5" y="979.5" width="39" height="83.75" fill="#11807f"/>
<rect x="1632.5" y="979.5" width="3" height="83.75" fill="#000"/>
<rect x="1668.5" y="979.5" width="3" height="83.75" fill="#000"/>
<g fill="#fff" stroke="#11807f" stroke-width="2.5"><circle cx="1661.3" cy="1041.2" r="6.15"/><circle cx="1657.9" cy="876.1" r="6.15"/><circle cx="1646.8" cy="1022.3" r="6.15"/><circle cx="1651.7" cy="881.1" r="6.15"/><circle cx="1644.8" cy="1010.9" r="6.15"/><circle cx="1651.9" cy="928.4" r="6.15"/><circle cx="1658.5" cy="1029.7" r="6.15"/><circle cx="1648.7" cy="870.2" r="6.15"/><circle cx="1650.7" cy="971.1" r="6.15"/><circle cx="1653.1" cy="1006.5" r="6.15"/><circle cx="1650.1" cy="1000.4" r="6.15"/><circle cx="1658.1" cy="913.3" r="6.15"/><circle cx="1649.7" cy="933.8" r="6.15"/><circle cx="1657.6" cy="947.2" r="6.15"/><circle cx="1647.7" cy="970.3" r="6.15"/><circle cx="1656.1" cy="1030.7" r="6.15"/><circle cx="1657.1" cy="933.2" r="6.15"/><circle cx="1650.0" cy="935.9" r="6.15"/><circle cx="1658.1" cy="912.3" r="6.15"/><circle cx="1642.4" cy="871.6" r="6.15"/><circle cx="1654.7" cy="863.8" r="6.15"/><circle cx="1639.8" cy="1038.6" r="6.15"/><circle cx="1654.7" cy="916.8" r="6.15"/><circle cx="1651.5" cy="966.7" r="6.15"/><circle cx="1648.4" cy="954.7" r="6.15"/><circle cx="1657.9" cy="879.3" r="6.15"/><circle cx="1666.1" cy="1038.8" r="6.15"/><circle cx="1649.9" cy="1001.1" r="6.15"/><circle cx="1651.8" cy="779.2" r="6.15"/><circle cx="1651.8" cy="861.2" r="6.15"/><circle cx="1652.5" cy="863.8" r="6.15"/><circle cx="1651.2" cy="875.0" r="6.15"/><circle cx="1652.5" cy="880.0" r="6.15"/><circle cx="1651.8" cy="903.8" r="6.15"/><circle cx="1650.0" cy="910.0" r="6.15"/><circle cx="1653.8" cy="915.0" r="6.15"/><circle cx="1651.2" cy="918.8" r="6.15"/><circle cx="1650.0" cy="933.8" r="6.15"/><circle cx="1652.5" cy="937.5" r="6.15"/><circle cx="1652.5" cy="945.5" r="6.15"/><circle cx="1651.2" cy="951.2" r="6.15"/><circle cx="1651.8" cy="968.8" r="6.15"/><circle cx="1652.5" cy="973.8" r="6.15"/><circle cx="1652.5" cy="997.0" r="6.15"/><circle cx="1651.2" cy="1004.5" r="6.15"/><circle cx="1651.2" cy="1018.8" r="6.15"/><circle cx="1637.5" cy="1035.0" r="6.15"/><circle cx="1643.8" cy="1035.0" r="6.15"/><circle cx="1652.5" cy="1035.0" r="6.15"/><circle cx="1660.0" cy="1035.0" r="6.15"/><circle cx="1666.2" cy="1033.8" r="6.15"/></g>
<rect x="1632.5" y="979.5" width="39" height="3.8" fill="#000"/>
<rect x="1683.75" y="930" width="38.75" height="133.25" fill="#ff007f"/>
<rect x="1683.75" y="930" width="3" height="133.25" fill="#000"/>
<rect x="1719.5" y="930" width="3" height="133.25" fill="#000"/>
<g fill="#fff" stroke="#ff007f" stroke-width="2.5"><circle cx="1702.6" cy="908.4" r="6.15"/><circle cx="1694.4" cy="1036.2" r="6.15"/><circle cx="1697.4" cy="910.7" r="6.15"/><circle cx="1700.6" cy="893.8" r="6.15"/><circle cx="1696.2" cy="1003.4" r="6.15"/><circle cx="1711.9" cy="985.7" r="6.15"/><circle cx="1694.9" cy="870.0" r="6.15"/><circle cx="1714.4" cy="1038.2" r="6.15"/><circle cx="1710.3" cy="989.0" r="6.15"/><circle cx="1716.9" cy="920.6" r="6.15"/><circle cx="1716.6" cy="1033.6" r="6.15"/><circle cx="1698.1" cy="895.4" r="6.15"/><circle cx="1705.0" cy="1041.7" r="6.15"/><circle cx="1701.4" cy="926.7" r="6.15"/><circle cx="1709.2" cy="920.6" r="6.15"/><circle cx="1694.2" cy="996.1" r="6.15"/><circle cx="1693.9" cy="949.2" r="6.15"/><circle cx="1688.1" cy="1031.2" r="6.15"/><circle cx="1688.1" cy="1034.0" r="6.15"/><circle cx="1711.1" cy="907.1" r="6.15"/><circle cx="1691.4" cy="911.9" r="6.15"/><circle cx="1715.6" cy="920.6" r="6.15"/><circle cx="1709.5" cy="881.7" r="6.15"/><circle cx="1705.2" cy="874.3" r="6.15"/><circle cx="1697.7" cy="881.0" r="6.15"/><circle cx="1696.3" cy="996.6" r="6.15"/><circle cx="1708.4" cy="890.4" r="6.15"/><circle cx="1709.0" cy="1029.9" r="6.15"/><circle cx="1701.2" cy="857.5" r="6.15"/><circle cx="1706.2" cy="857.5" r="6.15"/><circle cx="1702.5" cy="870.0" r="6.15"/><circle cx="1708.8" cy="880.8" r="6.15"/><circle cx="1696.2" cy="883.8" r="6.15"/><circle cx="1701.2" cy="896.2" r="6.15"/><circle cx="1705.0" cy="906.2" r="6.15"/><circle cx="1698.8" cy="912.5" r="6.15"/><circle cx="1710.0" cy="916.2" r="6.15"/><circle cx="1695.0" cy="923.8" r="6.15"/><circle cx="1702.5" cy="922.5" r="6.15"/><circle cx="1710.0" cy="924.5" r="6.15"/><circle cx="1702.5" cy="935.0" r="6.15"/><circle cx="1702.5" cy="946.8" r="6.15"/><circle cx="1702.5" cy="960.0" r="6.15"/><circle cx="1706.2" cy="972.5" r="6.15"/><circle cx="1701.2" cy="978.8" r="6.15"/><circle cx="1706.2" cy="986.2" r="6.15"/><circle cx="1698.8" cy="998.0" r="6.15"/><circle cx="1703.8" cy="1002.5" r="6.15"/><circle cx="1688.8" cy="1035.5" r="6.15"/><circle cx="1697.5" cy="1035.5" r="6.15"/><circle cx="1706.2" cy="1035.5" r="6.15"/><circle cx="1712.5" cy="1035.5" r="6.15"/><circle cx="1717.5" cy="1035.5" r="6.15"/></g>
<rect x="1683.75" y="930" width="38.75" height="3.8" fill="#000"/>
<rect x="1754.25" y="1004.5" width="38.75" height="58.75" fill="#808080"/>
<rect x="1754.25" y="1004.5" width="3" height="58.75" fill="#000"/>
<rect x="1790" y="1004.5" width="3" height="58.75" fill="#000"/>
<rect x="1754.25" y="1004.5" width="38.75" height="3" fill="#000"/>
<g fill="#fff" stroke="#000" stroke-width="3"><circle cx="1773.2" cy="956.8" r="6.15"/><circle cx="1760.0" cy="1063.8" r="6.15"/><circle cx="1765.5" cy="1063.8" r="6.15"/><circle cx="1776.2" cy="1063.8" r="6.15"/><circle cx="1787.5" cy="1063.8" r="6.15"/></g>
<rect x="1805.5" y="972" width="38.75" height="91.25" fill="#11807f"/>
<rect x="1805.5" y="972" width="3" height="91.25" fill="#000"/>
<rect x="1841.25" y="972" width="3" height="91.25" fill="#000"/>
<g fill="#fff" stroke="#11807f" stroke-width="2.5"><circle cx="1827.3" cy="1049.2" r="6.15"/><circle cx="1829.8" cy="999.1" r="6.15"/><circle cx="1823.1" cy="982.2" r="6.15"/><circle cx="1825.6" cy="954.9" r="6.15"/><circle cx="1830.5" cy="1012.0" r="6.15"/><circle cx="1832.5" cy="1045.0" r="6.15"/><circle cx="1832.3" cy="1039.3" r="6.15"/><circle cx="1828.5" cy="972.9" r="6.15"/><circle cx="1827.5" cy="1018.3" r="6.15"/><circle cx="1831.2" cy="1040.8" r="6.15"/><circle cx="1833.7" cy="967.7" r="6.15"/><circle cx="1830.1" cy="890.8" r="6.15"/><circle cx="1818.0" cy="891.0" r="6.15"/><circle cx="1818.8" cy="1012.8" r="6.15"/><circle cx="1824.5" cy="865.0" r="6.15"/><circle cx="1827.7" cy="952.6" r="6.15"/><circle cx="1828.7" cy="896.0" r="6.15"/><circle cx="1825.3" cy="852.0" r="6.15"/><circle cx="1821.6" cy="857.5" r="6.15"/><circle cx="1822.4" cy="955.0" r="6.15"/><circle cx="1839.5" cy="1046.4" r="6.15"/><circle cx="1819.3" cy="981.4" r="6.15"/><circle cx="1828.6" cy="898.6" r="6.15"/><circle cx="1829.6" cy="1050.7" r="6.15"/><circle cx="1831.4" cy="998.5" r="6.15"/><circle cx="1830.0" cy="965.3" r="6.15"/><circle cx="1825.0" cy="830.5" r="6.15"/><circle cx="1827.5" cy="838.0" r="6.15"/><circle cx="1823.8" cy="846.2" r="6.15"/><circle cx="1825.0" cy="861.8" r="6.15"/><circle cx="1825.0" cy="871.2" r="6.15"/><circle cx="1823.8" cy="885.0" r="6.15"/><circle cx="1828.8" cy="886.2" r="6.15"/><circle cx="1821.2" cy="892.5" r="6.15"/><circle cx="1825.0" cy="901.2" r="6.15"/><circle cx="1821.2" cy="935.0" r="6.15"/><circle cx="1828.8" cy="937.5" r="6.15"/><circle cx="1825.0" cy="948.8" r="6.15"/><circle cx="1822.5" cy="955.0" r="6.15"/><circle cx="1827.5" cy="958.8" r="6.15"/><circle cx="1822.5" cy="967.5" r="6.15"/><circle cx="1826.2" cy="971.2" r="6.15"/><circle cx="1825.0" cy="984.5" r="6.15"/><circle cx="1825.0" cy="998.8" r="6.15"/><circle cx="1822.5" cy="1006.2" r="6.15"/><circle cx="1825.0" cy="1018.0" r="6.15"/><circle cx="1811.2" cy="1046.2" r="6.15"/><circle cx="1825.0" cy="1046.2" r="6.15"/><circle cx="1828.8" cy="1046.2" r="6.15"/><circle cx="1835.0" cy="1046.2" r="6.15"/><circle cx="1840.0" cy="1046.2" r="6.15"/></g>
<rect x="1805.5" y="972" width="38.75" height="3.8" fill="#000"/>
<rect x="1856.75" y="967.5" width="38.75" height="95.75" fill="#ff007f"/>
<rect x="1856.75" y="967.5" width="3" height="95.75" fill="#000"/>
<rect x="1892.5" y="967.5" width="3" height="95.75" fill="#000"/>
<g fill="#fff" stroke="#ff007f" stroke-width="2.5"><circle cx="1869.9" cy="1040.5" r="6.15"/><circle cx="1873.2" cy="927.3" r="6.15"/><circle cx="1879.2" cy="900.9" r="6.15"/><circle cx="1881.6" cy="1020.1" r="6.15"/><circle cx="1879.1" cy="877.1" r="6.15"/><circle cx="1886.2" cy="844.4" r="6.15"/><circle cx="1880.3" cy="984.2" r="6.15"/><circle cx="1886.7" cy="1045.1" r="6.15"/><circle cx="1872.4" cy="954.5" r="6.15"/><circle cx="1869.6" cy="1019.6" r="6.15"/><circle cx="1875.8" cy="1046.7" r="6.15"/><circle cx="1875.0" cy="898.0" r="6.15"/><circle cx="1883.3" cy="927.3" r="6.15"/><circle cx="1866.2" cy="899.3" r="6.15"/><circle cx="1869.0" cy="1016.0" r="6.15"/><circle cx="1867.5" cy="984.7" r="6.15"/><circle cx="1871.4" cy="1043.5" r="6.15"/><circle cx="1876.0" cy="928.3" r="6.15"/><circle cx="1880.1" cy="889.2" r="6.15"/><circle cx="1877.0" cy="881.1" r="6.15"/><circle cx="1884.3" cy="920.2" r="6.15"/><circle cx="1875.3" cy="942.8" r="6.15"/><circle cx="1882.7" cy="948.6" r="6.15"/><circle cx="1872.5" cy="892.6" r="6.15"/><circle cx="1881.8" cy="900.0" r="6.15"/><circle cx="1881.5" cy="890.7" r="6.15"/><circle cx="1875.1" cy="964.2" r="6.15"/><circle cx="1874.9" cy="945.7" r="6.15"/><circle cx="1885.9" cy="843.6" r="6.15"/><circle cx="1884.7" cy="917.6" r="6.15"/><circle cx="1876.2" cy="818.8" r="6.15"/><circle cx="1872.5" cy="834.2" r="6.15"/><circle cx="1879.5" cy="838.8" r="6.15"/><circle cx="1876.2" cy="880.8" r="6.15"/><circle cx="1875.0" cy="890.0" r="6.15"/><circle cx="1878.8" cy="897.5" r="6.15"/><circle cx="1873.8" cy="902.5" r="6.15"/><circle cx="1876.2" cy="913.8" r="6.15"/><circle cx="1877.5" cy="922.5" r="6.15"/><circle cx="1875.0" cy="931.2" r="6.15"/><circle cx="1876.2" cy="938.8" r="6.15"/><circle cx="1873.8" cy="946.2" r="6.15"/><circle cx="1878.8" cy="948.8" r="6.15"/><circle cx="1876.2" cy="957.5" r="6.15"/><circle cx="1871.2" cy="964.5" r="6.15"/><circle cx="1880.0" cy="975.0" r="6.15"/><circle cx="1875.0" cy="981.2" r="6.15"/><circle cx="1876.2" cy="988.0" r="6.15"/><circle cx="1876.2" cy="1016.2" r="6.15"/><circle cx="1865.0" cy="1046.2" r="6.15"/><circle cx="1871.2" cy="1046.2" r="6.15"/><circle cx="1880.0" cy="1046.2" r="6.15"/><circle cx="1886.2" cy="1046.2" r="6.15"/></g>
<rect x="1856.75" y="967.5" width="38.75" height="3.8" fill="#000"/>
<text x="746.75" y="1110.5" font-size="25.8" textLength="81.5" lengthAdjust="spacingAndGlyphs" >B cells</text>
<text x="928" y="1110.5" font-size="25.8" textLength="64" lengthAdjust="spacingAndGlyphs" >CD4<tspan dy="-12.13" font-size="17.03">+</tspan></text>
<text x="1101.25" y="1110.5" font-size="25.8" textLength="63" lengthAdjust="spacingAndGlyphs" >CD8<tspan dy="-12.13" font-size="17.03">+</tspan></text>
<text x="1250" y="1110.5" font-size="25.8" textLength="110" lengthAdjust="spacingAndGlyphs" >T<tspan dy="5.16" font-size="18.06">reg</tspan><tspan dy="-5.16"> cells</tspan></text>
<text x="1406.25" y="1110.5" font-size="25.8" textLength="171" lengthAdjust="spacingAndGlyphs" >Macrophages</text>
<text x="1626.25" y="1110.5" font-size="25.8" textLength="49.5" lengthAdjust="spacingAndGlyphs" >DCs</text>
<text x="1778.75" y="1110.5" font-size="25.8" textLength="89.5" lengthAdjust="spacingAndGlyphs" >MDSCs</text>
<text x="938.75" y="1141.5" font-size="25.8" textLength="191.5" lengthAdjust="spacingAndGlyphs" >Lymphoid cells</text>
<text x="1581.75" y="1141.5" font-size="25.8" textLength="165.5" lengthAdjust="spacingAndGlyphs" >Myeloid cells</text>
<line x1="705.25" y1="1133.2" x2="920.25" y2="1133.2" stroke="#000" stroke-width="3.2" stroke-linecap="round"/>
<line x1="1150.25" y1="1133.2" x2="1380.5" y2="1133.2" stroke="#000" stroke-width="3.2" stroke-linecap="round"/>
<line x1="1406.5" y1="1133.2" x2="1555.25" y2="1133.2" stroke="#000" stroke-width="3.2" stroke-linecap="round"/>
<line x1="1772" y1="1133.2" x2="1895.5" y2="1133.2" stroke="#000" stroke-width="3.2" stroke-linecap="round"/>
<text x="757" y="743.5" font-size="23" textLength="97.5" lengthAdjust="spacingAndGlyphs" ><tspan font-style="italic">P</tspan> &lt; 0.001</text>
<path d="M787.15 798.75V752.15H835.85V771.25" fill="none" stroke="#000" stroke-width="3.3" stroke-linecap="butt" stroke-linejoin="miter"/>
<text x="934.5" y="691.5" font-size="23" textLength="97" lengthAdjust="spacingAndGlyphs" ><tspan font-style="italic">P</tspan> &lt; 0.001</text>
<path d="M959.95 757.5V702.45H1008.75V720" fill="none" stroke="#000" stroke-width="3.3" stroke-linecap="butt" stroke-linejoin="miter"/>
<text x="1108.75" y="692" font-size="23" textLength="97.5" lengthAdjust="spacingAndGlyphs" ><tspan font-style="italic">P</tspan> &lt; 0.001</text>
<path d="M1132.95 737V701.95H1181.55V718.75" fill="none" stroke="#000" stroke-width="3.3" stroke-linecap="butt" stroke-linejoin="miter"/>
<text x="1286.25" y="694.5" font-size="23" textLength="97" lengthAdjust="spacingAndGlyphs" ><tspan font-style="italic">P</tspan> &lt; 0.001</text>
<path d="M1311.95 742.5V706.95H1354.55V725" fill="none" stroke="#000" stroke-width="3.3" stroke-linecap="butt" stroke-linejoin="miter"/>
<text x="1774.25" y="693.75" font-size="23" textLength="97" lengthAdjust="spacingAndGlyphs" ><tspan font-style="italic">P</tspan> &lt; 0.001</text>
<path d="M1776.65 751.75V705.45H1874.35V727" fill="none" stroke="#000" stroke-width="3.3" stroke-linecap="butt" stroke-linejoin="miter"/>
<text x="1758.75" y="778.25" font-size="23" textLength="97.5" lengthAdjust="spacingAndGlyphs" ><tspan font-style="italic">P</tspan> &lt; 0.001</text>
<path d="M1776.65 857.5V788.65H1825.55V810.5" fill="none" stroke="#000" stroke-width="3.3" stroke-linecap="butt" stroke-linejoin="miter"/>
</g>
<g id="panel_d">
<text x="1" y="1222.5" font-size="39" textLength="23.5" lengthAdjust="spacingAndGlyphs" font-weight="bold" stroke="#000" stroke-width="1">d</text>
<line x1="146.5" y1="1291.62" x2="146.5" y2="1712.12" stroke="#555" stroke-width="1.25" stroke-linecap="butt"/>
<line x1="136.75" y1="1711.5" x2="146.5" y2="1711.5" stroke="#555" stroke-width="1.25" stroke-linecap="butt"/>
<line x1="136.75" y1="1627.65" x2="146.5" y2="1627.65" stroke="#555" stroke-width="1.25" stroke-linecap="butt"/>
<line x1="136.75" y1="1543.8" x2="146.5" y2="1543.8" stroke="#555" stroke-width="1.25" stroke-linecap="butt"/>
<line x1="136.75" y1="1459.95" x2="146.5" y2="1459.95" stroke="#555" stroke-width="1.25" stroke-linecap="butt"/>
<line x1="136.75" y1="1376.1" x2="146.5" y2="1376.1" stroke="#555" stroke-width="1.25" stroke-linecap="butt"/>
<line x1="136.75" y1="1292.25" x2="146.5" y2="1292.25" stroke="#555" stroke-width="1.25" stroke-linecap="butt"/>
<line x1="141.25" y1="1669.58" x2="146.5" y2="1669.58" stroke="#555" stroke-width="1.25" stroke-linecap="butt"/>
<line x1="141.25" y1="1585.72" x2="146.5" y2="1585.72" stroke="#555" stroke-width="1.25" stroke-linecap="butt"/>
<line x1="141.25" y1="1501.88" x2="146.5" y2="1501.88" stroke="#555" stroke-width="1.25" stroke-linecap="butt"/>
<line x1="141.25" y1="1418.03" x2="146.5" y2="1418.03" stroke="#555" stroke-width="1.25" stroke-linecap="butt"/>
<line x1="141.25" y1="1334.17" x2="146.5" y2="1334.17" stroke="#555" stroke-width="1.25" stroke-linecap="butt"/>
<text x="124.25" y="1719.8" font-size="22.5" text-anchor="end" textLength="12.5" lengthAdjust="spacingAndGlyphs" >0</text>
<text x="124.25" y="1635.95" font-size="22.5" text-anchor="end" textLength="27" lengthAdjust="spacingAndGlyphs" >20</text>
<text x="124.25" y="1552.1" font-size="22.5" text-anchor="end" textLength="27" lengthAdjust="spacingAndGlyphs" >40</text>
<text x="124.25" y="1468.25" font-size="22.5" text-anchor="end" textLength="27" lengthAdjust="spacingAndGlyphs" >60</text>
<text x="124.25" y="1384.4" font-size="22.5" text-anchor="end" textLength="27" lengthAdjust="spacingAndGlyphs" >80</text>
<text x="124.25" y="1300.55" font-size="22.5" text-anchor="end" textLength="38.5" lengthAdjust="spacingAndGlyphs" >100</text>
<line x1="136" y1="1711.5" x2="383.75" y2="1711.5" stroke="#333" stroke-width="1.4" stroke-linecap="butt"/>
<text x="0" y="0" transform="translate(23.4 1594) rotate(-90)" font-size="27" textLength="185" lengthAdjust="spacingAndGlyphs" >Percent CD45<tspan dy="-12.69" font-size="17.82">+</tspan></text>
<text x="0" y="0" transform="translate(54.5 1658.5) rotate(-90)" font-size="27" textLength="314" lengthAdjust="spacingAndGlyphs" >(of all viable single cells)</text>
<rect x="159.25" y="1623.75" width="58.25" height="87.75" fill="#808080"/>
<rect x="159.25" y="1623.75" width="3" height="87.75" fill="#000"/>
<rect x="214.5" y="1623.75" width="3" height="87.75" fill="#000"/>
<g fill="#fff" stroke="#000" stroke-width="3.4"><circle cx="167.5" cy="1542.0" r="8.3"/><circle cx="188.0" cy="1544.2" r="8.3"/><circle cx="209.2" cy="1536.8" r="8.3"/><circle cx="167.5" cy="1623.2" r="8.3"/><circle cx="209.2" cy="1632.0" r="8.3"/><circle cx="188.0" cy="1643.0" r="8.3"/><circle cx="188.0" cy="1664.2" r="8.3"/></g>
<rect x="159.25" y="1623.75" width="58.25" height="4.5" fill="#000"/>
<rect x="236.25" y="1571.75" width="58.25" height="139.75" fill="#11807f"/>
<rect x="236.25" y="1571.75" width="3" height="139.75" fill="#000"/>
<rect x="291.5" y="1571.75" width="3" height="139.75" fill="#000"/>
<g fill="#fff" stroke="#11807f" stroke-width="3"><circle cx="265.0" cy="1363.8" r="8.6"/><circle cx="265.0" cy="1410.0" r="8.6"/><circle cx="258.0" cy="1443.2" r="8.6"/><circle cx="272.0" cy="1460.0" r="8.6"/><circle cx="251.2" cy="1486.2" r="8.6"/><circle cx="265.0" cy="1485.8" r="8.6"/><circle cx="279.2" cy="1481.2" r="8.6"/><circle cx="265.0" cy="1508.0" r="8.6"/><circle cx="272.0" cy="1539.5" r="8.6"/><circle cx="286.2" cy="1542.5" r="8.6"/><circle cx="258.0" cy="1551.8" r="8.6"/><circle cx="244.2" cy="1557.0" r="8.6"/><circle cx="272.0" cy="1564.2" r="8.6"/><circle cx="286.2" cy="1564.2" r="8.6"/><circle cx="258.0" cy="1578.0" r="8.6"/><circle cx="272.0" cy="1585.0" r="8.6"/><circle cx="258.0" cy="1605.5" r="8.6"/><circle cx="286.2" cy="1605.5" r="8.6"/><circle cx="244.2" cy="1615.5" r="8.6"/><circle cx="258.0" cy="1626.2" r="8.6"/><circle cx="258.0" cy="1646.2" r="8.6"/><circle cx="244.2" cy="1663.8" r="8.6"/><circle cx="286.2" cy="1663.0" r="8.6"/><circle cx="272.0" cy="1675.5" r="8.6"/><circle cx="244.2" cy="1683.2" r="8.6"/><circle cx="286.2" cy="1690.0" r="8.6"/><circle cx="244.2" cy="1702.5" r="8.6"/><circle cx="272.0" cy="1699.2" r="8.6"/></g>
<rect x="236.25" y="1571.75" width="58.25" height="4.5" fill="#000"/>
<rect x="313.25" y="1521" width="58.5" height="190.5" fill="#083f80"/>
<rect x="313.25" y="1521" width="3" height="190.5" fill="#000"/>
<rect x="368.75" y="1521" width="3" height="190.5" fill="#000"/>
<g fill="#fff" stroke="#083f80" stroke-width="3"><circle cx="342.5" cy="1340.5" r="8.6"/><circle cx="329.5" cy="1365.0" r="8.6"/><circle cx="346.2" cy="1370.0" r="8.6"/><circle cx="355.0" cy="1379.5" r="8.6"/><circle cx="329.5" cy="1385.8" r="8.6"/><circle cx="338.0" cy="1385.8" r="8.6"/><circle cx="338.0" cy="1413.8" r="8.6"/><circle cx="355.0" cy="1415.8" r="8.6"/><circle cx="346.2" cy="1427.0" r="8.6"/><circle cx="338.0" cy="1434.2" r="8.6"/><circle cx="342.5" cy="1472.0" r="8.6"/><circle cx="338.0" cy="1488.8" r="8.6"/><circle cx="346.2" cy="1488.8" r="8.6"/><circle cx="338.0" cy="1515.0" r="8.6"/><circle cx="346.2" cy="1520.5" r="8.6"/><circle cx="346.2" cy="1551.2" r="8.6"/><circle cx="355.0" cy="1555.0" r="8.6"/><circle cx="338.0" cy="1565.0" r="8.6"/><circle cx="329.5" cy="1600.0" r="8.6"/><circle cx="320.8" cy="1608.0" r="8.6"/><circle cx="363.8" cy="1605.0" r="8.6"/><circle cx="355.0" cy="1608.8" r="8.6"/><circle cx="329.5" cy="1616.8" r="8.6"/><circle cx="346.2" cy="1617.5" r="8.6"/><circle cx="338.0" cy="1616.2" r="8.6"/><circle cx="346.2" cy="1641.2" r="8.6"/><circle cx="338.0" cy="1650.8" r="8.6"/><circle cx="346.2" cy="1690.0" r="8.6"/><circle cx="338.0" cy="1698.0" r="8.6"/></g>
<rect x="313.25" y="1521" width="58.5" height="4.5" fill="#000"/>
<text x="253.75" y="1295.5" font-size="23" textLength="100.5" lengthAdjust="spacingAndGlyphs" ><tspan font-style="italic">P</tspan> = 0.093</text>
<path d="M269 1322V1306.2H338.8V1322" fill="none" stroke="#000" stroke-width="3.4" stroke-linecap="butt" stroke-linejoin="miter"/>
<rect x="79" y="1730.5" width="21.5" height="21.5" fill="#808080" stroke="#000" stroke-width="3"/>
<text x="113.5" y="1749" font-size="23.3" textLength="285" lengthAdjust="spacingAndGlyphs" >Benign breast tissue (<tspan font-style="italic">n</tspan> = 7)</text>
<rect x="79" y="1765.1" width="21.5" height="21.5" fill="#11807f" stroke="#000" stroke-width="3"/>
<text x="113.5" y="1783.6" font-size="23.3" textLength="111.5" lengthAdjust="spacingAndGlyphs" >TA (<tspan font-style="italic">n</tspan> = 28)</text>
<rect x="79" y="1799.7" width="21.5" height="21.5" fill="#083f80" stroke="#000" stroke-width="3"/>
<text x="113.5" y="1818.2" font-size="23.3" textLength="153.5" lengthAdjust="spacingAndGlyphs" >Tumor (<tspan font-style="italic">n</tspan> = 29)</text>
<line x1="587.5" y1="1292.38" x2="587.5" y2="1712.12" stroke="#555" stroke-width="1.25" stroke-linecap="butt"/>
<line x1="578" y1="1711.5" x2="587.5" y2="1711.5" stroke="#555" stroke-width="1.25" stroke-linecap="butt"/>
<line x1="578" y1="1627.8" x2="587.5" y2="1627.8" stroke="#555" stroke-width="1.25" stroke-linecap="butt"/>
<line x1="578" y1="1544.1" x2="587.5" y2="1544.1" stroke="#555" stroke-width="1.25" stroke-linecap="butt"/>
<line x1="578" y1="1460.4" x2="587.5" y2="1460.4" stroke="#555" stroke-width="1.25" stroke-linecap="butt"/>
<line x1="578" y1="1376.7" x2="587.5" y2="1376.7" stroke="#555" stroke-width="1.25" stroke-linecap="butt"/>
<line x1="578" y1="1293" x2="587.5" y2="1293" stroke="#555" stroke-width="1.25" stroke-linecap="butt"/>
<line x1="582" y1="1669.65" x2="587.5" y2="1669.65" stroke="#555" stroke-width="1.25" stroke-linecap="butt"/>
<line x1="582" y1="1585.95" x2="587.5" y2="1585.95" stroke="#555" stroke-width="1.25" stroke-linecap="butt"/>
<line x1="582" y1="1502.25" x2="587.5" y2="1502.25" stroke="#555" stroke-width="1.25" stroke-linecap="butt"/>
<line x1="582" y1="1418.55" x2="587.5" y2="1418.55" stroke="#555" stroke-width="1.25" stroke-linecap="butt"/>
<line x1="582" y1="1334.85" x2="587.5" y2="1334.85" stroke="#555" stroke-width="1.25" stroke-linecap="butt"/>
<text x="565" y="1719.8" font-size="22.5" text-anchor="end" textLength="12.5" lengthAdjust="spacingAndGlyphs" >0</text>
<text x="565" y="1636.1" font-size="22.5" text-anchor="end" textLength="27" lengthAdjust="spacingAndGlyphs" >20</text>
<text x="565" y="1552.4" font-size="22.5" text-anchor="end" textLength="27" lengthAdjust="spacingAndGlyphs" >40</text>
<text x="565" y="1468.7" font-size="22.5" text-anchor="end" textLength="27" lengthAdjust="spacingAndGlyphs" >60</text>
<text x="565" y="1385" font-size="22.5" text-anchor="end" textLength="27" lengthAdjust="spacingAndGlyphs" >80</text>
<text x="565" y="1301.3" font-size="22.5" text-anchor="end" textLength="38.5" lengthAdjust="spacingAndGlyphs" >100</text>
<line x1="577.25" y1="1711.5" x2="824.5" y2="1711.5" stroke="#333" stroke-width="1.4" stroke-linecap="butt"/>
<text x="0" y="0" transform="translate(465.3 1594.5) rotate(-90)" font-size="27" textLength="185" lengthAdjust="spacingAndGlyphs" >Percent CD45<tspan dy="-12.69" font-size="17.82">+</tspan></text>
<text x="0" y="0" transform="translate(496.5 1659) rotate(-90)" font-size="27" textLength="314" lengthAdjust="spacingAndGlyphs" >(of all viable single cells)</text>
<rect x="600" y="1624.25" width="58.75" height="87.25" fill="#808080"/>
<rect x="600" y="1624.25" width="3" height="87.25" fill="#000"/>
<rect x="655.75" y="1624.25" width="3" height="87.25" fill="#000"/>
<g fill="#fff" stroke="#000" stroke-width="3.4"><circle cx="608.0" cy="1542.5" r="8.3"/><circle cx="628.8" cy="1544.5" r="8.3"/><circle cx="650.0" cy="1537.0" r="8.3"/><circle cx="608.0" cy="1623.2" r="8.3"/><circle cx="650.0" cy="1632.0" r="8.3"/><circle cx="628.8" cy="1643.0" r="8.3"/><circle cx="628.8" cy="1664.2" r="8.3"/></g>
<rect x="600" y="1624.25" width="58.75" height="4.5" fill="#000"/>
<rect x="677" y="1634.25" width="58.5" height="77.25" fill="#11807f"/>
<rect x="677" y="1634.25" width="3" height="77.25" fill="#000"/>
<rect x="732.5" y="1634.25" width="3" height="77.25" fill="#000"/>
<g fill="#fff" stroke="#11807f" stroke-width="3"><circle cx="695.5" cy="1420.5" r="8.6"/><circle cx="706.0" cy="1437.0" r="8.6"/><circle cx="706.0" cy="1464.5" r="8.6"/><circle cx="706.0" cy="1506.2" r="8.6"/><circle cx="706.0" cy="1572.0" r="8.6"/><circle cx="685.0" cy="1590.0" r="8.6"/><circle cx="695.5" cy="1604.5" r="8.6"/><circle cx="706.0" cy="1601.2" r="8.6"/><circle cx="716.2" cy="1607.5" r="8.6"/><circle cx="695.5" cy="1623.2" r="8.6"/><circle cx="727.0" cy="1623.8" r="8.6"/><circle cx="685.0" cy="1633.8" r="8.6"/><circle cx="716.2" cy="1637.5" r="8.6"/><circle cx="695.5" cy="1645.0" r="8.6"/><circle cx="727.0" cy="1657.0" r="8.6"/><circle cx="685.0" cy="1662.5" r="8.6"/><circle cx="716.2" cy="1671.2" r="8.6"/><circle cx="706.0" cy="1678.2" r="8.6"/><circle cx="695.5" cy="1685.0" r="8.6"/><circle cx="727.0" cy="1684.2" r="8.6"/><circle cx="716.2" cy="1690.0" r="8.6"/><circle cx="695.5" cy="1704.5" r="8.6"/></g>
<rect x="677" y="1634.25" width="58.5" height="4.5" fill="#000"/>
<rect x="753.75" y="1610" width="58.75" height="101.5" fill="#800080"/>
<rect x="753.75" y="1610" width="3" height="101.5" fill="#000"/>
<rect x="809.5" y="1610" width="3" height="101.5" fill="#000"/>
<g fill="#fff" stroke="#800080" stroke-width="3"><circle cx="783.0" cy="1404.5" r="8.6"/><circle cx="783.0" cy="1429.5" r="8.6"/><circle cx="783.0" cy="1452.5" r="8.6"/><circle cx="777.5" cy="1501.2" r="8.6"/><circle cx="788.2" cy="1499.2" r="8.6"/><circle cx="772.5" cy="1538.2" r="8.6"/><circle cx="783.0" cy="1540.8" r="8.6"/><circle cx="762.0" cy="1545.5" r="8.6"/><circle cx="793.8" cy="1551.2" r="8.6"/><circle cx="783.0" cy="1563.0" r="8.6"/><circle cx="777.5" cy="1599.5" r="8.6"/><circle cx="788.2" cy="1599.2" r="8.6"/><circle cx="772.5" cy="1621.2" r="8.6"/><circle cx="783.0" cy="1631.2" r="8.6"/><circle cx="762.0" cy="1641.2" r="8.6"/><circle cx="804.2" cy="1637.5" r="8.6"/><circle cx="783.0" cy="1649.5" r="8.6"/><circle cx="793.8" cy="1658.0" r="8.6"/><circle cx="772.5" cy="1669.2" r="8.6"/><circle cx="793.8" cy="1676.2" r="8.6"/><circle cx="772.5" cy="1686.8" r="8.6"/></g>
<rect x="753.75" y="1610" width="58.75" height="4.5" fill="#000"/>
<text x="700.75" y="1347" font-size="23" textLength="89.75" lengthAdjust="spacingAndGlyphs" ><tspan font-style="italic">P</tspan> = 0.221</text>
<path d="M710.5 1372.5V1356.2H780.5V1372.5" fill="none" stroke="#000" stroke-width="3.4" stroke-linecap="butt" stroke-linejoin="miter"/>
<rect x="527.5" y="1730.5" width="21.5" height="21.5" fill="#808080" stroke="#000" stroke-width="3"/>
<text x="562" y="1749" font-size="23.3" textLength="285" lengthAdjust="spacingAndGlyphs" >Benign breast tissue (<tspan font-style="italic">n</tspan> = 7)</text>
<rect x="527.5" y="1765.1" width="21.5" height="21.5" fill="#11807f" stroke="#000" stroke-width="3"/>
<text x="562" y="1783.6" font-size="23.3" textLength="112" lengthAdjust="spacingAndGlyphs" >TA (<tspan font-style="italic">n</tspan> = 23)</text>
<rect x="527.5" y="1799.7" width="21.5" height="21.5" fill="#800080" stroke="#000" stroke-width="3"/>
<text x="562" y="1818.2" font-size="23.3" textLength="153.5" lengthAdjust="spacingAndGlyphs" >Tumor (<tspan font-style="italic">n</tspan> = 24)</text>
</g>
<g id="panel_e">
<text x="896" y="1222.5" font-size="39" textLength="22.5" lengthAdjust="spacingAndGlyphs" font-weight="bold" stroke="#000" stroke-width="1">e</text>
<rect x="1281.65" y="1201.25" width="24.7" height="24.7" fill="#083f80" stroke="#000" stroke-width="3.3"/>
<text x="1319" y="1222.2" font-size="23.3" textLength="158.5" lengthAdjust="spacingAndGlyphs" >IDC TIL (<tspan font-style="italic">n</tspan> = 22)</text>
<rect x="1531.65" y="1201.25" width="24.7" height="24.7" fill="#800080" stroke="#000" stroke-width="3.3"/>
<text x="1570" y="1222.2" font-size="23.3" textLength="156" lengthAdjust="spacingAndGlyphs" >ILC TIL (<tspan font-style="italic">n</tspan> = 23)</text>
<line x1="1011.75" y1="1291.88" x2="1011.75" y2="1712.12" stroke="#222" stroke-width="1.25" stroke-linecap="butt"/>
<line x1="1001.25" y1="1711.5" x2="1011.75" y2="1711.5" stroke="#222" stroke-width="1.25" stroke-linecap="butt"/>
<line x1="1001.25" y1="1627.7" x2="1011.75" y2="1627.7" stroke="#222" stroke-width="1.25" stroke-linecap="butt"/>
<line x1="1001.25" y1="1543.9" x2="1011.75" y2="1543.9" stroke="#222" stroke-width="1.25" stroke-linecap="butt"/>
<line x1="1001.25" y1="1460.1" x2="1011.75" y2="1460.1" stroke="#222" stroke-width="1.25" stroke-linecap="butt"/>
<line x1="1001.25" y1="1376.3" x2="1011.75" y2="1376.3" stroke="#222" stroke-width="1.25" stroke-linecap="butt"/>
<line x1="1001.25" y1="1292.5" x2="1011.75" y2="1292.5" stroke="#222" stroke-width="1.25" stroke-linecap="butt"/>
<line x1="1005.75" y1="1669.6" x2="1011.75" y2="1669.6" stroke="#222" stroke-width="1.25" stroke-linecap="butt"/>
<line x1="1005.75" y1="1585.8" x2="1011.75" y2="1585.8" stroke="#222" stroke-width="1.25" stroke-linecap="butt"/>
<line x1="1005.75" y1="1502" x2="1011.75" y2="1502" stroke="#222" stroke-width="1.25" stroke-linecap="butt"/>
<line x1="1005.75" y1="1418.2" x2="1011.75" y2="1418.2" stroke="#222" stroke-width="1.25" stroke-linecap="butt"/>
<line x1="1005.75" y1="1334.4" x2="1011.75" y2="1334.4" stroke="#222" stroke-width="1.25" stroke-linecap="butt"/>
<text x="988.75" y="1719.8" font-size="22.5" text-anchor="end" textLength="12.5" lengthAdjust="spacingAndGlyphs" >0</text>
<text x="988.75" y="1636" font-size="22.5" text-anchor="end" textLength="27" lengthAdjust="spacingAndGlyphs" >20</text>
<text x="988.75" y="1552.2" font-size="22.5" text-anchor="end" textLength="27" lengthAdjust="spacingAndGlyphs" >40</text>
<text x="988.75" y="1468.4" font-size="22.5" text-anchor="end" textLength="27" lengthAdjust="spacingAndGlyphs" >60</text>
<text x="988.75" y="1384.6" font-size="22.5" text-anchor="end" textLength="27" lengthAdjust="spacingAndGlyphs" >80</text>
<text x="988.75" y="1300.8" font-size="22.5" text-anchor="end" textLength="38.5" lengthAdjust="spacingAndGlyphs" >100</text>
<line x1="1000.5" y1="1711.5" x2="1494.25" y2="1711.5" stroke="#111" stroke-width="1.4" stroke-linecap="butt"/>
<text x="0" y="0" transform="translate(918.75 1691.25) rotate(-90)" font-size="27" textLength="379" lengthAdjust="spacingAndGlyphs" >Percentage of CD4<tspan dy="-12.69" font-size="17.82">+</tspan><tspan dy="12.69"> T</tspan><tspan dy="5.40" font-size="18.90">conv</tspan><tspan dy="-5.40"> cells</tspan></text>
<line x1="1090" y1="1711.5" x2="1090" y2="1721.25" stroke="#3c3c3c" stroke-width="1.5" stroke-linecap="butt"/>
<line x1="1252.5" y1="1711.5" x2="1252.5" y2="1721.25" stroke="#3c3c3c" stroke-width="1.5" stroke-linecap="butt"/>
<line x1="1415" y1="1711.5" x2="1415" y2="1721.25" stroke="#3c3c3c" stroke-width="1.5" stroke-linecap="butt"/>
<line x1="1173" y1="1432.5" x2="1173" y2="1822.5" stroke="#000" stroke-width="2.4" stroke-dasharray="2.7 2.1"/>
<line x1="1322.5" y1="1323.75" x2="1322.5" y2="1821" stroke="#000" stroke-width="2.4" stroke-dasharray="2.7 2.1"/>
<g fill="#fff" stroke="#083f80" stroke-width="3.4"><circle cx="1061.5" cy="1711.1" r="7.7"/><circle cx="1075.1" cy="1704.4" r="7.7"/><circle cx="1066.4" cy="1710.6" r="7.7"/><circle cx="1054.8" cy="1711.0" r="7.7"/><circle cx="1075.1" cy="1706.4" r="7.7"/><circle cx="1039.8" cy="1704.6" r="7.7"/><circle cx="1054.9" cy="1711.4" r="7.7"/><circle cx="1059.4" cy="1706.5" r="7.7"/><circle cx="1035.6" cy="1710.8" r="7.7"/><circle cx="1035.0" cy="1711.5" r="7.7"/><circle cx="1042.5" cy="1710.0" r="7.7"/><circle cx="1050.0" cy="1711.5" r="7.7"/><circle cx="1060.0" cy="1711.5" r="7.7"/><circle cx="1067.5" cy="1711.5" r="7.7"/><circle cx="1077.5" cy="1711.5" r="7.7"/><circle cx="1046.2" cy="1707.5" r="7.7"/><circle cx="1038.8" cy="1702.5" r="7.7"/><circle cx="1072.0" cy="1705.5" r="7.7"/><circle cx="1056.8" cy="1693.8" r="7.7"/><circle cx="1056.8" cy="1679.5" r="7.7"/><circle cx="1056.8" cy="1644.5" r="7.7"/><circle cx="1056.8" cy="1630.0" r="7.7"/></g>
<g fill="#fff" stroke="#800080" stroke-width="3.4"><circle cx="1141.4" cy="1708.3" r="7.7"/><circle cx="1135.0" cy="1707.7" r="7.7"/><circle cx="1108.4" cy="1705.5" r="7.7"/><circle cx="1128.7" cy="1711.3" r="7.7"/><circle cx="1139.5" cy="1711.3" r="7.7"/><circle cx="1111.4" cy="1709.1" r="7.7"/><circle cx="1139.6" cy="1700.4" r="7.7"/><circle cx="1102.5" cy="1710.0" r="7.7"/><circle cx="1110.0" cy="1711.5" r="7.7"/><circle cx="1117.5" cy="1711.5" r="7.7"/><circle cx="1126.2" cy="1711.5" r="7.7"/><circle cx="1135.0" cy="1710.0" r="7.7"/><circle cx="1141.2" cy="1709.5" r="7.7"/><circle cx="1145.0" cy="1708.8" r="7.7"/><circle cx="1105.0" cy="1697.5" r="7.7"/><circle cx="1112.5" cy="1703.8" r="7.7"/><circle cx="1120.0" cy="1702.5" r="7.7"/><circle cx="1127.5" cy="1701.2" r="7.7"/><circle cx="1116.2" cy="1688.8" r="7.7"/><circle cx="1131.2" cy="1690.0" r="7.7"/><circle cx="1125.0" cy="1685.0" r="7.7"/><circle cx="1123.8" cy="1673.0" r="7.7"/><circle cx="1123.8" cy="1622.5" r="7.7"/></g>
<g fill="#fff" stroke="#083f80" stroke-width="3.4"><circle cx="1210.7" cy="1706.7" r="7.7"/><circle cx="1226.7" cy="1710.3" r="7.7"/><circle cx="1207.2" cy="1705.8" r="7.7"/><circle cx="1238.6" cy="1709.3" r="7.7"/><circle cx="1235.6" cy="1710.4" r="7.7"/><circle cx="1198.8" cy="1707.5" r="7.7"/><circle cx="1221.2" cy="1711.2" r="7.7"/><circle cx="1233.0" cy="1709.5" r="7.7"/><circle cx="1240.0" cy="1703.8" r="7.7"/><circle cx="1205.0" cy="1697.5" r="7.7"/><circle cx="1212.5" cy="1702.5" r="7.7"/><circle cx="1205.0" cy="1690.0" r="7.7"/><circle cx="1227.5" cy="1692.0" r="7.7"/><circle cx="1233.8" cy="1684.5" r="7.7"/><circle cx="1216.2" cy="1683.8" r="7.7"/><circle cx="1216.2" cy="1675.0" r="7.7"/><circle cx="1221.2" cy="1667.5" r="7.7"/><circle cx="1212.5" cy="1657.5" r="7.7"/><circle cx="1225.0" cy="1651.8" r="7.7"/><circle cx="1218.8" cy="1636.8" r="7.7"/><circle cx="1218.8" cy="1512.5" r="7.7"/><circle cx="1218.8" cy="1448.8" r="7.7"/></g>
<rect x="1191.25" y="1690.75" width="55.75" height="4.5" fill="#000"/>
<g fill="#fff" stroke="#800080" stroke-width="3.4"><circle cx="1273.1" cy="1707.9" r="7.7"/><circle cx="1272.3" cy="1708.4" r="7.7"/><circle cx="1291.1" cy="1710.2" r="7.7"/><circle cx="1266.4" cy="1709.9" r="7.7"/><circle cx="1279.0" cy="1708.2" r="7.7"/><circle cx="1300.0" cy="1708.0" r="7.7"/><circle cx="1286.1" cy="1711.1" r="7.7"/><circle cx="1266.2" cy="1705.0" r="7.7"/><circle cx="1280.0" cy="1711.2" r="7.7"/><circle cx="1295.0" cy="1708.8" r="7.7"/><circle cx="1307.5" cy="1706.2" r="7.7"/><circle cx="1273.8" cy="1702.5" r="7.7"/><circle cx="1290.0" cy="1702.5" r="7.7"/><circle cx="1268.8" cy="1693.8" r="7.7"/><circle cx="1280.0" cy="1697.5" r="7.7"/><circle cx="1302.5" cy="1695.0" r="7.7"/><circle cx="1291.2" cy="1689.5" r="7.7"/><circle cx="1282.5" cy="1676.2" r="7.7"/><circle cx="1286.2" cy="1675.5" r="7.7"/><circle cx="1282.5" cy="1663.8" r="7.7"/><circle cx="1290.0" cy="1667.5" r="7.7"/><circle cx="1286.2" cy="1660.0" r="7.7"/><circle cx="1286.2" cy="1628.0" r="7.7"/></g>
<rect x="1258" y="1698.5" width="56.5" height="4.5" fill="#000"/>
<rect x="1353.75" y="1349.5" width="56.25" height="362" fill="#083f80"/>
<rect x="1353.75" y="1349.5" width="2.6" height="362" fill="#000"/>
<rect x="1407.4" y="1349.5" width="2.6" height="362" fill="#000"/>
<g fill="#fff" stroke="#083f80" stroke-width="3.4"><circle cx="1385.0" cy="1297.0" r="7.7"/><circle cx="1377.5" cy="1299.5" r="7.7"/><circle cx="1360.0" cy="1308.8" r="7.7"/><circle cx="1369.5" cy="1308.8" r="7.7"/><circle cx="1393.0" cy="1310.0" r="7.7"/><circle cx="1402.5" cy="1309.5" r="7.7"/><circle cx="1377.5" cy="1315.0" r="7.7"/><circle cx="1393.8" cy="1328.8" r="7.7"/><circle cx="1369.5" cy="1337.5" r="7.7"/><circle cx="1393.0" cy="1347.5" r="7.7"/><circle cx="1385.0" cy="1351.2" r="7.7"/><circle cx="1360.0" cy="1355.0" r="7.7"/><circle cx="1377.5" cy="1363.8" r="7.7"/><circle cx="1369.5" cy="1370.0" r="7.7"/><circle cx="1385.0" cy="1370.0" r="7.7"/><circle cx="1393.0" cy="1367.5" r="7.7"/><circle cx="1381.8" cy="1412.5" r="7.7"/><circle cx="1381.8" cy="1505.5" r="7.7"/><circle cx="1381.8" cy="1639.2" r="7.7"/><circle cx="1381.8" cy="1711.5" r="7.7"/></g>
<rect x="1353.75" y="1349.5" width="56.25" height="4.5" fill="#000"/>
<rect x="1421.25" y="1332.5" width="55.75" height="379" fill="#800080"/>
<rect x="1421.25" y="1332.5" width="2.6" height="379" fill="#000"/>
<rect x="1474.4" y="1332.5" width="2.6" height="379" fill="#000"/>
<g fill="#fff" stroke="#800080" stroke-width="3.4"><circle cx="1428.8" cy="1300.0" r="7.7"/><circle cx="1462.5" cy="1301.2" r="7.7"/><circle cx="1442.5" cy="1307.0" r="7.7"/><circle cx="1471.2" cy="1308.0" r="7.7"/><circle cx="1448.8" cy="1312.0" r="7.7"/><circle cx="1436.2" cy="1313.8" r="7.7"/><circle cx="1462.5" cy="1317.5" r="7.7"/><circle cx="1435.0" cy="1328.8" r="7.7"/><circle cx="1448.8" cy="1326.2" r="7.7"/><circle cx="1460.0" cy="1333.8" r="7.7"/><circle cx="1455.0" cy="1338.8" r="7.7"/><circle cx="1442.0" cy="1348.8" r="7.7"/><circle cx="1448.8" cy="1360.8" r="7.7"/><circle cx="1442.0" cy="1377.0" r="7.7"/><circle cx="1455.0" cy="1377.0" r="7.7"/><circle cx="1448.8" cy="1381.2" r="7.7"/><circle cx="1448.8" cy="1409.5" r="7.7"/><circle cx="1448.8" cy="1448.8" r="7.7"/><circle cx="1448.8" cy="1711.5" r="7.7"/></g>
<rect x="1421.25" y="1332.5" width="55.75" height="4.5" fill="#000"/>
<text x="1040.75" y="1541.25" font-size="23" textLength="98" lengthAdjust="spacingAndGlyphs" ><tspan font-style="italic">P</tspan> = 0.092</text>
<path d="M1058.2 1565.5V1551.7H1121V1565.5" fill="none" stroke="#000" stroke-width="3.4" stroke-linecap="butt" stroke-linejoin="miter"/>
<text x="1195.5" y="1392.5" font-size="23" textLength="97" lengthAdjust="spacingAndGlyphs" ><tspan font-style="italic">P</tspan> = 0.498</text>
<path d="M1208 1416.75V1402.5H1270.5V1416.75" fill="none" stroke="#000" stroke-width="3.4" stroke-linecap="butt" stroke-linejoin="miter"/>
<text x="1370" y="1256.25" font-size="23" textLength="96.25" lengthAdjust="spacingAndGlyphs" ><tspan font-style="italic">P</tspan> = 0.624</text>
<path d="M1382.5 1281.25V1266.2H1445.5V1281.25" fill="none" stroke="#000" stroke-width="3.4" stroke-linecap="butt" stroke-linejoin="miter"/>
<text x="1055.5" y="1755" font-size="26.5" textLength="69" lengthAdjust="spacingAndGlyphs" >Naive</text>
<text x="1027.5" y="1786.3" font-size="26.5" textLength="125" lengthAdjust="spacingAndGlyphs" >(CD45RA<tspan dy="-12.46" font-size="17.49">+</tspan></text>
<text x="1046" y="1817.6" font-size="26.5" textLength="88" lengthAdjust="spacingAndGlyphs" >CCR7<tspan dy="-12.46" font-size="17.49">+</tspan><tspan dy="12.46">)</tspan></text>
<text x="1208.75" y="1755" font-size="26.5" textLength="87.5" lengthAdjust="spacingAndGlyphs" >TEMRA</text>
<text x="1190" y="1786.3" font-size="26.5" textLength="125" lengthAdjust="spacingAndGlyphs" >(CD45RA<tspan dy="-12.46" font-size="17.49">+</tspan></text>
<text x="1208.5" y="1817.6" font-size="26.5" textLength="88" lengthAdjust="spacingAndGlyphs" >CCR7<tspan dy="-12.46" font-size="17.49">−</tspan><tspan dy="12.46">)</tspan></text>
<text x="1366.25" y="1755" font-size="26.5" textLength="97.5" lengthAdjust="spacingAndGlyphs" >Effector</text>
<text x="1363" y="1786.3" font-size="26.5" textLength="104" lengthAdjust="spacingAndGlyphs" >memory</text>
<text x="1352.5" y="1817.6" font-size="26.5" textLength="125" lengthAdjust="spacingAndGlyphs" >(CD45RA<tspan dy="-12.46" font-size="17.49">−</tspan></text>
<text x="1371" y="1848.9" font-size="26.5" textLength="88" lengthAdjust="spacingAndGlyphs" >CCR7<tspan dy="-12.46" font-size="17.49">−</tspan><tspan dy="12.46">)</tspan></text>
<line x1="1658.75" y1="1292.38" x2="1658.75" y2="1712.12" stroke="#555" stroke-width="1.25" stroke-linecap="butt"/>
<line x1="1647.5" y1="1711.5" x2="1658.75" y2="1711.5" stroke="#555" stroke-width="1.25" stroke-linecap="butt"/>
<line x1="1647.5" y1="1627.8" x2="1658.75" y2="1627.8" stroke="#555" stroke-width="1.25" stroke-linecap="butt"/>
<line x1="1647.5" y1="1544.1" x2="1658.75" y2="1544.1" stroke="#555" stroke-width="1.25" stroke-linecap="butt"/>
<line x1="1647.5" y1="1460.4" x2="1658.75" y2="1460.4" stroke="#555" stroke-width="1.25" stroke-linecap="butt"/>
<line x1="1647.5" y1="1376.7" x2="1658.75" y2="1376.7" stroke="#555" stroke-width="1.25" stroke-linecap="butt"/>
<line x1="1647.5" y1="1293" x2="1658.75" y2="1293" stroke="#555" stroke-width="1.25" stroke-linecap="butt"/>
<line x1="1652" y1="1669.65" x2="1658.75" y2="1669.65" stroke="#555" stroke-width="1.25" stroke-linecap="butt"/>
<line x1="1652" y1="1585.95" x2="1658.75" y2="1585.95" stroke="#555" stroke-width="1.25" stroke-linecap="butt"/>
<line x1="1652" y1="1502.25" x2="1658.75" y2="1502.25" stroke="#555" stroke-width="1.25" stroke-linecap="butt"/>
<line x1="1652" y1="1418.55" x2="1658.75" y2="1418.55" stroke="#555" stroke-width="1.25" stroke-linecap="butt"/>
<line x1="1652" y1="1334.85" x2="1658.75" y2="1334.85" stroke="#555" stroke-width="1.25" stroke-linecap="butt"/>
<text x="1635" y="1719.8" font-size="22.5" text-anchor="end" textLength="12.5" lengthAdjust="spacingAndGlyphs" >0</text>
<text x="1635" y="1636.1" font-size="22.5" text-anchor="end" textLength="27" lengthAdjust="spacingAndGlyphs" >20</text>
<text x="1635" y="1552.4" font-size="22.5" text-anchor="end" textLength="27" lengthAdjust="spacingAndGlyphs" >40</text>
<text x="1635" y="1468.7" font-size="22.5" text-anchor="end" textLength="27" lengthAdjust="spacingAndGlyphs" >60</text>
<text x="1635" y="1385" font-size="22.5" text-anchor="end" textLength="27" lengthAdjust="spacingAndGlyphs" >80</text>
<text x="1635" y="1301.3" font-size="22.5" text-anchor="end" textLength="38.5" lengthAdjust="spacingAndGlyphs" >100</text>
<line x1="1646.75" y1="1711.5" x2="2140" y2="1711.5" stroke="#333" stroke-width="1.4" stroke-linecap="butt"/>
<text x="0" y="0" transform="translate(1571.25 1670) rotate(-90)" font-size="27" textLength="337" lengthAdjust="spacingAndGlyphs" >Percentage of CD8<tspan dy="-12.69" font-size="17.82">+</tspan><tspan dy="12.69"> T cells</tspan></text>
<line x1="1730.5" y1="1711.5" x2="1730.5" y2="1721.25" stroke="#3c3c3c" stroke-width="1.5" stroke-linecap="butt"/>
<line x1="1898" y1="1711.5" x2="1898" y2="1721.25" stroke="#3c3c3c" stroke-width="1.5" stroke-linecap="butt"/>
<line x1="2066" y1="1711.5" x2="2066" y2="1721.25" stroke="#3c3c3c" stroke-width="1.5" stroke-linecap="butt"/>
<line x1="1816" y1="1321.25" x2="1816" y2="1821" stroke="#000" stroke-width="2.4" stroke-dasharray="2.7 2.1"/>
<line x1="1975" y1="1321.25" x2="1975" y2="1821" stroke="#000" stroke-width="2.4" stroke-dasharray="2.7 2.1"/>
<g fill="#fff" stroke="#083f80" stroke-width="3.4"><circle cx="1703.1" cy="1701.3" r="7.7"/><circle cx="1675.7" cy="1707.7" r="7.7"/><circle cx="1705.0" cy="1711.1" r="7.7"/><circle cx="1706.5" cy="1710.9" r="7.7"/><circle cx="1689.5" cy="1711.0" r="7.7"/><circle cx="1676.6" cy="1711.2" r="7.7"/><circle cx="1682.0" cy="1709.0" r="7.7"/><circle cx="1705.2" cy="1710.8" r="7.7"/><circle cx="1712.2" cy="1708.1" r="7.7"/><circle cx="1689.0" cy="1710.2" r="7.7"/><circle cx="1695.9" cy="1711.2" r="7.7"/><circle cx="1704.9" cy="1709.6" r="7.7"/><circle cx="1674.8" cy="1711.4" r="7.7"/><circle cx="1685.4" cy="1711.4" r="7.7"/><circle cx="1706.1" cy="1710.7" r="7.7"/><circle cx="1713.3" cy="1711.4" r="7.7"/><circle cx="1694.4" cy="1707.1" r="7.7"/><circle cx="1678.3" cy="1701.8" r="7.7"/><circle cx="1715.0" cy="1698.2" r="7.7"/><circle cx="1695.4" cy="1694.6" r="7.7"/><circle cx="1695.4" cy="1681.4" r="7.7"/><circle cx="1695.4" cy="1664.3" r="7.7"/></g>
<g fill="#fff" stroke="#800080" stroke-width="3.4"><circle cx="1778.4" cy="1710.8" r="7.7"/><circle cx="1784.9" cy="1710.7" r="7.7"/><circle cx="1747.5" cy="1708.5" r="7.7"/><circle cx="1783.7" cy="1706.9" r="7.7"/><circle cx="1758.4" cy="1707.0" r="7.7"/><circle cx="1757.2" cy="1709.2" r="7.7"/><circle cx="1757.4" cy="1710.8" r="7.7"/><circle cx="1750.0" cy="1710.1" r="7.7"/><circle cx="1773.7" cy="1709.1" r="7.7"/><circle cx="1745.6" cy="1711.5" r="7.7"/><circle cx="1786.7" cy="1707.5" r="7.7"/><circle cx="1743.5" cy="1707.5" r="7.7"/><circle cx="1753.5" cy="1710.0" r="7.7"/><circle cx="1763.5" cy="1711.5" r="7.7"/><circle cx="1773.5" cy="1711.5" r="7.7"/><circle cx="1781.0" cy="1709.5" r="7.7"/><circle cx="1787.2" cy="1710.0" r="7.7"/><circle cx="1757.2" cy="1705.0" r="7.7"/><circle cx="1748.5" cy="1701.2" r="7.7"/><circle cx="1782.2" cy="1701.2" r="7.7"/><circle cx="1766.0" cy="1692.0" r="7.7"/><circle cx="1764.8" cy="1685.8" r="7.7"/><circle cx="1765.5" cy="1623.2" r="7.7"/></g>
<rect x="1836.75" y="1621.25" width="53.5" height="90.25" fill="#083f80"/>
<rect x="1836.75" y="1621.25" width="2.6" height="90.25" fill="#000"/>
<rect x="1887.65" y="1621.25" width="2.6" height="90.25" fill="#000"/>
<g fill="#fff" stroke="#083f80" stroke-width="3.4"><circle cx="1863.0" cy="1335.5" r="7.7"/><circle cx="1863.0" cy="1398.0" r="7.7"/><circle cx="1863.0" cy="1460.5" r="7.7"/><circle cx="1863.0" cy="1486.8" r="7.7"/><circle cx="1851.5" cy="1527.5" r="7.7"/><circle cx="1874.8" cy="1531.8" r="7.7"/><circle cx="1866.8" cy="1542.5" r="7.7"/><circle cx="1866.8" cy="1575.0" r="7.7"/><circle cx="1858.5" cy="1588.2" r="7.7"/><circle cx="1866.8" cy="1593.2" r="7.7"/><circle cx="1863.0" cy="1611.8" r="7.7"/><circle cx="1863.0" cy="1630.0" r="7.7"/><circle cx="1843.5" cy="1657.5" r="7.7"/><circle cx="1883.0" cy="1652.0" r="7.7"/><circle cx="1851.0" cy="1664.2" r="7.7"/><circle cx="1859.0" cy="1664.2" r="7.7"/><circle cx="1866.8" cy="1665.8" r="7.7"/><circle cx="1874.8" cy="1662.5" r="7.7"/><circle cx="1851.5" cy="1683.8" r="7.7"/><circle cx="1874.8" cy="1682.5" r="7.7"/><circle cx="1866.8" cy="1694.5" r="7.7"/><circle cx="1859.0" cy="1707.0" r="7.7"/></g>
<rect x="1836.75" y="1621.25" width="53.5" height="4.5" fill="#000"/>
<rect x="1907.25" y="1625" width="53.25" height="86.5" fill="#800080"/>
<rect x="1907.25" y="1625" width="2.6" height="86.5" fill="#000"/>
<rect x="1957.9" y="1625" width="2.6" height="86.5" fill="#000"/>
<g fill="#fff" stroke="#800080" stroke-width="3.4"><circle cx="1937.2" cy="1485.5" r="7.7"/><circle cx="1929.8" cy="1499.5" r="7.7"/><circle cx="1937.2" cy="1572.5" r="7.7"/><circle cx="1945.2" cy="1573.0" r="7.7"/><circle cx="1922.2" cy="1579.5" r="7.7"/><circle cx="1929.0" cy="1593.2" r="7.7"/><circle cx="1937.2" cy="1593.2" r="7.7"/><circle cx="1929.8" cy="1615.0" r="7.7"/><circle cx="1952.8" cy="1616.2" r="7.7"/><circle cx="1921.0" cy="1621.2" r="7.7"/><circle cx="1943.5" cy="1625.0" r="7.7"/><circle cx="1937.2" cy="1632.0" r="7.7"/><circle cx="1929.8" cy="1640.5" r="7.7"/><circle cx="1937.2" cy="1655.8" r="7.7"/><circle cx="1952.8" cy="1656.8" r="7.7"/><circle cx="1913.5" cy="1663.2" r="7.7"/><circle cx="1922.2" cy="1671.2" r="7.7"/><circle cx="1944.8" cy="1670.8" r="7.7"/><circle cx="1937.2" cy="1678.8" r="7.7"/><circle cx="1929.8" cy="1711.5" r="7.7"/><circle cx="1937.2" cy="1711.5" r="7.7"/></g>
<rect x="1907.25" y="1625" width="53.25" height="4.5" fill="#000"/>
<rect x="2004.25" y="1386.25" width="53.5" height="325.25" fill="#083f80"/>
<rect x="2004.25" y="1386.25" width="2.6" height="325.25" fill="#000"/>
<rect x="2055.15" y="1386.25" width="2.6" height="325.25" fill="#000"/>
<g fill="#fff" stroke="#083f80" stroke-width="3.4"><circle cx="2030.5" cy="1313.8" r="7.7"/><circle cx="2021.0" cy="1323.8" r="7.7"/><circle cx="2040.2" cy="1326.8" r="7.7"/><circle cx="2021.0" cy="1340.0" r="7.7"/><circle cx="2050.2" cy="1343.2" r="7.7"/><circle cx="2011.0" cy="1347.5" r="7.7"/><circle cx="2040.2" cy="1352.5" r="7.7"/><circle cx="2021.0" cy="1355.0" r="7.7"/><circle cx="2030.5" cy="1366.2" r="7.7"/><circle cx="2021.0" cy="1375.8" r="7.7"/><circle cx="2030.5" cy="1397.5" r="7.7"/><circle cx="2026.0" cy="1433.0" r="7.7"/><circle cx="2035.5" cy="1433.8" r="7.7"/><circle cx="2021.0" cy="1462.5" r="7.7"/><circle cx="2030.5" cy="1477.0" r="7.7"/><circle cx="2030.5" cy="1497.0" r="7.7"/><circle cx="2030.5" cy="1518.0" r="7.7"/><circle cx="2026.0" cy="1543.8" r="7.7"/><circle cx="2035.5" cy="1540.8" r="7.7"/><circle cx="2030.5" cy="1638.0" r="7.7"/><circle cx="2030.5" cy="1672.0" r="7.7"/></g>
<rect x="2004.25" y="1386.25" width="53.5" height="4.5" fill="#000"/>
<rect x="2074.25" y="1393" width="54.25" height="318.5" fill="#800080"/>
<rect x="2074.25" y="1393" width="2.6" height="318.5" fill="#000"/>
<rect x="2125.9" y="1393" width="2.6" height="318.5" fill="#000"/>
<g fill="#fff" stroke="#800080" stroke-width="3.4"><circle cx="2101.0" cy="1297.5" r="7.7"/><circle cx="2107.2" cy="1329.5" r="7.7"/><circle cx="2120.5" cy="1333.2" r="7.7"/><circle cx="2081.5" cy="1341.8" r="7.7"/><circle cx="2094.5" cy="1342.5" r="7.7"/><circle cx="2107.2" cy="1347.5" r="7.7"/><circle cx="2120.5" cy="1355.8" r="7.7"/><circle cx="2081.5" cy="1368.8" r="7.7"/><circle cx="2107.2" cy="1373.8" r="7.7"/><circle cx="2094.5" cy="1379.2" r="7.7"/><circle cx="2081.5" cy="1391.2" r="7.7"/><circle cx="2107.2" cy="1390.8" r="7.7"/><circle cx="2120.5" cy="1391.8" r="7.7"/><circle cx="2081.5" cy="1413.2" r="7.7"/><circle cx="2120.5" cy="1413.8" r="7.7"/><circle cx="2094.5" cy="1426.2" r="7.7"/><circle cx="2107.2" cy="1433.0" r="7.7"/><circle cx="2094.5" cy="1443.8" r="7.7"/><circle cx="2107.2" cy="1452.0" r="7.7"/><circle cx="2107.2" cy="1502.0" r="7.7"/><circle cx="2094.5" cy="1516.2" r="7.7"/><circle cx="2107.2" cy="1527.0" r="7.7"/><circle cx="2101.0" cy="1711.5" r="7.7"/></g>
<rect x="2074.25" y="1393" width="54.25" height="4.5" fill="#000"/>
<text x="1687.25" y="1569.5" font-size="23" textLength="95.5" lengthAdjust="spacingAndGlyphs" ><tspan font-style="italic">P</tspan> = 0.978</text>
<path d="M1700.5 1593.25V1579.5H1762.8V1593.25" fill="none" stroke="#000" stroke-width="3.4" stroke-linecap="butt" stroke-linejoin="miter"/>
<text x="1852.75" y="1281.25" font-size="23" textLength="95" lengthAdjust="spacingAndGlyphs" ><tspan font-style="italic">P</tspan> = 0.897</text>
<path d="M1866 1307.5V1293H1928.5V1307.5" fill="none" stroke="#000" stroke-width="3.4" stroke-linecap="butt" stroke-linejoin="miter"/>
<text x="2008" y="1277" font-size="23" textLength="95.5" lengthAdjust="spacingAndGlyphs" ><tspan font-style="italic">P</tspan> = 0.976</text>
<path d="M2021.5 1302.5V1288.2H2083" fill="none" stroke="#000" stroke-width="3.4"/>
<text x="1696" y="1755" font-size="26.5" textLength="69" lengthAdjust="spacingAndGlyphs" >Naive</text>
<text x="1668" y="1786.3" font-size="26.5" textLength="125" lengthAdjust="spacingAndGlyphs" >(CD45RA<tspan dy="-12.46" font-size="17.49">+</tspan></text>
<text x="1686.5" y="1817.6" font-size="26.5" textLength="88" lengthAdjust="spacingAndGlyphs" >CCR7<tspan dy="-12.46" font-size="17.49">+</tspan><tspan dy="12.46">)</tspan></text>
<text x="1854.25" y="1755" font-size="26.5" textLength="87.5" lengthAdjust="spacingAndGlyphs" >TEMRA</text>
<text x="1835.5" y="1786.3" font-size="26.5" textLength="125" lengthAdjust="spacingAndGlyphs" >(CD45RA<tspan dy="-12.46" font-size="17.49">+</tspan></text>
<text x="1854" y="1817.6" font-size="26.5" textLength="88" lengthAdjust="spacingAndGlyphs" >CCR7<tspan dy="-12.46" font-size="17.49">−</tspan><tspan dy="12.46">)</tspan></text>
<text x="2017.25" y="1755" font-size="26.5" textLength="97.5" lengthAdjust="spacingAndGlyphs" >Effector</text>
<text x="2014" y="1786.3" font-size="26.5" textLength="104" lengthAdjust="spacingAndGlyphs" >memory</text>
<text x="2003.5" y="1817.6" font-size="26.5" textLength="125" lengthAdjust="spacingAndGlyphs" >(CD45RA<tspan dy="-12.46" font-size="17.49">−</tspan></text>
<text x="2022" y="1848.9" font-size="26.5" textLength="88" lengthAdjust="spacingAndGlyphs" >CCR7<tspan dy="-12.46" font-size="17.49">−</tspan><tspan dy="12.46">)</tspan></text>
</g>
<g id="panel_f">
<text x="1" y="1921.5" font-size="39" textLength="14.5" lengthAdjust="spacingAndGlyphs" font-weight="bold" stroke="#000" stroke-width="1">f</text>
<line x1="120.5" y1="1935.12" x2="120.5" y2="2372.12" stroke="#555" stroke-width="1.25" stroke-linecap="butt"/>
<line x1="110" y1="2371.5" x2="120.5" y2="2371.5" stroke="#555" stroke-width="1.25" stroke-linecap="butt"/>
<line x1="110" y1="2284.35" x2="120.5" y2="2284.35" stroke="#555" stroke-width="1.25" stroke-linecap="butt"/>
<line x1="110" y1="2197.2" x2="120.5" y2="2197.2" stroke="#555" stroke-width="1.25" stroke-linecap="butt"/>
<line x1="110" y1="2110.05" x2="120.5" y2="2110.05" stroke="#555" stroke-width="1.25" stroke-linecap="butt"/>
<line x1="110" y1="2022.9" x2="120.5" y2="2022.9" stroke="#555" stroke-width="1.25" stroke-linecap="butt"/>
<line x1="110" y1="1935.75" x2="120.5" y2="1935.75" stroke="#555" stroke-width="1.25" stroke-linecap="butt"/>
<line x1="114.25" y1="2327.93" x2="120.5" y2="2327.93" stroke="#555" stroke-width="1.25" stroke-linecap="butt"/>
<line x1="114.25" y1="2240.78" x2="120.5" y2="2240.78" stroke="#555" stroke-width="1.25" stroke-linecap="butt"/>
<line x1="114.25" y1="2153.62" x2="120.5" y2="2153.62" stroke="#555" stroke-width="1.25" stroke-linecap="butt"/>
<line x1="114.25" y1="2066.47" x2="120.5" y2="2066.47" stroke="#555" stroke-width="1.25" stroke-linecap="butt"/>
<line x1="114.25" y1="1979.33" x2="120.5" y2="1979.33" stroke="#555" stroke-width="1.25" stroke-linecap="butt"/>
<text x="97" y="2379.8" font-size="22.5" text-anchor="end" textLength="12.5" lengthAdjust="spacingAndGlyphs" >0</text>
<text x="97" y="2292.65" font-size="22.5" text-anchor="end" textLength="27" lengthAdjust="spacingAndGlyphs" >20</text>
<text x="97" y="2205.5" font-size="22.5" text-anchor="end" textLength="27" lengthAdjust="spacingAndGlyphs" >40</text>
<text x="97" y="2118.35" font-size="22.5" text-anchor="end" textLength="27" lengthAdjust="spacingAndGlyphs" >60</text>
<text x="97" y="2031.2" font-size="22.5" text-anchor="end" textLength="27" lengthAdjust="spacingAndGlyphs" >80</text>
<text x="97" y="1944.05" font-size="22.5" text-anchor="end" textLength="38.5" lengthAdjust="spacingAndGlyphs" >100</text>
<line x1="109.25" y1="2371.5" x2="798.75" y2="2371.5" stroke="#333" stroke-width="1.4" stroke-linecap="butt"/>
<text x="0" y="0" transform="translate(24.5 2342.75) rotate(-90)" font-size="27" textLength="380" lengthAdjust="spacingAndGlyphs" >Percentage of CD4<tspan dy="-12.69" font-size="17.82">+</tspan><tspan dy="12.69"> T</tspan><tspan dy="5.40" font-size="18.90">conv</tspan><tspan dy="-5.40"> cells</tspan></text>
<line x1="180.5" y1="2371.5" x2="180.5" y2="2381.5" stroke="#3c3c3c" stroke-width="1.5" stroke-linecap="butt"/>
<line x1="320" y1="2371.5" x2="320" y2="2381.5" stroke="#3c3c3c" stroke-width="1.5" stroke-linecap="butt"/>
<line x1="459.25" y1="2371.5" x2="459.25" y2="2381.5" stroke="#3c3c3c" stroke-width="1.5" stroke-linecap="butt"/>
<line x1="598.75" y1="2371.5" x2="598.75" y2="2381.5" stroke="#3c3c3c" stroke-width="1.5" stroke-linecap="butt"/>
<line x1="738" y1="2371.5" x2="738" y2="2381.5" stroke="#3c3c3c" stroke-width="1.5" stroke-linecap="butt"/>
<line x1="249.25" y1="1935" x2="249.25" y2="2418.5" stroke="#000" stroke-width="3.8" stroke-dasharray="3.1 3.15"/>
<line x1="388.5" y1="1935" x2="388.5" y2="2418.5" stroke="#000" stroke-width="3.8" stroke-dasharray="3.1 3.15"/>
<line x1="531.75" y1="2001.5" x2="531.75" y2="2418.5" stroke="#000" stroke-width="3.8" stroke-dasharray="3.1 3.15"/>
<line x1="667" y1="2001.5" x2="667" y2="2418.5" stroke="#000" stroke-width="3.8" stroke-dasharray="3.1 3.15"/>
<rect x="129.25" y="2265.75" width="44.5" height="105.75" fill="#083f80"/>
<rect x="129.25" y="2265.75" width="2.8" height="105.75" fill="#000"/>
<rect x="170.95" y="2265.75" width="2.8" height="105.75" fill="#000"/>
<g fill="#fff" stroke="#083f80" stroke-width="3.2"><circle cx="151.8" cy="2017.8" r="7.7"/><circle cx="151.8" cy="2085.2" r="7.7"/><circle cx="151.8" cy="2101.5" r="7.7"/><circle cx="151.8" cy="2136.0" r="7.7"/><circle cx="142.0" cy="2173.5" r="7.7"/><circle cx="151.8" cy="2176.5" r="7.7"/><circle cx="161.8" cy="2176.5" r="7.7"/><circle cx="146.8" cy="2200.8" r="7.7"/><circle cx="156.2" cy="2215.2" r="7.7"/><circle cx="137.0" cy="2249.8" r="7.7"/><circle cx="156.2" cy="2251.5" r="7.7"/><circle cx="166.2" cy="2261.5" r="7.7"/><circle cx="146.8" cy="2265.2" r="7.7"/><circle cx="137.0" cy="2280.2" r="7.7"/><circle cx="146.8" cy="2289.0" r="7.7"/><circle cx="166.2" cy="2289.8" r="7.7"/><circle cx="137.0" cy="2301.5" r="7.7"/><circle cx="146.8" cy="2310.8" r="7.7"/><circle cx="156.2" cy="2311.5" r="7.7"/><circle cx="156.2" cy="2335.2" r="7.7"/><circle cx="166.2" cy="2343.2" r="7.7"/><circle cx="137.0" cy="2351.0" r="7.7"/><circle cx="156.2" cy="2354.0" r="7.7"/><circle cx="146.8" cy="2371.5" r="7.7"/><circle cx="156.2" cy="2371.5" r="7.7"/></g>
<rect x="129.25" y="2265.75" width="44.5" height="4.8" fill="#000"/>
<rect x="188.25" y="2165.25" width="44.25" height="206.25" fill="#800080"/>
<rect x="188.25" y="2165.25" width="2.8" height="206.25" fill="#000"/>
<rect x="229.7" y="2165.25" width="2.8" height="206.25" fill="#000"/>
<g fill="#fff" stroke="#800080" stroke-width="3.2"><circle cx="210.0" cy="1971.0" r="7.7"/><circle cx="224.5" cy="2065.8" r="7.7"/><circle cx="195.5" cy="2075.2" r="7.7"/><circle cx="210.0" cy="2099.5" r="7.7"/><circle cx="210.0" cy="2157.0" r="7.7"/><circle cx="210.0" cy="2173.5" r="7.7"/><circle cx="224.5" cy="2273.2" r="7.7"/><circle cx="195.5" cy="2287.2" r="7.7"/><circle cx="224.5" cy="2292.0" r="7.7"/><circle cx="210.0" cy="2316.0" r="7.7"/></g>
<rect x="188.25" y="2165.25" width="44.25" height="4.8" fill="#000"/>
<rect x="268.75" y="2342.75" width="44.25" height="28.75" fill="#083f80"/>
<rect x="268.75" y="2342.75" width="2.8" height="28.75" fill="#000"/>
<rect x="310.2" y="2342.75" width="2.8" height="28.75" fill="#000"/>
<g fill="#fff" stroke="#083f80" stroke-width="3.2"><circle cx="275.0" cy="2370.2" r="7.7"/><circle cx="286.2" cy="2369.5" r="7.7"/><circle cx="295.0" cy="2371.5" r="7.7"/><circle cx="303.8" cy="2371.5" r="7.7"/><circle cx="280.0" cy="2354.5" r="7.7"/><circle cx="297.5" cy="2349.0" r="7.7"/><circle cx="277.5" cy="2344.0" r="7.7"/><circle cx="287.5" cy="2341.5" r="7.7"/><circle cx="306.2" cy="2343.2" r="7.7"/><circle cx="288.8" cy="2324.8" r="7.7"/><circle cx="292.5" cy="2327.8" r="7.7"/><circle cx="290.8" cy="2285.2" r="7.7"/><circle cx="287.5" cy="2276.5" r="7.7"/><circle cx="292.5" cy="2276.0" r="7.7"/><circle cx="290.8" cy="2251.5" r="7.7"/><circle cx="290.8" cy="2233.2" r="7.7"/><circle cx="290.8" cy="2108.2" r="7.7"/><circle cx="290.8" cy="2004.5" r="7.7"/><circle cx="290.8" cy="1969.8" r="7.7"/></g>
<rect x="268.75" y="2342.75" width="44.25" height="4.8" fill="#000"/>
<rect x="327.5" y="2343.25" width="44.25" height="28.25" fill="#800080"/>
<rect x="327.5" y="2343.25" width="2.8" height="28.25" fill="#000"/>
<rect x="368.95" y="2343.25" width="2.8" height="28.25" fill="#000"/>
<g fill="#fff" stroke="#800080" stroke-width="3.2"><circle cx="334.5" cy="2366.0" r="7.7"/><circle cx="349.2" cy="2369.0" r="7.7"/><circle cx="363.8" cy="2371.5" r="7.7"/><circle cx="342.5" cy="2360.8" r="7.7"/><circle cx="356.2" cy="2361.5" r="7.7"/><circle cx="349.2" cy="2325.2" r="7.7"/><circle cx="349.2" cy="2192.8" r="7.7"/><circle cx="349.2" cy="2148.5" r="7.7"/><circle cx="349.2" cy="2119.5" r="7.7"/><circle cx="349.2" cy="1941.5" r="7.7"/></g>
<rect x="327.5" y="2343.25" width="44.25" height="4.8" fill="#000"/>
<g fill="#fff" stroke="#083f80" stroke-width="3.2"><circle cx="421.5" cy="2370.6" r="7.7"/><circle cx="433.1" cy="2369.5" r="7.7"/><circle cx="427.5" cy="2367.6" r="7.7"/><circle cx="415.6" cy="2370.6" r="7.7"/><circle cx="429.8" cy="2371.0" r="7.7"/><circle cx="441.0" cy="2367.1" r="7.7"/><circle cx="444.6" cy="2366.8" r="7.7"/><circle cx="434.2" cy="2371.1" r="7.7"/><circle cx="427.9" cy="2369.7" r="7.7"/><circle cx="413.8" cy="2370.2" r="7.7"/><circle cx="421.2" cy="2369.5" r="7.7"/><circle cx="432.5" cy="2369.5" r="7.7"/><circle cx="440.0" cy="2370.2" r="7.7"/><circle cx="446.2" cy="2371.0" r="7.7"/><circle cx="417.5" cy="2357.0" r="7.7"/><circle cx="427.5" cy="2349.0" r="7.7"/><circle cx="433.8" cy="2340.2" r="7.7"/><circle cx="427.5" cy="2332.8" r="7.7"/><circle cx="433.8" cy="2330.2" r="7.7"/><circle cx="430.0" cy="2320.2" r="7.7"/><circle cx="430.0" cy="2294.5" r="7.7"/><circle cx="430.0" cy="2255.8" r="7.7"/><circle cx="430.0" cy="2193.2" r="7.7"/><circle cx="430.0" cy="2112.2" r="7.7"/><circle cx="430.0" cy="2005.2" r="7.7"/></g>
<rect x="408.25" y="2357" width="44.25" height="4.8" fill="#000"/>
<g fill="#fff" stroke="#800080" stroke-width="3.2"><circle cx="473.8" cy="2371.0" r="7.7"/><circle cx="488.5" cy="2370.2" r="7.7"/><circle cx="503.8" cy="2371.0" r="7.7"/><circle cx="495.0" cy="2364.0" r="7.7"/><circle cx="481.2" cy="2357.8" r="7.7"/><circle cx="488.5" cy="2354.0" r="7.7"/><circle cx="503.8" cy="2350.2" r="7.7"/><circle cx="488.5" cy="2325.8" r="7.7"/><circle cx="488.5" cy="2309.0" r="7.7"/><circle cx="488.5" cy="2203.2" r="7.7"/></g>
<rect x="466.25" y="2358.5" width="44.5" height="4.8" fill="#000"/>
<g fill="#fff" stroke="#083f80" stroke-width="3.2"><circle cx="557.2" cy="2369.6" r="7.7"/><circle cx="566.7" cy="2368.7" r="7.7"/><circle cx="583.7" cy="2365.0" r="7.7"/><circle cx="566.7" cy="2362.8" r="7.7"/><circle cx="567.8" cy="2370.9" r="7.7"/><circle cx="561.6" cy="2367.0" r="7.7"/><circle cx="565.1" cy="2369.1" r="7.7"/><circle cx="583.4" cy="2368.4" r="7.7"/><circle cx="582.5" cy="2368.2" r="7.7"/><circle cx="563.1" cy="2368.1" r="7.7"/><circle cx="555.3" cy="2370.5" r="7.7"/><circle cx="579.6" cy="2364.6" r="7.7"/><circle cx="555.0" cy="2371.5" r="7.7"/><circle cx="562.5" cy="2371.5" r="7.7"/><circle cx="573.8" cy="2369.5" r="7.7"/><circle cx="581.2" cy="2371.5" r="7.7"/><circle cx="552.5" cy="2364.0" r="7.7"/><circle cx="569.2" cy="2365.2" r="7.7"/><circle cx="583.8" cy="2365.2" r="7.7"/><circle cx="556.2" cy="2359.0" r="7.7"/><circle cx="581.2" cy="2357.0" r="7.7"/><circle cx="569.2" cy="2351.5" r="7.7"/><circle cx="569.2" cy="2337.0" r="7.7"/><circle cx="569.2" cy="2244.8" r="7.7"/><circle cx="569.2" cy="2213.2" r="7.7"/></g>
<g fill="#fff" stroke="#800080" stroke-width="3.2"><circle cx="623.0" cy="2369.9" r="7.7"/><circle cx="611.2" cy="2370.2" r="7.7"/><circle cx="621.2" cy="2370.2" r="7.7"/><circle cx="632.5" cy="2371.0" r="7.7"/><circle cx="643.8" cy="2370.2" r="7.7"/><circle cx="616.2" cy="2360.2" r="7.7"/><circle cx="637.5" cy="2364.0" r="7.7"/><circle cx="627.5" cy="2355.2" r="7.7"/><circle cx="627.5" cy="2334.0" r="7.7"/><circle cx="627.5" cy="2317.2" r="7.7"/></g>
<rect x="604.25" y="2363.6" width="46.25" height="4.8" fill="#000"/>
<g fill="#fff" stroke="#083f80" stroke-width="3.2"><circle cx="715.1" cy="2364.8" r="7.7"/><circle cx="714.1" cy="2371.3" r="7.7"/><circle cx="715.4" cy="2367.7" r="7.7"/><circle cx="701.6" cy="2364.7" r="7.7"/><circle cx="715.0" cy="2370.9" r="7.7"/><circle cx="702.1" cy="2366.0" r="7.7"/><circle cx="711.4" cy="2369.6" r="7.7"/><circle cx="692.9" cy="2368.6" r="7.7"/><circle cx="692.5" cy="2370.2" r="7.7"/><circle cx="702.5" cy="2371.5" r="7.7"/><circle cx="712.5" cy="2371.5" r="7.7"/><circle cx="722.5" cy="2369.0" r="7.7"/><circle cx="725.0" cy="2369.5" r="7.7"/><circle cx="696.2" cy="2358.5" r="7.7"/><circle cx="705.0" cy="2364.0" r="7.7"/><circle cx="708.8" cy="2344.0" r="7.7"/><circle cx="710.0" cy="2337.8" r="7.7"/><circle cx="707.5" cy="2325.2" r="7.7"/><circle cx="710.0" cy="2310.8" r="7.7"/><circle cx="707.5" cy="2307.0" r="7.7"/><circle cx="710.0" cy="2297.0" r="7.7"/><circle cx="708.8" cy="2286.5" r="7.7"/><circle cx="708.8" cy="2277.2" r="7.7"/><circle cx="708.8" cy="2252.8" r="7.7"/><circle cx="708.8" cy="2174.8" r="7.7"/></g>
<rect x="686.75" y="2362.4" width="43.25" height="4.8" fill="#000"/>
<g fill="#fff" stroke="#800080" stroke-width="3.2"><circle cx="772.6" cy="2370.6" r="7.7"/><circle cx="752.5" cy="2371.0" r="7.7"/><circle cx="766.2" cy="2371.0" r="7.7"/><circle cx="782.5" cy="2371.0" r="7.7"/><circle cx="777.5" cy="2367.8" r="7.7"/><circle cx="757.5" cy="2358.5" r="7.7"/><circle cx="767.0" cy="2361.0" r="7.7"/><circle cx="767.0" cy="2311.0" r="7.7"/><circle cx="767.0" cy="2289.0" r="7.7"/><circle cx="767.0" cy="2276.5" r="7.7"/></g>
<rect x="745" y="2363.6" width="45" height="4.8" fill="#000"/>
<text x="134.25" y="1942.75" font-size="23" textLength="100" lengthAdjust="spacingAndGlyphs" ><tspan font-style="italic">P</tspan> = 0.064</text>
<path d="M148 1968.25V1954H211.5" fill="none" stroke="#000" stroke-width="3.4"/>
<text x="253.5" y="1934" font-size="23" textLength="99" lengthAdjust="spacingAndGlyphs" ><tspan font-style="italic">P</tspan> = 0.698</text>
<path d="M290.5 1957.75V1942H331.5" fill="none" stroke="#000" stroke-width="3.4"/>
<text x="418" y="1960.25" font-size="23" textLength="100" lengthAdjust="spacingAndGlyphs" ><tspan font-style="italic">P</tspan> = 0.808</text>
<path d="M431.7 1986.5V1972.7H495V1986.5" fill="none" stroke="#000" stroke-width="3.4" stroke-linecap="butt" stroke-linejoin="miter"/>
<text x="556.25" y="2072.25" font-size="23" textLength="93.75" lengthAdjust="spacingAndGlyphs" ><tspan font-style="italic">P</tspan> = 0.169</text>
<path d="M570.5 2098.5V2084H633.8V2098.5" fill="none" stroke="#000" stroke-width="3.4" stroke-linecap="butt" stroke-linejoin="miter"/>
<text x="688.25" y="2065.25" font-size="23" textLength="98.75" lengthAdjust="spacingAndGlyphs" ><tspan font-style="italic">P</tspan> = 0.849</text>
<path d="M703 2092V2077.7H766.5V2092" fill="none" stroke="#000" stroke-width="3.4" stroke-linecap="butt" stroke-linejoin="miter"/>
<text x="150" y="2417.7" font-size="25.8" textLength="62" lengthAdjust="spacingAndGlyphs" >PD-1<tspan dy="-12.13" font-size="17.03">+</tspan></text>
<text x="282" y="2417.7" font-size="25.8" textLength="73" lengthAdjust="spacingAndGlyphs" >TIGIT<tspan dy="-12.13" font-size="17.03">+</tspan></text>
<text x="417.5" y="2417.7" font-size="25.8" textLength="77.5" lengthAdjust="spacingAndGlyphs" >LAG3<tspan dy="-12.13" font-size="17.03">+</tspan></text>
<text x="558" y="2417.7" font-size="25.8" textLength="70.75" lengthAdjust="spacingAndGlyphs" >TIM3<tspan dy="-12.13" font-size="17.03">+</tspan></text>
<text x="684.5" y="2417.7" font-size="25.8" textLength="92.5" lengthAdjust="spacingAndGlyphs" >CTLA4<tspan dy="-12.13" font-size="17.03">+</tspan></text>
<rect x="534.8" y="1914.4" width="26.3" height="20.8" fill="#083f80" stroke="#000" stroke-width="3.4"/>
<text x="575" y="1933.6" font-size="23.3" textLength="156" lengthAdjust="spacingAndGlyphs" >IDC TIL (<tspan font-style="italic">n</tspan> = 25)</text>
<rect x="534.8" y="1952.3" width="26.3" height="20.8" fill="#800080" stroke="#000" stroke-width="3.4"/>
<text x="575" y="1971.6" font-size="23.3" textLength="150.5" lengthAdjust="spacingAndGlyphs" >ILC TIL (<tspan font-style="italic">n</tspan> = 10)</text>
</g>
<g id="panel_g">
<text x="896" y="1920" font-size="39" textLength="24" lengthAdjust="spacingAndGlyphs" font-weight="bold" stroke="#000" stroke-width="1">g</text>
<line x1="1009.25" y1="1935.88" x2="1009.25" y2="2372.12" stroke="#555" stroke-width="1.25" stroke-linecap="butt"/>
<line x1="998.75" y1="2371.5" x2="1009.25" y2="2371.5" stroke="#555" stroke-width="1.25" stroke-linecap="butt"/>
<line x1="998.75" y1="2284.5" x2="1009.25" y2="2284.5" stroke="#555" stroke-width="1.25" stroke-linecap="butt"/>
<line x1="998.75" y1="2197.5" x2="1009.25" y2="2197.5" stroke="#555" stroke-width="1.25" stroke-linecap="butt"/>
<line x1="998.75" y1="2110.5" x2="1009.25" y2="2110.5" stroke="#555" stroke-width="1.25" stroke-linecap="butt"/>
<line x1="998.75" y1="2023.5" x2="1009.25" y2="2023.5" stroke="#555" stroke-width="1.25" stroke-linecap="butt"/>
<line x1="998.75" y1="1936.5" x2="1009.25" y2="1936.5" stroke="#555" stroke-width="1.25" stroke-linecap="butt"/>
<line x1="1003" y1="2328" x2="1009.25" y2="2328" stroke="#555" stroke-width="1.25" stroke-linecap="butt"/>
<line x1="1003" y1="2241" x2="1009.25" y2="2241" stroke="#555" stroke-width="1.25" stroke-linecap="butt"/>
<line x1="1003" y1="2154" x2="1009.25" y2="2154" stroke="#555" stroke-width="1.25" stroke-linecap="butt"/>
<line x1="1003" y1="2067" x2="1009.25" y2="2067" stroke="#555" stroke-width="1.25" stroke-linecap="butt"/>
<line x1="1003" y1="1980" x2="1009.25" y2="1980" stroke="#555" stroke-width="1.25" stroke-linecap="butt"/>
<text x="986.25" y="2379.8" font-size="22.5" text-anchor="end" textLength="12.5" lengthAdjust="spacingAndGlyphs" >0</text>
<text x="986.25" y="2292.8" font-size="22.5" text-anchor="end" textLength="27" lengthAdjust="spacingAndGlyphs" >20</text>
<text x="986.25" y="2205.8" font-size="22.5" text-anchor="end" textLength="27" lengthAdjust="spacingAndGlyphs" >40</text>
<text x="986.25" y="2118.8" font-size="22.5" text-anchor="end" textLength="27" lengthAdjust="spacingAndGlyphs" >60</text>
<text x="986.25" y="2031.8" font-size="22.5" text-anchor="end" textLength="27" lengthAdjust="spacingAndGlyphs" >80</text>
<text x="986.25" y="1944.8" font-size="22.5" text-anchor="end" textLength="38.5" lengthAdjust="spacingAndGlyphs" >100</text>
<line x1="998" y1="2371.5" x2="1686.25" y2="2371.5" stroke="#333" stroke-width="1.4" stroke-linecap="butt"/>
<text x="0" y="0" transform="translate(920 2320.75) rotate(-90)" font-size="27" textLength="335.5" lengthAdjust="spacingAndGlyphs" >Percentage of CD8<tspan dy="-12.69" font-size="17.82">+</tspan><tspan dy="12.69"> T cells</tspan></text>
<line x1="1069.25" y1="2371.5" x2="1069.25" y2="2381.5" stroke="#3c3c3c" stroke-width="1.5" stroke-linecap="butt"/>
<line x1="1208.25" y1="2371.5" x2="1208.25" y2="2381.5" stroke="#3c3c3c" stroke-width="1.5" stroke-linecap="butt"/>
<line x1="1347" y1="2371.5" x2="1347" y2="2381.5" stroke="#3c3c3c" stroke-width="1.5" stroke-linecap="butt"/>
<line x1="1486.25" y1="2371.5" x2="1486.25" y2="2381.5" stroke="#3c3c3c" stroke-width="1.5" stroke-linecap="butt"/>
<line x1="1625.5" y1="2371.5" x2="1625.5" y2="2381.5" stroke="#3c3c3c" stroke-width="1.5" stroke-linecap="butt"/>
<line x1="1138.75" y1="1942.5" x2="1138.75" y2="2418.5" stroke="#000" stroke-width="3.8" stroke-dasharray="3.1 3.15"/>
<line x1="1276.75" y1="1942.5" x2="1276.75" y2="2418.5" stroke="#000" stroke-width="3.8" stroke-dasharray="3.1 3.15"/>
<line x1="1418" y1="2077.75" x2="1418" y2="2411.5" stroke="#000" stroke-width="3.8" stroke-dasharray="3.1 3.15"/>
<line x1="1553" y1="2077.75" x2="1553" y2="2411.5" stroke="#000" stroke-width="3.8" stroke-dasharray="3.1 3.15"/>
<rect x="1018.25" y="2238.5" width="44.25" height="133" fill="#083f80"/>
<rect x="1018.25" y="2238.5" width="2.8" height="133" fill="#000"/>
<rect x="1059.7" y="2238.5" width="2.8" height="133" fill="#000"/>
<g fill="#fff" stroke="#083f80" stroke-width="3.2"><circle cx="1040.2" cy="2040.2" r="7.7"/><circle cx="1040.2" cy="2064.0" r="7.7"/><circle cx="1035.5" cy="2093.5" r="7.7"/><circle cx="1045.0" cy="2094.0" r="7.7"/><circle cx="1045.0" cy="2135.2" r="7.7"/><circle cx="1035.5" cy="2140.2" r="7.7"/><circle cx="1055.0" cy="2160.2" r="7.7"/><circle cx="1025.8" cy="2170.8" r="7.7"/><circle cx="1045.0" cy="2179.5" r="7.7"/><circle cx="1055.0" cy="2179.0" r="7.7"/><circle cx="1035.5" cy="2231.5" r="7.7"/><circle cx="1055.0" cy="2227.8" r="7.7"/><circle cx="1045.0" cy="2237.8" r="7.7"/><circle cx="1035.5" cy="2264.5" r="7.7"/><circle cx="1045.0" cy="2264.5" r="7.7"/><circle cx="1045.0" cy="2291.5" r="7.7"/><circle cx="1025.8" cy="2302.2" r="7.7"/><circle cx="1055.0" cy="2300.2" r="7.7"/><circle cx="1035.5" cy="2299.0" r="7.7"/><circle cx="1045.0" cy="2329.8" r="7.7"/><circle cx="1035.5" cy="2343.5" r="7.7"/><circle cx="1035.5" cy="2359.5" r="7.7"/><circle cx="1055.0" cy="2362.8" r="7.7"/><circle cx="1025.8" cy="2371.5" r="7.7"/><circle cx="1045.0" cy="2371.5" r="7.7"/></g>
<rect x="1018.25" y="2238.5" width="44.25" height="4.8" fill="#000"/>
<rect x="1076.75" y="2149.5" width="44.5" height="222" fill="#800080"/>
<rect x="1076.75" y="2149.5" width="2.8" height="222" fill="#000"/>
<rect x="1118.45" y="2149.5" width="2.8" height="222" fill="#000"/>
<g fill="#fff" stroke="#800080" stroke-width="3.2"><circle cx="1113.2" cy="1967.2" r="7.7"/><circle cx="1083.8" cy="1982.0" r="7.7"/><circle cx="1098.8" cy="2056.5" r="7.7"/><circle cx="1098.8" cy="2085.8" r="7.7"/><circle cx="1098.8" cy="2122.8" r="7.7"/><circle cx="1098.8" cy="2176.0" r="7.7"/><circle cx="1098.8" cy="2253.2" r="7.7"/><circle cx="1098.8" cy="2285.2" r="7.7"/><circle cx="1083.8" cy="2312.2" r="7.7"/><circle cx="1113.8" cy="2312.2" r="7.7"/></g>
<rect x="1076.75" y="2149.5" width="44.5" height="4.8" fill="#000"/>
<g fill="#fff" stroke="#083f80" stroke-width="3.2"><circle cx="1178.3" cy="2369.2" r="7.7"/><circle cx="1187.9" cy="2366.2" r="7.7"/><circle cx="1175.0" cy="2367.5" r="7.7"/><circle cx="1188.8" cy="2366.4" r="7.7"/><circle cx="1175.1" cy="2367.0" r="7.7"/><circle cx="1184.8" cy="2364.8" r="7.7"/><circle cx="1193.1" cy="2366.8" r="7.7"/><circle cx="1165.0" cy="2371.0" r="7.7"/><circle cx="1176.2" cy="2371.5" r="7.7"/><circle cx="1182.5" cy="2371.5" r="7.7"/><circle cx="1190.0" cy="2371.5" r="7.7"/><circle cx="1193.8" cy="2371.0" r="7.7"/><circle cx="1166.2" cy="2359.0" r="7.7"/><circle cx="1186.2" cy="2365.2" r="7.7"/><circle cx="1176.2" cy="2351.5" r="7.7"/><circle cx="1182.5" cy="2341.5" r="7.7"/><circle cx="1178.0" cy="2333.2" r="7.7"/><circle cx="1180.0" cy="2329.0" r="7.7"/><circle cx="1181.2" cy="2322.8" r="7.7"/><circle cx="1178.0" cy="2312.2" r="7.7"/><circle cx="1179.2" cy="2283.2" r="7.7"/><circle cx="1179.2" cy="2237.8" r="7.7"/><circle cx="1179.2" cy="2223.2" r="7.7"/><circle cx="1179.2" cy="2081.5" r="7.7"/><circle cx="1179.2" cy="2035.8" r="7.7"/></g>
<rect x="1157.5" y="2359.1" width="44.5" height="4.8" fill="#000"/>
<rect x="1216.25" y="2341.5" width="43.75" height="30" fill="#800080"/>
<rect x="1216.25" y="2341.5" width="2.8" height="30" fill="#000"/>
<rect x="1257.2" y="2341.5" width="2.8" height="30" fill="#000"/>
<g fill="#fff" stroke="#800080" stroke-width="3.2"><circle cx="1237.5" cy="2016.5" r="7.7"/><circle cx="1223.0" cy="2124.0" r="7.7"/><circle cx="1237.5" cy="2138.5" r="7.7"/><circle cx="1237.5" cy="2269.8" r="7.7"/><circle cx="1223.0" cy="2340.2" r="7.7"/><circle cx="1252.5" cy="2340.2" r="7.7"/><circle cx="1237.5" cy="2353.2" r="7.7"/><circle cx="1223.0" cy="2371.5" r="7.7"/><circle cx="1237.5" cy="2371.5" r="7.7"/><circle cx="1252.5" cy="2371.5" r="7.7"/></g>
<rect x="1216.25" y="2341.5" width="43.75" height="4.8" fill="#000"/>
<g fill="#fff" stroke="#083f80" stroke-width="3.2"><circle cx="1319.0" cy="2370.2" r="7.7"/><circle cx="1308.5" cy="2366.6" r="7.7"/><circle cx="1317.5" cy="2363.4" r="7.7"/><circle cx="1323.6" cy="2370.3" r="7.7"/><circle cx="1308.7" cy="2365.1" r="7.7"/><circle cx="1326.2" cy="2366.3" r="7.7"/><circle cx="1315.8" cy="2368.6" r="7.7"/><circle cx="1321.7" cy="2370.6" r="7.7"/><circle cx="1324.5" cy="2365.9" r="7.7"/><circle cx="1304.5" cy="2369.2" r="7.7"/><circle cx="1303.8" cy="2371.0" r="7.7"/><circle cx="1318.8" cy="2371.0" r="7.7"/><circle cx="1326.2" cy="2371.5" r="7.7"/><circle cx="1332.5" cy="2371.0" r="7.7"/><circle cx="1306.2" cy="2361.5" r="7.7"/><circle cx="1310.0" cy="2364.0" r="7.7"/><circle cx="1321.2" cy="2355.2" r="7.7"/><circle cx="1318.2" cy="2354.0" r="7.7"/><circle cx="1318.2" cy="2333.2" r="7.7"/><circle cx="1315.0" cy="2312.2" r="7.7"/><circle cx="1321.2" cy="2312.2" r="7.7"/><circle cx="1318.2" cy="2305.2" r="7.7"/><circle cx="1318.2" cy="2283.2" r="7.7"/><circle cx="1318.2" cy="2246.5" r="7.7"/><circle cx="1318.2" cy="2225.2" r="7.7"/></g>
<rect x="1295.75" y="2362.9" width="45.5" height="4.8" fill="#000"/>
<g fill="#fff" stroke="#800080" stroke-width="3.2"><circle cx="1380.8" cy="2367.9" r="7.7"/><circle cx="1361.2" cy="2371.0" r="7.7"/><circle cx="1372.5" cy="2371.5" r="7.7"/><circle cx="1391.2" cy="2371.0" r="7.7"/><circle cx="1366.8" cy="2361.5" r="7.7"/><circle cx="1376.5" cy="2364.0" r="7.7"/><circle cx="1386.8" cy="2364.5" r="7.7"/><circle cx="1376.5" cy="2303.2" r="7.7"/><circle cx="1376.5" cy="2248.5" r="7.7"/><circle cx="1376.5" cy="2198.2" r="7.7"/></g>
<rect x="1354.5" y="2364.1" width="45" height="4.8" fill="#000"/>
<g fill="#fff" stroke="#083f80" stroke-width="3.2"><circle cx="1449.0" cy="2369.3" r="7.7"/><circle cx="1443.7" cy="2366.3" r="7.7"/><circle cx="1456.4" cy="2371.3" r="7.7"/><circle cx="1446.4" cy="2370.2" r="7.7"/><circle cx="1451.9" cy="2370.4" r="7.7"/><circle cx="1443.6" cy="2369.1" r="7.7"/><circle cx="1456.2" cy="2367.5" r="7.7"/><circle cx="1459.9" cy="2367.7" r="7.7"/><circle cx="1449.5" cy="2371.4" r="7.7"/><circle cx="1454.5" cy="2371.4" r="7.7"/><circle cx="1450.7" cy="2369.8" r="7.7"/><circle cx="1467.0" cy="2370.4" r="7.7"/><circle cx="1453.5" cy="2366.1" r="7.7"/><circle cx="1445.3" cy="2370.3" r="7.7"/><circle cx="1458.6" cy="2368.7" r="7.7"/><circle cx="1470.8" cy="2367.0" r="7.7"/><circle cx="1466.6" cy="2365.1" r="7.7"/><circle cx="1442.5" cy="2371.0" r="7.7"/><circle cx="1452.0" cy="2371.0" r="7.7"/><circle cx="1460.0" cy="2371.5" r="7.7"/><circle cx="1472.0" cy="2371.0" r="7.7"/><circle cx="1445.0" cy="2361.5" r="7.7"/><circle cx="1466.2" cy="2359.0" r="7.7"/><circle cx="1457.5" cy="2346.5" r="7.7"/><circle cx="1457.5" cy="2294.5" r="7.7"/></g>
<g fill="#fff" stroke="#800080" stroke-width="3.2"><circle cx="1520.5" cy="2367.9" r="7.7"/><circle cx="1501.2" cy="2371.0" r="7.7"/><circle cx="1510.0" cy="2371.0" r="7.7"/><circle cx="1517.5" cy="2371.0" r="7.7"/><circle cx="1527.5" cy="2370.2" r="7.7"/><circle cx="1531.2" cy="2371.5" r="7.7"/><circle cx="1505.0" cy="2362.2" r="7.7"/><circle cx="1517.5" cy="2365.2" r="7.7"/><circle cx="1515.5" cy="2354.0" r="7.7"/><circle cx="1515.5" cy="2332.2" r="7.7"/></g>
<g fill="#fff" stroke="#083f80" stroke-width="3.2"><circle cx="1592.3" cy="2368.1" r="7.7"/><circle cx="1598.2" cy="2367.3" r="7.7"/><circle cx="1610.0" cy="2366.1" r="7.7"/><circle cx="1591.8" cy="2370.4" r="7.7"/><circle cx="1608.1" cy="2369.6" r="7.7"/><circle cx="1598.2" cy="2371.5" r="7.7"/><circle cx="1599.7" cy="2367.9" r="7.7"/><circle cx="1608.0" cy="2367.1" r="7.7"/><circle cx="1592.5" cy="2368.9" r="7.7"/><circle cx="1590.0" cy="2370.3" r="7.7"/><circle cx="1610.4" cy="2364.1" r="7.7"/><circle cx="1608.7" cy="2364.5" r="7.7"/><circle cx="1599.1" cy="2370.8" r="7.7"/><circle cx="1596.1" cy="2360.3" r="7.7"/><circle cx="1593.7" cy="2366.6" r="7.7"/><circle cx="1596.0" cy="2361.0" r="7.7"/><circle cx="1589.8" cy="2369.5" r="7.7"/><circle cx="1581.2" cy="2371.0" r="7.7"/><circle cx="1587.5" cy="2371.5" r="7.7"/><circle cx="1596.2" cy="2371.5" r="7.7"/><circle cx="1603.8" cy="2371.5" r="7.7"/><circle cx="1611.2" cy="2371.0" r="7.7"/><circle cx="1582.5" cy="2365.2" r="7.7"/><circle cx="1605.0" cy="2364.0" r="7.7"/><circle cx="1596.2" cy="2239.8" r="7.7"/></g>
<g fill="#fff" stroke="#800080" stroke-width="3.2"><circle cx="1658.7" cy="2371.2" r="7.7"/><circle cx="1653.3" cy="2369.6" r="7.7"/><circle cx="1640.0" cy="2371.0" r="7.7"/><circle cx="1647.5" cy="2371.0" r="7.7"/><circle cx="1653.8" cy="2371.5" r="7.7"/><circle cx="1660.0" cy="2371.5" r="7.7"/><circle cx="1665.0" cy="2371.5" r="7.7"/><circle cx="1670.0" cy="2371.5" r="7.7"/><circle cx="1643.8" cy="2365.2" r="7.7"/><circle cx="1655.0" cy="2369.0" r="7.7"/></g>
<text x="1029" y="1939" font-size="23" textLength="84.5" lengthAdjust="spacingAndGlyphs" ><tspan font-style="italic">P</tspan> = 0.111</text>
<path d="M1040.75 1965.75V1951H1104.5" fill="none" stroke="#000" stroke-width="3.4"/>
<text x="1160" y="1938" font-size="23" textLength="99" lengthAdjust="spacingAndGlyphs" ><tspan font-style="italic">P</tspan> = 0.495</text>
<path d="M1175 1965.25V1951H1238.3V1965.25" fill="none" stroke="#000" stroke-width="3.4" stroke-linecap="butt" stroke-linejoin="miter"/>
<text x="1301.25" y="2092" font-size="23" textLength="96.25" lengthAdjust="spacingAndGlyphs" ><tspan font-style="italic">P</tspan> = 0.738</text>
<path d="M1316.2 2120.25V2105.7H1379.5V2120.25" fill="none" stroke="#000" stroke-width="3.4" stroke-linecap="butt" stroke-linejoin="miter"/>
<text x="1435.75" y="2092" font-size="23" textLength="96" lengthAdjust="spacingAndGlyphs" ><tspan font-style="italic">P</tspan> = 0.475</text>
<path d="M1451.2 2119.5V2104.7H1514.3V2119.5" fill="none" stroke="#000" stroke-width="3.4" stroke-linecap="butt" stroke-linejoin="miter"/>
<text x="1573" y="2093.5" font-size="23" textLength="94" lengthAdjust="spacingAndGlyphs" ><tspan font-style="italic">P</tspan> = 0.914</text>
<path d="M1588.7 2122V2107.7H1652V2122" fill="none" stroke="#000" stroke-width="3.4" stroke-linecap="butt" stroke-linejoin="miter"/>
<text x="1039.25" y="2417.7" font-size="25.8" textLength="62" lengthAdjust="spacingAndGlyphs" >PD-1<tspan dy="-12.13" font-size="17.03">+</tspan></text>
<text x="1172" y="2417.7" font-size="25.8" textLength="73.5" lengthAdjust="spacingAndGlyphs" >TIGIT<tspan dy="-12.13" font-size="17.03">+</tspan></text>
<text x="1309.25" y="2417.7" font-size="25.8" textLength="77.5" lengthAdjust="spacingAndGlyphs" >LAG3<tspan dy="-12.13" font-size="17.03">+</tspan></text>
<text x="1452" y="2417.7" font-size="25.8" textLength="69.75" lengthAdjust="spacingAndGlyphs" >TIM3<tspan dy="-12.13" font-size="17.03">+</tspan></text>
<text x="1580" y="2417.7" font-size="25.8" textLength="92" lengthAdjust="spacingAndGlyphs" >CTLA4<tspan dy="-12.13" font-size="17.03">+</tspan></text>
<rect x="1421" y="1921.5" width="26" height="21" fill="#083f80" stroke="#000" stroke-width="3"/>
<text x="1460.75" y="1940" font-size="23.3" textLength="158" lengthAdjust="spacingAndGlyphs" >IDC TIL (<tspan font-style="italic">n</tspan> = 25)</text>
<rect x="1421" y="1959.8" width="26" height="21" fill="#800080" stroke="#000" stroke-width="3"/>
<text x="1460.75" y="1978.3" font-size="23.3" textLength="153" lengthAdjust="spacingAndGlyphs" >ILC TIL (<tspan font-style="italic">n</tspan> = 10)</text>
</g>
<g id="panel_h">
<text x="1776.7" y="1923" font-size="39" textLength="22" lengthAdjust="spacingAndGlyphs" font-weight="bold" stroke="#000" stroke-width="1">h</text>
<line x1="1886.9" y1="1969.4" x2="1886.9" y2="2372.6" stroke="#222" stroke-width="1.25" stroke-linecap="butt"/>
<line x1="1875.7" y1="2372" x2="1886.9" y2="2372" stroke="#222" stroke-width="1.25" stroke-linecap="butt"/>
<text x="1822.3" y="2380.3" font-size="22.5" textLength="23.5" lengthAdjust="spacingAndGlyphs" >10</text>
<text x="1847.3" y="2368.8" font-size="14.5" textLength="16" lengthAdjust="spacingAndGlyphs" >−3</text>
<line x1="1880.4" y1="2344.66" x2="1886.9" y2="2344.66" stroke="#222" stroke-width="1.25" stroke-linecap="butt"/>
<line x1="1880.4" y1="2318.94" x2="1886.9" y2="2318.94" stroke="#222" stroke-width="1.25" stroke-linecap="butt"/>
<line x1="1875.7" y1="2291.6" x2="1886.9" y2="2291.6" stroke="#222" stroke-width="1.25" stroke-linecap="butt"/>
<text x="1822.3" y="2299.9" font-size="22.5" textLength="23.5" lengthAdjust="spacingAndGlyphs" >10</text>
<text x="1847.3" y="2288.4" font-size="14.5" textLength="16" lengthAdjust="spacingAndGlyphs" >−2</text>
<line x1="1880.4" y1="2264.26" x2="1886.9" y2="2264.26" stroke="#222" stroke-width="1.25" stroke-linecap="butt"/>
<line x1="1880.4" y1="2238.54" x2="1886.9" y2="2238.54" stroke="#222" stroke-width="1.25" stroke-linecap="butt"/>
<line x1="1875.7" y1="2211.2" x2="1886.9" y2="2211.2" stroke="#222" stroke-width="1.25" stroke-linecap="butt"/>
<text x="1822.3" y="2219.5" font-size="22.5" textLength="23.5" lengthAdjust="spacingAndGlyphs" >10</text>
<text x="1847.3" y="2208" font-size="14.5" textLength="16" lengthAdjust="spacingAndGlyphs" >−1</text>
<line x1="1880.4" y1="2183.86" x2="1886.9" y2="2183.86" stroke="#222" stroke-width="1.25" stroke-linecap="butt"/>
<line x1="1880.4" y1="2158.14" x2="1886.9" y2="2158.14" stroke="#222" stroke-width="1.25" stroke-linecap="butt"/>
<line x1="1875.7" y1="2130.8" x2="1886.9" y2="2130.8" stroke="#222" stroke-width="1.25" stroke-linecap="butt"/>
<text x="1829.8" y="2139.1" font-size="22.5" textLength="23.5" lengthAdjust="spacingAndGlyphs" >10</text>
<text x="1854.8" y="2127.6" font-size="14.5" textLength="8.5" lengthAdjust="spacingAndGlyphs" >0</text>
<line x1="1880.4" y1="2103.46" x2="1886.9" y2="2103.46" stroke="#222" stroke-width="1.25" stroke-linecap="butt"/>
<line x1="1880.4" y1="2077.74" x2="1886.9" y2="2077.74" stroke="#222" stroke-width="1.25" stroke-linecap="butt"/>
<line x1="1875.7" y1="2050.4" x2="1886.9" y2="2050.4" stroke="#222" stroke-width="1.25" stroke-linecap="butt"/>
<text x="1829.8" y="2058.7" font-size="22.5" textLength="23.5" lengthAdjust="spacingAndGlyphs" >10</text>
<text x="1854.8" y="2047.2" font-size="14.5" textLength="8.5" lengthAdjust="spacingAndGlyphs" >1</text>
<line x1="1880.4" y1="2023.06" x2="1886.9" y2="2023.06" stroke="#222" stroke-width="1.25" stroke-linecap="butt"/>
<line x1="1880.4" y1="1997.34" x2="1886.9" y2="1997.34" stroke="#222" stroke-width="1.25" stroke-linecap="butt"/>
<line x1="1875.7" y1="1970" x2="1886.9" y2="1970" stroke="#222" stroke-width="1.25" stroke-linecap="butt"/>
<text x="1829.8" y="1978.3" font-size="22.5" textLength="23.5" lengthAdjust="spacingAndGlyphs" >10</text>
<text x="1854.8" y="1966.8" font-size="14.5" textLength="8.5" lengthAdjust="spacingAndGlyphs" >2</text>
<line x1="1875" y1="2372" x2="2083" y2="2372" stroke="#222" stroke-width="1.3" stroke-linecap="butt"/>
<text x="0" y="0" transform="translate(1798.4 2287) rotate(-90)" font-size="27" textLength="231.5" lengthAdjust="spacingAndGlyphs" >Tumor M2:M1 ratio</text>
<rect x="1903.6" y="2130.8" width="80.9" height="64.5" fill="#083f80"/>
<rect x="1903.6" y="2130.8" width="2.8" height="64.5" fill="#000"/>
<rect x="1981.7" y="2130.8" width="2.8" height="64.5" fill="#000"/>
<g fill="#fff" stroke="#083f80" stroke-width="3.6"><circle cx="1932.9" cy="2075.6" r="8.45"/><circle cx="1954.4" cy="2077.0" r="8.45"/><circle cx="1932.9" cy="2094.0" r="8.45"/><circle cx="1954.4" cy="2100.1" r="8.45"/><circle cx="1911.1" cy="2159.3" r="8.45"/><circle cx="1932.9" cy="2155.1" r="8.45"/><circle cx="1954.4" cy="2157.3" r="8.45"/><circle cx="1976.1" cy="2168.5" r="8.45"/><circle cx="1932.9" cy="2176.0" r="8.45"/><circle cx="1954.4" cy="2174.6" r="8.45"/><circle cx="1911.1" cy="2195.0" r="8.45"/><circle cx="1932.9" cy="2193.6" r="8.45"/><circle cx="1954.4" cy="2200.5" r="8.45"/><circle cx="1911.1" cy="2215.3" r="8.45"/><circle cx="1954.4" cy="2217.3" r="8.45"/><circle cx="1976.1" cy="2214.5" r="8.45"/><circle cx="1944.0" cy="2281.4" r="8.45"/><circle cx="1944.0" cy="2338.6" r="8.45"/></g>
<rect x="1903.6" y="2190.7" width="80.9" height="4.6" fill="#000"/>
<rect x="2001.8" y="2113.2" width="80.9" height="17.6" fill="#800080"/>
<rect x="2001.8" y="2113.2" width="2.8" height="17.6" fill="#000"/>
<rect x="2079.9" y="2113.2" width="2.8" height="17.6" fill="#000"/>
<g fill="#fff" stroke="#800080" stroke-width="3.6"><circle cx="2041.7" cy="2022.6" r="8.45"/><circle cx="2033.3" cy="2042.4" r="8.45"/><circle cx="2050.0" cy="2049.1" r="8.45"/><circle cx="2041.7" cy="2075.0" r="8.45"/><circle cx="2009.6" cy="2086.7" r="8.45"/><circle cx="2074.6" cy="2088.1" r="8.45"/><circle cx="2041.7" cy="2091.8" r="8.45"/><circle cx="2025.8" cy="2098.2" r="8.45"/><circle cx="2057.9" cy="2097.3" r="8.45"/><circle cx="2009.6" cy="2108.5" r="8.45"/><circle cx="2074.6" cy="2109.1" r="8.45"/><circle cx="2041.7" cy="2111.3" r="8.45"/><circle cx="2041.7" cy="2147.0" r="8.45"/><circle cx="2025.8" cy="2164.3" r="8.45"/><circle cx="2041.7" cy="2169.0" r="8.45"/><circle cx="2057.9" cy="2181.0" r="8.45"/><circle cx="2025.8" cy="2193.6" r="8.45"/><circle cx="2041.7" cy="2198.6" r="8.45"/><circle cx="2041.7" cy="2227.6" r="8.45"/><circle cx="2041.7" cy="2269.7" r="8.45"/><circle cx="2041.7" cy="2296.8" r="8.45"/></g>
<rect x="2001.8" y="2113.2" width="80.9" height="4.6" fill="#000"/>
<rect x="1886.9" y="2129.1" width="196.1" height="3.4" fill="#000"/>
<text x="1939.9" y="1968.2" font-size="23" textLength="101.8" lengthAdjust="spacingAndGlyphs" ><tspan font-style="italic">P</tspan> = 0.030</text>
<path d="M1943.4 1996V1978.2H2042.3V1996" fill="none" stroke="#000" stroke-width="3.4" stroke-linecap="butt" stroke-linejoin="miter"/>
<text x="1922.3" y="2402.4" font-size="26.5" textLength="43.2" lengthAdjust="spacingAndGlyphs" >IDC</text>
<text x="2023.5" y="2402.4" font-size="26.5" textLength="38.3" lengthAdjust="spacingAndGlyphs" >ILC</text>
<text x="1898.9" y="2433.7" font-size="26.5" textLength="89.8" lengthAdjust="spacingAndGlyphs" >(<tspan font-style="italic">n</tspan> = 23)</text>
<text x="1997" y="2433.7" font-size="26.5" textLength="90" lengthAdjust="spacingAndGlyphs" >(<tspan font-style="italic">n</tspan> = 23)</text>
</g>
</svg>
</body></html>
